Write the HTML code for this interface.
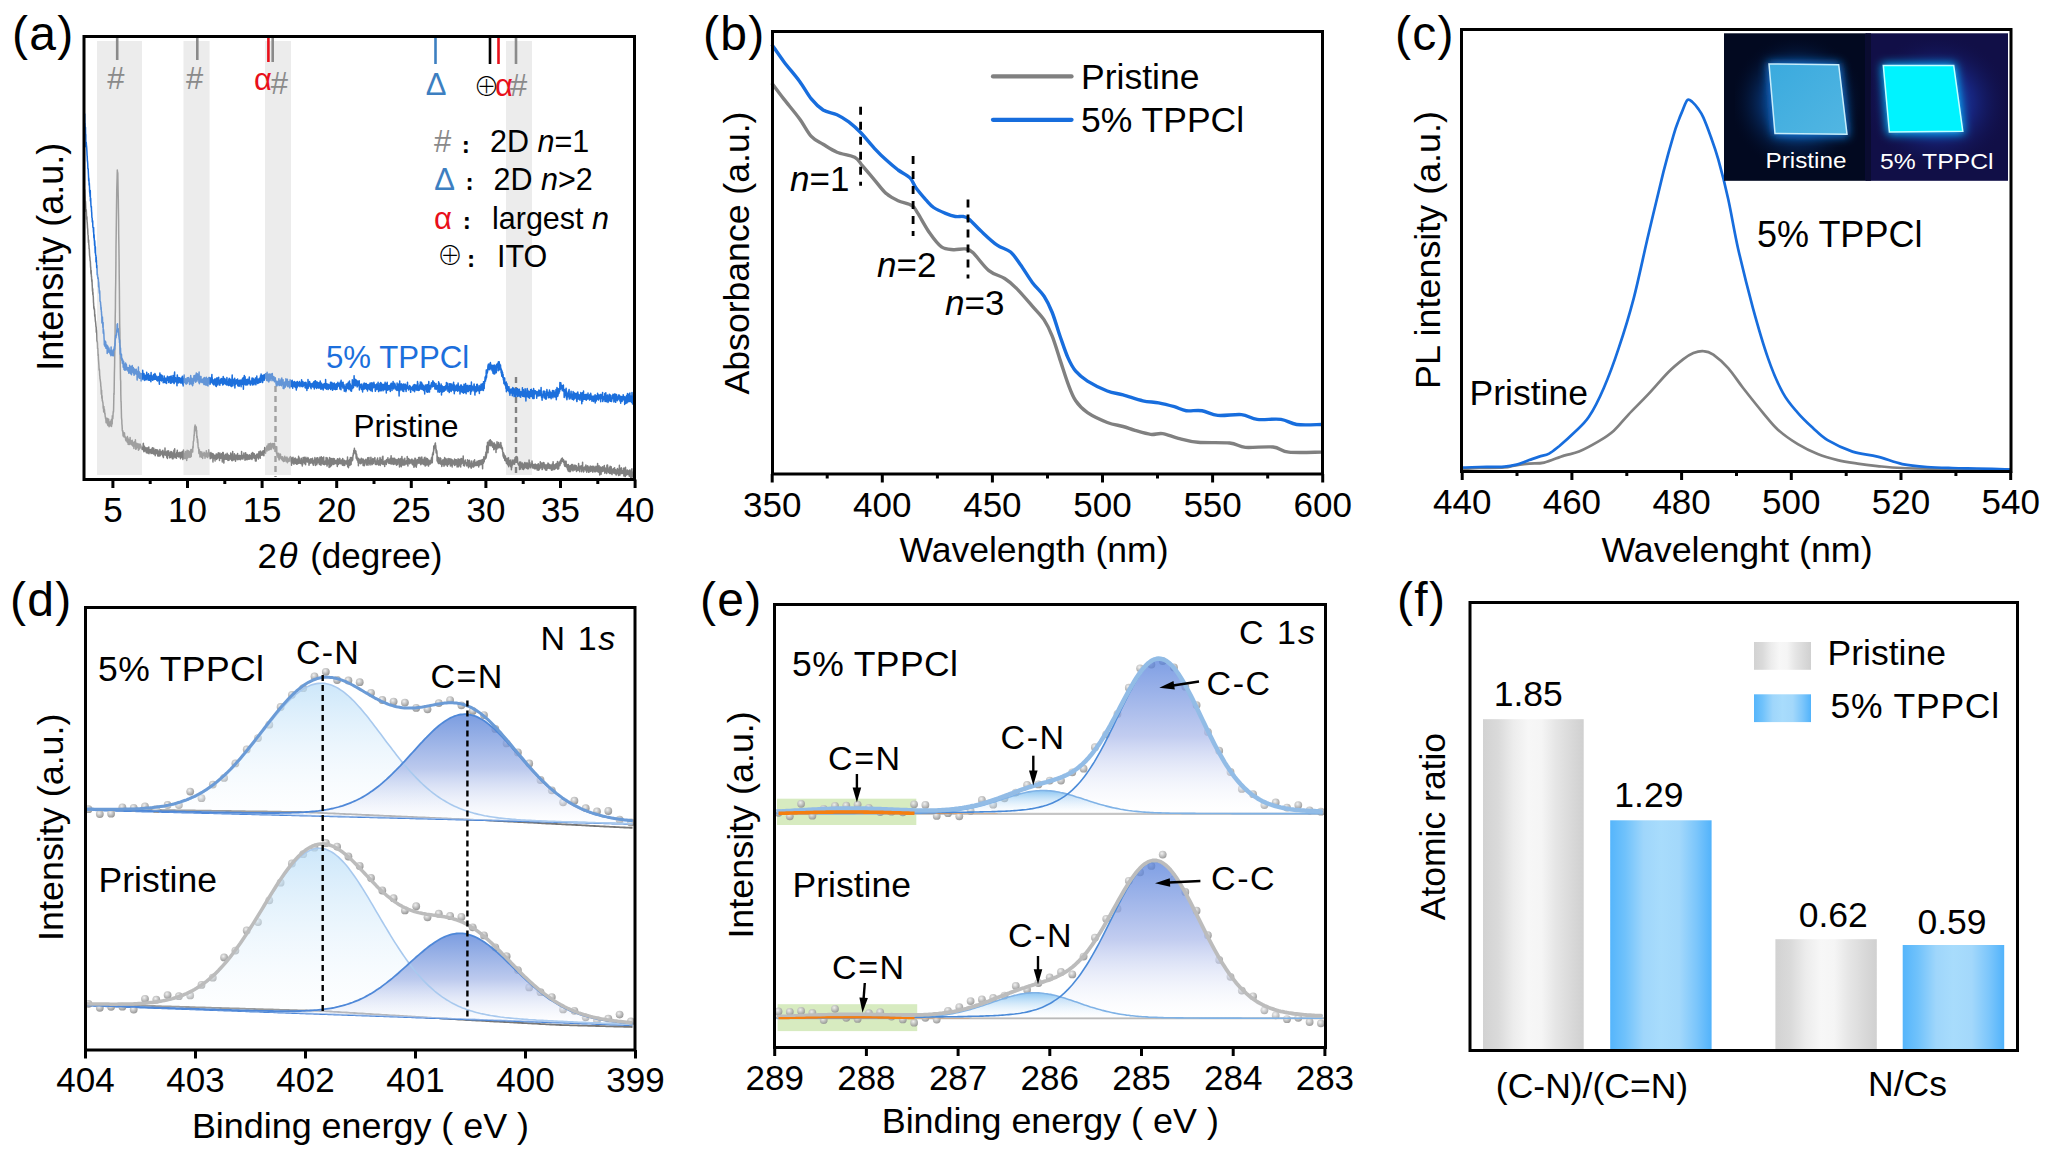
<!DOCTYPE html>
<html><head><meta charset="utf-8"><title>Figure</title>
<style>html,body{margin:0;padding:0;background:#fff;}svg{display:block;}text{font-family:'Liberation Sans', Arial, 'DejaVu Sans', sans-serif;}</style>
</head><body>
<svg width="2048" height="1166" viewBox="0 0 2048 1166">
<rect width="2048" height="1166" fill="#fff"/>
<rect x="506" y="41" width="26" height="434" fill="#d0d0d0" fill-opacity="0.4"/>
<line x1="516" y1="377" x2="516" y2="477" stroke="#808080" stroke-width="2.4" stroke-dasharray="6,4"/>
<path d="M84.5,189.4 L84.7,190.3 L84.8,194.3 L85.0,197.6 L85.1,201.0 L85.3,200.8 L85.5,201.4 L85.6,202.9 L85.8,207.9 L85.9,211.5 L86.1,210.7 L86.3,209.7 L86.4,212.1 L86.6,219.2 L86.7,218.5 L86.9,216.7 L87.1,222.1 L87.2,222.1 L87.4,225.2 L87.5,227.6 L87.7,229.2 L87.9,233.8 L88.0,234.7 L88.2,235.7 L88.3,239.8 L88.5,242.7 L88.7,239.9 L88.8,244.7 L89.0,245.4 L89.1,249.1 L89.3,248.9 L89.5,253.6 L89.6,255.6 L89.8,257.1 L89.9,257.5 L90.1,260.7 L90.3,261.1 L90.4,262.5 L90.6,267.5 L90.7,266.7 L90.9,273.1 L91.1,274.0 L91.2,270.4 L91.4,276.8 L91.5,275.9 L91.7,280.0 L91.9,281.9 L92.0,279.7 L92.2,285.1 L92.3,286.9 L92.5,291.1 L92.7,288.7 L92.8,294.4 L93.0,292.6 L93.1,295.8 L93.3,296.5 L93.5,302.8 L93.6,302.7 L93.8,308.1 L93.9,306.3 L94.1,308.4 L94.3,310.0 L94.4,308.8 L94.6,311.6 L94.7,316.2 L94.9,314.4 L95.1,317.2 L95.2,318.5 L95.4,321.5 L95.5,321.2 L95.7,323.3 L95.9,325.8 L96.0,327.2 L96.2,327.0 L96.3,332.3 L96.5,330.1 L96.7,332.5 L96.8,334.5 L97.0,341.2 L97.1,340.7 L97.3,341.7 L97.5,343.5 L97.6,348.8 L97.8,348.1 L97.9,349.8 L98.1,355.8 L98.3,354.3 L98.4,358.3 L98.6,361.1 L98.7,362.4 L98.9,365.3 L99.1,370.3 L99.2,368.8 L99.4,369.5 L99.5,370.5 L99.7,375.5 L99.9,376.7 L100.0,379.3 L100.2,379.3 L100.3,380.7 L100.5,381.7 L100.7,383.6 L100.8,386.4 L101.0,386.7 L101.1,389.2 L101.3,394.2 L101.5,392.8 L101.6,390.2 L101.8,398.2 L101.9,396.9 L102.1,395.8 L102.3,400.9 L102.4,400.6 L102.6,400.8 L102.7,402.2 L102.9,402.5 L103.1,405.3 L103.2,408.1 L103.4,406.1 L103.5,408.3 L103.7,412.0 L103.9,406.5 L104.0,410.2 L104.2,409.9 L104.3,409.1 L104.5,409.9 L104.7,412.7 L104.8,414.3 L105.0,413.2 L105.1,415.1 L105.3,417.2 L105.5,417.1 L105.6,419.0 L105.8,418.9 L105.9,419.7 L106.1,422.8 L106.3,420.6 L106.4,419.9 L106.6,421.2 L106.7,418.2 L106.9,419.6 L107.1,422.1 L107.2,422.0 L107.4,424.1 L107.5,421.2 L107.7,418.5 L107.9,425.6 L108.0,424.1 L108.2,420.0 L108.3,425.1 L108.5,422.6 L108.7,419.2 L108.8,422.2 L109.0,422.2 L109.1,426.7 L109.3,422.1 L109.5,423.4 L109.6,423.4 L109.8,423.1 L109.9,422.0 L110.1,424.2 L110.3,425.8 L110.4,424.8 L110.6,421.6 L110.7,421.1 L110.9,423.5 L111.1,421.8 L111.2,421.8 L111.4,419.5 L111.5,426.5 L111.7,424.2 L111.9,420.1 L112.0,423.4 L112.2,423.8 L112.3,415.8 L112.5,418.7 L112.7,418.0 L112.8,418.8 L113.0,415.6 L113.1,413.4 L113.3,411.2 L113.5,412.0 L113.6,408.9 L113.8,399.2 L113.9,393.2 L114.1,394.4 L114.3,380.2 L114.4,373.1 L114.6,365.4 L114.7,356.4 L114.9,346.5 L115.1,333.5 L115.2,318.3 L115.4,307.8 L115.5,293.3 L115.7,282.3 L115.9,264.1 L116.0,247.1 L116.2,233.7 L116.3,225.4 L116.5,209.1 L116.7,194.9 L116.8,188.3 L117.0,181.7 L117.1,178.2 L117.3,170.0 L117.5,171.9 L117.6,172.8 L117.8,172.8 L117.9,179.0 L118.1,190.2 L118.3,199.2 L118.4,208.2 L118.6,219.4 L118.7,234.2 L118.9,245.8 L119.1,260.5 L119.2,273.8 L119.4,290.3 L119.5,304.7 L119.7,324.4 L119.9,331.9 L120.0,347.4 L120.2,359.2 L120.3,366.9 L120.5,379.3 L120.7,381.4 L120.8,393.6 L121.0,401.9 L121.1,401.3 L121.3,408.8 L121.5,417.6 L121.6,418.6 L121.8,420.0 L121.9,424.0 L122.1,425.7 L122.3,429.9 L122.4,430.8 L122.6,430.5 L122.7,430.6 L122.9,432.6 L123.1,436.0 L123.2,434.6 L123.4,435.6 L123.5,434.4 L123.7,432.5 L123.9,433.9 L124.0,436.9 L124.2,436.1 L124.3,434.3 L124.5,433.1 L124.7,436.8 L124.8,436.1 L125.0,436.3 L125.1,436.5 L125.3,437.9 L125.5,438.2 L125.6,439.7 L125.8,439.8 L125.9,440.8 L126.1,440.0 L126.3,437.9 L126.4,438.7 L126.6,440.0 L126.7,438.6 L126.9,440.5 L127.1,441.9 L127.2,438.2 L127.4,436.4 L127.5,442.6 L127.7,440.4 L127.9,442.0 L128.0,438.1 L128.2,444.4 L128.3,442.7 L128.5,441.1 L128.7,440.8 L128.8,441.8 L129.0,441.4 L129.1,441.2 L129.3,439.6 L129.5,444.5 L129.6,441.9 L129.8,442.3 L129.9,442.4 L130.1,437.6 L130.3,443.4 L130.4,441.8 L130.6,441.9 L130.7,442.7 L130.9,440.7 L131.1,444.5 L131.2,441.5 L131.4,441.1 L131.5,441.3 L131.7,443.4 L131.9,444.7 L132.0,442.1 L132.2,440.3 L132.3,445.5 L132.5,441.4 L132.7,446.0 L132.8,443.6 L133.0,442.4 L133.1,442.6 L133.3,444.8 L133.5,445.8 L133.6,443.7 L133.8,446.1 L133.9,448.4 L134.1,443.9 L134.3,442.1 L134.4,442.4 L134.6,441.8 L134.7,443.4 L134.9,443.3 L135.1,442.2 L135.2,446.0 L135.4,439.8 L135.5,442.4 L135.7,449.2 L135.9,447.3 L136.0,446.4 L136.2,446.3 L136.3,449.0 L136.5,446.6 L136.7,445.8 L136.8,443.3 L137.0,445.7 L137.1,444.4 L137.3,444.6 L137.5,444.6 L137.6,446.1 L137.8,445.6 L137.9,448.0 L138.1,443.7 L138.3,446.1 L138.4,450.3 L138.6,446.7 L138.7,449.1 L138.9,449.1 L139.1,449.5 L139.2,448.4 L139.4,444.3 L139.5,446.6 L139.7,446.5 L139.9,444.2 L140.0,446.4 L140.2,445.0 L140.3,444.2 L140.5,448.0 L140.7,447.6 L140.8,446.4 L141.0,446.0 L141.1,446.9 L141.3,447.2 L141.5,447.3 L141.6,448.1 L141.8,447.4 L141.9,449.1 L142.1,449.5 L142.3,449.2 L142.4,447.3 L142.6,447.4 L142.7,449.6 L142.9,448.3 L143.1,448.7 L143.2,443.8 L143.4,443.4 L143.5,449.5 L143.7,449.6 L143.9,451.7 L144.0,450.4 L144.2,449.5 L144.3,449.1 L144.5,446.2 L144.7,450.9 L144.8,448.0 L145.0,450.2 L145.1,449.6 L145.3,449.8 L145.5,451.1 L145.6,448.4 L145.8,448.6 L145.9,447.7 L146.1,448.7 L146.3,452.8 L146.4,448.8 L146.6,452.0 L146.7,451.3 L146.9,451.1 L147.1,451.3 L147.2,447.7 L147.4,450.5 L147.5,453.0 L147.7,448.5 L147.9,449.8 L148.0,448.6 L148.2,450.6 L148.3,447.9 L148.5,453.3 L148.7,449.3 L148.8,447.0 L149.0,453.7 L149.1,452.1 L149.3,451.3 L149.5,451.3 L149.6,449.6 L149.8,449.9 L149.9,451.8 L150.1,452.3 L150.3,452.3 L150.4,450.9 L150.6,449.6 L150.7,450.2 L150.9,452.8 L151.1,453.5 L151.2,450.0 L151.4,449.8 L151.5,453.3 L151.7,452.3 L151.9,452.2 L152.0,448.3 L152.2,450.2 L152.3,449.9 L152.5,451.4 L152.7,447.7 L152.8,453.6 L153.0,451.7 L153.1,452.0 L153.3,448.8 L153.5,451.2 L153.6,453.9 L153.8,448.2 L153.9,451.9 L154.1,452.8 L154.3,450.0 L154.4,453.1 L154.6,450.8 L154.7,454.0 L154.9,452.6 L155.1,452.1 L155.2,455.7 L155.4,453.3 L155.5,454.3 L155.7,449.4 L155.9,450.5 L156.0,453.5 L156.2,453.7 L156.3,451.8 L156.5,453.5 L156.7,449.9 L156.8,452.4 L157.0,449.8 L157.1,452.8 L157.3,451.2 L157.5,450.9 L157.6,452.3 L157.8,455.9 L157.9,450.3 L158.1,451.1 L158.3,454.5 L158.4,451.6 L158.6,456.0 L158.7,452.9 L158.9,452.7 L159.1,453.3 L159.2,456.1 L159.4,453.9 L159.5,453.7 L159.7,453.2 L159.9,449.6 L160.0,451.0 L160.2,455.8 L160.3,454.5 L160.5,453.9 L160.7,454.2 L160.8,451.9 L161.0,453.7 L161.1,451.2 L161.3,453.9 L161.5,451.7 L161.6,452.7 L161.8,454.1 L161.9,452.6 L162.1,454.6 L162.3,454.2 L162.4,454.1 L162.6,456.0 L162.7,450.5 L162.9,450.3 L163.1,454.7 L163.2,455.4 L163.4,457.6 L163.5,455.1 L163.7,455.3 L163.9,451.9 L164.0,455.2 L164.2,455.1 L164.3,451.7 L164.5,452.0 L164.7,453.7 L164.8,454.5 L165.0,448.1 L165.1,454.1 L165.3,454.5 L165.5,453.7 L165.6,454.6 L165.8,455.1 L165.9,452.2 L166.1,455.1 L166.3,453.8 L166.4,452.4 L166.6,454.8 L166.7,457.3 L166.9,451.5 L167.1,451.1 L167.2,451.2 L167.4,458.5 L167.5,454.1 L167.7,454.5 L167.9,453.1 L168.0,452.8 L168.2,450.7 L168.3,455.1 L168.5,455.3 L168.7,450.9 L168.8,452.8 L169.0,453.4 L169.1,454.9 L169.3,455.5 L169.5,457.3 L169.6,457.8 L169.8,457.2 L169.9,457.8 L170.1,452.8 L170.3,454.1 L170.4,457.5 L170.6,455.9 L170.7,455.4 L170.9,451.4 L171.1,451.7 L171.2,456.9 L171.4,456.2 L171.5,454.9 L171.7,454.7 L171.9,452.0 L172.0,456.2 L172.2,457.5 L172.3,458.7 L172.5,455.5 L172.7,455.0 L172.8,453.2 L173.0,457.8 L173.1,458.8 L173.3,454.1 L173.5,455.9 L173.6,455.5 L173.8,454.2 L173.9,450.3 L174.1,454.5 L174.3,456.5 L174.4,452.4 L174.6,453.6 L174.7,448.7 L174.9,457.8 L175.1,456.2 L175.2,455.3 L175.4,454.6 L175.5,453.9 L175.7,455.0 L175.9,454.5 L176.0,454.6 L176.2,455.0 L176.3,455.3 L176.5,458.2 L176.7,452.2 L176.8,455.6 L177.0,453.8 L177.1,452.7 L177.3,450.3 L177.5,456.2 L177.6,453.0 L177.8,453.4 L177.9,455.9 L178.1,452.7 L178.3,454.9 L178.4,454.7 L178.6,456.5 L178.7,456.9 L178.9,453.1 L179.1,456.7 L179.2,454.6 L179.4,455.0 L179.5,454.4 L179.7,456.3 L179.9,452.3 L180.0,455.3 L180.2,457.1 L180.3,454.1 L180.5,458.8 L180.7,453.2 L180.8,455.1 L181.0,453.7 L181.1,453.4 L181.3,452.4 L181.5,453.5 L181.6,454.5 L181.8,453.0 L181.9,456.3 L182.1,457.6 L182.3,451.5 L182.4,456.2 L182.6,454.9 L182.7,455.0 L182.9,459.4 L183.1,456.9 L183.2,455.1 L183.4,454.8 L183.5,450.1 L183.7,456.0 L183.9,452.9 L184.0,454.8 L184.2,454.6 L184.3,456.3 L184.5,458.4 L184.7,456.3 L184.8,456.9 L185.0,453.9 L185.1,455.2 L185.3,455.8 L185.5,451.4 L185.6,458.4 L185.8,452.8 L185.9,451.7 L186.1,457.5 L186.3,458.4 L186.4,452.8 L186.6,453.0 L186.7,460.4 L186.9,454.4 L187.1,450.2 L187.2,452.9 L187.4,458.1 L187.5,455.4 L187.7,455.6 L187.9,456.5 L188.0,455.4 L188.2,453.4 L188.3,450.8 L188.5,454.9 L188.7,451.8 L188.8,453.9 L189.0,457.5 L189.1,455.1 L189.3,454.1 L189.5,454.1 L189.6,455.4 L189.8,455.8 L189.9,451.3 L190.1,454.3 L190.3,457.3 L190.4,455.4 L190.6,452.3 L190.7,452.4 L190.9,449.5 L191.1,451.9 L191.2,456.6 L191.4,453.0 L191.5,451.2 L191.7,451.5 L191.9,452.0 L192.0,451.6 L192.2,450.5 L192.3,449.1 L192.5,451.1 L192.7,452.1 L192.8,446.9 L193.0,445.9 L193.1,448.1 L193.3,441.5 L193.5,441.8 L193.6,440.7 L193.8,440.2 L193.9,437.7 L194.1,434.8 L194.3,435.6 L194.4,431.1 L194.6,428.5 L194.7,426.6 L194.9,431.0 L195.1,425.0 L195.2,428.6 L195.4,428.6 L195.5,428.6 L195.7,426.7 L195.9,426.3 L196.0,428.1 L196.2,427.5 L196.3,427.2 L196.5,433.5 L196.7,430.5 L196.8,437.4 L197.0,436.4 L197.1,436.1 L197.3,439.5 L197.5,442.7 L197.6,439.1 L197.8,441.5 L197.9,442.6 L198.1,446.4 L198.3,448.0 L198.4,448.3 L198.6,447.8 L198.7,449.0 L198.9,453.2 L199.1,453.6 L199.2,452.2 L199.4,449.7 L199.5,454.0 L199.7,453.6 L199.9,453.7 L200.0,456.9 L200.2,455.2 L200.3,451.7 L200.5,451.8 L200.7,456.6 L200.8,454.3 L201.0,455.7 L201.1,453.8 L201.3,452.1 L201.5,454.7 L201.6,457.3 L201.8,454.9 L201.9,452.0 L202.1,453.7 L202.3,453.4 L202.4,454.7 L202.6,456.5 L202.7,458.4 L202.9,454.9 L203.1,453.7 L203.2,454.7 L203.4,454.6 L203.5,453.7 L203.7,454.7 L203.9,454.6 L204.0,452.3 L204.2,455.8 L204.3,454.0 L204.5,452.8 L204.7,455.7 L204.8,453.8 L205.0,458.3 L205.1,455.8 L205.3,455.0 L205.5,453.4 L205.6,454.1 L205.8,456.6 L205.9,453.5 L206.1,456.5 L206.3,450.8 L206.4,455.4 L206.6,456.6 L206.7,455.7 L206.9,455.0 L207.1,457.1 L207.2,453.4 L207.4,453.1 L207.5,455.3 L207.7,457.6 L207.9,456.0 L208.0,454.8 L208.2,455.8 L208.3,456.1 L208.5,452.8 L208.7,449.7 L208.8,453.3 L209.0,452.3 L209.1,454.2 L209.3,453.0 L209.5,453.7 L209.6,456.3 L209.8,455.6 L209.9,455.4 L210.1,458.8 L210.3,454.6 L210.4,454.8 L210.6,458.1 L210.7,453.4 L210.9,452.4 L211.1,458.3 L211.2,456.4 L211.4,456.9 L211.5,457.0 L211.7,457.6 L211.9,454.9 L212.0,455.7 L212.2,453.6 L212.3,456.2 L212.5,456.4 L212.7,455.0 L212.8,457.3 L213.0,461.9 L213.1,453.7 L213.3,457.7 L213.5,458.0 L213.6,458.2 L213.8,454.5 L213.9,458.5 L214.1,457.5 L214.3,456.0 L214.4,455.5 L214.6,456.8 L214.7,458.2 L214.9,458.1 L215.1,460.9 L215.2,455.7 L215.4,457.6 L215.5,455.6 L215.7,458.0 L215.9,456.7 L216.0,455.3 L216.2,453.9 L216.3,455.0 L216.5,457.1 L216.7,459.5 L216.8,458.2 L217.0,454.3 L217.1,455.7 L217.3,456.8 L217.5,456.4 L217.6,456.8 L217.8,458.2 L217.9,457.1 L218.1,455.3 L218.3,452.8 L218.4,456.0 L218.6,453.3 L218.7,456.4 L218.9,457.3 L219.1,454.0 L219.2,456.4 L219.4,456.0 L219.5,460.5 L219.7,457.6 L219.9,452.9 L220.0,457.6 L220.2,457.6 L220.3,456.3 L220.5,456.0 L220.7,458.0 L220.8,458.1 L221.0,457.7 L221.1,454.8 L221.3,456.3 L221.5,453.7 L221.6,453.9 L221.8,455.8 L221.9,454.8 L222.1,456.1 L222.3,461.9 L222.4,457.9 L222.6,455.2 L222.7,452.6 L222.9,455.3 L223.1,454.1 L223.2,452.6 L223.4,458.4 L223.5,456.0 L223.7,457.8 L223.9,463.1 L224.0,457.5 L224.2,457.2 L224.3,457.6 L224.5,456.4 L224.7,455.3 L224.8,456.5 L225.0,459.2 L225.1,456.4 L225.3,454.2 L225.5,454.4 L225.6,454.8 L225.8,456.9 L225.9,457.9 L226.1,457.9 L226.3,459.3 L226.4,456.5 L226.6,458.6 L226.7,457.6 L226.9,458.3 L227.1,453.3 L227.2,459.4 L227.4,453.9 L227.5,454.7 L227.7,458.5 L227.9,456.2 L228.0,460.5 L228.2,457.3 L228.3,454.9 L228.5,457.3 L228.7,456.2 L228.8,460.1 L229.0,460.3 L229.1,458.5 L229.3,456.2 L229.5,457.2 L229.6,459.1 L229.8,455.4 L229.9,455.4 L230.1,458.7 L230.3,458.5 L230.4,456.5 L230.6,456.4 L230.7,453.1 L230.9,459.3 L231.1,456.7 L231.2,454.1 L231.4,454.7 L231.5,455.2 L231.7,460.4 L231.9,458.3 L232.0,454.3 L232.2,460.7 L232.3,459.6 L232.5,454.8 L232.7,451.6 L232.8,458.9 L233.0,455.7 L233.1,456.7 L233.3,455.9 L233.5,459.4 L233.6,459.9 L233.8,458.5 L233.9,456.6 L234.1,457.4 L234.3,458.1 L234.4,453.8 L234.6,459.4 L234.7,456.3 L234.9,457.4 L235.1,457.2 L235.2,458.7 L235.4,459.0 L235.5,461.3 L235.7,456.2 L235.9,455.1 L236.0,457.1 L236.2,455.6 L236.3,458.6 L236.5,455.3 L236.7,457.1 L236.8,458.8 L237.0,458.9 L237.1,457.3 L237.3,459.7 L237.5,459.4 L237.6,453.5 L237.8,457.6 L237.9,457.2 L238.1,456.3 L238.3,455.6 L238.4,456.9 L238.6,457.6 L238.7,457.4 L238.9,459.6 L239.1,458.8 L239.2,455.7 L239.4,455.3 L239.5,458.5 L239.7,455.4 L239.9,457.2 L240.0,457.8 L240.2,458.9 L240.3,457.9 L240.5,459.7 L240.7,455.9 L240.8,458.2 L241.0,455.5 L241.1,457.2 L241.3,457.0 L241.5,454.9 L241.6,451.6 L241.8,458.7 L241.9,457.5 L242.1,457.1 L242.3,455.4 L242.4,456.1 L242.6,457.7 L242.7,456.8 L242.9,459.1 L243.1,457.0 L243.2,455.1 L243.4,458.0 L243.5,455.5 L243.7,457.2 L243.9,453.1 L244.0,456.0 L244.2,457.8 L244.3,455.4 L244.5,456.6 L244.7,457.9 L244.8,456.8 L245.0,460.3 L245.1,456.2 L245.3,456.3 L245.5,456.3 L245.6,452.7 L245.8,453.6 L245.9,457.7 L246.1,456.0 L246.3,459.4 L246.4,456.5 L246.6,456.3 L246.7,458.7 L246.9,457.2 L247.1,459.8 L247.2,454.5 L247.4,457.5 L247.5,458.0 L247.7,457.7 L247.9,458.9 L248.0,458.7 L248.2,456.7 L248.3,455.5 L248.5,458.6 L248.7,456.7 L248.8,458.5 L249.0,459.3 L249.1,457.0 L249.3,454.8 L249.5,456.1 L249.6,458.2 L249.8,456.2 L249.9,459.0 L250.1,456.7 L250.3,456.9 L250.4,455.4 L250.6,456.5 L250.7,458.8 L250.9,456.0 L251.1,456.0 L251.2,455.1 L251.4,458.2 L251.5,453.6 L251.7,455.3 L251.9,458.4 L252.0,459.4 L252.2,456.1 L252.3,458.5 L252.5,452.6 L252.7,458.0 L252.8,457.1 L253.0,454.1 L253.1,452.9 L253.3,455.5 L253.5,457.0 L253.6,457.2 L253.8,456.7 L253.9,458.0 L254.1,457.8 L254.3,453.7 L254.4,455.6 L254.6,455.4 L254.7,458.4 L254.9,455.4 L255.1,458.4 L255.2,456.5 L255.4,461.0 L255.5,456.2 L255.7,456.3 L255.9,456.0 L256.0,456.5 L256.2,461.1 L256.3,455.2 L256.5,454.4 L256.7,455.7 L256.8,457.4 L257.0,454.1 L257.1,457.6 L257.3,457.5 L257.5,455.6 L257.6,455.4 L257.8,454.3 L257.9,455.3 L258.1,454.2 L258.3,458.3 L258.4,459.0 L258.6,455.1 L258.7,455.6 L258.9,451.8 L259.1,454.5 L259.2,456.1 L259.4,455.9 L259.5,455.6 L259.7,457.0 L259.9,455.4 L260.0,454.3 L260.2,458.2 L260.3,451.1 L260.5,452.5 L260.7,453.3 L260.8,453.2 L261.0,453.0 L261.1,453.9 L261.3,452.8 L261.5,454.0 L261.6,455.2 L261.8,453.9 L261.9,454.0 L262.1,451.7 L262.3,451.2 L262.4,452.7 L262.6,455.0 L262.7,453.7 L262.9,455.0 L263.1,454.6 L263.2,454.7 L263.4,450.7 L263.5,454.6 L263.7,453.4 L263.9,455.8 L264.0,452.7 L264.2,452.0 L264.3,450.9 L264.5,451.3 L264.7,447.5 L264.8,450.0 L265.0,450.3 L265.1,452.1 L265.3,448.6 L265.5,450.0 L265.6,453.2 L265.8,448.3 L265.9,450.8 L266.1,447.9 L266.3,448.6 L266.4,449.5 L266.6,450.2 L266.7,447.3 L266.9,446.0 L267.1,450.9 L267.2,448.1 L267.4,449.2 L267.5,449.3 L267.7,448.8 L267.9,446.7 L268.0,446.8 L268.2,443.9 L268.3,447.2 L268.5,445.8 L268.7,446.6 L268.8,450.3 L269.0,447.9 L269.1,446.6 L269.3,443.8 L269.5,447.9 L269.6,449.4 L269.8,444.8 L269.9,447.3 L270.1,445.4 L270.3,446.1 L270.4,445.8 L270.6,443.3 L270.7,445.5 L270.9,443.4 L271.1,449.4 L271.2,448.7 L271.4,446.8 L271.5,447.3 L271.7,446.8 L271.9,447.1 L272.0,447.0 L272.2,446.1 L272.3,446.1 L272.5,443.6 L272.7,444.0 L272.8,444.6 L273.0,445.9 L273.1,444.5 L273.3,448.7 L273.5,444.3 L273.6,443.7 L273.8,445.1 L273.9,446.1 L274.1,447.7 L274.3,446.1 L274.4,443.2 L274.6,444.3 L274.7,447.1 L274.9,446.1 L275.1,447.7 L275.2,446.6 L275.4,450.6 L275.5,451.0 L275.7,451.1 L275.9,449.9 L276.0,447.1 L276.2,448.2 L276.3,452.1 L276.5,453.3 L276.7,446.8 L276.8,452.0 L277.0,455.6 L277.1,455.5 L277.3,453.0 L277.5,455.5 L277.6,454.6 L277.8,454.4 L277.9,457.2 L278.1,457.5 L278.3,454.4 L278.4,453.8 L278.6,453.2 L278.7,453.2 L278.9,458.7 L279.1,460.0 L279.2,456.9 L279.4,458.7 L279.5,455.4 L279.7,456.7 L279.9,458.8 L280.0,457.8 L280.2,457.2 L280.3,454.1 L280.5,454.6 L280.7,456.8 L280.8,456.6 L281.0,457.7 L281.1,456.6 L281.3,457.6 L281.5,458.2 L281.6,459.2 L281.8,458.4 L281.9,457.3 L282.1,457.9 L282.3,460.2 L282.4,458.1 L282.6,456.7 L282.7,456.7 L282.9,459.3 L283.1,459.9 L283.2,461.2 L283.4,458.3 L283.5,461.6 L283.7,458.3 L283.9,458.6 L284.0,458.0 L284.2,460.2 L284.3,461.2 L284.5,459.2 L284.7,458.3 L284.8,456.3 L285.0,459.6 L285.1,458.7 L285.3,459.0 L285.5,458.2 L285.6,457.8 L285.8,458.7 L285.9,460.4 L286.1,461.5 L286.3,459.6 L286.4,460.3 L286.6,459.3 L286.7,459.5 L286.9,457.1 L287.1,461.5 L287.2,461.0 L287.4,462.7 L287.5,458.7 L287.7,460.2 L287.9,458.2 L288.0,460.5 L288.2,459.8 L288.3,461.4 L288.5,459.8 L288.7,461.4 L288.8,459.2 L289.0,461.3 L289.1,459.6 L289.3,459.4 L289.5,460.4 L289.6,461.0 L289.8,457.6 L289.9,457.4 L290.1,460.7 L290.3,460.3 L290.4,456.5 L290.6,457.2 L290.7,459.0 L290.9,461.1 L291.1,460.9 L291.2,462.5 L291.4,462.9 L291.5,465.2 L291.7,457.9 L291.9,460.6 L292.0,462.7 L292.2,458.2 L292.3,457.9 L292.5,461.1 L292.7,462.8 L292.8,463.1 L293.0,457.3 L293.1,458.4 L293.3,460.5 L293.5,459.7 L293.6,461.4 L293.8,461.0 L293.9,464.2 L294.1,460.6 L294.3,461.1 L294.4,460.9 L294.6,462.9 L294.7,458.6 L294.9,461.5 L295.1,459.3 L295.2,458.0 L295.4,463.1 L295.5,461.8 L295.7,463.5 L295.9,461.3 L296.0,462.1 L296.2,461.1 L296.3,462.0 L296.5,460.1 L296.7,464.2 L296.8,459.1 L297.0,464.2 L297.1,460.5 L297.3,462.6 L297.5,461.2 L297.6,461.8 L297.8,463.8 L297.9,461.2 L298.1,459.1 L298.3,461.4 L298.4,462.2 L298.6,456.2 L298.7,462.9 L298.9,463.1 L299.1,457.5 L299.2,460.7 L299.4,462.6 L299.5,458.7 L299.7,460.2 L299.9,460.3 L300.0,462.1 L300.2,463.2 L300.3,461.0 L300.5,461.1 L300.7,462.8 L300.8,462.1 L301.0,460.8 L301.1,463.7 L301.3,458.3 L301.5,461.4 L301.6,460.2 L301.8,460.1 L301.9,461.5 L302.1,461.2 L302.3,465.9 L302.4,462.4 L302.6,461.8 L302.7,464.3 L302.9,463.1 L303.1,457.4 L303.2,461.4 L303.4,462.6 L303.5,459.9 L303.7,461.7 L303.9,460.2 L304.0,461.9 L304.2,457.9 L304.3,457.3 L304.5,460.1 L304.7,461.6 L304.8,463.8 L305.0,460.6 L305.1,459.7 L305.3,463.0 L305.5,461.2 L305.6,464.7 L305.8,461.0 L305.9,457.3 L306.1,459.6 L306.3,459.3 L306.4,458.4 L306.6,459.7 L306.7,459.8 L306.9,460.6 L307.1,460.1 L307.2,462.0 L307.4,462.0 L307.5,461.6 L307.7,461.6 L307.9,457.5 L308.0,457.9 L308.2,459.5 L308.3,461.7 L308.5,458.4 L308.7,460.4 L308.8,461.7 L309.0,465.2 L309.1,461.8 L309.3,460.2 L309.5,463.4 L309.6,461.7 L309.8,460.7 L309.9,463.5 L310.1,459.5 L310.3,461.7 L310.4,461.5 L310.6,463.1 L310.7,459.0 L310.9,458.7 L311.1,460.5 L311.2,460.8 L311.4,461.4 L311.5,460.6 L311.7,462.2 L311.9,462.7 L312.0,461.8 L312.2,459.2 L312.3,463.6 L312.5,458.3 L312.7,460.9 L312.8,463.1 L313.0,460.1 L313.1,463.9 L313.3,465.2 L313.5,464.5 L313.6,462.2 L313.8,463.3 L313.9,460.4 L314.1,462.2 L314.3,462.3 L314.4,461.6 L314.6,461.7 L314.7,461.0 L314.9,457.5 L315.1,462.2 L315.2,462.0 L315.4,465.5 L315.5,462.8 L315.7,461.6 L315.9,463.2 L316.0,462.7 L316.2,461.4 L316.3,460.7 L316.5,458.5 L316.7,461.7 L316.8,464.7 L317.0,457.8 L317.1,459.6 L317.3,463.0 L317.5,461.9 L317.6,462.3 L317.8,457.8 L317.9,460.3 L318.1,462.5 L318.3,462.7 L318.4,462.1 L318.6,459.8 L318.7,462.6 L318.9,459.2 L319.1,459.7 L319.2,459.2 L319.4,464.4 L319.5,460.8 L319.7,461.7 L319.9,457.2 L320.0,463.8 L320.2,462.5 L320.3,458.3 L320.5,458.4 L320.7,464.9 L320.8,459.7 L321.0,465.3 L321.1,460.7 L321.3,456.7 L321.5,463.8 L321.6,462.6 L321.8,463.0 L321.9,460.6 L322.1,461.2 L322.3,463.6 L322.4,460.0 L322.6,457.7 L322.7,463.5 L322.9,460.4 L323.1,464.2 L323.2,460.7 L323.4,460.8 L323.5,461.2 L323.7,457.0 L323.9,464.1 L324.0,460.5 L324.2,461.3 L324.3,464.7 L324.5,462.0 L324.7,463.5 L324.8,462.4 L325.0,463.3 L325.1,462.3 L325.3,464.1 L325.5,461.4 L325.6,462.7 L325.8,460.4 L325.9,464.2 L326.1,457.4 L326.3,462.2 L326.4,462.5 L326.6,462.5 L326.7,461.8 L326.9,464.5 L327.1,466.1 L327.2,460.6 L327.4,458.0 L327.5,459.7 L327.7,460.2 L327.9,461.6 L328.0,461.8 L328.2,464.0 L328.3,461.0 L328.5,461.8 L328.7,462.1 L328.8,460.1 L329.0,461.3 L329.1,467.4 L329.3,461.7 L329.5,460.0 L329.6,457.6 L329.8,464.0 L329.9,461.3 L330.1,460.7 L330.3,466.8 L330.4,464.8 L330.6,458.5 L330.7,461.3 L330.9,464.0 L331.1,463.6 L331.2,459.7 L331.4,465.5 L331.5,465.7 L331.7,459.8 L331.9,458.5 L332.0,459.2 L332.2,463.3 L332.3,464.2 L332.5,462.4 L332.7,460.8 L332.8,461.8 L333.0,463.2 L333.1,459.6 L333.3,458.6 L333.5,461.9 L333.6,464.5 L333.8,462.4 L333.9,462.4 L334.1,460.7 L334.3,463.9 L334.4,458.7 L334.6,461.9 L334.7,460.9 L334.9,461.8 L335.1,460.2 L335.2,463.6 L335.4,461.9 L335.5,460.9 L335.7,463.1 L335.9,462.0 L336.0,461.1 L336.2,460.9 L336.3,463.7 L336.5,460.2 L336.7,461.7 L336.8,461.6 L337.0,462.8 L337.1,461.8 L337.3,466.5 L337.5,458.7 L337.6,463.3 L337.8,462.1 L337.9,464.4 L338.1,458.9 L338.3,464.6 L338.4,459.4 L338.6,463.6 L338.7,463.2 L338.9,462.3 L339.1,460.7 L339.2,460.6 L339.4,462.4 L339.5,460.7 L339.7,458.3 L339.9,458.6 L340.0,463.8 L340.2,463.8 L340.3,463.2 L340.5,462.3 L340.7,462.9 L340.8,463.2 L341.0,462.7 L341.1,460.6 L341.3,460.7 L341.5,459.9 L341.6,462.5 L341.8,460.2 L341.9,461.8 L342.1,464.8 L342.3,461.4 L342.4,464.1 L342.6,465.2 L342.7,458.5 L342.9,459.2 L343.1,463.1 L343.2,460.7 L343.4,463.2 L343.5,463.5 L343.7,461.1 L343.9,463.7 L344.0,465.6 L344.2,464.0 L344.3,460.3 L344.5,461.8 L344.7,461.0 L344.8,465.2 L345.0,461.7 L345.1,460.7 L345.3,462.1 L345.5,463.1 L345.6,461.3 L345.8,462.3 L345.9,462.0 L346.1,463.5 L346.3,464.0 L346.4,462.6 L346.6,461.1 L346.7,462.8 L346.9,460.2 L347.1,464.2 L347.2,462.7 L347.4,462.5 L347.5,457.1 L347.7,466.7 L347.9,464.9 L348.0,464.5 L348.2,462.2 L348.3,463.3 L348.5,467.7 L348.7,460.6 L348.8,463.4 L349.0,463.1 L349.1,462.2 L349.3,462.6 L349.5,459.9 L349.6,463.2 L349.8,459.2 L349.9,465.5 L350.1,463.4 L350.3,460.0 L350.4,457.5 L350.6,461.8 L350.7,462.4 L350.9,459.3 L351.1,464.5 L351.2,461.4 L351.4,459.7 L351.5,457.6 L351.7,459.8 L351.9,459.3 L352.0,460.5 L352.2,460.8 L352.3,458.3 L352.5,458.6 L352.7,459.9 L352.8,457.6 L353.0,455.2 L353.1,456.3 L353.3,453.3 L353.5,454.6 L353.6,453.2 L353.8,450.3 L353.9,453.2 L354.1,451.8 L354.3,452.7 L354.4,448.3 L354.6,453.1 L354.7,453.1 L354.9,450.2 L355.1,450.9 L355.2,451.4 L355.4,451.7 L355.5,453.8 L355.7,451.3 L355.9,451.0 L356.0,453.4 L356.2,458.3 L356.3,454.4 L356.5,453.9 L356.7,454.7 L356.8,457.4 L357.0,460.0 L357.1,456.7 L357.3,459.1 L357.5,459.6 L357.6,460.5 L357.8,460.2 L357.9,462.3 L358.1,461.8 L358.3,459.4 L358.4,465.7 L358.6,458.3 L358.7,458.5 L358.9,463.3 L359.1,461.7 L359.2,460.8 L359.4,461.8 L359.5,462.8 L359.7,460.6 L359.9,460.2 L360.0,459.4 L360.2,459.7 L360.3,459.9 L360.5,463.7 L360.7,462.0 L360.8,462.5 L361.0,460.3 L361.1,463.5 L361.3,458.3 L361.5,462.4 L361.6,462.8 L361.8,460.2 L361.9,459.3 L362.1,462.4 L362.3,460.0 L362.4,459.6 L362.6,461.3 L362.7,459.1 L362.9,461.1 L363.1,465.4 L363.2,460.5 L363.4,463.2 L363.5,459.2 L363.7,461.5 L363.9,460.8 L364.0,461.0 L364.2,462.9 L364.3,465.7 L364.5,461.1 L364.7,464.0 L364.8,462.1 L365.0,462.8 L365.1,460.4 L365.3,460.0 L365.5,461.0 L365.6,459.8 L365.8,461.4 L365.9,459.3 L366.1,461.4 L366.3,461.7 L366.4,465.0 L366.6,464.8 L366.7,462.4 L366.9,460.4 L367.1,462.6 L367.2,463.0 L367.4,461.0 L367.5,459.7 L367.7,457.8 L367.9,461.3 L368.0,465.2 L368.2,461.0 L368.3,462.2 L368.5,462.1 L368.7,462.4 L368.8,463.0 L369.0,457.4 L369.1,461.1 L369.3,462.2 L369.5,461.2 L369.6,463.9 L369.8,460.7 L369.9,463.3 L370.1,465.0 L370.3,460.9 L370.4,461.5 L370.6,460.9 L370.7,463.0 L370.9,457.2 L371.1,458.5 L371.2,460.9 L371.4,463.2 L371.5,462.7 L371.7,459.8 L371.9,464.7 L372.0,461.7 L372.2,460.2 L372.3,462.6 L372.5,464.1 L372.7,461.4 L372.8,458.5 L373.0,460.4 L373.1,461.7 L373.3,463.4 L373.5,459.5 L373.6,462.0 L373.8,459.1 L373.9,461.7 L374.1,458.9 L374.3,460.6 L374.4,458.5 L374.6,459.6 L374.7,458.3 L374.9,457.6 L375.1,464.0 L375.2,463.9 L375.4,462.5 L375.5,460.8 L375.7,464.5 L375.9,461.0 L376.0,462.4 L376.2,463.8 L376.3,462.0 L376.5,464.5 L376.7,461.3 L376.8,461.3 L377.0,461.8 L377.1,459.3 L377.3,459.4 L377.5,463.1 L377.6,458.1 L377.8,463.9 L377.9,462.1 L378.1,464.0 L378.3,463.1 L378.4,462.8 L378.6,465.1 L378.7,461.5 L378.9,461.4 L379.1,463.9 L379.2,460.3 L379.4,463.9 L379.5,463.0 L379.7,460.6 L379.9,459.1 L380.0,457.6 L380.2,465.4 L380.3,458.6 L380.5,459.2 L380.7,463.4 L380.8,462.6 L381.0,462.1 L381.1,461.8 L381.3,460.8 L381.5,459.8 L381.6,460.1 L381.8,462.8 L381.9,463.8 L382.1,464.0 L382.3,461.6 L382.4,457.1 L382.6,462.6 L382.7,461.3 L382.9,456.2 L383.1,464.4 L383.2,462.1 L383.4,461.5 L383.5,462.0 L383.7,461.9 L383.9,462.1 L384.0,461.9 L384.2,461.7 L384.3,462.8 L384.5,462.4 L384.7,466.5 L384.8,462.0 L385.0,460.7 L385.1,460.5 L385.3,462.5 L385.5,461.9 L385.6,462.2 L385.8,461.3 L385.9,461.4 L386.1,463.2 L386.3,464.5 L386.4,462.4 L386.6,461.5 L386.7,459.4 L386.9,459.4 L387.1,461.8 L387.2,461.2 L387.4,461.5 L387.5,459.5 L387.7,461.5 L387.9,457.8 L388.0,459.3 L388.2,460.1 L388.3,462.9 L388.5,460.5 L388.7,459.8 L388.8,462.2 L389.0,461.5 L389.1,463.5 L389.3,462.3 L389.5,462.1 L389.6,461.3 L389.8,463.0 L389.9,460.2 L390.1,458.6 L390.3,463.5 L390.4,460.7 L390.6,461.7 L390.7,462.9 L390.9,463.7 L391.1,455.8 L391.2,459.5 L391.4,464.1 L391.5,458.2 L391.7,462.6 L391.9,460.9 L392.0,459.8 L392.2,461.4 L392.3,458.2 L392.5,462.5 L392.7,464.0 L392.8,458.8 L393.0,460.3 L393.1,464.0 L393.3,462.4 L393.5,461.0 L393.6,464.5 L393.8,458.3 L393.9,461.1 L394.1,461.8 L394.3,461.0 L394.4,463.3 L394.6,458.3 L394.7,461.7 L394.9,460.1 L395.1,464.1 L395.2,463.8 L395.4,460.2 L395.5,459.5 L395.7,461.6 L395.9,459.9 L396.0,460.5 L396.2,462.5 L396.3,460.7 L396.5,465.3 L396.7,461.8 L396.8,460.6 L397.0,459.4 L397.1,460.6 L397.3,463.9 L397.5,462.8 L397.6,464.5 L397.8,464.3 L397.9,462.8 L398.1,460.3 L398.3,461.4 L398.4,461.8 L398.6,458.4 L398.7,462.4 L398.9,459.6 L399.1,461.5 L399.2,460.7 L399.4,462.9 L399.5,467.0 L399.7,459.3 L399.9,461.7 L400.0,465.8 L400.2,459.9 L400.3,461.3 L400.5,461.5 L400.7,462.3 L400.8,458.5 L401.0,462.3 L401.1,462.9 L401.3,466.8 L401.5,461.6 L401.6,460.6 L401.8,462.0 L401.9,456.5 L402.1,462.4 L402.3,464.9 L402.4,461.7 L402.6,461.7 L402.7,461.3 L402.9,462.0 L403.1,459.3 L403.2,464.9 L403.4,460.9 L403.5,460.9 L403.7,465.1 L403.9,461.8 L404.0,460.9 L404.2,465.1 L404.3,462.2 L404.5,463.7 L404.7,460.7 L404.8,458.3 L405.0,462.2 L405.1,464.7 L405.3,460.9 L405.5,462.6 L405.6,463.3 L405.8,462.4 L405.9,462.0 L406.1,463.4 L406.3,462.3 L406.4,460.8 L406.6,464.0 L406.7,463.5 L406.9,462.6 L407.1,463.3 L407.2,456.6 L407.4,462.4 L407.5,462.0 L407.7,457.9 L407.9,466.1 L408.0,462.6 L408.2,461.0 L408.3,461.1 L408.5,462.4 L408.7,461.9 L408.8,458.7 L409.0,461.1 L409.1,462.8 L409.3,463.2 L409.5,463.7 L409.6,459.8 L409.8,460.7 L409.9,462.7 L410.1,460.7 L410.3,462.4 L410.4,460.3 L410.6,463.1 L410.7,462.1 L410.9,463.1 L411.1,462.0 L411.2,460.4 L411.4,459.5 L411.5,462.1 L411.7,460.8 L411.9,459.0 L412.0,460.9 L412.2,463.6 L412.3,464.5 L412.5,463.5 L412.7,464.8 L412.8,461.3 L413.0,461.7 L413.1,460.1 L413.3,460.5 L413.5,465.3 L413.6,462.9 L413.8,463.4 L413.9,467.3 L414.1,465.9 L414.3,460.3 L414.4,464.0 L414.6,460.6 L414.7,464.1 L414.9,458.3 L415.1,460.2 L415.2,460.2 L415.4,466.1 L415.5,458.5 L415.7,464.3 L415.9,464.3 L416.0,462.3 L416.2,463.8 L416.3,467.3 L416.5,462.6 L416.7,461.5 L416.8,464.8 L417.0,463.7 L417.1,459.8 L417.3,462.5 L417.5,462.7 L417.6,459.8 L417.8,460.2 L417.9,460.8 L418.1,459.7 L418.3,463.2 L418.4,462.7 L418.6,457.6 L418.7,461.3 L418.9,462.4 L419.1,459.4 L419.2,461.5 L419.4,462.7 L419.5,458.7 L419.7,461.5 L419.9,457.3 L420.0,463.6 L420.2,460.6 L420.3,459.1 L420.5,458.3 L420.7,458.7 L420.8,464.7 L421.0,460.3 L421.1,460.9 L421.3,461.2 L421.5,459.0 L421.6,463.6 L421.8,456.9 L421.9,463.8 L422.1,460.5 L422.3,462.1 L422.4,462.6 L422.6,463.7 L422.7,459.5 L422.9,463.3 L423.1,461.9 L423.2,461.7 L423.4,461.4 L423.5,464.3 L423.7,463.0 L423.9,464.6 L424.0,463.9 L424.2,458.0 L424.3,461.8 L424.5,464.1 L424.7,460.2 L424.8,458.6 L425.0,457.3 L425.1,466.1 L425.3,460.1 L425.5,462.4 L425.6,459.8 L425.8,462.9 L425.9,465.4 L426.1,459.1 L426.3,461.9 L426.4,460.5 L426.6,458.2 L426.7,460.2 L426.9,462.1 L427.1,464.5 L427.2,464.6 L427.4,462.0 L427.5,458.7 L427.7,463.4 L427.9,462.0 L428.0,462.0 L428.2,459.7 L428.3,461.7 L428.5,466.1 L428.7,465.1 L428.8,464.6 L429.0,463.4 L429.1,461.2 L429.3,462.0 L429.5,462.3 L429.6,462.8 L429.8,461.3 L429.9,460.2 L430.1,464.2 L430.3,461.1 L430.4,463.5 L430.6,461.3 L430.7,463.0 L430.9,462.5 L431.1,462.8 L431.2,462.5 L431.4,458.8 L431.5,457.7 L431.7,460.0 L431.9,463.0 L432.0,457.4 L432.2,456.6 L432.3,462.5 L432.5,453.9 L432.7,455.1 L432.8,454.6 L433.0,453.1 L433.1,452.2 L433.3,454.7 L433.5,451.9 L433.6,450.8 L433.8,446.0 L433.9,450.1 L434.1,448.0 L434.3,447.2 L434.4,447.9 L434.6,446.4 L434.7,445.3 L434.9,446.1 L435.1,443.8 L435.2,443.5 L435.4,442.9 L435.5,448.1 L435.7,445.4 L435.9,447.9 L436.0,450.6 L436.2,453.0 L436.3,449.5 L436.5,451.6 L436.7,452.5 L436.8,450.7 L437.0,453.4 L437.1,461.0 L437.3,456.1 L437.5,460.7 L437.6,459.4 L437.8,462.1 L437.9,461.8 L438.1,460.2 L438.3,457.6 L438.4,463.5 L438.6,462.4 L438.7,462.2 L438.9,463.2 L439.1,460.0 L439.2,462.1 L439.4,461.9 L439.5,459.0 L439.7,459.7 L439.9,461.9 L440.0,457.7 L440.2,463.8 L440.3,463.9 L440.5,462.2 L440.7,462.9 L440.8,458.6 L441.0,462.7 L441.1,463.9 L441.3,463.4 L441.5,464.3 L441.6,462.3 L441.8,466.4 L441.9,463.3 L442.1,464.0 L442.3,464.6 L442.4,460.8 L442.6,460.1 L442.7,464.0 L442.9,459.9 L443.1,461.2 L443.2,464.4 L443.4,460.2 L443.5,460.4 L443.7,459.9 L443.9,460.3 L444.0,466.3 L444.2,463.6 L444.3,464.4 L444.5,458.5 L444.7,457.6 L444.8,460.1 L445.0,464.6 L445.1,464.9 L445.3,458.5 L445.5,458.9 L445.6,463.8 L445.8,463.0 L445.9,463.4 L446.1,463.9 L446.3,460.4 L446.4,462.8 L446.6,461.9 L446.7,465.0 L446.9,461.9 L447.1,458.7 L447.2,465.1 L447.4,466.2 L447.5,464.5 L447.7,461.9 L447.9,460.6 L448.0,464.6 L448.2,461.5 L448.3,463.6 L448.5,464.2 L448.7,462.3 L448.8,458.5 L449.0,463.6 L449.1,460.5 L449.3,459.4 L449.5,462.5 L449.6,462.9 L449.8,462.4 L449.9,463.9 L450.1,458.7 L450.3,463.8 L450.4,465.9 L450.6,462.5 L450.7,461.6 L450.9,462.3 L451.1,465.1 L451.2,462.3 L451.4,461.0 L451.5,459.2 L451.7,465.5 L451.9,465.6 L452.0,462.7 L452.2,466.9 L452.3,461.9 L452.5,464.2 L452.7,460.0 L452.8,460.7 L453.0,462.7 L453.1,463.7 L453.3,464.0 L453.5,460.9 L453.6,461.7 L453.8,462.5 L453.9,462.2 L454.1,462.2 L454.3,464.4 L454.4,465.1 L454.6,459.0 L454.7,465.5 L454.9,463.2 L455.1,463.5 L455.2,463.5 L455.4,464.7 L455.5,464.2 L455.7,459.7 L455.9,464.6 L456.0,460.5 L456.2,463.6 L456.3,463.3 L456.5,459.7 L456.7,462.9 L456.8,462.4 L457.0,461.5 L457.1,467.0 L457.3,463.2 L457.5,462.1 L457.6,466.4 L457.8,462.8 L457.9,462.6 L458.1,458.8 L458.3,464.1 L458.4,465.0 L458.6,466.8 L458.7,460.9 L458.9,465.1 L459.1,465.8 L459.2,464.4 L459.4,463.0 L459.5,459.6 L459.7,463.4 L459.9,461.8 L460.0,459.4 L460.2,464.2 L460.3,462.7 L460.5,462.5 L460.7,467.0 L460.8,461.9 L461.0,458.8 L461.1,458.5 L461.3,464.1 L461.5,462.6 L461.6,461.5 L461.8,458.7 L461.9,461.3 L462.1,460.7 L462.3,462.8 L462.4,461.3 L462.6,461.3 L462.7,462.9 L462.9,461.4 L463.1,463.7 L463.2,456.1 L463.4,460.5 L463.5,465.5 L463.7,463.5 L463.9,460.9 L464.0,462.7 L464.2,461.9 L464.3,462.3 L464.5,466.0 L464.7,462.2 L464.8,463.5 L465.0,461.4 L465.1,461.6 L465.3,460.0 L465.5,461.8 L465.6,462.3 L465.8,462.5 L465.9,463.2 L466.1,463.3 L466.3,464.5 L466.4,462.7 L466.6,465.8 L466.7,464.4 L466.9,465.9 L467.1,463.0 L467.2,465.6 L467.4,463.4 L467.5,459.8 L467.7,463.1 L467.9,462.8 L468.0,460.2 L468.2,461.2 L468.3,462.0 L468.5,467.8 L468.7,463.8 L468.8,466.9 L469.0,465.1 L469.1,465.4 L469.3,464.9 L469.5,460.2 L469.6,465.8 L469.8,461.2 L469.9,464.2 L470.1,463.1 L470.3,466.6 L470.4,465.7 L470.6,467.0 L470.7,464.3 L470.9,463.3 L471.1,464.9 L471.2,468.2 L471.4,464.4 L471.5,463.4 L471.7,460.9 L471.9,461.9 L472.0,463.2 L472.2,464.7 L472.3,464.6 L472.5,463.2 L472.7,463.7 L472.8,466.5 L473.0,467.1 L473.1,465.8 L473.3,466.5 L473.5,465.9 L473.6,467.1 L473.8,460.9 L473.9,462.4 L474.1,463.9 L474.3,464.2 L474.4,466.1 L474.6,459.8 L474.7,463.8 L474.9,464.0 L475.1,462.1 L475.2,463.2 L475.4,465.5 L475.5,464.4 L475.7,463.3 L475.9,463.9 L476.0,463.3 L476.2,465.4 L476.3,463.3 L476.5,465.5 L476.7,462.4 L476.8,463.5 L477.0,461.3 L477.1,463.1 L477.3,465.3 L477.5,461.5 L477.6,462.9 L477.8,463.8 L477.9,462.9 L478.1,465.3 L478.3,461.1 L478.4,465.3 L478.6,466.3 L478.7,466.9 L478.9,463.5 L479.1,462.0 L479.2,460.4 L479.4,465.0 L479.5,465.2 L479.7,464.2 L479.9,464.3 L480.0,464.9 L480.2,462.8 L480.3,460.5 L480.5,460.6 L480.7,461.9 L480.8,461.6 L481.0,460.2 L481.1,462.5 L481.3,461.2 L481.5,464.5 L481.6,463.0 L481.8,464.6 L481.9,460.3 L482.1,460.6 L482.3,459.5 L482.4,463.1 L482.6,468.7 L482.7,462.7 L482.9,461.2 L483.1,462.3 L483.2,461.6 L483.4,463.3 L483.5,461.1 L483.7,459.1 L483.9,456.7 L484.0,460.9 L484.2,461.8 L484.3,459.7 L484.5,457.2 L484.7,457.7 L484.8,457.5 L485.0,458.8 L485.1,457.0 L485.3,458.9 L485.5,455.6 L485.6,454.2 L485.8,458.6 L485.9,452.2 L486.1,452.1 L486.3,457.2 L486.4,452.9 L486.6,455.3 L486.7,446.0 L486.9,452.9 L487.1,449.8 L487.2,449.3 L487.4,449.5 L487.5,442.3 L487.7,445.5 L487.9,447.6 L488.0,452.7 L488.2,444.1 L488.3,449.9 L488.5,446.0 L488.7,446.3 L488.8,441.9 L489.0,444.8 L489.1,441.5 L489.3,440.5 L489.5,445.3 L489.6,441.2 L489.8,441.5 L489.9,443.8 L490.1,440.7 L490.3,439.8 L490.4,442.9 L490.6,443.1 L490.7,445.7 L490.9,440.5 L491.1,444.4 L491.2,444.6 L491.4,442.5 L491.5,443.3 L491.7,444.0 L491.9,442.1 L492.0,441.8 L492.2,446.2 L492.3,442.9 L492.5,443.4 L492.7,447.2 L492.8,444.8 L493.0,445.3 L493.1,443.6 L493.3,444.1 L493.5,444.1 L493.6,444.3 L493.8,449.7 L493.9,445.4 L494.1,442.8 L494.3,445.4 L494.4,449.1 L494.6,445.4 L494.7,447.6 L494.9,445.8 L495.1,444.2 L495.2,446.6 L495.4,445.6 L495.5,447.9 L495.7,448.9 L495.9,447.2 L496.0,452.6 L496.2,445.0 L496.3,449.7 L496.5,447.7 L496.7,449.5 L496.8,447.6 L497.0,441.8 L497.1,445.6 L497.3,448.1 L497.5,445.9 L497.6,443.1 L497.8,444.5 L497.9,446.1 L498.1,447.8 L498.3,444.0 L498.4,445.3 L498.6,443.2 L498.7,442.6 L498.9,443.9 L499.1,447.7 L499.2,446.4 L499.4,444.5 L499.5,445.0 L499.7,446.2 L499.9,445.0 L500.0,444.5 L500.2,444.9 L500.3,447.0 L500.5,445.1 L500.7,447.7 L500.8,442.6 L501.0,445.1 L501.1,446.0 L501.3,448.4 L501.5,445.7 L501.6,446.8 L501.8,448.9 L501.9,448.4 L502.1,447.6 L502.3,448.7 L502.4,447.9 L502.6,451.8 L502.7,451.5 L502.9,452.8 L503.1,456.1 L503.2,454.5 L503.4,453.5 L503.5,452.7 L503.7,458.0 L503.9,454.4 L504.0,453.9 L504.2,457.4 L504.3,456.1 L504.5,455.2 L504.7,457.0 L504.8,460.5 L505.0,457.3 L505.1,458.2 L505.3,456.1 L505.5,457.2 L505.6,460.4 L505.8,458.7 L505.9,459.5 L506.1,461.8 L506.3,459.2 L506.4,463.3 L506.6,459.2 L506.7,459.2 L506.9,459.4 L507.1,458.2 L507.2,462.6 L507.4,461.7 L507.5,464.6 L507.7,460.6 L507.9,463.7 L508.0,465.0 L508.2,462.1 L508.3,462.3 L508.5,457.8 L508.7,466.8 L508.8,462.7 L509.0,464.5 L509.1,462.1 L509.3,464.0 L509.5,461.0 L509.6,464.9 L509.8,463.7 L509.9,462.8 L510.1,464.5 L510.3,460.1 L510.4,464.0 L510.6,462.9 L510.7,466.7 L510.9,465.3 L511.1,463.4 L511.2,463.2 L511.4,469.8 L511.5,461.8 L511.7,467.6 L511.9,465.7 L512.0,465.3 L512.2,459.9 L512.3,465.3 L512.5,462.6 L512.7,461.7 L512.8,464.6 L513.0,461.8 L513.1,464.2 L513.3,461.0 L513.5,463.8 L513.6,463.3 L513.8,460.5 L513.9,459.9 L514.1,460.2 L514.3,460.1 L514.4,459.6 L514.6,464.2 L514.7,461.0 L514.9,459.1 L515.1,458.8 L515.2,457.6 L515.4,459.5 L515.5,458.6 L515.7,457.3 L515.9,457.2 L516.0,457.8 L516.2,456.5 L516.3,459.0 L516.5,457.2 L516.7,460.3 L516.8,458.9 L517.0,461.0 L517.1,459.1 L517.3,457.0 L517.5,458.5 L517.6,461.0 L517.8,462.7 L517.9,463.2 L518.1,463.8 L518.3,464.5 L518.4,464.2 L518.6,464.6 L518.7,463.6 L518.9,465.4 L519.1,464.2 L519.2,464.5 L519.4,465.1 L519.5,469.5 L519.7,462.0 L519.9,464.1 L520.0,464.6 L520.2,466.0 L520.3,465.2 L520.5,468.5 L520.7,462.1 L520.8,468.9 L521.0,462.8 L521.1,463.9 L521.3,466.4 L521.5,465.5 L521.6,465.3 L521.8,465.5 L521.9,466.1 L522.1,467.3 L522.3,466.2 L522.4,462.9 L522.6,463.9 L522.7,468.1 L522.9,469.3 L523.1,467.3 L523.2,467.6 L523.4,466.0 L523.5,469.6 L523.7,464.3 L523.9,464.8 L524.0,463.9 L524.2,468.6 L524.3,464.4 L524.5,466.5 L524.7,462.7 L524.8,462.5 L525.0,467.5 L525.1,466.9 L525.3,467.2 L525.5,465.9 L525.6,464.9 L525.8,464.7 L525.9,463.3 L526.1,464.8 L526.3,468.2 L526.4,465.2 L526.6,462.9 L526.7,465.1 L526.9,463.6 L527.1,463.3 L527.2,465.4 L527.4,464.1 L527.5,463.1 L527.7,468.6 L527.9,469.0 L528.0,465.9 L528.2,468.6 L528.3,464.7 L528.5,465.5 L528.7,468.2 L528.8,466.2 L529.0,467.3 L529.1,460.1 L529.3,466.2 L529.5,464.8 L529.6,465.4 L529.8,462.6 L529.9,464.1 L530.1,466.8 L530.3,466.8 L530.4,467.2 L530.6,467.4 L530.7,467.8 L530.9,466.4 L531.1,465.2 L531.2,464.5 L531.4,464.8 L531.5,463.7 L531.7,463.7 L531.9,465.5 L532.0,461.1 L532.2,463.2 L532.3,464.1 L532.5,466.8 L532.7,467.9 L532.8,466.4 L533.0,465.6 L533.1,464.8 L533.3,468.0 L533.5,467.2 L533.6,464.4 L533.8,465.7 L533.9,466.6 L534.1,467.6 L534.3,465.1 L534.4,468.8 L534.6,468.2 L534.7,465.0 L534.9,465.4 L535.1,464.0 L535.2,464.1 L535.4,466.5 L535.5,468.7 L535.7,468.8 L535.9,466.3 L536.0,465.2 L536.2,464.7 L536.3,466.8 L536.5,465.0 L536.7,467.4 L536.8,465.7 L537.0,466.6 L537.1,465.0 L537.3,470.1 L537.5,468.3 L537.6,466.2 L537.8,464.3 L537.9,467.2 L538.1,467.6 L538.3,463.8 L538.4,466.2 L538.6,470.2 L538.7,466.4 L538.9,465.3 L539.1,467.3 L539.2,469.8 L539.4,465.2 L539.5,465.3 L539.7,465.7 L539.9,466.3 L540.0,468.5 L540.2,466.8 L540.3,461.8 L540.5,467.1 L540.7,467.0 L540.8,467.5 L541.0,466.8 L541.1,466.0 L541.3,467.3 L541.5,464.9 L541.6,462.9 L541.8,465.6 L541.9,464.1 L542.1,469.6 L542.3,466.0 L542.4,469.4 L542.6,463.6 L542.7,463.8 L542.9,467.1 L543.1,462.8 L543.2,465.0 L543.4,462.4 L543.5,467.1 L543.7,462.8 L543.9,466.0 L544.0,462.7 L544.2,467.2 L544.3,468.4 L544.5,466.5 L544.7,464.3 L544.8,467.1 L545.0,468.2 L545.1,467.8 L545.3,468.8 L545.5,470.0 L545.6,466.7 L545.8,465.7 L545.9,465.0 L546.1,466.2 L546.3,465.8 L546.4,465.2 L546.6,467.0 L546.7,470.2 L546.9,464.7 L547.1,465.3 L547.2,465.6 L547.4,464.3 L547.5,468.4 L547.7,466.0 L547.9,467.5 L548.0,463.1 L548.2,467.4 L548.3,466.1 L548.5,463.4 L548.7,468.0 L548.8,468.2 L549.0,466.8 L549.1,467.3 L549.3,464.5 L549.5,468.4 L549.6,465.9 L549.8,467.3 L549.9,467.6 L550.1,467.3 L550.3,464.9 L550.4,466.9 L550.6,466.7 L550.7,468.8 L550.9,464.9 L551.1,468.3 L551.2,467.4 L551.4,466.5 L551.5,470.2 L551.7,468.1 L551.9,465.4 L552.0,467.1 L552.2,465.0 L552.3,464.1 L552.5,465.5 L552.7,465.5 L552.8,469.9 L553.0,468.1 L553.1,461.7 L553.3,466.2 L553.5,465.1 L553.6,466.2 L553.8,466.9 L553.9,466.6 L554.1,467.4 L554.3,465.0 L554.4,469.4 L554.6,466.3 L554.7,469.0 L554.9,466.3 L555.1,467.5 L555.2,464.6 L555.4,468.8 L555.5,467.1 L555.7,465.7 L555.9,467.3 L556.0,467.5 L556.2,463.4 L556.3,465.0 L556.5,464.5 L556.7,468.1 L556.8,466.8 L557.0,465.1 L557.1,464.9 L557.3,466.2 L557.5,461.6 L557.6,465.8 L557.8,469.2 L557.9,463.1 L558.1,463.4 L558.3,463.4 L558.4,466.3 L558.6,463.8 L558.7,468.8 L558.9,464.4 L559.1,463.5 L559.2,462.1 L559.4,465.3 L559.5,465.8 L559.7,463.6 L559.9,465.6 L560.0,465.1 L560.2,462.9 L560.3,462.0 L560.5,460.4 L560.7,461.5 L560.8,460.1 L561.0,463.4 L561.1,461.6 L561.3,459.5 L561.5,458.8 L561.6,460.2 L561.8,461.3 L561.9,459.6 L562.1,461.0 L562.3,458.1 L562.4,459.4 L562.6,460.4 L562.7,459.6 L562.9,460.2 L563.1,461.6 L563.2,459.9 L563.4,462.2 L563.5,459.5 L563.7,461.8 L563.9,460.4 L564.0,460.9 L564.2,463.2 L564.3,465.0 L564.5,462.6 L564.7,463.4 L564.8,466.3 L565.0,462.4 L565.1,466.2 L565.3,462.4 L565.5,461.3 L565.6,466.0 L565.8,465.0 L565.9,464.8 L566.1,461.3 L566.3,467.0 L566.4,465.5 L566.6,464.2 L566.7,466.5 L566.9,464.4 L567.1,465.4 L567.2,465.4 L567.4,469.0 L567.5,466.9 L567.7,469.8 L567.9,465.6 L568.0,464.9 L568.2,470.9 L568.3,464.6 L568.5,469.8 L568.7,465.2 L568.8,468.9 L569.0,466.0 L569.1,470.5 L569.3,471.5 L569.5,469.6 L569.6,468.3 L569.8,466.8 L569.9,469.2 L570.1,471.8 L570.3,466.7 L570.4,465.4 L570.6,471.2 L570.7,467.2 L570.9,469.1 L571.1,468.1 L571.2,468.3 L571.4,467.2 L571.5,467.5 L571.7,464.4 L571.9,466.6 L572.0,466.1 L572.2,470.1 L572.3,467.2 L572.5,468.0 L572.7,464.5 L572.8,468.0 L573.0,470.9 L573.1,468.2 L573.3,469.6 L573.5,467.3 L573.6,466.7 L573.8,469.8 L573.9,467.0 L574.1,465.8 L574.3,467.7 L574.4,467.2 L574.6,470.1 L574.7,469.4 L574.9,465.1 L575.1,469.0 L575.2,465.3 L575.4,468.4 L575.5,469.2 L575.7,467.0 L575.9,467.0 L576.0,469.6 L576.2,467.5 L576.3,465.8 L576.5,471.4 L576.7,469.9 L576.8,469.1 L577.0,468.8 L577.1,470.2 L577.3,468.4 L577.5,469.8 L577.6,468.9 L577.8,466.9 L577.9,470.4 L578.1,468.6 L578.3,466.7 L578.4,467.4 L578.6,463.5 L578.7,465.0 L578.9,465.4 L579.1,469.7 L579.2,469.7 L579.4,470.6 L579.5,469.2 L579.7,471.8 L579.9,467.4 L580.0,466.8 L580.2,466.5 L580.3,468.7 L580.5,467.1 L580.7,466.5 L580.8,467.3 L581.0,468.7 L581.1,465.8 L581.3,468.3 L581.5,468.3 L581.6,471.7 L581.8,468.7 L581.9,465.8 L582.1,468.9 L582.3,468.8 L582.4,465.9 L582.6,462.3 L582.7,469.9 L582.9,468.1 L583.1,467.0 L583.2,468.1 L583.4,471.0 L583.5,472.0 L583.7,467.6 L583.9,471.6 L584.0,468.4 L584.2,468.5 L584.3,468.4 L584.5,468.4 L584.7,468.3 L584.8,467.2 L585.0,468.6 L585.1,466.6 L585.3,469.7 L585.5,467.3 L585.6,469.6 L585.8,468.4 L585.9,465.1 L586.1,471.0 L586.3,469.2 L586.4,468.5 L586.6,468.0 L586.7,472.3 L586.9,468.2 L587.1,470.6 L587.2,469.1 L587.4,466.1 L587.5,470.2 L587.7,465.7 L587.9,469.7 L588.0,469.6 L588.2,469.2 L588.3,467.3 L588.5,471.6 L588.7,472.3 L588.8,467.0 L589.0,468.1 L589.1,472.1 L589.3,468.0 L589.5,470.8 L589.6,466.9 L589.8,467.6 L589.9,469.4 L590.1,469.8 L590.3,466.0 L590.4,466.8 L590.6,470.0 L590.7,471.5 L590.9,470.0 L591.1,469.7 L591.2,469.9 L591.4,466.6 L591.5,469.8 L591.7,470.8 L591.9,470.2 L592.0,466.7 L592.2,467.1 L592.3,471.3 L592.5,466.3 L592.7,467.0 L592.8,472.3 L593.0,467.3 L593.1,467.7 L593.3,470.4 L593.5,470.7 L593.6,468.8 L593.8,466.3 L593.9,468.2 L594.1,469.5 L594.3,467.4 L594.4,467.3 L594.6,471.7 L594.7,470.3 L594.9,470.8 L595.1,471.1 L595.2,467.3 L595.4,470.3 L595.5,471.7 L595.7,470.7 L595.9,467.0 L596.0,466.2 L596.2,467.7 L596.3,470.5 L596.5,469.0 L596.7,469.9 L596.8,466.9 L597.0,471.1 L597.1,468.0 L597.3,471.7 L597.5,469.4 L597.6,463.5 L597.8,469.1 L597.9,467.7 L598.1,467.8 L598.3,469.2 L598.4,471.6 L598.6,471.2 L598.7,472.3 L598.9,469.5 L599.1,465.8 L599.2,468.4 L599.4,467.8 L599.5,468.2 L599.7,474.9 L599.9,471.2 L600.0,467.7 L600.2,472.0 L600.3,469.0 L600.5,467.0 L600.7,472.0 L600.8,468.7 L601.0,469.9 L601.1,474.3 L601.3,467.7 L601.5,471.8 L601.6,469.1 L601.8,467.5 L601.9,469.2 L602.1,470.1 L602.3,470.2 L602.4,466.7 L602.6,471.5 L602.7,468.1 L602.9,470.5 L603.1,470.3 L603.2,468.8 L603.4,471.1 L603.5,468.5 L603.7,468.0 L603.9,467.1 L604.0,466.2 L604.2,468.6 L604.3,465.6 L604.5,469.3 L604.7,468.9 L604.8,473.3 L605.0,467.7 L605.1,472.3 L605.3,470.8 L605.5,470.7 L605.6,468.8 L605.8,468.5 L605.9,469.5 L606.1,470.0 L606.3,471.3 L606.4,469.2 L606.6,473.3 L606.7,473.6 L606.9,465.3 L607.1,470.5 L607.2,470.0 L607.4,468.3 L607.5,464.9 L607.7,466.9 L607.9,470.0 L608.0,471.7 L608.2,471.3 L608.3,471.4 L608.5,470.0 L608.7,472.5 L608.8,471.4 L609.0,472.7 L609.1,470.2 L609.3,469.2 L609.5,467.4 L609.6,473.6 L609.8,469.4 L609.9,468.5 L610.1,466.3 L610.3,471.7 L610.4,467.9 L610.6,470.8 L610.7,471.2 L610.9,473.5 L611.1,469.3 L611.2,466.8 L611.4,472.5 L611.5,471.3 L611.7,469.5 L611.9,470.7 L612.0,474.6 L612.2,470.9 L612.3,469.5 L612.5,470.7 L612.7,472.0 L612.8,471.6 L613.0,471.6 L613.1,471.6 L613.3,468.6 L613.5,472.2 L613.6,473.1 L613.8,472.3 L613.9,470.9 L614.1,470.9 L614.3,471.4 L614.4,471.2 L614.6,467.8 L614.7,470.8 L614.9,473.6 L615.1,470.5 L615.2,470.1 L615.4,472.4 L615.5,471.4 L615.7,469.8 L615.9,471.6 L616.0,474.7 L616.2,474.9 L616.3,471.6 L616.5,471.0 L616.7,473.7 L616.8,472.3 L617.0,472.5 L617.1,471.3 L617.3,468.8 L617.5,468.5 L617.6,471.3 L617.8,469.3 L617.9,473.1 L618.1,473.4 L618.3,474.5 L618.4,471.8 L618.6,475.5 L618.7,474.1 L618.9,472.4 L619.1,473.1 L619.2,470.5 L619.4,465.3 L619.5,473.8 L619.7,472.7 L619.9,475.1 L620.0,472.7 L620.2,471.4 L620.3,470.8 L620.5,470.6 L620.7,472.1 L620.8,468.2 L621.0,469.6 L621.1,473.5 L621.3,467.8 L621.5,468.7 L621.6,470.7 L621.8,471.1 L621.9,472.0 L622.1,473.6 L622.3,472.5 L622.4,473.1 L622.6,470.8 L622.7,472.0 L622.9,470.6 L623.1,471.8 L623.2,473.2 L623.4,473.0 L623.5,468.3 L623.7,469.8 L623.9,476.1 L624.0,468.0 L624.2,472.3 L624.3,469.8 L624.5,471.7 L624.7,471.0 L624.8,472.3 L625.0,470.0 L625.1,474.3 L625.3,476.6 L625.5,467.3 L625.6,470.6 L625.8,469.2 L625.9,472.5 L626.1,475.1 L626.3,475.1 L626.4,475.0 L626.6,472.8 L626.7,471.3 L626.9,474.7 L627.1,471.2 L627.2,470.9 L627.4,472.6 L627.5,470.0 L627.7,472.1 L627.9,470.6 L628.0,472.7 L628.2,474.5 L628.3,471.4 L628.5,473.5 L628.7,474.5 L628.8,471.1 L629.0,472.5 L629.1,471.9 L629.3,476.3 L629.5,471.7 L629.6,472.9 L629.8,469.9 L629.9,470.9 L630.1,473.9 L630.3,472.2 L630.4,474.3 L630.6,472.9 L630.7,478.1 L630.9,472.4 L631.1,474.8 L631.2,471.4 L631.4,472.0 L631.5,469.8 L631.7,478.2 L631.9,468.7 L632.0,473.2 L632.2,472.1 L632.3,474.6 L632.5,471.9 L632.7,476.8 L632.8,475.3 L633.0,474.1" fill="none" stroke="#7f7f7f" stroke-width="1.5" stroke-linejoin="round"/>
<path d="M84.5,122.2 L84.7,114.0 L84.8,123.3 L85.0,123.4 L85.1,126.1 L85.3,129.0 L85.5,127.3 L85.6,133.8 L85.8,134.7 L85.9,146.7 L86.1,141.9 L86.3,142.7 L86.4,145.1 L86.6,146.4 L86.7,147.7 L86.9,151.4 L87.1,155.6 L87.2,156.1 L87.4,161.1 L87.5,160.6 L87.7,163.3 L87.9,169.0 L88.0,168.9 L88.2,168.7 L88.3,171.6 L88.5,175.5 L88.7,180.9 L88.8,178.0 L89.0,180.2 L89.1,185.3 L89.3,183.1 L89.5,186.7 L89.6,191.6 L89.8,193.1 L89.9,193.7 L90.1,196.8 L90.3,190.5 L90.4,201.1 L90.6,198.2 L90.7,198.3 L90.9,204.5 L91.1,207.2 L91.2,206.3 L91.4,206.6 L91.5,210.9 L91.7,212.4 L91.9,217.5 L92.0,217.7 L92.2,218.2 L92.3,222.0 L92.5,220.7 L92.7,220.8 L92.8,226.0 L93.0,227.7 L93.1,227.6 L93.3,228.1 L93.5,232.1 L93.6,227.6 L93.8,236.6 L93.9,237.9 L94.1,234.7 L94.3,240.4 L94.4,239.8 L94.6,245.4 L94.7,240.7 L94.9,244.9 L95.1,250.2 L95.2,252.9 L95.4,246.8 L95.5,252.3 L95.7,255.8 L95.9,255.2 L96.0,261.9 L96.2,257.1 L96.3,262.2 L96.5,260.6 L96.7,267.8 L96.8,266.2 L97.0,266.9 L97.1,265.4 L97.3,274.9 L97.5,274.3 L97.6,275.9 L97.8,278.4 L97.9,278.2 L98.1,277.5 L98.3,278.8 L98.4,280.4 L98.6,287.0 L98.7,282.0 L98.9,285.6 L99.1,287.9 L99.2,290.7 L99.4,293.1 L99.5,290.5 L99.7,291.0 L99.9,296.5 L100.0,300.9 L100.2,301.4 L100.3,301.7 L100.5,302.1 L100.7,305.1 L100.8,305.4 L101.0,309.4 L101.1,307.3 L101.3,311.0 L101.5,312.0 L101.6,315.0 L101.8,315.9 L101.9,322.8 L102.1,321.9 L102.3,323.5 L102.4,316.9 L102.6,322.4 L102.7,323.3 L102.9,327.5 L103.1,322.6 L103.2,332.1 L103.4,333.4 L103.5,329.6 L103.7,331.9 L103.9,333.8 L104.0,337.3 L104.2,340.3 L104.3,345.1 L104.5,340.7 L104.7,343.4 L104.8,342.4 L105.0,346.5 L105.1,344.5 L105.3,346.4 L105.5,341.2 L105.6,343.6 L105.8,342.6 L105.9,348.3 L106.1,346.7 L106.3,344.9 L106.4,345.0 L106.6,347.5 L106.7,345.1 L106.9,345.0 L107.1,348.6 L107.2,353.5 L107.4,347.6 L107.5,347.3 L107.7,346.2 L107.9,346.2 L108.0,350.8 L108.2,351.9 L108.3,350.3 L108.5,351.3 L108.7,351.2 L108.8,351.5 L109.0,348.0 L109.1,350.8 L109.3,352.4 L109.5,350.3 L109.6,351.0 L109.8,350.2 L109.9,351.3 L110.1,354.0 L110.3,351.0 L110.4,351.6 L110.6,353.8 L110.7,353.4 L110.9,355.8 L111.1,347.0 L111.2,353.8 L111.4,350.7 L111.5,352.1 L111.7,353.7 L111.9,354.2 L112.0,354.1 L112.2,352.0 L112.3,355.3 L112.5,350.9 L112.7,351.2 L112.8,353.2 L113.0,350.0 L113.1,356.0 L113.3,353.2 L113.5,355.6 L113.6,350.2 L113.8,349.0 L113.9,349.7 L114.1,350.5 L114.3,346.8 L114.4,348.2 L114.6,346.5 L114.7,349.3 L114.9,343.0 L115.1,345.8 L115.2,340.7 L115.4,338.7 L115.5,337.9 L115.7,335.4 L115.9,337.1 L116.0,337.8 L116.2,334.4 L116.3,334.2 L116.5,335.3 L116.7,331.1 L116.8,330.0 L117.0,328.2 L117.1,324.6 L117.3,329.7 L117.5,323.8 L117.6,329.4 L117.8,328.2 L117.9,331.4 L118.1,329.5 L118.3,328.7 L118.4,332.6 L118.6,331.9 L118.7,334.2 L118.9,336.3 L119.1,337.6 L119.2,339.2 L119.4,339.5 L119.5,342.7 L119.7,340.0 L119.9,346.2 L120.0,345.4 L120.2,352.3 L120.3,354.1 L120.5,348.0 L120.7,354.1 L120.8,354.6 L121.0,353.6 L121.1,358.2 L121.3,356.8 L121.5,354.6 L121.6,358.7 L121.8,359.6 L121.9,360.8 L122.1,358.2 L122.3,362.9 L122.4,363.5 L122.6,359.5 L122.7,360.9 L122.9,362.6 L123.1,361.7 L123.2,367.2 L123.4,363.9 L123.5,361.3 L123.7,362.0 L123.9,363.9 L124.0,369.5 L124.2,363.9 L124.3,364.8 L124.5,365.9 L124.7,364.8 L124.8,370.3 L125.0,363.9 L125.1,367.0 L125.3,365.9 L125.5,367.1 L125.6,363.1 L125.8,370.0 L125.9,365.8 L126.1,366.3 L126.3,364.3 L126.4,364.9 L126.6,368.0 L126.7,369.2 L126.9,368.8 L127.1,370.0 L127.2,369.0 L127.4,367.6 L127.5,369.6 L127.7,369.2 L127.9,367.8 L128.0,369.8 L128.2,371.3 L128.3,369.0 L128.5,367.8 L128.7,370.4 L128.8,373.3 L129.0,368.6 L129.1,368.9 L129.3,368.9 L129.5,372.1 L129.6,365.2 L129.8,370.3 L129.9,372.3 L130.1,367.8 L130.3,373.2 L130.4,371.0 L130.6,368.6 L130.7,370.5 L130.9,366.5 L131.1,368.9 L131.2,374.5 L131.4,368.3 L131.5,374.7 L131.7,370.3 L131.9,372.9 L132.0,370.8 L132.2,365.6 L132.3,369.5 L132.5,371.4 L132.7,368.4 L132.8,368.0 L133.0,372.0 L133.1,369.8 L133.3,367.5 L133.5,369.9 L133.6,373.5 L133.8,370.5 L133.9,373.9 L134.1,375.3 L134.3,372.0 L134.4,369.4 L134.6,369.1 L134.7,372.1 L134.9,374.3 L135.1,372.9 L135.2,373.7 L135.4,371.5 L135.5,373.3 L135.7,371.6 L135.9,372.0 L136.0,369.9 L136.2,369.3 L136.3,371.9 L136.5,370.5 L136.7,371.0 L136.8,374.8 L137.0,373.1 L137.1,380.1 L137.3,375.7 L137.5,372.2 L137.6,375.5 L137.8,374.6 L137.9,372.3 L138.1,376.5 L138.3,372.3 L138.4,367.1 L138.6,376.0 L138.7,372.9 L138.9,377.8 L139.1,373.0 L139.2,371.8 L139.4,378.2 L139.5,372.3 L139.7,375.3 L139.9,378.2 L140.0,375.3 L140.2,374.9 L140.3,375.4 L140.5,377.2 L140.7,373.5 L140.8,376.8 L141.0,376.8 L141.1,381.0 L141.3,374.9 L141.5,373.7 L141.6,377.5 L141.8,375.0 L141.9,376.7 L142.1,376.3 L142.3,378.7 L142.4,374.6 L142.6,375.9 L142.7,370.2 L142.9,374.1 L143.1,379.7 L143.2,374.6 L143.4,374.6 L143.5,373.4 L143.7,377.6 L143.9,376.7 L144.0,373.5 L144.2,377.8 L144.3,376.9 L144.5,378.1 L144.7,374.9 L144.8,380.4 L145.0,377.3 L145.1,376.1 L145.3,375.2 L145.5,375.9 L145.6,378.4 L145.8,375.9 L145.9,379.0 L146.1,377.9 L146.3,379.7 L146.4,378.4 L146.6,376.5 L146.7,372.2 L146.9,377.3 L147.1,378.5 L147.2,377.1 L147.4,378.0 L147.5,375.6 L147.7,375.9 L147.9,374.6 L148.0,379.9 L148.2,377.2 L148.3,375.7 L148.5,373.8 L148.7,376.5 L148.8,380.2 L149.0,378.0 L149.1,375.3 L149.3,380.2 L149.5,380.2 L149.6,379.2 L149.8,378.8 L149.9,379.7 L150.1,378.3 L150.3,378.8 L150.4,375.3 L150.6,380.6 L150.7,377.7 L150.9,381.8 L151.1,372.5 L151.2,378.8 L151.4,379.5 L151.5,376.4 L151.7,378.3 L151.9,379.0 L152.0,378.6 L152.2,376.1 L152.3,377.0 L152.5,379.7 L152.7,380.3 L152.8,377.6 L153.0,377.6 L153.1,377.9 L153.3,379.8 L153.5,375.1 L153.6,374.4 L153.8,377.8 L153.9,375.0 L154.1,376.2 L154.3,377.8 L154.4,378.7 L154.6,375.2 L154.7,379.5 L154.9,373.6 L155.1,378.9 L155.2,374.1 L155.4,374.8 L155.5,379.2 L155.7,376.8 L155.9,376.0 L156.0,376.8 L156.2,378.9 L156.3,377.7 L156.5,377.8 L156.7,380.3 L156.8,376.3 L157.0,376.8 L157.1,376.7 L157.3,380.7 L157.5,380.3 L157.6,381.0 L157.8,377.9 L157.9,377.7 L158.1,380.0 L158.3,377.2 L158.4,380.0 L158.6,379.8 L158.7,376.5 L158.9,378.0 L159.1,377.9 L159.2,382.2 L159.4,384.2 L159.5,378.0 L159.7,378.3 L159.9,373.0 L160.0,378.8 L160.2,378.3 L160.3,375.9 L160.5,380.2 L160.7,374.8 L160.8,377.9 L161.0,378.8 L161.1,375.6 L161.3,380.4 L161.5,380.9 L161.6,375.3 L161.8,375.3 L161.9,379.9 L162.1,378.5 L162.3,375.8 L162.4,377.9 L162.6,378.3 L162.7,378.3 L162.9,380.5 L163.1,379.5 L163.2,382.7 L163.4,381.8 L163.5,380.2 L163.7,381.2 L163.9,381.8 L164.0,380.3 L164.2,375.9 L164.3,380.7 L164.5,378.9 L164.7,382.5 L164.8,379.0 L165.0,380.0 L165.1,379.6 L165.3,382.7 L165.5,379.3 L165.6,378.2 L165.8,379.6 L165.9,377.9 L166.1,379.3 L166.3,378.9 L166.4,379.6 L166.6,383.4 L166.7,378.0 L166.9,379.1 L167.1,378.5 L167.2,380.5 L167.4,376.3 L167.5,377.4 L167.7,379.0 L167.9,380.3 L168.0,379.0 L168.2,377.9 L168.3,377.1 L168.5,380.3 L168.7,382.4 L168.8,379.9 L169.0,379.6 L169.1,380.2 L169.3,377.0 L169.5,378.5 L169.6,378.6 L169.8,379.9 L169.9,379.2 L170.1,376.5 L170.3,381.9 L170.4,383.2 L170.6,378.7 L170.7,380.2 L170.9,379.9 L171.1,381.1 L171.2,375.9 L171.4,383.1 L171.5,378.3 L171.7,382.3 L171.9,379.6 L172.0,378.5 L172.2,379.1 L172.3,381.5 L172.5,377.5 L172.7,378.6 L172.8,378.4 L173.0,375.6 L173.1,382.5 L173.3,380.9 L173.5,379.5 L173.6,382.2 L173.8,377.4 L173.9,379.4 L174.1,383.6 L174.3,381.9 L174.4,374.5 L174.6,372.0 L174.7,377.3 L174.9,382.1 L175.1,378.6 L175.2,379.2 L175.4,381.1 L175.5,377.7 L175.7,380.2 L175.9,381.6 L176.0,380.8 L176.2,380.7 L176.3,378.4 L176.5,381.0 L176.7,378.8 L176.8,382.8 L177.0,385.8 L177.1,378.2 L177.3,374.9 L177.5,378.9 L177.6,380.8 L177.8,382.3 L177.9,382.4 L178.1,378.2 L178.3,378.1 L178.4,382.9 L178.6,377.5 L178.7,382.5 L178.9,379.5 L179.1,381.8 L179.2,381.7 L179.4,381.9 L179.5,382.0 L179.7,377.8 L179.9,380.8 L180.0,380.2 L180.2,380.8 L180.3,383.0 L180.5,379.5 L180.7,378.5 L180.8,378.5 L181.0,379.5 L181.1,382.0 L181.3,378.4 L181.5,382.9 L181.6,380.9 L181.8,379.8 L181.9,377.2 L182.1,380.9 L182.3,381.9 L182.4,376.3 L182.6,383.1 L182.7,384.2 L182.9,381.2 L183.1,381.5 L183.2,386.0 L183.4,383.3 L183.5,378.4 L183.7,380.4 L183.9,380.1 L184.0,380.1 L184.2,375.1 L184.3,382.2 L184.5,379.0 L184.7,380.9 L184.8,380.2 L185.0,382.5 L185.1,379.9 L185.3,378.7 L185.5,381.8 L185.6,383.8 L185.8,379.8 L185.9,383.7 L186.1,381.2 L186.3,379.3 L186.4,384.1 L186.6,378.7 L186.7,382.9 L186.9,379.4 L187.1,381.6 L187.2,377.8 L187.4,378.7 L187.5,383.1 L187.7,381.0 L187.9,380.7 L188.0,379.6 L188.2,381.6 L188.3,377.4 L188.5,378.0 L188.7,380.2 L188.8,378.7 L189.0,379.0 L189.1,380.4 L189.3,380.3 L189.5,380.1 L189.6,384.4 L189.8,382.9 L189.9,383.4 L190.1,380.4 L190.3,379.3 L190.4,377.1 L190.6,379.6 L190.7,375.6 L190.9,379.0 L191.1,382.1 L191.2,384.0 L191.4,382.5 L191.5,378.2 L191.7,381.3 L191.9,378.3 L192.0,381.9 L192.2,379.7 L192.3,381.9 L192.5,385.8 L192.7,381.9 L192.8,385.1 L193.0,380.0 L193.1,378.8 L193.3,382.5 L193.5,383.3 L193.6,378.0 L193.8,379.4 L193.9,375.8 L194.1,378.5 L194.3,380.9 L194.4,378.6 L194.6,377.4 L194.7,375.4 L194.9,379.4 L195.1,380.3 L195.2,379.8 L195.4,378.9 L195.5,375.3 L195.7,382.3 L195.9,378.0 L196.0,377.8 L196.2,379.8 L196.3,373.1 L196.5,377.9 L196.7,377.7 L196.8,378.8 L197.0,381.1 L197.1,379.1 L197.3,373.8 L197.5,377.3 L197.6,378.5 L197.8,378.5 L197.9,375.2 L198.1,374.4 L198.3,379.6 L198.4,379.1 L198.6,378.4 L198.7,374.5 L198.9,382.7 L199.1,372.0 L199.2,378.0 L199.4,383.7 L199.5,378.6 L199.7,379.6 L199.9,376.5 L200.0,382.4 L200.2,376.4 L200.3,380.1 L200.5,379.9 L200.7,377.3 L200.8,381.8 L201.0,376.6 L201.1,378.4 L201.3,380.0 L201.5,379.2 L201.6,381.3 L201.8,382.5 L201.9,379.7 L202.1,379.2 L202.3,379.4 L202.4,379.8 L202.6,382.5 L202.7,380.2 L202.9,381.7 L203.1,380.6 L203.2,378.9 L203.4,382.9 L203.5,378.6 L203.7,381.0 L203.9,384.4 L204.0,378.5 L204.2,381.0 L204.3,377.5 L204.5,380.0 L204.7,377.7 L204.8,380.4 L205.0,380.0 L205.1,381.5 L205.3,384.9 L205.5,381.9 L205.6,382.8 L205.8,381.2 L205.9,380.7 L206.1,379.4 L206.3,377.2 L206.4,381.5 L206.6,385.1 L206.7,382.4 L206.9,380.1 L207.1,385.2 L207.2,380.4 L207.4,380.0 L207.5,378.6 L207.7,379.2 L207.9,380.8 L208.0,386.0 L208.2,380.9 L208.3,379.0 L208.5,380.0 L208.7,380.9 L208.8,377.5 L209.0,381.7 L209.1,383.1 L209.3,382.2 L209.5,382.8 L209.6,378.5 L209.8,377.6 L209.9,384.4 L210.1,384.0 L210.3,378.0 L210.4,382.0 L210.6,381.6 L210.7,382.8 L210.9,382.0 L211.1,380.4 L211.2,382.0 L211.4,381.9 L211.5,381.4 L211.7,377.3 L211.9,374.6 L212.0,379.7 L212.2,377.8 L212.3,382.1 L212.5,383.2 L212.7,382.1 L212.8,380.7 L213.0,381.7 L213.1,384.2 L213.3,379.9 L213.5,383.7 L213.6,383.2 L213.8,382.2 L213.9,384.9 L214.1,379.9 L214.3,383.7 L214.4,379.4 L214.6,379.8 L214.7,379.1 L214.9,382.6 L215.1,379.4 L215.2,381.7 L215.4,379.0 L215.5,384.0 L215.7,385.8 L215.9,382.1 L216.0,385.4 L216.2,382.9 L216.3,386.6 L216.5,381.8 L216.7,378.0 L216.8,385.0 L217.0,381.3 L217.1,379.2 L217.3,380.1 L217.5,377.9 L217.6,381.2 L217.8,379.1 L217.9,385.0 L218.1,383.1 L218.3,377.8 L218.4,378.2 L218.6,380.3 L218.7,377.2 L218.9,381.4 L219.1,381.5 L219.2,379.9 L219.4,380.4 L219.5,382.8 L219.7,384.9 L219.9,385.1 L220.0,381.7 L220.2,383.6 L220.3,380.0 L220.5,382.6 L220.7,379.5 L220.8,383.3 L221.0,378.8 L221.1,379.4 L221.3,381.6 L221.5,383.0 L221.6,378.4 L221.8,380.4 L221.9,382.0 L222.1,382.2 L222.3,379.8 L222.4,381.9 L222.6,381.1 L222.7,384.9 L222.9,383.0 L223.1,378.6 L223.2,376.6 L223.4,381.9 L223.5,384.4 L223.7,382.1 L223.9,383.7 L224.0,380.6 L224.2,378.6 L224.3,383.4 L224.5,381.9 L224.7,383.3 L224.8,378.5 L225.0,382.1 L225.1,380.3 L225.3,383.6 L225.5,380.4 L225.6,380.3 L225.8,380.4 L225.9,384.6 L226.1,381.8 L226.3,380.0 L226.4,379.4 L226.6,379.3 L226.7,385.1 L226.9,377.6 L227.1,379.8 L227.2,383.2 L227.4,384.5 L227.5,381.4 L227.7,383.6 L227.9,383.5 L228.0,384.0 L228.2,381.9 L228.3,385.6 L228.5,382.3 L228.7,385.3 L228.8,379.3 L229.0,384.0 L229.1,378.9 L229.3,378.4 L229.5,383.0 L229.6,380.0 L229.8,382.9 L229.9,379.4 L230.1,385.6 L230.3,381.9 L230.4,379.3 L230.6,382.3 L230.7,383.9 L230.9,380.1 L231.1,383.1 L231.2,386.6 L231.4,383.9 L231.5,381.9 L231.7,380.6 L231.9,383.3 L232.0,378.5 L232.2,375.0 L232.3,380.4 L232.5,379.5 L232.7,386.0 L232.8,382.3 L233.0,379.7 L233.1,379.3 L233.3,383.1 L233.5,380.1 L233.6,380.7 L233.8,381.8 L233.9,382.2 L234.1,382.2 L234.3,382.3 L234.4,385.0 L234.6,385.9 L234.7,378.2 L234.9,388.0 L235.1,382.3 L235.2,384.9 L235.4,380.3 L235.5,382.8 L235.7,382.5 L235.9,382.3 L236.0,384.0 L236.2,383.5 L236.3,379.8 L236.5,381.8 L236.7,383.8 L236.8,383.7 L237.0,381.3 L237.1,381.4 L237.3,381.7 L237.5,379.5 L237.6,379.1 L237.8,385.7 L237.9,381.2 L238.1,382.3 L238.3,380.4 L238.4,385.1 L238.6,386.1 L238.7,381.6 L238.9,383.3 L239.1,380.4 L239.2,386.2 L239.4,384.2 L239.5,380.2 L239.7,385.0 L239.9,383.0 L240.0,383.1 L240.2,383.0 L240.3,380.6 L240.5,380.9 L240.7,383.6 L240.8,382.0 L241.0,380.0 L241.1,386.8 L241.3,381.7 L241.5,380.9 L241.6,380.5 L241.8,383.7 L241.9,384.4 L242.1,382.7 L242.3,384.1 L242.4,378.7 L242.6,381.3 L242.7,381.1 L242.9,382.2 L243.1,383.3 L243.2,377.5 L243.4,389.3 L243.5,380.2 L243.7,382.9 L243.9,384.0 L244.0,384.1 L244.2,382.7 L244.3,375.4 L244.5,379.6 L244.7,383.9 L244.8,380.0 L245.0,379.7 L245.1,376.7 L245.3,384.9 L245.5,383.3 L245.6,380.0 L245.8,381.8 L245.9,381.9 L246.1,379.5 L246.3,381.4 L246.4,382.7 L246.6,383.3 L246.7,385.0 L246.9,382.1 L247.1,381.0 L247.2,383.0 L247.4,380.6 L247.5,379.2 L247.7,384.7 L247.9,381.2 L248.0,382.3 L248.2,383.5 L248.3,379.5 L248.5,383.5 L248.7,383.1 L248.8,381.8 L249.0,382.9 L249.1,380.3 L249.3,377.0 L249.5,381.4 L249.6,379.9 L249.8,384.0 L249.9,382.6 L250.1,380.8 L250.3,382.1 L250.4,385.1 L250.6,384.6 L250.7,382.8 L250.9,383.0 L251.1,381.3 L251.2,381.7 L251.4,383.3 L251.5,381.7 L251.7,382.6 L251.9,379.4 L252.0,378.1 L252.2,378.0 L252.3,380.9 L252.5,385.0 L252.7,384.6 L252.8,379.6 L253.0,378.3 L253.1,383.7 L253.3,382.9 L253.5,378.7 L253.6,384.2 L253.8,382.2 L253.9,384.8 L254.1,382.5 L254.3,383.8 L254.4,382.4 L254.6,379.5 L254.7,381.1 L254.9,380.0 L255.1,383.5 L255.2,379.3 L255.4,378.0 L255.5,383.0 L255.7,384.1 L255.9,384.7 L256.0,383.9 L256.2,377.8 L256.3,379.7 L256.5,379.9 L256.7,381.1 L256.8,376.1 L257.0,381.0 L257.1,381.6 L257.3,378.7 L257.5,381.1 L257.6,383.5 L257.8,380.8 L257.9,383.1 L258.1,382.9 L258.3,381.5 L258.4,381.3 L258.6,379.5 L258.7,383.1 L258.9,379.1 L259.1,378.5 L259.2,381.7 L259.4,378.3 L259.5,380.8 L259.7,382.2 L259.9,379.9 L260.0,379.8 L260.2,381.6 L260.3,381.1 L260.5,375.8 L260.7,376.2 L260.8,382.2 L261.0,379.9 L261.1,374.1 L261.3,375.7 L261.5,378.8 L261.6,376.4 L261.8,379.6 L261.9,378.6 L262.1,379.5 L262.3,375.6 L262.4,379.6 L262.6,382.6 L262.7,376.2 L262.9,381.0 L263.1,380.1 L263.2,379.3 L263.4,377.6 L263.5,375.0 L263.7,375.6 L263.9,379.3 L264.0,379.8 L264.2,380.3 L264.3,379.6 L264.5,379.4 L264.7,376.3 L264.8,374.5 L265.0,377.7 L265.1,378.4 L265.3,377.4 L265.5,373.7 L265.6,376.0 L265.8,373.8 L265.9,377.5 L266.1,374.8 L266.3,376.8 L266.4,378.0 L266.6,377.6 L266.7,380.4 L266.9,374.8 L267.1,372.3 L267.2,379.5 L267.4,380.6 L267.5,380.7 L267.7,378.1 L267.9,378.8 L268.0,377.8 L268.2,374.6 L268.3,376.3 L268.5,378.8 L268.7,376.3 L268.8,382.0 L269.0,374.1 L269.1,376.6 L269.3,380.1 L269.5,376.1 L269.6,374.8 L269.8,374.1 L269.9,375.5 L270.1,380.5 L270.3,377.8 L270.4,377.9 L270.6,375.4 L270.7,378.3 L270.9,376.5 L271.1,374.0 L271.2,375.0 L271.4,376.4 L271.5,378.6 L271.7,375.8 L271.9,377.1 L272.0,380.7 L272.2,374.3 L272.3,373.5 L272.5,378.8 L272.7,377.8 L272.8,376.8 L273.0,378.0 L273.1,376.9 L273.3,379.2 L273.5,377.6 L273.6,380.5 L273.8,376.4 L273.9,377.5 L274.1,379.9 L274.3,378.9 L274.4,381.8 L274.6,380.4 L274.7,379.5 L274.9,381.4 L275.1,379.9 L275.2,377.7 L275.4,378.8 L275.5,379.7 L275.7,380.6 L275.9,382.0 L276.0,383.9 L276.2,383.2 L276.3,386.1 L276.5,385.0 L276.7,381.7 L276.8,386.0 L277.0,385.0 L277.1,381.2 L277.3,383.1 L277.5,384.9 L277.6,383.0 L277.8,384.8 L277.9,383.4 L278.1,384.1 L278.3,381.8 L278.4,383.5 L278.6,381.8 L278.7,384.2 L278.9,378.8 L279.1,383.5 L279.2,385.6 L279.4,384.1 L279.5,382.7 L279.7,384.0 L279.9,380.9 L280.0,380.9 L280.2,382.0 L280.3,382.6 L280.5,385.1 L280.7,380.9 L280.8,385.3 L281.0,379.3 L281.1,381.2 L281.3,382.9 L281.5,385.7 L281.6,381.6 L281.8,378.1 L281.9,384.0 L282.1,383.0 L282.3,380.6 L282.4,380.7 L282.6,381.5 L282.7,383.4 L282.9,384.7 L283.1,379.8 L283.2,388.4 L283.4,383.1 L283.5,382.4 L283.7,384.8 L283.9,383.5 L284.0,388.6 L284.2,385.8 L284.3,382.4 L284.5,382.4 L284.7,382.2 L284.8,382.5 L285.0,384.9 L285.1,381.8 L285.3,387.1 L285.5,383.2 L285.6,383.0 L285.8,385.6 L285.9,378.8 L286.1,381.3 L286.3,384.8 L286.4,383.5 L286.6,383.4 L286.7,384.4 L286.9,382.1 L287.1,383.1 L287.2,380.4 L287.4,379.2 L287.5,386.4 L287.7,381.4 L287.9,381.9 L288.0,386.8 L288.2,386.0 L288.3,382.4 L288.5,382.4 L288.7,383.4 L288.8,381.4 L289.0,384.9 L289.1,384.0 L289.3,383.9 L289.5,385.4 L289.6,385.3 L289.8,387.9 L289.9,387.2 L290.1,379.8 L290.3,385.8 L290.4,381.2 L290.6,380.5 L290.7,385.4 L290.9,382.2 L291.1,383.1 L291.2,386.3 L291.4,382.3 L291.5,381.8 L291.7,384.6 L291.9,386.7 L292.0,385.1 L292.2,380.3 L292.3,382.4 L292.5,383.5 L292.7,388.3 L292.8,386.0 L293.0,385.9 L293.1,386.7 L293.3,383.2 L293.5,385.1 L293.6,385.1 L293.8,381.7 L293.9,384.0 L294.1,385.3 L294.3,381.5 L294.4,385.9 L294.6,385.8 L294.7,386.4 L294.9,382.3 L295.1,384.3 L295.2,387.4 L295.4,385.9 L295.5,382.3 L295.7,384.7 L295.9,387.4 L296.0,384.0 L296.2,385.1 L296.3,390.1 L296.5,384.1 L296.7,384.0 L296.8,381.9 L297.0,382.7 L297.1,387.7 L297.3,383.9 L297.5,381.5 L297.6,382.1 L297.8,384.3 L297.9,386.1 L298.1,382.6 L298.3,386.0 L298.4,383.2 L298.6,385.2 L298.7,385.5 L298.9,385.8 L299.1,383.4 L299.2,384.0 L299.4,385.6 L299.5,381.4 L299.7,384.8 L299.9,385.6 L300.0,386.8 L300.2,384.3 L300.3,384.0 L300.5,384.8 L300.7,382.8 L300.8,384.0 L301.0,385.4 L301.1,385.1 L301.3,382.1 L301.5,383.8 L301.6,379.7 L301.8,386.4 L301.9,383.3 L302.1,385.1 L302.3,382.0 L302.4,384.4 L302.6,385.6 L302.7,386.8 L302.9,381.5 L303.1,386.5 L303.2,384.2 L303.4,382.8 L303.5,385.7 L303.7,384.0 L303.9,384.0 L304.0,383.0 L304.2,385.2 L304.3,384.8 L304.5,384.3 L304.7,382.5 L304.8,383.5 L305.0,385.6 L305.1,387.7 L305.3,384.7 L305.5,388.0 L305.6,384.7 L305.8,382.3 L305.9,386.2 L306.1,382.6 L306.3,385.7 L306.4,387.3 L306.6,384.1 L306.7,384.7 L306.9,390.5 L307.1,385.4 L307.2,385.5 L307.4,386.7 L307.5,384.7 L307.7,384.7 L307.9,385.8 L308.0,379.5 L308.2,388.2 L308.3,382.5 L308.5,382.5 L308.7,386.2 L308.8,385.0 L309.0,382.1 L309.1,385.5 L309.3,382.4 L309.5,383.4 L309.6,381.6 L309.8,383.1 L309.9,385.9 L310.1,385.3 L310.3,385.7 L310.4,387.2 L310.6,384.9 L310.7,383.5 L310.9,384.4 L311.1,388.8 L311.2,385.1 L311.4,385.8 L311.5,384.8 L311.7,385.6 L311.9,386.1 L312.0,385.1 L312.2,384.7 L312.3,383.3 L312.5,383.2 L312.7,386.0 L312.8,386.8 L313.0,387.2 L313.1,385.2 L313.3,383.2 L313.5,386.6 L313.6,386.5 L313.8,381.7 L313.9,387.0 L314.1,386.5 L314.3,389.0 L314.4,382.6 L314.6,382.2 L314.7,387.0 L314.9,381.1 L315.1,383.5 L315.2,382.7 L315.4,382.9 L315.5,380.8 L315.7,384.7 L315.9,387.4 L316.0,386.2 L316.2,386.2 L316.3,384.4 L316.5,388.5 L316.7,386.4 L316.8,387.7 L317.0,381.7 L317.1,386.0 L317.3,382.6 L317.5,386.1 L317.6,385.7 L317.8,382.7 L317.9,385.7 L318.1,388.0 L318.3,386.4 L318.4,386.7 L318.6,383.3 L318.7,383.8 L318.9,382.8 L319.1,385.6 L319.2,388.1 L319.4,386.3 L319.5,385.3 L319.7,382.8 L319.9,386.4 L320.0,384.8 L320.2,381.0 L320.3,381.4 L320.5,384.6 L320.7,383.3 L320.8,389.2 L321.0,385.5 L321.1,383.0 L321.3,384.3 L321.5,389.1 L321.6,383.3 L321.8,387.2 L321.9,386.4 L322.1,388.8 L322.3,386.7 L322.4,384.5 L322.6,386.7 L322.7,385.6 L322.9,387.7 L323.1,385.3 L323.2,390.0 L323.4,385.3 L323.5,386.5 L323.7,384.0 L323.9,385.8 L324.0,385.6 L324.2,385.9 L324.3,387.6 L324.5,384.3 L324.7,383.6 L324.8,388.1 L325.0,384.9 L325.1,384.0 L325.3,388.2 L325.5,387.3 L325.6,379.5 L325.8,384.7 L325.9,387.4 L326.1,387.5 L326.3,384.4 L326.4,389.2 L326.6,383.8 L326.7,385.1 L326.9,385.9 L327.1,385.6 L327.2,387.5 L327.4,388.0 L327.5,385.5 L327.7,388.9 L327.9,384.1 L328.0,385.2 L328.2,389.6 L328.3,385.9 L328.5,388.1 L328.7,384.7 L328.8,385.1 L329.0,385.5 L329.1,386.1 L329.3,384.9 L329.5,385.8 L329.6,387.3 L329.8,388.5 L329.9,386.0 L330.1,387.2 L330.3,387.8 L330.4,383.3 L330.6,382.2 L330.7,389.5 L330.9,388.8 L331.1,385.9 L331.2,386.6 L331.4,383.6 L331.5,382.6 L331.7,386.5 L331.9,382.4 L332.0,387.9 L332.2,384.3 L332.3,386.5 L332.5,390.3 L332.7,390.1 L332.8,385.2 L333.0,388.3 L333.1,383.5 L333.3,384.5 L333.5,386.7 L333.6,389.0 L333.8,384.5 L333.9,387.1 L334.1,386.1 L334.3,383.0 L334.4,385.6 L334.6,389.3 L334.7,385.7 L334.9,387.0 L335.1,387.8 L335.2,384.2 L335.4,388.7 L335.5,389.3 L335.7,389.6 L335.9,388.9 L336.0,384.9 L336.2,384.6 L336.3,384.1 L336.5,383.9 L336.7,384.1 L336.8,388.2 L337.0,389.3 L337.1,384.5 L337.3,387.8 L337.5,383.1 L337.6,385.2 L337.8,383.7 L337.9,382.2 L338.1,386.1 L338.3,386.1 L338.4,385.0 L338.6,384.8 L338.7,383.7 L338.9,385.7 L339.1,384.6 L339.2,386.5 L339.4,383.2 L339.5,386.5 L339.7,387.2 L339.9,388.9 L340.0,388.4 L340.2,386.4 L340.3,384.4 L340.5,381.8 L340.7,386.0 L340.8,389.3 L341.0,389.8 L341.1,380.2 L341.3,384.3 L341.5,385.2 L341.6,383.7 L341.8,386.5 L341.9,386.1 L342.1,384.9 L342.3,386.0 L342.4,382.4 L342.6,383.8 L342.7,384.0 L342.9,388.1 L343.1,382.3 L343.2,385.6 L343.4,387.9 L343.5,386.0 L343.7,388.0 L343.9,384.6 L344.0,387.1 L344.2,388.2 L344.3,391.3 L344.5,387.8 L344.7,389.4 L344.8,386.2 L345.0,386.4 L345.1,389.8 L345.3,387.5 L345.5,389.4 L345.6,387.8 L345.8,391.1 L345.9,391.7 L346.1,384.3 L346.3,390.5 L346.4,387.2 L346.6,387.3 L346.7,386.0 L346.9,387.9 L347.1,383.7 L347.2,384.6 L347.4,384.5 L347.5,386.9 L347.7,388.4 L347.9,388.0 L348.0,387.1 L348.2,384.9 L348.3,382.2 L348.5,387.2 L348.7,386.6 L348.8,387.1 L349.0,389.6 L349.1,385.9 L349.3,385.9 L349.5,381.0 L349.6,387.6 L349.8,386.2 L349.9,384.6 L350.1,387.2 L350.3,383.9 L350.4,385.1 L350.6,390.8 L350.7,388.0 L350.9,388.4 L351.1,388.0 L351.2,387.7 L351.4,386.6 L351.5,391.3 L351.7,385.8 L351.9,387.6 L352.0,385.3 L352.2,384.8 L352.3,379.8 L352.5,380.8 L352.7,388.6 L352.8,388.2 L353.0,383.5 L353.1,384.1 L353.3,385.3 L353.5,381.3 L353.6,387.3 L353.8,380.5 L353.9,380.8 L354.1,375.8 L354.3,385.3 L354.4,381.6 L354.6,384.9 L354.7,378.7 L354.9,381.5 L355.1,380.8 L355.2,381.0 L355.4,385.3 L355.5,385.7 L355.7,383.8 L355.9,379.8 L356.0,383.0 L356.2,384.3 L356.3,382.7 L356.5,383.1 L356.7,383.2 L356.8,380.4 L357.0,383.4 L357.1,386.9 L357.3,381.3 L357.5,384.1 L357.6,386.2 L357.8,381.4 L357.9,384.5 L358.1,381.2 L358.3,383.9 L358.4,382.3 L358.6,383.6 L358.7,384.7 L358.9,385.4 L359.1,385.6 L359.2,380.7 L359.4,389.9 L359.5,385.7 L359.7,383.9 L359.9,385.0 L360.0,387.2 L360.2,384.2 L360.3,385.5 L360.5,385.4 L360.7,387.8 L360.8,384.8 L361.0,387.6 L361.1,387.3 L361.3,386.2 L361.5,389.4 L361.6,386.6 L361.8,383.9 L361.9,387.2 L362.1,386.9 L362.3,386.5 L362.4,387.1 L362.6,392.0 L362.7,387.1 L362.9,387.6 L363.1,386.0 L363.2,389.6 L363.4,386.5 L363.5,384.7 L363.7,383.8 L363.9,387.8 L364.0,388.3 L364.2,382.9 L364.3,384.9 L364.5,388.1 L364.7,389.0 L364.8,383.6 L365.0,385.7 L365.1,388.5 L365.3,385.4 L365.5,385.6 L365.6,385.4 L365.8,383.6 L365.9,386.7 L366.1,387.3 L366.3,383.4 L366.4,386.9 L366.6,389.2 L366.7,387.1 L366.9,388.8 L367.1,385.4 L367.2,389.8 L367.4,384.8 L367.5,391.0 L367.7,385.6 L367.9,385.0 L368.0,384.6 L368.2,385.7 L368.3,385.5 L368.5,385.1 L368.7,385.9 L368.8,388.2 L369.0,388.7 L369.1,385.9 L369.3,389.5 L369.5,384.4 L369.6,384.3 L369.8,384.1 L369.9,388.0 L370.1,383.1 L370.3,383.5 L370.4,389.6 L370.6,390.6 L370.7,389.8 L370.9,383.2 L371.1,386.7 L371.2,388.6 L371.4,386.9 L371.5,383.0 L371.7,385.9 L371.9,382.8 L372.0,383.8 L372.2,391.6 L372.3,388.2 L372.5,383.3 L372.7,383.2 L372.8,387.7 L373.0,385.3 L373.1,388.0 L373.3,385.2 L373.5,386.2 L373.6,387.2 L373.8,384.3 L373.9,382.3 L374.1,384.0 L374.3,385.1 L374.4,386.2 L374.6,386.6 L374.7,386.6 L374.9,387.9 L375.1,384.7 L375.2,389.9 L375.4,391.3 L375.5,387.6 L375.7,387.1 L375.9,389.6 L376.0,388.2 L376.2,387.2 L376.3,386.3 L376.5,385.0 L376.7,384.0 L376.8,388.3 L377.0,389.5 L377.1,384.3 L377.3,386.6 L377.5,387.2 L377.6,385.8 L377.8,385.0 L377.9,385.8 L378.1,382.2 L378.3,386.6 L378.4,386.1 L378.6,391.6 L378.7,388.9 L378.9,386.0 L379.1,386.7 L379.2,390.7 L379.4,390.5 L379.5,387.2 L379.7,386.5 L379.9,383.4 L380.0,386.0 L380.2,386.4 L380.3,385.1 L380.5,390.8 L380.7,382.5 L380.8,386.5 L381.0,387.7 L381.1,387.8 L381.3,390.7 L381.5,383.6 L381.6,385.1 L381.8,387.0 L381.9,387.1 L382.1,385.9 L382.3,385.0 L382.4,389.3 L382.6,384.4 L382.7,385.5 L382.9,390.1 L383.1,390.8 L383.2,388.8 L383.4,384.8 L383.5,384.9 L383.7,384.7 L383.9,384.2 L384.0,385.9 L384.2,389.7 L384.3,387.3 L384.5,385.1 L384.7,385.0 L384.8,384.1 L385.0,389.6 L385.1,382.2 L385.3,387.5 L385.5,383.5 L385.6,384.4 L385.8,383.4 L385.9,389.0 L386.1,386.6 L386.3,393.1 L386.4,384.4 L386.6,384.3 L386.7,388.2 L386.9,388.1 L387.1,386.2 L387.2,382.2 L387.4,390.2 L387.5,388.1 L387.7,387.7 L387.9,385.5 L388.0,388.3 L388.2,385.5 L388.3,386.9 L388.5,386.4 L388.7,389.7 L388.8,385.7 L389.0,386.0 L389.1,389.4 L389.3,387.3 L389.5,386.8 L389.6,386.3 L389.8,389.0 L389.9,385.3 L390.1,387.9 L390.3,391.5 L390.4,387.7 L390.6,385.0 L390.7,384.1 L390.9,387.2 L391.1,384.0 L391.2,383.2 L391.4,385.1 L391.5,384.3 L391.7,388.8 L391.9,383.5 L392.0,390.5 L392.2,385.1 L392.3,387.1 L392.5,388.4 L392.7,387.3 L392.8,388.5 L393.0,384.6 L393.1,381.6 L393.3,386.4 L393.5,383.0 L393.6,385.5 L393.8,389.0 L393.9,386.4 L394.1,385.5 L394.3,384.2 L394.4,386.2 L394.6,386.4 L394.7,383.2 L394.9,387.5 L395.1,384.3 L395.2,387.3 L395.4,385.8 L395.5,389.1 L395.7,388.8 L395.9,386.9 L396.0,386.6 L396.2,387.8 L396.3,390.0 L396.5,389.3 L396.7,387.2 L396.8,387.6 L397.0,390.5 L397.1,383.1 L397.3,388.2 L397.5,384.8 L397.6,390.0 L397.8,385.8 L397.9,386.7 L398.1,384.4 L398.3,387.0 L398.4,388.8 L398.6,390.8 L398.7,384.1 L398.9,386.0 L399.1,396.0 L399.2,389.2 L399.4,387.0 L399.5,388.2 L399.7,380.9 L399.9,390.8 L400.0,387.4 L400.2,383.8 L400.3,389.8 L400.5,385.6 L400.7,384.7 L400.8,388.3 L401.0,388.0 L401.1,386.0 L401.3,386.9 L401.5,384.0 L401.6,383.8 L401.8,389.2 L401.9,390.1 L402.1,388.1 L402.3,388.0 L402.4,386.2 L402.6,386.8 L402.7,385.0 L402.9,391.2 L403.1,385.8 L403.2,388.1 L403.4,387.1 L403.5,383.9 L403.7,391.6 L403.9,386.3 L404.0,385.4 L404.2,387.4 L404.3,385.1 L404.5,387.2 L404.7,384.9 L404.8,388.4 L405.0,387.3 L405.1,384.0 L405.3,389.5 L405.5,387.6 L405.6,384.6 L405.8,388.0 L405.9,388.1 L406.1,391.4 L406.3,385.2 L406.4,389.1 L406.6,387.0 L406.7,388.6 L406.9,386.6 L407.1,387.1 L407.2,388.3 L407.4,384.4 L407.5,382.3 L407.7,387.2 L407.9,386.2 L408.0,387.4 L408.2,388.7 L408.3,386.7 L408.5,390.0 L408.7,387.1 L408.8,387.5 L409.0,389.2 L409.1,388.6 L409.3,387.0 L409.5,387.5 L409.6,385.5 L409.8,385.9 L409.9,387.5 L410.1,389.2 L410.3,386.3 L410.4,389.2 L410.6,391.8 L410.7,392.2 L410.9,387.4 L411.1,389.7 L411.2,388.7 L411.4,389.1 L411.5,389.3 L411.7,388.5 L411.9,389.2 L412.0,387.8 L412.2,386.8 L412.3,387.9 L412.5,388.5 L412.7,390.2 L412.8,388.2 L413.0,389.1 L413.1,390.7 L413.3,385.2 L413.5,386.8 L413.6,388.6 L413.8,387.4 L413.9,385.0 L414.1,389.7 L414.3,387.2 L414.4,385.1 L414.6,391.8 L414.7,384.4 L414.9,387.4 L415.1,385.8 L415.2,387.6 L415.4,388.7 L415.5,385.5 L415.7,387.2 L415.9,387.1 L416.0,385.1 L416.2,390.1 L416.3,387.8 L416.5,386.7 L416.7,385.9 L416.8,386.6 L417.0,387.7 L417.1,386.3 L417.3,390.3 L417.5,381.5 L417.6,382.5 L417.8,386.8 L417.9,383.2 L418.1,387.3 L418.3,385.9 L418.4,388.8 L418.6,388.4 L418.7,390.4 L418.9,389.5 L419.1,390.3 L419.2,388.7 L419.4,389.9 L419.5,388.6 L419.7,386.1 L419.9,384.6 L420.0,384.7 L420.2,388.6 L420.3,382.0 L420.5,387.9 L420.7,385.7 L420.8,389.1 L421.0,387.9 L421.1,385.7 L421.3,387.5 L421.5,382.2 L421.6,388.1 L421.8,388.5 L421.9,383.2 L422.1,389.5 L422.3,387.2 L422.4,387.9 L422.6,384.2 L422.7,388.9 L422.9,388.8 L423.1,387.5 L423.2,385.2 L423.4,389.3 L423.5,390.4 L423.7,388.4 L423.9,389.8 L424.0,386.2 L424.2,387.9 L424.3,388.4 L424.5,387.9 L424.7,394.0 L424.8,388.5 L425.0,386.3 L425.1,389.5 L425.3,385.1 L425.5,388.4 L425.6,389.4 L425.8,386.5 L425.9,386.9 L426.1,385.5 L426.3,387.9 L426.4,386.1 L426.6,391.6 L426.7,389.1 L426.9,387.1 L427.1,384.4 L427.2,392.3 L427.4,390.7 L427.5,388.7 L427.7,388.1 L427.9,388.0 L428.0,386.6 L428.2,392.0 L428.3,388.1 L428.5,384.3 L428.7,386.1 L428.8,381.6 L429.0,389.0 L429.1,389.2 L429.3,391.4 L429.5,392.1 L429.6,385.4 L429.8,388.1 L429.9,389.2 L430.1,388.5 L430.3,385.4 L430.4,388.2 L430.6,387.2 L430.7,389.0 L430.9,385.5 L431.1,384.8 L431.2,383.9 L431.4,384.0 L431.5,382.8 L431.7,383.6 L431.9,385.3 L432.0,385.1 L432.2,386.9 L432.3,386.3 L432.5,385.2 L432.7,381.1 L432.8,385.1 L433.0,386.5 L433.1,381.0 L433.3,381.6 L433.5,382.1 L433.6,382.1 L433.8,384.1 L433.9,382.9 L434.1,386.2 L434.3,382.8 L434.4,385.5 L434.6,384.9 L434.7,384.0 L434.9,388.9 L435.1,386.7 L435.2,388.1 L435.4,386.2 L435.5,388.8 L435.7,388.7 L435.9,387.0 L436.0,383.4 L436.2,389.4 L436.3,389.2 L436.5,388.0 L436.7,388.2 L436.8,388.0 L437.0,388.2 L437.1,385.4 L437.3,387.6 L437.5,388.5 L437.6,386.4 L437.8,385.6 L437.9,392.1 L438.1,389.2 L438.3,387.1 L438.4,386.7 L438.6,381.8 L438.7,384.6 L438.9,387.3 L439.1,390.8 L439.2,383.1 L439.4,386.2 L439.5,392.3 L439.7,389.4 L439.9,388.8 L440.0,390.6 L440.2,387.6 L440.3,387.5 L440.5,389.5 L440.7,389.9 L440.8,385.4 L441.0,391.4 L441.1,383.9 L441.3,386.3 L441.5,395.0 L441.6,386.8 L441.8,389.4 L441.9,385.6 L442.1,387.2 L442.3,386.3 L442.4,387.0 L442.6,389.5 L442.7,392.0 L442.9,390.0 L443.1,391.6 L443.2,386.8 L443.4,391.4 L443.5,389.3 L443.7,391.2 L443.9,387.0 L444.0,387.5 L444.2,391.2 L444.3,389.4 L444.5,388.3 L444.7,386.4 L444.8,387.8 L445.0,389.1 L445.1,389.7 L445.3,386.7 L445.5,387.2 L445.6,389.0 L445.8,385.5 L445.9,390.2 L446.1,388.0 L446.3,387.7 L446.4,382.4 L446.6,384.3 L446.7,385.6 L446.9,386.6 L447.1,385.4 L447.2,388.8 L447.4,388.3 L447.5,387.4 L447.7,383.3 L447.9,391.2 L448.0,387.3 L448.2,389.3 L448.3,386.4 L448.5,388.0 L448.7,389.6 L448.8,388.5 L449.0,390.2 L449.1,387.6 L449.3,392.6 L449.5,383.7 L449.6,386.7 L449.8,390.3 L449.9,387.4 L450.1,387.0 L450.3,383.9 L450.4,390.8 L450.6,383.7 L450.7,389.2 L450.9,388.5 L451.1,390.1 L451.2,391.4 L451.4,386.4 L451.5,386.2 L451.7,387.3 L451.9,384.1 L452.0,389.9 L452.2,387.1 L452.3,388.4 L452.5,385.5 L452.7,388.1 L452.8,386.6 L453.0,387.9 L453.1,385.6 L453.3,390.4 L453.5,386.6 L453.6,382.2 L453.8,389.6 L453.9,387.4 L454.1,386.0 L454.3,393.8 L454.4,388.0 L454.6,385.0 L454.7,386.7 L454.9,389.0 L455.1,387.6 L455.2,391.0 L455.4,390.6 L455.5,386.3 L455.7,388.2 L455.9,389.6 L456.0,387.2 L456.2,387.1 L456.3,390.2 L456.5,389.2 L456.7,384.9 L456.8,386.9 L457.0,387.2 L457.1,387.9 L457.3,386.5 L457.5,391.3 L457.6,385.9 L457.8,385.7 L457.9,388.7 L458.1,383.0 L458.3,385.8 L458.4,389.6 L458.6,385.2 L458.7,386.3 L458.9,390.7 L459.1,389.3 L459.2,388.4 L459.4,388.8 L459.5,386.7 L459.7,389.0 L459.9,387.8 L460.0,394.0 L460.2,389.5 L460.3,387.5 L460.5,388.2 L460.7,388.4 L460.8,385.1 L461.0,386.4 L461.1,391.8 L461.3,385.1 L461.5,387.0 L461.6,390.7 L461.8,391.8 L461.9,386.0 L462.1,391.7 L462.3,387.5 L462.4,392.2 L462.6,389.5 L462.7,387.7 L462.9,390.1 L463.1,389.7 L463.2,386.6 L463.4,393.3 L463.5,387.6 L463.7,391.1 L463.9,387.3 L464.0,384.2 L464.2,385.9 L464.3,388.2 L464.5,390.0 L464.7,392.5 L464.8,388.6 L465.0,387.8 L465.1,385.6 L465.3,388.4 L465.5,389.2 L465.6,383.4 L465.8,391.5 L465.9,391.1 L466.1,393.7 L466.3,386.4 L466.4,388.6 L466.6,388.5 L466.7,385.5 L466.9,386.6 L467.1,386.2 L467.2,389.7 L467.4,389.5 L467.5,391.6 L467.7,387.6 L467.9,385.3 L468.0,389.5 L468.2,389.4 L468.3,390.1 L468.5,391.4 L468.7,387.2 L468.8,390.4 L469.0,386.2 L469.1,388.9 L469.3,390.2 L469.5,388.3 L469.6,389.1 L469.8,385.4 L469.9,387.1 L470.1,388.9 L470.3,385.8 L470.4,386.6 L470.6,394.2 L470.7,389.2 L470.9,386.7 L471.1,386.2 L471.2,391.8 L471.4,382.1 L471.5,387.7 L471.7,389.9 L471.9,387.2 L472.0,389.7 L472.2,386.1 L472.3,388.4 L472.5,388.6 L472.7,388.5 L472.8,388.8 L473.0,388.5 L473.1,391.0 L473.3,387.9 L473.5,387.1 L473.6,387.8 L473.8,387.8 L473.9,385.0 L474.1,384.1 L474.3,385.4 L474.4,389.1 L474.6,386.9 L474.7,387.5 L474.9,395.1 L475.1,391.1 L475.2,388.0 L475.4,387.0 L475.5,391.7 L475.7,386.7 L475.9,391.4 L476.0,389.9 L476.2,391.7 L476.3,386.8 L476.5,390.6 L476.7,384.4 L476.8,388.1 L477.0,391.0 L477.1,390.1 L477.3,384.3 L477.5,390.1 L477.6,389.6 L477.8,388.4 L477.9,386.9 L478.1,387.9 L478.3,387.2 L478.4,390.7 L478.6,389.6 L478.7,391.0 L478.9,390.1 L479.1,385.5 L479.2,388.8 L479.4,393.4 L479.5,385.9 L479.7,389.1 L479.9,386.6 L480.0,386.3 L480.2,388.8 L480.3,390.4 L480.5,390.0 L480.7,389.2 L480.8,390.3 L481.0,384.3 L481.1,389.8 L481.3,388.8 L481.5,387.4 L481.6,387.6 L481.8,385.6 L481.9,390.1 L482.1,385.5 L482.3,383.7 L482.4,386.9 L482.6,385.3 L482.7,386.3 L482.9,389.7 L483.1,385.6 L483.2,385.9 L483.4,390.6 L483.5,381.8 L483.7,385.5 L483.9,387.0 L484.0,387.4 L484.2,388.6 L484.3,381.5 L484.5,383.9 L484.7,381.8 L484.8,380.5 L485.0,379.3 L485.1,377.1 L485.3,380.6 L485.5,381.0 L485.6,376.2 L485.8,379.8 L485.9,376.1 L486.1,374.4 L486.3,370.0 L486.4,378.0 L486.6,376.4 L486.7,373.4 L486.9,372.5 L487.1,369.8 L487.2,373.3 L487.4,371.3 L487.5,372.1 L487.7,370.7 L487.9,366.5 L488.0,365.6 L488.2,369.6 L488.3,364.3 L488.5,368.4 L488.7,369.4 L488.8,364.0 L489.0,368.2 L489.1,366.4 L489.3,367.3 L489.5,364.4 L489.6,365.7 L489.8,366.6 L489.9,369.8 L490.1,367.2 L490.3,366.6 L490.4,362.5 L490.6,366.3 L490.7,364.1 L490.9,365.6 L491.1,366.6 L491.2,368.4 L491.4,367.7 L491.5,367.0 L491.7,366.7 L491.9,370.2 L492.0,365.2 L492.2,367.6 L492.3,371.0 L492.5,367.6 L492.7,370.2 L492.8,370.6 L493.0,373.3 L493.1,371.6 L493.3,365.3 L493.5,369.3 L493.6,370.1 L493.8,371.5 L493.9,370.5 L494.1,374.1 L494.3,372.3 L494.4,367.0 L494.6,368.3 L494.7,364.9 L494.9,373.7 L495.1,369.3 L495.2,369.1 L495.4,365.7 L495.5,368.1 L495.7,370.0 L495.9,367.9 L496.0,367.7 L496.2,366.9 L496.3,372.8 L496.5,366.7 L496.7,364.3 L496.8,366.3 L497.0,366.5 L497.1,366.8 L497.3,366.3 L497.5,364.1 L497.6,366.0 L497.8,367.2 L497.9,362.9 L498.1,370.7 L498.3,369.9 L498.4,361.7 L498.6,365.0 L498.7,368.2 L498.9,369.0 L499.1,370.1 L499.2,361.8 L499.4,363.6 L499.5,365.1 L499.7,367.8 L499.9,364.3 L500.0,368.1 L500.2,368.4 L500.3,369.4 L500.5,365.0 L500.7,368.9 L500.8,369.0 L501.0,368.3 L501.1,372.8 L501.3,369.6 L501.5,374.2 L501.6,369.9 L501.8,375.9 L501.9,376.3 L502.1,371.1 L502.3,374.4 L502.4,375.0 L502.6,372.5 L502.7,377.3 L502.9,377.4 L503.1,374.6 L503.2,377.5 L503.4,379.9 L503.5,378.1 L503.7,377.4 L503.9,383.4 L504.0,377.9 L504.2,381.5 L504.3,383.9 L504.5,383.6 L504.7,378.0 L504.8,382.0 L505.0,382.9 L505.1,383.2 L505.3,385.6 L505.5,385.8 L505.6,385.2 L505.8,385.9 L505.9,388.0 L506.1,388.9 L506.3,381.9 L506.4,391.7 L506.6,385.6 L506.7,389.0 L506.9,383.6 L507.1,386.4 L507.2,384.9 L507.4,390.6 L507.5,390.3 L507.7,388.4 L507.9,388.2 L508.0,389.6 L508.2,386.7 L508.3,387.7 L508.5,387.5 L508.7,391.3 L508.8,389.6 L509.0,386.7 L509.1,390.6 L509.3,391.2 L509.5,393.3 L509.6,388.9 L509.8,391.2 L509.9,395.3 L510.1,389.7 L510.3,389.7 L510.4,391.9 L510.6,389.6 L510.7,390.8 L510.9,389.7 L511.1,389.2 L511.2,393.1 L511.4,390.3 L511.5,388.9 L511.7,390.6 L511.9,391.0 L512.0,392.1 L512.2,393.7 L512.3,395.7 L512.5,388.7 L512.7,391.1 L512.8,387.5 L513.0,392.3 L513.1,393.1 L513.3,390.4 L513.5,389.8 L513.6,389.7 L513.8,388.6 L513.9,393.6 L514.1,396.6 L514.3,389.6 L514.4,396.1 L514.6,392.1 L514.7,389.2 L514.9,393.8 L515.1,394.3 L515.2,393.5 L515.4,392.0 L515.5,396.6 L515.7,392.1 L515.9,394.3 L516.0,394.4 L516.2,390.8 L516.3,388.5 L516.5,388.8 L516.7,391.9 L516.8,393.7 L517.0,388.7 L517.1,391.2 L517.3,396.4 L517.5,388.7 L517.6,393.9 L517.8,393.7 L517.9,394.7 L518.1,389.4 L518.3,393.7 L518.4,389.6 L518.6,396.0 L518.7,390.9 L518.9,393.8 L519.1,391.0 L519.2,393.2 L519.4,389.3 L519.5,393.6 L519.7,394.3 L519.9,392.9 L520.0,396.7 L520.2,393.8 L520.3,394.8 L520.5,394.1 L520.7,397.3 L520.8,391.4 L521.0,392.3 L521.1,392.5 L521.3,394.4 L521.5,393.6 L521.6,394.9 L521.8,393.7 L521.9,391.8 L522.1,392.9 L522.3,394.1 L522.4,387.7 L522.6,396.3 L522.7,391.7 L522.9,392.2 L523.1,393.7 L523.2,392.5 L523.4,389.7 L523.5,392.6 L523.7,396.4 L523.9,395.6 L524.0,396.0 L524.2,391.9 L524.3,392.7 L524.5,395.7 L524.7,396.7 L524.8,393.3 L525.0,391.0 L525.1,388.7 L525.3,396.6 L525.5,389.7 L525.6,394.3 L525.8,395.4 L525.9,400.9 L526.1,393.8 L526.3,393.1 L526.4,394.4 L526.6,394.6 L526.7,396.5 L526.9,395.0 L527.1,391.6 L527.2,388.4 L527.4,394.1 L527.5,391.8 L527.7,396.7 L527.9,390.3 L528.0,393.9 L528.2,391.7 L528.3,391.4 L528.5,397.4 L528.7,393.9 L528.8,393.0 L529.0,395.2 L529.1,391.6 L529.3,392.6 L529.5,392.0 L529.6,398.2 L529.8,394.3 L529.9,395.0 L530.1,396.2 L530.3,393.1 L530.4,393.2 L530.6,389.7 L530.7,394.7 L530.9,394.2 L531.1,392.6 L531.2,396.4 L531.4,389.3 L531.5,394.6 L531.7,390.3 L531.9,390.9 L532.0,393.1 L532.2,396.8 L532.3,390.8 L532.5,391.2 L532.7,390.7 L532.8,398.4 L533.0,394.9 L533.1,394.6 L533.3,398.6 L533.5,394.2 L533.6,388.6 L533.8,392.5 L533.9,390.8 L534.1,398.5 L534.3,390.3 L534.4,394.4 L534.6,392.5 L534.7,392.6 L534.9,393.7 L535.1,393.4 L535.2,392.1 L535.4,390.8 L535.5,392.2 L535.7,391.2 L535.9,391.6 L536.0,394.0 L536.2,393.4 L536.3,394.9 L536.5,393.2 L536.7,398.3 L536.8,392.0 L537.0,391.4 L537.1,396.2 L537.3,392.1 L537.5,394.1 L537.6,396.1 L537.8,393.6 L537.9,392.9 L538.1,396.1 L538.3,394.6 L538.4,392.5 L538.6,391.0 L538.7,392.9 L538.9,389.9 L539.1,391.7 L539.2,391.2 L539.4,394.5 L539.5,395.7 L539.7,392.3 L539.9,392.8 L540.0,391.2 L540.2,390.6 L540.3,392.8 L540.5,395.2 L540.7,395.0 L540.8,395.3 L541.0,393.2 L541.1,387.4 L541.3,396.1 L541.5,397.1 L541.6,396.1 L541.8,396.1 L541.9,396.6 L542.1,400.3 L542.3,394.7 L542.4,397.7 L542.6,395.9 L542.7,395.6 L542.9,393.7 L543.1,393.2 L543.2,391.3 L543.4,395.4 L543.5,393.3 L543.7,391.2 L543.9,392.2 L544.0,391.2 L544.2,397.9 L544.3,393.5 L544.5,394.3 L544.7,391.2 L544.8,391.6 L545.0,396.6 L545.1,393.5 L545.3,394.6 L545.5,398.5 L545.6,399.1 L545.8,395.8 L545.9,395.3 L546.1,394.7 L546.3,393.4 L546.4,399.0 L546.6,391.2 L546.7,393.9 L546.9,389.6 L547.1,391.1 L547.2,395.1 L547.4,395.3 L547.5,395.0 L547.7,393.4 L547.9,392.5 L548.0,392.9 L548.2,393.3 L548.3,396.8 L548.5,397.7 L548.7,395.3 L548.8,392.9 L549.0,392.0 L549.1,395.0 L549.3,393.7 L549.5,389.9 L549.6,397.5 L549.8,394.2 L549.9,393.5 L550.1,392.2 L550.3,392.2 L550.4,396.4 L550.6,392.0 L550.7,394.5 L550.9,395.8 L551.1,398.7 L551.2,395.8 L551.4,394.2 L551.5,393.3 L551.7,396.4 L551.9,396.7 L552.0,393.3 L552.2,395.8 L552.3,394.0 L552.5,390.5 L552.7,392.0 L552.8,396.3 L553.0,397.8 L553.1,396.0 L553.3,393.9 L553.5,392.7 L553.6,395.7 L553.8,395.2 L553.9,390.6 L554.1,396.0 L554.3,392.7 L554.4,396.0 L554.6,395.7 L554.7,396.2 L554.9,397.0 L555.1,396.1 L555.2,391.9 L555.4,392.0 L555.5,396.9 L555.7,395.6 L555.9,390.7 L556.0,389.6 L556.2,396.5 L556.3,399.7 L556.5,396.3 L556.7,393.7 L556.8,394.9 L557.0,387.6 L557.1,391.7 L557.3,396.4 L557.5,395.9 L557.6,388.6 L557.8,396.3 L557.9,394.5 L558.1,395.2 L558.3,392.2 L558.4,392.4 L558.6,389.5 L558.7,392.4 L558.9,393.4 L559.1,388.5 L559.2,391.2 L559.4,388.5 L559.5,391.8 L559.7,391.1 L559.9,382.6 L560.0,388.8 L560.2,389.6 L560.3,385.4 L560.5,385.8 L560.7,385.6 L560.8,382.8 L561.0,385.0 L561.1,388.8 L561.3,386.1 L561.5,388.6 L561.6,387.4 L561.8,388.0 L561.9,385.6 L562.1,387.4 L562.3,390.7 L562.4,389.8 L562.6,387.5 L562.7,385.5 L562.9,385.5 L563.1,388.8 L563.2,389.8 L563.4,384.9 L563.5,390.4 L563.7,391.2 L563.9,391.6 L564.0,390.1 L564.2,397.4 L564.3,394.4 L564.5,389.4 L564.7,391.4 L564.8,395.3 L565.0,394.9 L565.1,394.2 L565.3,394.1 L565.5,393.9 L565.6,393.5 L565.8,392.2 L565.9,396.2 L566.1,388.3 L566.3,393.2 L566.4,398.0 L566.6,393.2 L566.7,392.3 L566.9,399.7 L567.1,397.7 L567.2,394.9 L567.4,393.9 L567.5,394.8 L567.7,394.5 L567.9,394.8 L568.0,393.6 L568.2,396.7 L568.3,394.1 L568.5,391.1 L568.7,392.3 L568.8,395.4 L569.0,393.0 L569.1,389.5 L569.3,399.0 L569.5,396.6 L569.6,394.3 L569.8,394.2 L569.9,396.7 L570.1,398.8 L570.3,394.0 L570.4,396.5 L570.6,394.0 L570.7,396.3 L570.9,392.8 L571.1,391.2 L571.2,395.8 L571.4,395.4 L571.5,397.3 L571.7,394.0 L571.9,398.9 L572.0,395.8 L572.2,399.3 L572.3,394.8 L572.5,399.3 L572.7,395.5 L572.8,396.0 L573.0,398.0 L573.1,391.5 L573.3,393.2 L573.5,400.1 L573.6,392.2 L573.8,394.6 L573.9,397.1 L574.1,399.3 L574.3,394.6 L574.4,396.1 L574.6,393.1 L574.7,394.9 L574.9,398.3 L575.1,396.7 L575.2,395.8 L575.4,396.9 L575.5,396.3 L575.7,396.3 L575.9,395.1 L576.0,393.6 L576.2,397.6 L576.3,393.3 L576.5,398.4 L576.7,401.1 L576.8,399.7 L577.0,401.6 L577.1,393.6 L577.3,396.7 L577.5,394.1 L577.6,394.4 L577.8,392.1 L577.9,393.3 L578.1,398.2 L578.3,397.9 L578.4,399.1 L578.6,398.9 L578.7,398.1 L578.9,394.4 L579.1,396.0 L579.2,398.0 L579.4,399.3 L579.5,395.5 L579.7,395.2 L579.9,395.3 L580.0,400.2 L580.2,397.8 L580.3,395.7 L580.5,394.6 L580.7,397.5 L580.8,392.5 L581.0,396.0 L581.1,395.2 L581.3,395.1 L581.5,397.0 L581.6,397.5 L581.8,403.8 L581.9,396.8 L582.1,398.3 L582.3,394.7 L582.4,392.7 L582.6,399.4 L582.7,401.3 L582.9,394.3 L583.1,396.5 L583.2,399.4 L583.4,397.0 L583.5,391.1 L583.7,399.2 L583.9,396.4 L584.0,398.5 L584.2,394.5 L584.3,398.9 L584.5,399.3 L584.7,395.1 L584.8,398.0 L585.0,395.4 L585.1,395.7 L585.3,394.8 L585.5,395.9 L585.6,395.3 L585.8,399.7 L585.9,396.4 L586.1,394.3 L586.3,400.2 L586.4,398.3 L586.6,399.3 L586.7,396.9 L586.9,398.7 L587.1,396.8 L587.2,394.8 L587.4,397.3 L587.5,397.4 L587.7,397.4 L587.9,399.1 L588.0,393.0 L588.2,397.8 L588.3,395.2 L588.5,396.5 L588.7,398.2 L588.8,397.3 L589.0,395.6 L589.1,399.0 L589.3,397.1 L589.5,399.4 L589.6,400.1 L589.8,396.4 L589.9,394.6 L590.1,397.4 L590.3,399.2 L590.4,398.0 L590.6,394.5 L590.7,393.3 L590.9,395.1 L591.1,395.1 L591.2,398.8 L591.4,397.5 L591.5,399.4 L591.7,397.1 L591.9,401.3 L592.0,397.4 L592.2,398.7 L592.3,396.4 L592.5,398.4 L592.7,399.9 L592.8,399.2 L593.0,400.4 L593.1,396.0 L593.3,398.5 L593.5,401.5 L593.6,398.0 L593.8,397.1 L593.9,396.9 L594.1,396.2 L594.3,397.8 L594.4,400.8 L594.6,398.6 L594.7,397.4 L594.9,395.6 L595.1,394.8 L595.2,403.1 L595.4,396.4 L595.5,397.8 L595.7,396.4 L595.9,397.9 L596.0,396.5 L596.2,397.8 L596.3,400.9 L596.5,395.8 L596.7,398.8 L596.8,397.4 L597.0,399.2 L597.1,396.0 L597.3,398.5 L597.5,395.3 L597.6,393.3 L597.8,394.5 L597.9,395.3 L598.1,394.9 L598.3,396.8 L598.4,400.1 L598.6,394.9 L598.7,398.6 L598.9,397.9 L599.1,395.9 L599.2,395.4 L599.4,398.6 L599.5,398.7 L599.7,396.8 L599.9,397.2 L600.0,397.6 L600.2,394.5 L600.3,397.8 L600.5,398.3 L600.7,401.7 L600.8,394.6 L601.0,395.6 L601.1,397.8 L601.3,396.3 L601.5,396.7 L601.6,397.7 L601.8,397.0 L601.9,397.6 L602.1,398.7 L602.3,393.9 L602.4,399.0 L602.6,392.5 L602.7,401.6 L602.9,399.8 L603.1,396.3 L603.2,400.1 L603.4,397.4 L603.5,398.7 L603.7,399.5 L603.9,398.6 L604.0,397.8 L604.2,399.2 L604.3,397.3 L604.5,396.9 L604.7,395.6 L604.8,393.6 L605.0,401.5 L605.1,399.6 L605.3,394.6 L605.5,398.8 L605.6,398.3 L605.8,392.8 L605.9,395.9 L606.1,397.6 L606.3,401.8 L606.4,400.4 L606.6,400.8 L606.7,398.6 L606.9,400.2 L607.1,395.2 L607.2,399.4 L607.4,399.6 L607.5,395.0 L607.7,398.5 L607.9,401.5 L608.0,402.4 L608.2,401.3 L608.3,396.4 L608.5,397.8 L608.7,396.8 L608.8,400.9 L609.0,396.1 L609.1,395.6 L609.3,394.3 L609.5,398.5 L609.6,399.1 L609.8,396.7 L609.9,396.3 L610.1,397.7 L610.3,401.2 L610.4,395.0 L610.6,398.0 L610.7,398.6 L610.9,399.0 L611.1,401.0 L611.2,400.1 L611.4,398.8 L611.5,401.5 L611.7,400.8 L611.9,398.9 L612.0,398.7 L612.2,395.5 L612.3,398.5 L612.5,396.4 L612.7,395.6 L612.8,397.6 L613.0,394.3 L613.1,396.2 L613.3,397.1 L613.5,399.0 L613.6,397.5 L613.8,399.2 L613.9,401.9 L614.1,400.1 L614.3,395.6 L614.4,394.2 L614.6,396.1 L614.7,396.2 L614.9,393.7 L615.1,394.3 L615.2,394.3 L615.4,396.8 L615.5,401.5 L615.7,402.2 L615.9,395.9 L616.0,397.2 L616.2,395.0 L616.3,394.4 L616.5,398.0 L616.7,398.3 L616.8,396.7 L617.0,399.6 L617.1,397.4 L617.3,400.7 L617.5,397.0 L617.6,400.1 L617.8,397.7 L617.9,398.4 L618.1,399.6 L618.3,395.1 L618.4,396.5 L618.6,398.0 L618.7,397.5 L618.9,398.8 L619.1,396.3 L619.2,395.1 L619.4,397.9 L619.5,398.9 L619.7,396.4 L619.9,401.0 L620.0,399.8 L620.2,400.2 L620.3,400.1 L620.5,396.3 L620.7,403.2 L620.8,396.7 L621.0,399.2 L621.1,400.0 L621.3,399.2 L621.5,398.9 L621.6,396.6 L621.8,397.6 L621.9,398.6 L622.1,401.5 L622.3,397.0 L622.4,400.1 L622.6,399.6 L622.7,398.8 L622.9,397.4 L623.1,398.3 L623.2,394.7 L623.4,398.9 L623.5,399.5 L623.7,397.5 L623.9,400.0 L624.0,399.5 L624.2,397.1 L624.3,400.7 L624.5,397.6 L624.7,404.4 L624.8,396.5 L625.0,397.0 L625.1,397.4 L625.3,399.4 L625.5,401.5 L625.6,399.1 L625.8,398.0 L625.9,403.3 L626.1,401.2 L626.3,398.3 L626.4,398.6 L626.6,395.4 L626.7,399.0 L626.9,402.9 L627.1,396.2 L627.2,395.7 L627.4,399.2 L627.5,393.4 L627.7,402.1 L627.9,395.4 L628.0,397.3 L628.2,398.6 L628.3,401.7 L628.5,399.8 L628.7,394.5 L628.8,395.0 L629.0,399.4 L629.1,394.1 L629.3,398.2 L629.5,397.0 L629.6,400.7 L629.8,401.6 L629.9,393.1 L630.1,399.9 L630.3,400.3 L630.4,397.1 L630.6,397.5 L630.7,396.1 L630.9,398.1 L631.1,399.8 L631.2,401.9 L631.4,402.2 L631.5,398.2 L631.7,397.0 L631.9,401.2 L632.0,392.5 L632.2,395.7 L632.3,400.4 L632.5,404.0 L632.7,397.1 L632.8,399.1 L633.0,396.3" fill="none" stroke="#1c6fdc" stroke-width="1.5" stroke-linejoin="round"/>
<line x1="275.5" y1="386" x2="275.5" y2="477" stroke="#808080" stroke-width="2.4" stroke-dasharray="6,4"/>
<rect x="97" y="41" width="45.0" height="434" fill="#d0d0d0" fill-opacity="0.4"/>
<rect x="183.5" y="41" width="26.1" height="434" fill="#d0d0d0" fill-opacity="0.4"/>
<rect x="265" y="41" width="26.0" height="434" fill="#d0d0d0" fill-opacity="0.4"/>
<rect x="84" y="36.5" width="550.5" height="443.0" fill="none" stroke="#000" stroke-width="3"/>
<line x1="112.9" y1="479.5" x2="112.9" y2="488.0" stroke="#000" stroke-width="3"/>
<line x1="187.5" y1="479.5" x2="187.5" y2="488.0" stroke="#000" stroke-width="3"/>
<line x1="262.1" y1="479.5" x2="262.1" y2="488.0" stroke="#000" stroke-width="3"/>
<line x1="336.7" y1="479.5" x2="336.7" y2="488.0" stroke="#000" stroke-width="3"/>
<line x1="411.3" y1="479.5" x2="411.3" y2="488.0" stroke="#000" stroke-width="3"/>
<line x1="485.9" y1="479.5" x2="485.9" y2="488.0" stroke="#000" stroke-width="3"/>
<line x1="560.5" y1="479.5" x2="560.5" y2="488.0" stroke="#000" stroke-width="3"/>
<line x1="635.1" y1="479.5" x2="635.1" y2="488.0" stroke="#000" stroke-width="3"/>
<line x1="150.2" y1="479.5" x2="150.2" y2="484.0" stroke="#000" stroke-width="3"/>
<line x1="224.8" y1="479.5" x2="224.8" y2="484.0" stroke="#000" stroke-width="3"/>
<line x1="299.4" y1="479.5" x2="299.4" y2="484.0" stroke="#000" stroke-width="3"/>
<line x1="374.0" y1="479.5" x2="374.0" y2="484.0" stroke="#000" stroke-width="3"/>
<line x1="448.6" y1="479.5" x2="448.6" y2="484.0" stroke="#000" stroke-width="3"/>
<line x1="523.2" y1="479.5" x2="523.2" y2="484.0" stroke="#000" stroke-width="3"/>
<line x1="597.8" y1="479.5" x2="597.8" y2="484.0" stroke="#000" stroke-width="3"/>
<text x="112.9" y="522.0" font-size="35" text-anchor="middle" fill="#000" >5</text>
<text x="187.5" y="522.0" font-size="35" text-anchor="middle" fill="#000" >10</text>
<text x="262.1" y="522.0" font-size="35" text-anchor="middle" fill="#000" >15</text>
<text x="336.7" y="522.0" font-size="35" text-anchor="middle" fill="#000" >20</text>
<text x="411.3" y="522.0" font-size="35" text-anchor="middle" fill="#000" >25</text>
<text x="485.9" y="522.0" font-size="35" text-anchor="middle" fill="#000" >30</text>
<text x="560.5" y="522.0" font-size="35" text-anchor="middle" fill="#000" >35</text>
<text x="635.1" y="522.0" font-size="35" text-anchor="middle" fill="#000" >40</text>
<text x="257.5" y="568.0" font-size="35" text-anchor="start" fill="#000" >2<tspan font-style="italic" dx="1.5">θ</tspan><tspan dx="3"> (degree)</tspan></text>
<text transform="translate(63,256.7) rotate(-90)" font-size="36" text-anchor="middle">Intensity (a.u.)</text>
<line x1="117.2" y1="38" x2="117.2" y2="60" stroke="#8a8a8a" stroke-width="2.6"/>
<line x1="197.3" y1="38" x2="197.3" y2="60" stroke="#8a8a8a" stroke-width="2.6"/>
<line x1="268.4" y1="38" x2="268.4" y2="62" stroke="#e8101a" stroke-width="2.6"/>
<line x1="272.7" y1="38" x2="272.7" y2="62" stroke="#8a8a8a" stroke-width="2.6"/>
<line x1="435.5" y1="38" x2="435.5" y2="64" stroke="#3d7fc1" stroke-width="2.6"/>
<line x1="490" y1="38" x2="490" y2="64" stroke="#000" stroke-width="2.6"/>
<line x1="498.5" y1="38" x2="498.5" y2="64" stroke="#e8101a" stroke-width="2.6"/>
<line x1="516" y1="38" x2="516" y2="64" stroke="#8a8a8a" stroke-width="2.6"/>
<text x="115.8" y="89.0" font-size="31" text-anchor="middle" fill="#8a8a8a" >#</text>
<text x="194.7" y="89.0" font-size="31" text-anchor="middle" fill="#8a8a8a" >#</text>
<text x="254.0" y="90.0" font-size="31" text-anchor="start" fill="#e8101a" >α</text>
<text x="279.3" y="93.5" font-size="31" text-anchor="middle" fill="#8a8a8a" >#</text>
<text x="436.0" y="94.6" font-size="31" text-anchor="middle" fill="#3d7fc1" >Δ</text>
<text x="486.5" y="95.5" font-size="26" text-anchor="middle" fill="#000" style="font-family:'Liberation Serif','Noto Serif CJK SC',serif">⊕</text>
<text x="495.0" y="96.3" font-size="31" text-anchor="start" fill="#e8101a" >α</text>
<text x="518.5" y="96.3" font-size="31" text-anchor="middle" fill="#8a8a8a" >#</text>
<text x="442.5" y="152.0" font-size="31" text-anchor="middle" fill="#8a8a8a" >#</text>
<text x="444.5" y="190.0" font-size="31" text-anchor="middle" fill="#3d7fc1" >Δ</text>
<text x="434.0" y="228.6" font-size="31" text-anchor="start" fill="#e8101a" >α</text>
<text x="450.0" y="265.0" font-size="26" text-anchor="middle" fill="#000" style="font-family:'Liberation Serif','Noto Serif CJK SC',serif">⊕</text>
<text x="463.2" y="151.5" font-size="18.5" text-anchor="start" fill="#000" stroke="#000" stroke-width="1.8" stroke-linejoin="round">:</text>
<text x="467.1" y="189.4" font-size="18.5" text-anchor="start" fill="#000" stroke="#000" stroke-width="1.8" stroke-linejoin="round">:</text>
<text x="464.2" y="227.7" font-size="18.5" text-anchor="start" fill="#000" stroke="#000" stroke-width="1.8" stroke-linejoin="round">:</text>
<text x="468.6" y="266.4" font-size="18.5" text-anchor="start" fill="#000" stroke="#000" stroke-width="1.8" stroke-linejoin="round">:</text>
<text x="490.0" y="152.0" font-size="30.5" text-anchor="start" fill="#000" >2D <tspan font-style="italic">n</tspan>=1</text>
<text x="493.5" y="190.0" font-size="30.5" text-anchor="start" fill="#000" >2D <tspan font-style="italic">n</tspan>&gt;2</text>
<text x="492.0" y="228.6" font-size="30.5" text-anchor="start" fill="#000" >largest <tspan font-style="italic">n</tspan></text>
<text x="497.0" y="266.7" font-size="30.5" text-anchor="start" fill="#000" >ITO</text>
<text x="326.0" y="368.0" font-size="31.2" text-anchor="start" fill="#1c6fdc" >5% TPPCl</text>
<text x="353.5" y="437.4" font-size="31.5" text-anchor="start" fill="#000" >Pristine</text>
<text x="12.0" y="50.0" font-size="48" text-anchor="start" fill="#000" letter-spacing="1.3">(a)</text>
<path d="M771.8,83.1 C773.8,85.8 779.1,93.0 783.7,98.9 C788.3,104.8 794.9,112.4 799.5,118.7 C804.1,124.9 807.4,132.1 811.3,136.4 C815.2,140.7 818.9,141.7 823.1,144.3 C827.4,146.9 831.7,150.0 837.0,152.2 C842.2,154.4 850.4,155.0 854.7,157.3 C859.0,159.6 859.3,162.3 862.6,166.0 C865.9,169.8 870.5,175.2 874.4,179.8 C878.4,184.4 882.3,190.2 886.3,193.6 C890.2,197.1 893.8,198.8 898.1,200.7 C902.4,202.7 908.6,203.4 911.9,205.5 C915.2,207.6 914.9,208.8 917.9,213.4 C920.8,218.0 925.7,227.5 929.7,233.1 C933.6,238.7 937.6,244.2 941.5,246.9 C945.5,249.7 949.4,249.3 953.4,249.7 C957.3,250.0 961.9,248.4 965.2,248.9 C968.5,249.4 969.2,249.2 973.1,252.8 C977.0,256.5 983.6,266.3 988.9,270.6 C994.1,274.9 1000.1,275.5 1004.7,278.5 C1009.3,281.4 1011.9,283.7 1016.5,288.4 C1021.1,293.0 1027.7,300.8 1032.3,306.1 C1036.9,311.4 1040.8,315.0 1044.1,319.9 C1047.4,324.9 1049.4,329.1 1052.0,335.7 C1054.7,342.3 1057.3,351.5 1059.9,359.4 C1062.6,367.3 1065.2,376.2 1067.8,383.1 C1070.4,390.0 1072.4,395.9 1075.7,400.8 C1079.0,405.8 1082.3,409.0 1087.5,412.7 C1092.8,416.3 1101.4,420.2 1107.3,422.5 C1113.2,424.8 1118.5,425.2 1123.1,426.5 C1127.7,427.8 1130.3,429.1 1134.9,430.4 C1139.5,431.7 1146.1,433.8 1150.7,434.4 C1155.3,434.9 1157.9,432.9 1162.5,433.6 C1167.1,434.2 1172.4,436.9 1178.3,438.3 C1184.2,439.8 1189.5,441.5 1198.0,442.3 C1206.6,443.0 1221.7,442.2 1229.6,443.0 C1237.5,443.9 1238.2,446.7 1245.4,447.4 C1252.6,448.0 1265.8,446.2 1273.0,447.0 C1280.3,447.8 1280.7,451.3 1288.8,452.1 C1296.9,453.0 1316.1,452.1 1321.6,452.1" fill="none" stroke="#808080" stroke-width="3.4" stroke-linejoin="round"/>
<path d="M771.8,44.5 C773.8,47.3 779.1,55.3 783.7,61.4 C788.3,67.6 794.9,74.9 799.5,81.2 C804.1,87.4 807.4,94.1 811.3,98.9 C815.2,103.7 818.9,107.3 823.1,110.0 C827.4,112.6 832.7,112.7 837.0,114.7 C841.2,116.7 844.8,118.9 848.8,121.8 C852.7,124.8 856.4,128.1 860.6,132.5 C864.9,136.9 870.2,143.7 874.4,148.3 C878.7,152.9 882.3,156.5 886.3,160.1 C890.2,163.7 894.2,167.0 898.1,170.0 C902.1,172.9 907.0,174.9 910.0,177.9 C912.9,180.8 913.2,184.1 915.9,187.7 C918.5,191.3 922.8,196.3 925.7,199.6 C928.7,202.8 930.3,205.1 933.6,207.5 C936.9,209.8 941.9,211.9 945.5,213.4 C949.1,214.9 952.4,216.0 955.3,216.5 C958.3,217.1 960.9,216.1 963.2,216.5 C965.5,217.0 966.2,216.9 969.2,219.3 C972.1,221.7 976.4,226.9 981.0,231.1 C985.6,235.4 991.8,241.5 996.8,244.9 C1001.7,248.4 1006.6,248.8 1010.6,252.0 C1014.5,255.3 1016.8,259.6 1020.5,264.7 C1024.1,269.7 1028.4,277.2 1032.3,282.4 C1036.2,287.7 1040.8,291.3 1044.1,296.2 C1047.4,301.2 1049.4,305.5 1052.0,312.0 C1054.7,318.6 1057.3,328.1 1059.9,335.7 C1062.6,343.3 1065.2,351.5 1067.8,357.4 C1070.4,363.3 1072.4,367.3 1075.7,371.2 C1079.0,375.2 1082.3,377.8 1087.5,381.1 C1092.8,384.4 1101.4,388.7 1107.3,391.0 C1113.2,393.3 1117.1,393.3 1123.1,394.9 C1129.0,396.5 1136.9,399.5 1142.8,400.8 C1148.7,402.1 1153.3,401.8 1158.6,402.8 C1163.8,403.8 1169.8,405.4 1174.4,406.7 C1179.0,408.1 1181.6,410.0 1186.2,410.7 C1190.8,411.3 1196.7,409.9 1202.0,410.7 C1207.3,411.5 1211.2,414.8 1217.8,415.4 C1224.4,416.1 1234.9,414.0 1241.5,414.6 C1248.0,415.3 1250.7,418.6 1257.2,419.4 C1263.8,420.2 1274.3,418.5 1280.9,419.4 C1287.5,420.2 1289.9,423.6 1296.7,424.5 C1303.5,425.4 1317.4,424.5 1321.6,424.5" fill="none" stroke="#176ddd" stroke-width="3.4" stroke-linejoin="round"/>
<line x1="860.6" y1="106.8" x2="860.6" y2="185.7" stroke="#000" stroke-width="2.8" stroke-dasharray="8,7"/>
<line x1="913.1" y1="156" x2="913.1" y2="236" stroke="#000" stroke-width="2.8" stroke-dasharray="8,7"/>
<line x1="968" y1="199.6" x2="968" y2="278.5" stroke="#000" stroke-width="2.8" stroke-dasharray="8,7"/>
<text x="790.0" y="190.9" font-size="35" text-anchor="start" fill="#000" ><tspan font-style="italic">n</tspan>=1</text>
<text x="877.0" y="276.5" font-size="35" text-anchor="start" fill="#000" ><tspan font-style="italic">n</tspan>=2</text>
<text x="945.0" y="315.2" font-size="35" text-anchor="start" fill="#000" ><tspan font-style="italic">n</tspan>=3</text>
<line x1="993" y1="76.4" x2="1071.5" y2="76.4" stroke="#808080" stroke-width="4.3" stroke-linecap="round"/>
<line x1="993" y1="119.8" x2="1071.5" y2="119.8" stroke="#176ddd" stroke-width="4.3" stroke-linecap="round"/>
<text x="1081.0" y="89.0" font-size="35.5" text-anchor="start" fill="#000" >Pristine</text>
<text x="1081.0" y="131.7" font-size="35.5" text-anchor="start" fill="#000" >5% TPPCl</text>
<rect x="772.5" y="31.5" width="550.0" height="442.5" fill="none" stroke="#000" stroke-width="3"/>
<line x1="772.2" y1="474" x2="772.2" y2="482.5" stroke="#000" stroke-width="3"/>
<line x1="882.3" y1="474" x2="882.3" y2="482.5" stroke="#000" stroke-width="3"/>
<line x1="992.4" y1="474" x2="992.4" y2="482.5" stroke="#000" stroke-width="3"/>
<line x1="1102.5" y1="474" x2="1102.5" y2="482.5" stroke="#000" stroke-width="3"/>
<line x1="1212.6" y1="474" x2="1212.6" y2="482.5" stroke="#000" stroke-width="3"/>
<line x1="1322.7" y1="474" x2="1322.7" y2="482.5" stroke="#000" stroke-width="3"/>
<line x1="827.2" y1="474" x2="827.2" y2="478.5" stroke="#000" stroke-width="3"/>
<line x1="937.4" y1="474" x2="937.4" y2="478.5" stroke="#000" stroke-width="3"/>
<line x1="1047.5" y1="474" x2="1047.5" y2="478.5" stroke="#000" stroke-width="3"/>
<line x1="1157.5" y1="474" x2="1157.5" y2="478.5" stroke="#000" stroke-width="3"/>
<line x1="1267.7" y1="474" x2="1267.7" y2="478.5" stroke="#000" stroke-width="3"/>
<text x="772.2" y="517.0" font-size="35" text-anchor="middle" fill="#000" >350</text>
<text x="882.3" y="517.0" font-size="35" text-anchor="middle" fill="#000" >400</text>
<text x="992.4" y="517.0" font-size="35" text-anchor="middle" fill="#000" >450</text>
<text x="1102.5" y="517.0" font-size="35" text-anchor="middle" fill="#000" >500</text>
<text x="1212.6" y="517.0" font-size="35" text-anchor="middle" fill="#000" >550</text>
<text x="1322.7" y="517.0" font-size="35" text-anchor="middle" fill="#000" >600</text>
<text x="1034.0" y="562.2" font-size="35.5" text-anchor="middle" fill="#000" >Wavelength (nm)</text>
<text transform="translate(749.4,253) rotate(-90)" font-size="35.6" text-anchor="middle">Absorbance (a.u.)</text>
<text x="703.0" y="50.0" font-size="48" text-anchor="start" fill="#000" letter-spacing="1.3">(b)</text>
<path d="M1462.1,469.0 C1465.0,468.9 1472.4,468.3 1479.5,468.0 C1486.5,467.8 1498.5,468.0 1504.3,467.5 C1510.2,467.1 1510.2,466.2 1514.3,465.6 C1518.4,464.9 1524.2,464.1 1529.2,463.6 C1534.2,463.1 1538.3,463.9 1544.1,462.6 C1549.9,461.2 1558.2,457.4 1564.0,455.6 C1569.8,453.8 1573.2,454.0 1579.0,451.6 C1584.8,449.2 1593.0,444.7 1598.9,441.2 C1604.7,437.7 1608.8,435.2 1613.8,430.7 C1618.7,426.3 1622.9,420.5 1628.7,414.3 C1634.5,408.2 1642.0,401.0 1648.6,393.9 C1655.2,386.9 1662.7,377.8 1668.5,372.0 C1674.3,366.2 1679.3,362.3 1683.4,359.1 C1687.6,356.0 1690.0,354.5 1693.4,353.1 C1696.7,351.8 1700.0,350.9 1703.3,351.2 C1706.6,351.4 1709.1,351.8 1713.3,354.6 C1717.4,357.5 1723.2,362.5 1728.2,368.1 C1733.1,373.6 1737.3,380.5 1743.1,388.0 C1748.9,395.4 1757.2,405.9 1763.0,412.8 C1768.8,419.8 1772.1,424.5 1777.9,429.7 C1783.7,435.0 1791.2,440.1 1797.8,444.2 C1804.4,448.2 1811.1,451.5 1817.7,454.1 C1824.3,456.8 1831.0,458.5 1837.6,460.1 C1844.2,461.7 1850.9,462.6 1857.5,463.6 C1864.1,464.6 1869.9,465.3 1877.4,466.1 C1884.8,466.8 1889.8,467.5 1902.3,468.0 C1914.7,468.5 1933.8,468.8 1952.0,469.0 C1970.2,469.3 2001.7,469.5 2011.7,469.5" fill="none" stroke="#808080" stroke-width="2.7" stroke-linejoin="round"/>
<path d="M1462.1,467.5 C1465.0,467.5 1472.4,467.2 1479.5,467.0 C1486.5,466.9 1498.1,467.0 1504.3,466.6 C1510.6,466.1 1512.6,465.6 1516.8,464.6 C1520.9,463.5 1525.5,461.4 1529.2,460.1 C1532.9,458.8 1535.8,457.7 1539.2,456.6 C1542.5,455.5 1545.8,455.4 1549.1,453.6 C1552.4,451.9 1554.9,449.6 1559.1,446.2 C1563.2,442.7 1569.0,437.6 1574.0,432.7 C1579.0,427.8 1583.9,424.3 1588.9,416.8 C1593.9,409.4 1598.9,399.4 1603.8,388.0 C1608.8,376.5 1613.8,363.1 1618.7,348.2 C1623.7,333.3 1628.7,317.5 1633.7,298.4 C1638.6,279.4 1643.6,254.9 1648.6,233.8 C1653.6,212.6 1659.4,188.0 1663.5,171.6 C1667.7,155.2 1671.0,143.7 1673.5,135.3 C1675.9,126.8 1676.9,124.9 1678.4,120.9 C1679.9,116.8 1680.9,114.4 1682.4,110.9 C1683.9,107.4 1685.7,101.5 1687.4,100.0 C1689.0,98.5 1690.5,100.5 1692.4,102.0 C1694.2,103.5 1696.5,106.4 1698.3,108.9 C1700.2,111.5 1701.2,112.7 1703.3,117.4 C1705.4,122.0 1708.3,129.8 1710.8,136.8 C1713.3,143.7 1715.3,148.8 1718.2,159.2 C1721.1,169.5 1724.9,184.0 1728.2,199.0 C1731.5,213.9 1734.0,230.5 1738.1,248.7 C1742.3,266.9 1748.1,290.1 1753.0,308.4 C1758.0,326.6 1763.0,344.0 1768.0,358.1 C1772.9,372.2 1777.9,383.8 1782.9,392.9 C1787.9,402.1 1792.8,407.0 1797.8,412.8 C1802.8,418.6 1807.8,423.2 1812.7,427.8 C1817.7,432.3 1821.0,436.2 1827.6,440.2 C1834.3,444.2 1844.2,448.9 1852.5,451.6 C1860.8,454.4 1869.1,454.5 1877.4,456.6 C1885.7,458.7 1894.0,462.3 1902.3,464.1 C1910.5,465.8 1918.8,466.4 1927.1,467.0 C1935.4,467.7 1943.7,467.8 1952.0,468.0 C1960.3,468.3 1966.9,468.3 1976.9,468.5 C1986.8,468.8 2005.9,469.4 2011.7,469.5" fill="none" stroke="#176ddd" stroke-width="2.7" stroke-linejoin="round"/>
<text x="1757.0" y="247.2" font-size="36" text-anchor="start" fill="#000" >5% TPPCl</text>
<text x="1469.5" y="405.4" font-size="35.5" text-anchor="start" fill="#000" >Pristine</text>
<defs>
<radialGradient id="glowL" cx="0.5" cy="0.5" r="0.55"><stop offset="0" stop-color="#125cb0"/><stop offset="0.5" stop-color="#07306a"/><stop offset="1" stop-color="#020920" stop-opacity="0"/></radialGradient>
<radialGradient id="glowR" cx="0.5" cy="0.5" r="0.55"><stop offset="0" stop-color="#1a50c8"/><stop offset="0.5" stop-color="#16237a"/><stop offset="1" stop-color="#110f47" stop-opacity="0"/></radialGradient>
<linearGradient id="sqL" x1="0" y1="0" x2="1" y2="1"><stop offset="0" stop-color="#3aaade"/><stop offset="1" stop-color="#52b6e2"/></linearGradient>
<filter id="blur4" x="-50%" y="-50%" width="200%" height="200%"><feGaussianBlur stdDeviation="5"/></filter>
<filter id="blur2" x="-50%" y="-50%" width="200%" height="200%"><feGaussianBlur stdDeviation="1.5"/></filter>
</defs>
<rect x="1724" y="33.3" width="142.5" height="147.5" fill="#020920"/>
<rect x="1865.5" y="33.3" width="142.5" height="147.5" fill="#110f47"/>
<rect x="1866" y="33.3" width="5" height="147.5" fill="#0a0c30"/>
<rect x="1735" y="40" width="125" height="125" fill="url(#glowL)"/>
<rect x="1870" y="40" width="135" height="125" fill="url(#glowR)"/>
<polygon points="1767,62 1840.7,62.7 1849,137 1773,136" fill="#1478d8" filter="url(#blur4)"/>
<polygon points="1881.3,63.4 1955.7,63.4 1964.8,134 1887.4,134.5" fill="#10b8ff" filter="url(#blur4)"/>
<polygon points="1769,63.9 1838.7,64.7 1847,134.3 1775,133.5" fill="url(#sqL)" stroke="#c8ecfa" stroke-width="1.5"/>
<polygon points="1883.3,65.4 1953.7,65.4 1962.8,131.3 1889.4,132" fill="#00f3ff" stroke="#c0ffff" stroke-width="1.5"/>
<text x="1765.5" y="167.6" font-size="22.5" fill="#fff" textLength="81" lengthAdjust="spacingAndGlyphs">Pristine</text>
<text x="1880" y="169" font-size="22.5" fill="#fff" textLength="113.5" lengthAdjust="spacingAndGlyphs">5% TPPCl</text>
<rect x="1461.5" y="29.5" width="549.5" height="442.0" fill="none" stroke="#000" stroke-width="3"/>
<line x1="1462.2" y1="471.5" x2="1462.2" y2="480.0" stroke="#000" stroke-width="3"/>
<line x1="1571.9" y1="471.5" x2="1571.9" y2="480.0" stroke="#000" stroke-width="3"/>
<line x1="1681.6" y1="471.5" x2="1681.6" y2="480.0" stroke="#000" stroke-width="3"/>
<line x1="1791.3" y1="471.5" x2="1791.3" y2="480.0" stroke="#000" stroke-width="3"/>
<line x1="1901.0" y1="471.5" x2="1901.0" y2="480.0" stroke="#000" stroke-width="3"/>
<line x1="2010.7" y1="471.5" x2="2010.7" y2="480.0" stroke="#000" stroke-width="3"/>
<line x1="1517.0" y1="471.5" x2="1517.0" y2="476.0" stroke="#000" stroke-width="3"/>
<line x1="1626.8" y1="471.5" x2="1626.8" y2="476.0" stroke="#000" stroke-width="3"/>
<line x1="1736.5" y1="471.5" x2="1736.5" y2="476.0" stroke="#000" stroke-width="3"/>
<line x1="1846.2" y1="471.5" x2="1846.2" y2="476.0" stroke="#000" stroke-width="3"/>
<line x1="1955.9" y1="471.5" x2="1955.9" y2="476.0" stroke="#000" stroke-width="3"/>
<text x="1462.2" y="514.0" font-size="35" text-anchor="middle" fill="#000" >440</text>
<text x="1571.9" y="514.0" font-size="35" text-anchor="middle" fill="#000" >460</text>
<text x="1681.6" y="514.0" font-size="35" text-anchor="middle" fill="#000" >480</text>
<text x="1791.3" y="514.0" font-size="35" text-anchor="middle" fill="#000" >500</text>
<text x="1901.0" y="514.0" font-size="35" text-anchor="middle" fill="#000" >520</text>
<text x="2010.7" y="514.0" font-size="35" text-anchor="middle" fill="#000" >540</text>
<text x="1737.0" y="561.9" font-size="35.8" text-anchor="middle" fill="#000" >Wavelenght (nm)</text>
<text transform="translate(1439.6,250) rotate(-90)" font-size="35.9" text-anchor="middle">PL intensity (a.u.)</text>
<text x="1395.0" y="50.0" font-size="48" text-anchor="start" fill="#000" letter-spacing="1.3">(c)</text>
<defs>
<radialGradient id="dotg" cx="0.4" cy="0.35" r="0.7"><stop offset="0" stop-color="#f0f0f0"/><stop offset="0.5" stop-color="#bdbdbd"/><stop offset="1" stop-color="#8c8c8c"/></radialGradient>
<linearGradient id="gCN" x1="0" y1="0" x2="0" y2="1"><stop offset="0" stop-color="#bcdff8"/><stop offset="1" stop-color="#ffffff" stop-opacity="0.3"/></linearGradient>
<linearGradient id="gCeN" x1="0" y1="0" x2="0" y2="1"><stop offset="0" stop-color="#4f7cd6"/><stop offset="0.5" stop-color="#a6b8e8"/><stop offset="1" stop-color="#ffffff" stop-opacity="0.3"/></linearGradient>
<linearGradient id="gCC" x1="0" y1="0" x2="0" y2="1"><stop offset="0" stop-color="#547fdb"/><stop offset="0.5" stop-color="#aebceb"/><stop offset="1" stop-color="#ffffff" stop-opacity="0.2"/></linearGradient>
<linearGradient id="gCNe" x1="0" y1="0" x2="0" y2="1"><stop offset="0" stop-color="#66b3ee"/><stop offset="1" stop-color="#ffffff" stop-opacity="0.2"/></linearGradient>
</defs>
<path d="M86.5,809.0 L88.5,809.0 L90.5,809.1 L92.5,809.1 L94.5,809.1 L96.5,809.2 L98.5,809.2 L100.5,809.2 L102.5,809.2 L104.5,809.3 L106.5,809.3 L108.5,809.3 L110.5,809.3 L112.5,809.4 L114.5,809.4 L116.5,809.4 L118.5,809.5 L120.5,809.5 L122.5,809.5 L124.5,809.5 L126.5,809.6 L128.5,809.6 L130.5,809.6 L132.5,809.7 L134.5,809.7 L136.5,809.7 L138.5,809.7 L140.5,809.8 L142.5,809.8 L144.5,809.8 L146.5,809.9 L148.5,809.9 L150.5,809.9 L152.5,809.9 L154.5,810.0 L156.5,810.0 L158.5,810.0 L160.5,810.0 L162.5,810.1 L164.5,810.1 L166.5,810.1 L168.5,810.2 L170.5,810.2 L172.5,810.2 L174.5,810.2 L176.5,810.3 L178.5,810.3 L180.5,810.3 L182.5,810.4 L184.5,810.4 L186.5,810.4 L188.5,810.4 L190.5,810.5 L192.5,810.5 L194.5,810.5 L196.5,810.6 L198.5,810.6 L200.5,810.6 L202.5,810.6 L204.5,810.7 L206.5,810.7 L208.5,810.7 L210.5,810.7 L212.5,810.8 L214.5,810.8 L216.5,810.8 L218.5,810.9 L220.5,810.9 L222.5,810.9 L224.5,810.9 L226.5,811.0 L228.5,811.0 L230.5,811.0 L232.5,811.1 L234.5,811.1 L236.5,811.1 L238.5,811.1 L240.5,811.2 L242.5,811.2 L244.5,811.2 L246.5,811.3 L248.5,811.3 L250.5,811.3 L252.5,811.3 L254.5,811.4 L256.5,811.4 L258.5,811.4 L260.5,811.4 L262.5,811.5 L264.5,811.5 L266.5,811.5 L268.5,811.6 L270.5,811.6 L272.5,811.6 L274.5,811.6 L276.5,811.7 L278.5,811.7 L280.5,811.7 L282.5,811.8 L284.5,811.8 L286.5,811.8 L288.5,811.8 L290.5,811.9 L292.5,811.9 L294.5,811.9 L296.5,812.0 L298.5,812.0 L300.5,812.0 L302.5,812.1 L304.5,812.2 L306.5,812.3 L308.5,812.4 L310.5,812.5 L312.5,812.6 L314.5,812.6 L316.5,812.7 L318.5,812.8 L320.5,812.9 L322.5,813.0 L324.5,813.1 L326.5,813.2 L328.5,813.3 L330.5,813.4 L332.5,813.4 L334.5,813.5 L336.5,813.6 L338.5,813.7 L340.5,813.8 L342.5,813.9 L344.5,814.0 L346.5,814.1 L348.5,814.2 L350.5,814.2 L352.5,814.3 L354.5,814.4 L356.5,814.5 L358.5,814.6 L360.5,814.7 L362.5,814.8 L364.5,814.9 L366.5,815.0 L368.5,815.0 L370.5,815.1 L372.5,815.2 L374.5,815.3 L376.5,815.4 L378.5,815.5 L380.5,815.6 L382.5,815.7 L384.5,815.8 L386.5,815.8 L388.5,815.9 L390.5,816.0 L392.5,816.1 L394.5,816.2 L396.5,816.3 L398.5,816.4 L400.5,816.5 L402.5,816.6 L404.5,816.6 L406.5,816.7 L408.5,816.8 L410.5,816.9 L412.5,817.0 L414.5,817.1 L416.5,817.2 L418.5,817.3 L420.5,817.4 L422.5,817.4 L424.5,817.5 L426.5,817.6 L428.5,817.7 L430.5,817.8 L432.5,817.9 L434.5,818.0 L436.5,818.1 L438.5,818.2 L440.5,818.2 L442.5,818.3 L444.5,818.4 L446.5,818.5 L448.5,818.6 L450.5,818.7 L452.5,818.8 L454.5,818.9 L456.5,819.0 L458.5,819.0 L460.5,819.1 L462.5,819.2 L464.5,819.3 L466.5,819.4 L468.5,819.5 L470.5,819.6 L472.5,819.7 L474.5,819.8 L476.5,819.8 L478.5,819.9 L480.5,820.0 L482.5,820.1 L484.5,820.2 L486.5,820.3 L488.5,820.4 L490.5,820.5 L492.5,820.7 L494.5,820.8 L496.5,820.9 L498.5,821.0 L500.5,821.1 L502.5,821.2 L504.5,821.3 L506.5,821.4 L508.5,821.5 L510.5,821.6 L512.5,821.7 L514.5,821.8 L516.5,821.9 L518.5,822.0 L520.5,822.1 L522.5,822.2 L524.5,822.3 L526.5,822.4 L528.5,822.5 L530.5,822.6 L532.5,822.7 L534.5,822.8 L536.5,822.9 L538.5,823.0 L540.5,823.1 L542.5,823.3 L544.5,823.4 L546.5,823.5 L548.5,823.6 L550.5,823.7 L552.5,823.8 L554.5,823.9 L556.5,824.0 L558.5,824.1 L560.5,824.2 L562.5,824.3 L564.5,824.4 L566.5,824.5 L568.5,824.6 L570.5,824.7 L572.5,824.8 L574.5,824.9 L576.5,825.0 L578.5,825.1 L580.5,825.2 L582.5,825.3 L584.5,825.4 L586.5,825.5 L588.5,825.6 L590.5,825.8 L592.5,825.9 L594.5,826.0 L596.5,826.1 L598.5,826.2 L600.5,826.3 L602.5,826.4 L604.5,826.5 L606.5,826.6 L608.5,826.7 L610.5,826.8 L612.5,826.9 L614.5,827.0 L616.5,827.1 L618.5,827.2 L620.5,827.3 L622.5,827.4 L624.5,827.5 L626.5,827.6 L628.5,827.7 L630.5,827.8 L632.5,827.9" fill="none" stroke="#777" stroke-width="1.8"/>
<path d="M86.5,810.0 L88.5,810.1 L90.5,810.1 L92.5,810.2 L94.5,810.2 L96.5,810.3 L98.5,810.3 L100.5,810.4 L102.5,810.4 L104.5,810.5 L106.5,810.5 L108.5,810.6 L110.5,810.6 L112.5,810.7 L114.5,810.7 L116.5,810.8 L118.5,810.8 L120.5,810.9 L122.5,810.9 L124.5,811.0 L126.5,811.0 L128.5,811.1 L130.5,811.1 L132.5,811.2 L134.5,811.2 L136.5,811.3 L138.5,811.3 L140.5,811.4 L142.5,811.5 L144.5,811.5 L146.5,811.6 L148.5,811.6 L150.5,811.7 L152.5,811.7 L154.5,811.8 L156.5,811.8 L158.5,811.9 L160.5,811.9 L162.5,812.0 L164.5,812.0 L166.5,812.1 L168.5,812.1 L170.5,812.2 L172.5,812.2 L174.5,812.3 L176.5,812.3 L178.5,812.4 L180.5,812.4 L182.5,812.5 L184.5,812.5 L186.5,812.6 L188.5,812.6 L190.5,812.7 L192.5,812.7 L194.5,812.8 L196.5,812.8 L198.5,812.9 L200.5,812.9 L202.5,813.0 L204.5,813.0 L206.5,813.1 L208.5,813.1 L210.5,813.2 L212.5,813.2 L214.5,813.3 L216.5,813.3 L218.5,813.4 L220.5,813.4 L222.5,813.5 L224.5,813.5 L226.5,813.6 L228.5,813.6 L230.5,813.7 L232.5,813.8 L234.5,813.8 L236.5,813.9 L238.5,813.9 L240.5,814.0 L242.5,814.0 L244.5,814.1 L246.5,814.1 L248.5,814.2 L250.5,814.2 L252.5,814.3 L254.5,814.3 L256.5,814.4 L258.5,814.4 L260.5,814.5 L262.5,814.5 L264.5,814.6 L266.5,814.6 L268.5,814.7 L270.5,814.7 L272.5,814.8 L274.5,814.8 L276.5,814.9 L278.5,814.9 L280.5,815.0 L282.5,815.0 L284.5,815.1 L286.5,815.1 L288.5,815.2 L290.5,815.2 L292.5,815.3 L294.5,815.3 L296.5,815.4 L298.5,815.4 L300.5,815.5 L302.5,815.5 L304.5,815.6 L306.5,815.6 L308.5,815.7 L310.5,815.7 L312.5,815.8 L314.5,815.8 L316.5,815.9 L318.5,815.9 L320.5,816.0 L322.5,816.0 L324.5,816.1 L326.5,816.2 L328.5,816.2 L330.5,816.3 L332.5,816.3 L334.5,816.4 L336.5,816.4 L338.5,816.5 L340.5,816.5 L342.5,816.6 L344.5,816.6 L346.5,816.7 L348.5,816.7 L350.5,816.8 L352.5,816.8 L354.5,816.9 L356.5,816.9 L358.5,817.0 L360.5,817.0 L362.5,817.1 L364.5,817.1 L366.5,817.2 L368.5,817.2 L370.5,817.3 L372.5,817.3 L374.5,817.4 L376.5,817.4 L378.5,817.5 L380.5,817.5 L382.5,817.6 L384.5,817.6 L386.5,817.7 L388.5,817.7 L390.5,817.8 L392.5,817.8 L394.5,817.9 L396.5,817.9 L398.5,818.0 L400.5,818.0 L402.5,818.1 L404.5,818.1 L406.5,818.2 L408.5,818.2 L410.5,818.3 L412.5,818.3 L414.5,818.4 L416.5,818.5 L418.5,818.5 L420.5,818.6 L422.5,818.6 L424.5,818.7 L426.5,818.7 L428.5,818.8 L430.5,818.8 L432.5,818.9 L434.5,818.9 L436.5,819.0 L438.5,819.0 L440.5,819.1 L442.5,819.1 L444.5,819.2 L446.5,819.2 L448.5,819.3 L450.5,819.3 L452.5,819.4 L454.5,819.4 L456.5,819.5 L458.5,819.5 L460.5,819.6 L462.5,819.6 L464.5,819.7 L466.5,819.7 L468.5,819.8 L470.5,819.8 L472.5,819.9 L474.5,819.9 L476.5,820.0 L478.5,820.0 L480.5,820.1 L482.5,820.1 L484.5,820.2 L486.5,820.2 L488.5,820.3 L490.5,820.3 L492.5,820.4 L494.5,820.4 L496.5,820.5 L498.5,820.5 L500.5,820.6 L502.5,820.6 L504.5,820.7 L506.5,820.8 L508.5,820.8 L510.5,820.9 L512.5,820.9 L514.5,821.0 L516.5,821.0 L518.5,821.1 L520.5,821.1 L522.5,821.2 L524.5,821.2 L526.5,821.3 L528.5,821.3 L530.5,821.4 L532.5,821.4 L534.5,821.5 L536.5,821.5 L538.5,821.6 L540.5,821.6 L542.5,821.7 L544.5,821.7 L546.5,821.8 L548.5,821.8 L550.5,821.9 L552.5,821.9 L554.5,822.0 L556.5,822.0 L558.5,822.1 L560.5,822.1 L562.5,822.2 L564.5,822.2 L566.5,822.3 L568.5,822.3 L570.5,822.4 L572.5,822.4 L574.5,822.5 L576.5,822.5 L578.5,822.6 L580.5,822.6 L582.5,822.7 L584.5,822.7 L586.5,822.8 L588.5,822.8 L590.5,822.9 L592.5,822.9 L594.5,823.0 L596.5,823.0 L598.5,823.1 L600.5,823.2 L602.5,823.2 L604.5,823.3 L606.5,823.3 L608.5,823.4 L610.5,823.4 L612.5,823.5 L614.5,823.5 L616.5,823.6 L618.5,823.6 L620.5,823.7 L622.5,823.7 L624.5,823.8 L626.5,823.8 L628.5,823.9 L630.5,823.9 L632.5,824.0" fill="none" stroke="#4f88d8" stroke-width="1.8"/>
<g fill="url(#dotg)" opacity="0.95"><circle cx="88.5" cy="809.2" r="3.9"/><circle cx="99.8" cy="814.1" r="3.9"/><circle cx="111.1" cy="813.7" r="3.9"/><circle cx="122.4" cy="807.3" r="3.9"/><circle cx="133.7" cy="807.8" r="3.9"/><circle cx="145.0" cy="806.4" r="3.9"/><circle cx="156.3" cy="809.2" r="3.9"/><circle cx="167.6" cy="805.0" r="3.9"/><circle cx="178.9" cy="805.1" r="3.9"/><circle cx="190.2" cy="791.6" r="3.9"/><circle cx="201.5" cy="798.2" r="3.9"/><circle cx="212.8" cy="784.6" r="3.9"/><circle cx="224.1" cy="777.9" r="3.9"/><circle cx="235.4" cy="763.4" r="3.9"/><circle cx="246.7" cy="749.4" r="3.9"/><circle cx="258.0" cy="738.1" r="3.9"/><circle cx="269.3" cy="724.7" r="3.9"/><circle cx="280.6" cy="707.0" r="3.9"/><circle cx="291.9" cy="694.8" r="3.9"/><circle cx="303.2" cy="688.2" r="3.9"/><circle cx="314.5" cy="676.4" r="3.9"/><circle cx="325.8" cy="671.8" r="3.9"/><circle cx="337.1" cy="680.0" r="3.9"/><circle cx="348.4" cy="680.5" r="3.9"/><circle cx="359.7" cy="682.2" r="3.9"/><circle cx="371.0" cy="692.8" r="3.9"/><circle cx="382.3" cy="700.0" r="3.9"/><circle cx="393.6" cy="701.6" r="3.9"/><circle cx="404.9" cy="702.6" r="3.9"/><circle cx="416.2" cy="707.9" r="3.9"/><circle cx="427.5" cy="709.3" r="3.9"/><circle cx="438.8" cy="703.1" r="3.9"/><circle cx="450.1" cy="700.1" r="3.9"/><circle cx="461.4" cy="705.3" r="3.9"/><circle cx="472.7" cy="710.9" r="3.9"/><circle cx="484.0" cy="715.1" r="3.9"/><circle cx="495.3" cy="728.9" r="3.9"/><circle cx="506.6" cy="743.4" r="3.9"/><circle cx="517.9" cy="752.4" r="3.9"/><circle cx="529.2" cy="763.5" r="3.9"/><circle cx="540.5" cy="780.0" r="3.9"/><circle cx="551.8" cy="790.3" r="3.9"/><circle cx="563.1" cy="802.3" r="3.9"/><circle cx="574.4" cy="800.7" r="3.9"/><circle cx="585.7" cy="808.2" r="3.9"/><circle cx="597.0" cy="811.5" r="3.9"/><circle cx="608.3" cy="811.0" r="3.9"/><circle cx="619.6" cy="819.7" r="3.9"/><circle cx="630.9" cy="822.5" r="3.9"/></g>
<path d="M86.5,809.5 L88.5,809.5 L90.5,809.6 L92.5,809.6 L94.5,809.6 L96.5,809.6 L98.5,809.7 L100.5,809.7 L102.5,809.7 L104.5,809.7 L106.5,809.8 L108.5,809.8 L110.5,809.8 L112.5,809.8 L114.5,809.8 L116.5,809.8 L118.5,809.8 L120.5,809.7 L122.5,809.7 L124.5,809.7 L126.5,809.7 L128.5,809.6 L130.5,809.6 L132.5,809.5 L134.5,809.4 L136.5,809.4 L138.5,809.3 L140.5,809.2 L142.5,809.0 L144.5,808.9 L146.5,808.8 L148.5,808.6 L150.5,808.4 L152.5,808.2 L154.5,808.0 L156.5,807.8 L158.5,807.5 L160.5,807.2 L162.5,806.9 L164.5,806.6 L166.5,806.2 L168.5,805.8 L170.5,805.4 L172.5,804.9 L174.5,804.4 L176.5,803.9 L178.5,803.3 L180.5,802.7 L182.5,802.0 L184.5,801.3 L186.5,800.6 L188.5,799.8 L190.5,799.0 L192.5,798.1 L194.5,797.2 L196.5,796.2 L198.5,795.1 L200.5,794.0 L202.5,792.9 L204.5,791.6 L206.5,790.4 L208.5,789.0 L210.5,787.6 L212.5,786.2 L214.5,784.7 L216.5,783.1 L218.5,781.4 L220.5,779.7 L222.5,778.0 L224.5,776.1 L226.5,774.2 L228.5,772.3 L230.5,770.3 L232.5,768.2 L234.5,766.1 L236.5,763.9 L238.5,761.7 L240.5,759.4 L242.5,757.1 L244.5,754.7 L246.5,752.3 L248.5,749.9 L250.5,747.4 L252.5,744.9 L254.5,742.4 L256.5,739.8 L258.5,737.3 L260.5,734.7 L262.5,732.1 L264.5,729.6 L266.5,727.0 L268.5,724.5 L270.5,721.9 L272.5,719.4 L274.5,717.0 L276.5,714.6 L278.5,712.2 L280.5,709.8 L282.5,707.6 L284.5,705.4 L286.5,703.2 L288.5,701.2 L290.5,699.2 L292.5,697.3 L294.5,695.5 L296.5,693.8 L298.5,692.3 L300.5,690.8 L302.5,689.5 L304.5,688.2 L306.5,687.1 L308.5,686.2 L310.5,685.3 L312.5,684.6 L314.5,684.1 L316.5,683.6 L318.5,683.4 L320.5,683.2 L322.5,683.3 L324.5,683.4 L326.5,683.7 L328.5,684.2 L330.5,684.8 L332.5,685.5 L334.5,686.4 L336.5,687.4 L338.5,688.5 L340.5,689.8 L342.5,691.2 L344.5,692.7 L346.5,694.3 L348.5,696.0 L350.5,697.9 L352.5,699.8 L354.5,701.8 L356.5,704.0 L358.5,706.2 L360.5,708.4 L362.5,710.8 L364.5,713.2 L366.5,715.6 L368.5,718.1 L370.5,720.7 L372.5,723.3 L374.5,725.9 L376.5,728.5 L378.5,731.2 L380.5,733.8 L382.5,736.5 L384.5,739.2 L386.5,741.9 L388.5,744.5 L390.5,747.1 L392.5,749.8 L394.5,752.3 L396.5,754.9 L398.5,757.4 L400.5,759.9 L402.5,762.4 L404.5,764.8 L406.5,767.1 L408.5,769.4 L410.5,771.7 L412.5,773.9 L414.5,776.0 L416.5,778.1 L418.5,780.1 L420.5,782.1 L422.5,784.0 L424.5,785.8 L426.5,787.6 L428.5,789.3 L430.5,791.0 L432.5,792.6 L434.5,794.1 L436.5,795.6 L438.5,797.0 L440.5,798.3 L442.5,799.6 L444.5,800.8 L446.5,802.0 L448.5,803.1 L450.5,804.2 L452.5,805.2 L454.5,806.2 L456.5,807.1 L458.5,807.9 L460.5,808.8 L462.5,809.5 L464.5,810.3 L466.5,811.0 L468.5,811.6 L470.5,812.2 L472.5,812.8 L474.5,813.4 L476.5,813.9 L478.5,814.4 L480.5,814.8 L482.5,815.2 L484.5,815.7 L486.5,816.0 L488.5,816.4 L490.5,816.7 L492.5,817.0 L494.5,817.3 L496.5,817.6 L498.5,817.9 L500.5,818.1 L502.5,818.3 L504.5,818.5 L506.5,818.7 L508.5,818.9 L510.5,819.1 L512.5,819.3 L514.5,819.4 L516.5,819.6 L518.5,819.7 L520.5,819.9 L522.5,820.0 L524.5,820.1 L526.5,820.2 L528.5,820.3 L530.5,820.4 L532.5,820.5 L534.5,820.6 L536.5,820.7 L538.5,820.8 L540.5,820.9 L542.5,821.0 L544.5,821.1 L546.5,821.1 L548.5,821.2 L550.5,821.3 L552.5,821.4 L554.5,821.4 L556.5,821.5 L558.5,821.6 L560.5,821.6 L562.5,821.7 L564.5,821.8 L566.5,821.8 L568.5,821.9 L570.5,821.9 L572.5,822.0 L574.5,822.1 L576.5,822.1 L578.5,822.2 L580.5,822.2 L582.5,822.3 L584.5,822.4 L586.5,822.4 L588.5,822.5 L590.5,822.5 L592.5,822.6 L594.5,822.6 L596.5,822.7 L598.5,822.8 L600.5,822.8 L602.5,822.9 L604.5,822.9 L606.5,823.0 L608.5,823.0 L610.5,823.1 L612.5,823.2 L614.5,823.2 L616.5,823.3 L618.5,823.3 L620.5,823.4 L622.5,823.4 L624.5,823.5 L626.5,823.5 L628.5,823.6 L630.5,823.6 L632.5,823.7 L632.5,824.0 L630.5,823.9 L628.5,823.9 L626.5,823.8 L624.5,823.8 L622.5,823.7 L620.5,823.7 L618.5,823.6 L616.5,823.6 L614.5,823.5 L612.5,823.5 L610.5,823.4 L608.5,823.4 L606.5,823.3 L604.5,823.3 L602.5,823.2 L600.5,823.2 L598.5,823.1 L596.5,823.0 L594.5,823.0 L592.5,822.9 L590.5,822.9 L588.5,822.8 L586.5,822.8 L584.5,822.7 L582.5,822.7 L580.5,822.6 L578.5,822.6 L576.5,822.5 L574.5,822.5 L572.5,822.4 L570.5,822.4 L568.5,822.3 L566.5,822.3 L564.5,822.2 L562.5,822.2 L560.5,822.1 L558.5,822.1 L556.5,822.0 L554.5,822.0 L552.5,821.9 L550.5,821.9 L548.5,821.8 L546.5,821.8 L544.5,821.7 L542.5,821.7 L540.5,821.6 L538.5,821.6 L536.5,821.5 L534.5,821.5 L532.5,821.4 L530.5,821.4 L528.5,821.3 L526.5,821.3 L524.5,821.2 L522.5,821.2 L520.5,821.1 L518.5,821.1 L516.5,821.0 L514.5,821.0 L512.5,820.9 L510.5,820.9 L508.5,820.8 L506.5,820.8 L504.5,820.7 L502.5,820.6 L500.5,820.6 L498.5,820.5 L496.5,820.5 L494.5,820.4 L492.5,820.4 L490.5,820.3 L488.5,820.3 L486.5,820.2 L484.5,820.2 L482.5,820.1 L480.5,820.1 L478.5,820.0 L476.5,820.0 L474.5,819.9 L472.5,819.9 L470.5,819.8 L468.5,819.8 L466.5,819.7 L464.5,819.7 L462.5,819.6 L460.5,819.6 L458.5,819.5 L456.5,819.5 L454.5,819.4 L452.5,819.4 L450.5,819.3 L448.5,819.3 L446.5,819.2 L444.5,819.2 L442.5,819.1 L440.5,819.1 L438.5,819.0 L436.5,819.0 L434.5,818.9 L432.5,818.9 L430.5,818.8 L428.5,818.8 L426.5,818.7 L424.5,818.7 L422.5,818.6 L420.5,818.6 L418.5,818.5 L416.5,818.5 L414.5,818.4 L412.5,818.3 L410.5,818.3 L408.5,818.2 L406.5,818.2 L404.5,818.1 L402.5,818.1 L400.5,818.0 L398.5,818.0 L396.5,817.9 L394.5,817.9 L392.5,817.8 L390.5,817.8 L388.5,817.7 L386.5,817.7 L384.5,817.6 L382.5,817.6 L380.5,817.5 L378.5,817.5 L376.5,817.4 L374.5,817.4 L372.5,817.3 L370.5,817.3 L368.5,817.2 L366.5,817.2 L364.5,817.1 L362.5,817.1 L360.5,817.0 L358.5,817.0 L356.5,816.9 L354.5,816.9 L352.5,816.8 L350.5,816.8 L348.5,816.7 L346.5,816.7 L344.5,816.6 L342.5,816.6 L340.5,816.5 L338.5,816.5 L336.5,816.4 L334.5,816.4 L332.5,816.3 L330.5,816.3 L328.5,816.2 L326.5,816.2 L324.5,816.1 L322.5,816.0 L320.5,816.0 L318.5,815.9 L316.5,815.9 L314.5,815.8 L312.5,815.8 L310.5,815.7 L308.5,815.7 L306.5,815.6 L304.5,815.6 L302.5,815.5 L300.5,815.5 L298.5,815.4 L296.5,815.4 L294.5,815.3 L292.5,815.3 L290.5,815.2 L288.5,815.2 L286.5,815.1 L284.5,815.1 L282.5,815.0 L280.5,815.0 L278.5,814.9 L276.5,814.9 L274.5,814.8 L272.5,814.8 L270.5,814.7 L268.5,814.7 L266.5,814.6 L264.5,814.6 L262.5,814.5 L260.5,814.5 L258.5,814.4 L256.5,814.4 L254.5,814.3 L252.5,814.3 L250.5,814.2 L248.5,814.2 L246.5,814.1 L244.5,814.1 L242.5,814.0 L240.5,814.0 L238.5,813.9 L236.5,813.9 L234.5,813.8 L232.5,813.8 L230.5,813.7 L228.5,813.6 L226.5,813.6 L224.5,813.5 L222.5,813.5 L220.5,813.4 L218.5,813.4 L216.5,813.3 L214.5,813.3 L212.5,813.2 L210.5,813.2 L208.5,813.1 L206.5,813.1 L204.5,813.0 L202.5,813.0 L200.5,812.9 L198.5,812.9 L196.5,812.8 L194.5,812.8 L192.5,812.7 L190.5,812.7 L188.5,812.6 L186.5,812.6 L184.5,812.5 L182.5,812.5 L180.5,812.4 L178.5,812.4 L176.5,812.3 L174.5,812.3 L172.5,812.2 L170.5,812.2 L168.5,812.1 L166.5,812.1 L164.5,812.0 L162.5,812.0 L160.5,811.9 L158.5,811.9 L156.5,811.8 L154.5,811.8 L152.5,811.7 L150.5,811.7 L148.5,811.6 L146.5,811.6 L144.5,811.5 L142.5,811.5 L140.5,811.4 L138.5,811.3 L136.5,811.3 L134.5,811.2 L132.5,811.2 L130.5,811.1 L128.5,811.1 L126.5,811.0 L124.5,811.0 L122.5,810.9 L120.5,810.9 L118.5,810.8 L116.5,810.8 L114.5,810.7 L112.5,810.7 L110.5,810.6 L108.5,810.6 L106.5,810.5 L104.5,810.5 L102.5,810.4 L100.5,810.4 L98.5,810.3 L96.5,810.3 L94.5,810.2 L92.5,810.2 L90.5,810.1 L88.5,810.1 L86.5,810.0 Z" fill="url(#gCN)" fill-opacity="0.75"/>
<path d="M86.5,809.6 L88.5,809.6 L90.5,809.7 L92.5,809.7 L94.5,809.8 L96.5,809.8 L98.5,809.8 L100.5,809.9 L102.5,809.9 L104.5,810.0 L106.5,810.0 L108.5,810.1 L110.5,810.1 L112.5,810.2 L114.5,810.2 L116.5,810.3 L118.5,810.3 L120.5,810.4 L122.5,810.4 L124.5,810.4 L126.5,810.5 L128.5,810.5 L130.5,810.6 L132.5,810.6 L134.5,810.7 L136.5,810.7 L138.5,810.8 L140.5,810.8 L142.5,810.8 L144.5,810.9 L146.5,810.9 L148.5,811.0 L150.5,811.0 L152.5,811.1 L154.5,811.1 L156.5,811.1 L158.5,811.2 L160.5,811.2 L162.5,811.3 L164.5,811.3 L166.5,811.4 L168.5,811.4 L170.5,811.4 L172.5,811.5 L174.5,811.5 L176.5,811.6 L178.5,811.6 L180.5,811.6 L182.5,811.7 L184.5,811.7 L186.5,811.8 L188.5,811.8 L190.5,811.8 L192.5,811.9 L194.5,811.9 L196.5,812.0 L198.5,812.0 L200.5,812.0 L202.5,812.1 L204.5,812.1 L206.5,812.2 L208.5,812.2 L210.5,812.2 L212.5,812.3 L214.5,812.3 L216.5,812.3 L218.5,812.4 L220.5,812.4 L222.5,812.4 L224.5,812.5 L226.5,812.5 L228.5,812.5 L230.5,812.6 L232.5,812.6 L234.5,812.6 L236.5,812.7 L238.5,812.7 L240.5,812.7 L242.5,812.8 L244.5,812.8 L246.5,812.8 L248.5,812.8 L250.5,812.9 L252.5,812.9 L254.5,812.9 L256.5,812.9 L258.5,812.9 L260.5,812.9 L262.5,813.0 L264.5,813.0 L266.5,813.0 L268.5,813.0 L270.5,813.0 L272.5,813.0 L274.5,813.0 L276.5,813.0 L278.5,813.0 L280.5,812.9 L282.5,812.9 L284.5,812.9 L286.5,812.8 L288.5,812.8 L290.5,812.8 L292.5,812.7 L294.5,812.6 L296.5,812.6 L298.5,812.5 L300.5,812.4 L302.5,812.3 L304.5,812.2 L306.5,812.0 L308.5,811.9 L310.5,811.7 L312.5,811.5 L314.5,811.3 L316.5,811.1 L318.5,810.9 L320.5,810.6 L322.5,810.3 L324.5,810.0 L326.5,809.7 L328.5,809.3 L330.5,808.9 L332.5,808.5 L334.5,808.0 L336.5,807.5 L338.5,807.0 L340.5,806.4 L342.5,805.8 L344.5,805.1 L346.5,804.4 L348.5,803.7 L350.5,802.9 L352.5,802.0 L354.5,801.1 L356.5,800.2 L358.5,799.2 L360.5,798.2 L362.5,797.1 L364.5,795.9 L366.5,794.7 L368.5,793.4 L370.5,792.1 L372.5,790.7 L374.5,789.2 L376.5,787.7 L378.5,786.2 L380.5,784.6 L382.5,782.9 L384.5,781.1 L386.5,779.4 L388.5,777.5 L390.5,775.6 L392.5,773.7 L394.5,771.7 L396.5,769.7 L398.5,767.6 L400.5,765.6 L402.5,763.4 L404.5,761.3 L406.5,759.1 L408.5,756.9 L410.5,754.7 L412.5,752.5 L414.5,750.3 L416.5,748.1 L418.5,745.9 L420.5,743.7 L422.5,741.6 L424.5,739.4 L426.5,737.4 L428.5,735.3 L430.5,733.3 L432.5,731.4 L434.5,729.5 L436.5,727.7 L438.5,726.0 L440.5,724.4 L442.5,722.9 L444.5,721.5 L446.5,720.2 L448.5,719.0 L450.5,717.9 L452.5,717.0 L454.5,716.1 L456.5,715.5 L458.5,714.9 L460.5,714.5 L462.5,714.3 L464.5,714.2 L466.5,714.2 L468.5,714.4 L470.5,714.8 L472.5,715.3 L474.5,715.9 L476.5,716.7 L478.5,717.6 L480.5,718.7 L482.5,719.8 L484.5,721.1 L486.5,722.5 L488.5,724.1 L490.5,725.7 L492.5,727.4 L494.5,729.2 L496.5,731.1 L498.5,733.1 L500.5,735.1 L502.5,737.2 L504.5,739.3 L506.5,741.5 L508.5,743.8 L510.5,746.0 L512.5,748.3 L514.5,750.6 L516.5,752.9 L518.5,755.2 L520.5,757.5 L522.5,759.8 L524.5,762.1 L526.5,764.4 L528.5,766.6 L530.5,768.9 L532.5,771.1 L534.5,773.2 L536.5,775.4 L538.5,777.4 L540.5,779.5 L542.5,781.5 L544.5,783.4 L546.5,785.3 L548.5,787.1 L550.5,788.9 L552.5,790.6 L554.5,792.3 L556.5,793.9 L558.5,795.4 L560.5,796.9 L562.5,798.4 L564.5,799.7 L566.5,801.1 L568.5,802.3 L570.5,803.5 L572.5,804.7 L574.5,805.8 L576.5,806.8 L578.5,807.8 L580.5,808.8 L582.5,809.6 L584.5,810.5 L586.5,811.3 L588.5,812.1 L590.5,812.8 L592.5,813.4 L594.5,814.1 L596.5,814.7 L598.5,815.2 L600.5,815.8 L602.5,816.3 L604.5,816.8 L606.5,817.2 L608.5,817.6 L610.5,818.0 L612.5,818.4 L614.5,818.7 L616.5,819.0 L618.5,819.3 L620.5,819.6 L622.5,819.9 L624.5,820.1 L626.5,820.4 L628.5,820.6 L630.5,820.8 L632.5,821.0 L632.5,824.0 L630.5,823.9 L628.5,823.9 L626.5,823.8 L624.5,823.8 L622.5,823.7 L620.5,823.7 L618.5,823.6 L616.5,823.6 L614.5,823.5 L612.5,823.5 L610.5,823.4 L608.5,823.4 L606.5,823.3 L604.5,823.3 L602.5,823.2 L600.5,823.2 L598.5,823.1 L596.5,823.0 L594.5,823.0 L592.5,822.9 L590.5,822.9 L588.5,822.8 L586.5,822.8 L584.5,822.7 L582.5,822.7 L580.5,822.6 L578.5,822.6 L576.5,822.5 L574.5,822.5 L572.5,822.4 L570.5,822.4 L568.5,822.3 L566.5,822.3 L564.5,822.2 L562.5,822.2 L560.5,822.1 L558.5,822.1 L556.5,822.0 L554.5,822.0 L552.5,821.9 L550.5,821.9 L548.5,821.8 L546.5,821.8 L544.5,821.7 L542.5,821.7 L540.5,821.6 L538.5,821.6 L536.5,821.5 L534.5,821.5 L532.5,821.4 L530.5,821.4 L528.5,821.3 L526.5,821.3 L524.5,821.2 L522.5,821.2 L520.5,821.1 L518.5,821.1 L516.5,821.0 L514.5,821.0 L512.5,820.9 L510.5,820.9 L508.5,820.8 L506.5,820.8 L504.5,820.7 L502.5,820.6 L500.5,820.6 L498.5,820.5 L496.5,820.5 L494.5,820.4 L492.5,820.4 L490.5,820.3 L488.5,820.3 L486.5,820.2 L484.5,820.2 L482.5,820.1 L480.5,820.1 L478.5,820.0 L476.5,820.0 L474.5,819.9 L472.5,819.9 L470.5,819.8 L468.5,819.8 L466.5,819.7 L464.5,819.7 L462.5,819.6 L460.5,819.6 L458.5,819.5 L456.5,819.5 L454.5,819.4 L452.5,819.4 L450.5,819.3 L448.5,819.3 L446.5,819.2 L444.5,819.2 L442.5,819.1 L440.5,819.1 L438.5,819.0 L436.5,819.0 L434.5,818.9 L432.5,818.9 L430.5,818.8 L428.5,818.8 L426.5,818.7 L424.5,818.7 L422.5,818.6 L420.5,818.6 L418.5,818.5 L416.5,818.5 L414.5,818.4 L412.5,818.3 L410.5,818.3 L408.5,818.2 L406.5,818.2 L404.5,818.1 L402.5,818.1 L400.5,818.0 L398.5,818.0 L396.5,817.9 L394.5,817.9 L392.5,817.8 L390.5,817.8 L388.5,817.7 L386.5,817.7 L384.5,817.6 L382.5,817.6 L380.5,817.5 L378.5,817.5 L376.5,817.4 L374.5,817.4 L372.5,817.3 L370.5,817.3 L368.5,817.2 L366.5,817.2 L364.5,817.1 L362.5,817.1 L360.5,817.0 L358.5,817.0 L356.5,816.9 L354.5,816.9 L352.5,816.8 L350.5,816.8 L348.5,816.7 L346.5,816.7 L344.5,816.6 L342.5,816.6 L340.5,816.5 L338.5,816.5 L336.5,816.4 L334.5,816.4 L332.5,816.3 L330.5,816.3 L328.5,816.2 L326.5,816.2 L324.5,816.1 L322.5,816.0 L320.5,816.0 L318.5,815.9 L316.5,815.9 L314.5,815.8 L312.5,815.8 L310.5,815.7 L308.5,815.7 L306.5,815.6 L304.5,815.6 L302.5,815.5 L300.5,815.5 L298.5,815.4 L296.5,815.4 L294.5,815.3 L292.5,815.3 L290.5,815.2 L288.5,815.2 L286.5,815.1 L284.5,815.1 L282.5,815.0 L280.5,815.0 L278.5,814.9 L276.5,814.9 L274.5,814.8 L272.5,814.8 L270.5,814.7 L268.5,814.7 L266.5,814.6 L264.5,814.6 L262.5,814.5 L260.5,814.5 L258.5,814.4 L256.5,814.4 L254.5,814.3 L252.5,814.3 L250.5,814.2 L248.5,814.2 L246.5,814.1 L244.5,814.1 L242.5,814.0 L240.5,814.0 L238.5,813.9 L236.5,813.9 L234.5,813.8 L232.5,813.8 L230.5,813.7 L228.5,813.6 L226.5,813.6 L224.5,813.5 L222.5,813.5 L220.5,813.4 L218.5,813.4 L216.5,813.3 L214.5,813.3 L212.5,813.2 L210.5,813.2 L208.5,813.1 L206.5,813.1 L204.5,813.0 L202.5,813.0 L200.5,812.9 L198.5,812.9 L196.5,812.8 L194.5,812.8 L192.5,812.7 L190.5,812.7 L188.5,812.6 L186.5,812.6 L184.5,812.5 L182.5,812.5 L180.5,812.4 L178.5,812.4 L176.5,812.3 L174.5,812.3 L172.5,812.2 L170.5,812.2 L168.5,812.1 L166.5,812.1 L164.5,812.0 L162.5,812.0 L160.5,811.9 L158.5,811.9 L156.5,811.8 L154.5,811.8 L152.5,811.7 L150.5,811.7 L148.5,811.6 L146.5,811.6 L144.5,811.5 L142.5,811.5 L140.5,811.4 L138.5,811.3 L136.5,811.3 L134.5,811.2 L132.5,811.2 L130.5,811.1 L128.5,811.1 L126.5,811.0 L124.5,811.0 L122.5,810.9 L120.5,810.9 L118.5,810.8 L116.5,810.8 L114.5,810.7 L112.5,810.7 L110.5,810.6 L108.5,810.6 L106.5,810.5 L104.5,810.5 L102.5,810.4 L100.5,810.4 L98.5,810.3 L96.5,810.3 L94.5,810.2 L92.5,810.2 L90.5,810.1 L88.5,810.1 L86.5,810.0 Z" fill="url(#gCeN)" fill-opacity="0.75"/>
<path d="M86.5,809.5 L88.5,809.5 L90.5,809.6 L92.5,809.6 L94.5,809.6 L96.5,809.6 L98.5,809.7 L100.5,809.7 L102.5,809.7 L104.5,809.7 L106.5,809.8 L108.5,809.8 L110.5,809.8 L112.5,809.8 L114.5,809.8 L116.5,809.8 L118.5,809.8 L120.5,809.7 L122.5,809.7 L124.5,809.7 L126.5,809.7 L128.5,809.6 L130.5,809.6 L132.5,809.5 L134.5,809.4 L136.5,809.4 L138.5,809.3 L140.5,809.2 L142.5,809.0 L144.5,808.9 L146.5,808.8 L148.5,808.6 L150.5,808.4 L152.5,808.2 L154.5,808.0 L156.5,807.8 L158.5,807.5 L160.5,807.2 L162.5,806.9 L164.5,806.6 L166.5,806.2 L168.5,805.8 L170.5,805.4 L172.5,804.9 L174.5,804.4 L176.5,803.9 L178.5,803.3 L180.5,802.7 L182.5,802.0 L184.5,801.3 L186.5,800.6 L188.5,799.8 L190.5,799.0 L192.5,798.1 L194.5,797.2 L196.5,796.2 L198.5,795.1 L200.5,794.0 L202.5,792.9 L204.5,791.6 L206.5,790.4 L208.5,789.0 L210.5,787.6 L212.5,786.2 L214.5,784.7 L216.5,783.1 L218.5,781.4 L220.5,779.7 L222.5,778.0 L224.5,776.1 L226.5,774.2 L228.5,772.3 L230.5,770.3 L232.5,768.2 L234.5,766.1 L236.5,763.9 L238.5,761.7 L240.5,759.4 L242.5,757.1 L244.5,754.7 L246.5,752.3 L248.5,749.9 L250.5,747.4 L252.5,744.9 L254.5,742.4 L256.5,739.8 L258.5,737.3 L260.5,734.7 L262.5,732.1 L264.5,729.6 L266.5,727.0 L268.5,724.5 L270.5,721.9 L272.5,719.4 L274.5,717.0 L276.5,714.6 L278.5,712.2 L280.5,709.8 L282.5,707.6 L284.5,705.4 L286.5,703.2 L288.5,701.2 L290.5,699.2 L292.5,697.3 L294.5,695.5 L296.5,693.8 L298.5,692.3 L300.5,690.8 L302.5,689.5 L304.5,688.2 L306.5,687.1 L308.5,686.2 L310.5,685.3 L312.5,684.6 L314.5,684.1 L316.5,683.6 L318.5,683.4 L320.5,683.2 L322.5,683.3 L324.5,683.4 L326.5,683.7 L328.5,684.2 L330.5,684.8 L332.5,685.5 L334.5,686.4 L336.5,687.4 L338.5,688.5 L340.5,689.8 L342.5,691.2 L344.5,692.7 L346.5,694.3 L348.5,696.0 L350.5,697.9 L352.5,699.8 L354.5,701.8 L356.5,704.0 L358.5,706.2 L360.5,708.4 L362.5,710.8 L364.5,713.2 L366.5,715.6 L368.5,718.1 L370.5,720.7 L372.5,723.3 L374.5,725.9 L376.5,728.5 L378.5,731.2 L380.5,733.8 L382.5,736.5 L384.5,739.2 L386.5,741.9 L388.5,744.5 L390.5,747.1 L392.5,749.8 L394.5,752.3 L396.5,754.9 L398.5,757.4 L400.5,759.9 L402.5,762.4 L404.5,764.8 L406.5,767.1 L408.5,769.4 L410.5,771.7 L412.5,773.9 L414.5,776.0 L416.5,778.1 L418.5,780.1 L420.5,782.1 L422.5,784.0 L424.5,785.8 L426.5,787.6 L428.5,789.3 L430.5,791.0 L432.5,792.6 L434.5,794.1 L436.5,795.6 L438.5,797.0 L440.5,798.3 L442.5,799.6 L444.5,800.8 L446.5,802.0 L448.5,803.1 L450.5,804.2 L452.5,805.2 L454.5,806.2 L456.5,807.1 L458.5,807.9 L460.5,808.8 L462.5,809.5 L464.5,810.3 L466.5,811.0 L468.5,811.6 L470.5,812.2 L472.5,812.8 L474.5,813.4 L476.5,813.9 L478.5,814.4 L480.5,814.8 L482.5,815.2 L484.5,815.7 L486.5,816.0 L488.5,816.4 L490.5,816.7 L492.5,817.0 L494.5,817.3 L496.5,817.6 L498.5,817.9 L500.5,818.1 L502.5,818.3 L504.5,818.5 L506.5,818.7 L508.5,818.9 L510.5,819.1 L512.5,819.3 L514.5,819.4 L516.5,819.6 L518.5,819.7 L520.5,819.9 L522.5,820.0 L524.5,820.1 L526.5,820.2 L528.5,820.3 L530.5,820.4 L532.5,820.5 L534.5,820.6 L536.5,820.7 L538.5,820.8 L540.5,820.9 L542.5,821.0 L544.5,821.1 L546.5,821.1 L548.5,821.2 L550.5,821.3 L552.5,821.4 L554.5,821.4 L556.5,821.5 L558.5,821.6 L560.5,821.6 L562.5,821.7 L564.5,821.8 L566.5,821.8 L568.5,821.9 L570.5,821.9 L572.5,822.0 L574.5,822.1 L576.5,822.1 L578.5,822.2 L580.5,822.2 L582.5,822.3 L584.5,822.4 L586.5,822.4 L588.5,822.5 L590.5,822.5 L592.5,822.6 L594.5,822.6 L596.5,822.7 L598.5,822.8 L600.5,822.8 L602.5,822.9 L604.5,822.9 L606.5,823.0 L608.5,823.0 L610.5,823.1 L612.5,823.2 L614.5,823.2 L616.5,823.3 L618.5,823.3 L620.5,823.4 L622.5,823.4 L624.5,823.5 L626.5,823.5 L628.5,823.6 L630.5,823.6 L632.5,823.7" fill="none" stroke="#a8c9ee" stroke-width="1.6"/>
<path d="M86.5,809.6 L88.5,809.6 L90.5,809.7 L92.5,809.7 L94.5,809.8 L96.5,809.8 L98.5,809.8 L100.5,809.9 L102.5,809.9 L104.5,810.0 L106.5,810.0 L108.5,810.1 L110.5,810.1 L112.5,810.2 L114.5,810.2 L116.5,810.3 L118.5,810.3 L120.5,810.4 L122.5,810.4 L124.5,810.4 L126.5,810.5 L128.5,810.5 L130.5,810.6 L132.5,810.6 L134.5,810.7 L136.5,810.7 L138.5,810.8 L140.5,810.8 L142.5,810.8 L144.5,810.9 L146.5,810.9 L148.5,811.0 L150.5,811.0 L152.5,811.1 L154.5,811.1 L156.5,811.1 L158.5,811.2 L160.5,811.2 L162.5,811.3 L164.5,811.3 L166.5,811.4 L168.5,811.4 L170.5,811.4 L172.5,811.5 L174.5,811.5 L176.5,811.6 L178.5,811.6 L180.5,811.6 L182.5,811.7 L184.5,811.7 L186.5,811.8 L188.5,811.8 L190.5,811.8 L192.5,811.9 L194.5,811.9 L196.5,812.0 L198.5,812.0 L200.5,812.0 L202.5,812.1 L204.5,812.1 L206.5,812.2 L208.5,812.2 L210.5,812.2 L212.5,812.3 L214.5,812.3 L216.5,812.3 L218.5,812.4 L220.5,812.4 L222.5,812.4 L224.5,812.5 L226.5,812.5 L228.5,812.5 L230.5,812.6 L232.5,812.6 L234.5,812.6 L236.5,812.7 L238.5,812.7 L240.5,812.7 L242.5,812.8 L244.5,812.8 L246.5,812.8 L248.5,812.8 L250.5,812.9 L252.5,812.9 L254.5,812.9 L256.5,812.9 L258.5,812.9 L260.5,812.9 L262.5,813.0 L264.5,813.0 L266.5,813.0 L268.5,813.0 L270.5,813.0 L272.5,813.0 L274.5,813.0 L276.5,813.0 L278.5,813.0 L280.5,812.9 L282.5,812.9 L284.5,812.9 L286.5,812.8 L288.5,812.8 L290.5,812.8 L292.5,812.7 L294.5,812.6 L296.5,812.6 L298.5,812.5 L300.5,812.4 L302.5,812.3 L304.5,812.2 L306.5,812.0 L308.5,811.9 L310.5,811.7 L312.5,811.5 L314.5,811.3 L316.5,811.1 L318.5,810.9 L320.5,810.6 L322.5,810.3 L324.5,810.0 L326.5,809.7 L328.5,809.3 L330.5,808.9 L332.5,808.5 L334.5,808.0 L336.5,807.5 L338.5,807.0 L340.5,806.4 L342.5,805.8 L344.5,805.1 L346.5,804.4 L348.5,803.7 L350.5,802.9 L352.5,802.0 L354.5,801.1 L356.5,800.2 L358.5,799.2 L360.5,798.2 L362.5,797.1 L364.5,795.9 L366.5,794.7 L368.5,793.4 L370.5,792.1 L372.5,790.7 L374.5,789.2 L376.5,787.7 L378.5,786.2 L380.5,784.6 L382.5,782.9 L384.5,781.1 L386.5,779.4 L388.5,777.5 L390.5,775.6 L392.5,773.7 L394.5,771.7 L396.5,769.7 L398.5,767.6 L400.5,765.6 L402.5,763.4 L404.5,761.3 L406.5,759.1 L408.5,756.9 L410.5,754.7 L412.5,752.5 L414.5,750.3 L416.5,748.1 L418.5,745.9 L420.5,743.7 L422.5,741.6 L424.5,739.4 L426.5,737.4 L428.5,735.3 L430.5,733.3 L432.5,731.4 L434.5,729.5 L436.5,727.7 L438.5,726.0 L440.5,724.4 L442.5,722.9 L444.5,721.5 L446.5,720.2 L448.5,719.0 L450.5,717.9 L452.5,717.0 L454.5,716.1 L456.5,715.5 L458.5,714.9 L460.5,714.5 L462.5,714.3 L464.5,714.2 L466.5,714.2 L468.5,714.4 L470.5,714.8 L472.5,715.3 L474.5,715.9 L476.5,716.7 L478.5,717.6 L480.5,718.7 L482.5,719.8 L484.5,721.1 L486.5,722.5 L488.5,724.1 L490.5,725.7 L492.5,727.4 L494.5,729.2 L496.5,731.1 L498.5,733.1 L500.5,735.1 L502.5,737.2 L504.5,739.3 L506.5,741.5 L508.5,743.8 L510.5,746.0 L512.5,748.3 L514.5,750.6 L516.5,752.9 L518.5,755.2 L520.5,757.5 L522.5,759.8 L524.5,762.1 L526.5,764.4 L528.5,766.6 L530.5,768.9 L532.5,771.1 L534.5,773.2 L536.5,775.4 L538.5,777.4 L540.5,779.5 L542.5,781.5 L544.5,783.4 L546.5,785.3 L548.5,787.1 L550.5,788.9 L552.5,790.6 L554.5,792.3 L556.5,793.9 L558.5,795.4 L560.5,796.9 L562.5,798.4 L564.5,799.7 L566.5,801.1 L568.5,802.3 L570.5,803.5 L572.5,804.7 L574.5,805.8 L576.5,806.8 L578.5,807.8 L580.5,808.8 L582.5,809.6 L584.5,810.5 L586.5,811.3 L588.5,812.1 L590.5,812.8 L592.5,813.4 L594.5,814.1 L596.5,814.7 L598.5,815.2 L600.5,815.8 L602.5,816.3 L604.5,816.8 L606.5,817.2 L608.5,817.6 L610.5,818.0 L612.5,818.4 L614.5,818.7 L616.5,819.0 L618.5,819.3 L620.5,819.6 L622.5,819.9 L624.5,820.1 L626.5,820.4 L628.5,820.6 L630.5,820.8 L632.5,821.0" fill="none" stroke="#4f88d8" stroke-width="1.8"/>
<path d="M86.5,809.0 L88.5,809.1 L90.5,809.1 L92.5,809.1 L94.5,809.2 L96.5,809.2 L98.5,809.2 L100.5,809.2 L102.5,809.2 L104.5,809.2 L106.5,809.3 L108.5,809.3 L110.5,809.3 L112.5,809.3 L114.5,809.3 L116.5,809.2 L118.5,809.2 L120.5,809.2 L122.5,809.2 L124.5,809.1 L126.5,809.1 L128.5,809.1 L130.5,809.0 L132.5,808.9 L134.5,808.9 L136.5,808.8 L138.5,808.7 L140.5,808.6 L142.5,808.4 L144.5,808.3 L146.5,808.1 L148.5,808.0 L150.5,807.8 L152.5,807.6 L154.5,807.3 L156.5,807.1 L158.5,806.8 L160.5,806.5 L162.5,806.2 L164.5,805.9 L166.5,805.5 L168.5,805.1 L170.5,804.6 L172.5,804.2 L174.5,803.7 L176.5,803.1 L178.5,802.5 L180.5,801.9 L182.5,801.2 L184.5,800.5 L186.5,799.8 L188.5,799.0 L190.5,798.1 L192.5,797.2 L194.5,796.3 L196.5,795.3 L198.5,794.2 L200.5,793.1 L202.5,792.0 L204.5,790.7 L206.5,789.4 L208.5,788.1 L210.5,786.7 L212.5,785.2 L214.5,783.7 L216.5,782.1 L218.5,780.4 L220.5,778.7 L222.5,776.9 L224.5,775.1 L226.5,773.2 L228.5,771.2 L230.5,769.2 L232.5,767.1 L234.5,764.9 L236.5,762.7 L238.5,760.5 L240.5,758.2 L242.5,755.8 L244.5,753.4 L246.5,751.0 L248.5,748.5 L250.5,746.0 L252.5,743.5 L254.5,741.0 L256.5,738.4 L258.5,735.8 L260.5,733.2 L262.5,730.6 L264.5,728.0 L266.5,725.4 L268.5,722.8 L270.5,720.2 L272.5,717.7 L274.5,715.1 L276.5,712.6 L278.5,710.2 L280.5,707.8 L282.5,705.5 L284.5,703.2 L286.5,701.0 L288.5,698.8 L290.5,696.7 L292.5,694.7 L294.5,692.8 L296.5,691.0 L298.5,689.3 L300.5,687.7 L302.5,686.2 L304.5,684.8 L306.5,683.5 L308.5,682.3 L310.5,681.3 L312.5,680.3 L314.5,679.5 L316.5,678.8 L318.5,678.3 L320.5,677.8 L322.5,677.5 L324.5,677.3 L326.5,677.2 L328.5,677.2 L330.5,677.4 L332.5,677.6 L334.5,678.0 L336.5,678.5 L338.5,679.0 L340.5,679.6 L342.5,680.4 L344.5,681.2 L346.5,682.0 L348.5,683.0 L350.5,684.0 L352.5,685.0 L354.5,686.1 L356.5,687.2 L358.5,688.4 L360.5,689.6 L362.5,690.8 L364.5,692.0 L366.5,693.1 L368.5,694.3 L370.5,695.5 L372.5,696.6 L374.5,697.8 L376.5,698.8 L378.5,699.9 L380.5,700.9 L382.5,701.8 L384.5,702.7 L386.5,703.5 L388.5,704.3 L390.5,705.0 L392.5,705.6 L394.5,706.2 L396.5,706.7 L398.5,707.1 L400.5,707.4 L402.5,707.7 L404.5,707.9 L406.5,708.0 L408.5,708.1 L410.5,708.1 L412.5,708.0 L414.5,707.9 L416.5,707.7 L418.5,707.5 L420.5,707.3 L422.5,707.0 L424.5,706.6 L426.5,706.3 L428.5,705.9 L430.5,705.5 L432.5,705.1 L434.5,704.7 L436.5,704.3 L438.5,704.0 L440.5,703.7 L442.5,703.4 L444.5,703.1 L446.5,703.0 L448.5,702.8 L450.5,702.8 L452.5,702.8 L454.5,702.9 L456.5,703.1 L458.5,703.4 L460.5,703.7 L462.5,704.2 L464.5,704.8 L466.5,705.5 L468.5,706.3 L470.5,707.2 L472.5,708.2 L474.5,709.4 L476.5,710.6 L478.5,711.9 L480.5,713.4 L482.5,715.0 L484.5,716.6 L486.5,718.3 L488.5,720.2 L490.5,722.1 L492.5,724.1 L494.5,726.1 L496.5,728.2 L498.5,730.4 L500.5,732.6 L502.5,734.9 L504.5,737.2 L506.5,739.5 L508.5,741.9 L510.5,744.3 L512.5,746.7 L514.5,749.1 L516.5,751.5 L518.5,753.9 L520.5,756.3 L522.5,758.6 L524.5,761.0 L526.5,763.4 L528.5,765.7 L530.5,767.9 L532.5,770.2 L534.5,772.4 L536.5,774.6 L538.5,776.7 L540.5,778.7 L542.5,780.8 L544.5,782.7 L546.5,784.6 L548.5,786.5 L550.5,788.3 L552.5,790.0 L554.5,791.7 L556.5,793.4 L558.5,794.9 L560.5,796.4 L562.5,797.9 L564.5,799.3 L566.5,800.6 L568.5,801.9 L570.5,803.1 L572.5,804.2 L574.5,805.4 L576.5,806.4 L578.5,807.4 L580.5,808.4 L582.5,809.3 L584.5,810.1 L586.5,810.9 L588.5,811.7 L590.5,812.4 L592.5,813.1 L594.5,813.7 L596.5,814.3 L598.5,814.9 L600.5,815.4 L602.5,816.0 L604.5,816.4 L606.5,816.9 L608.5,817.3 L610.5,817.7 L612.5,818.1 L614.5,818.4 L616.5,818.7 L618.5,819.0 L620.5,819.3 L622.5,819.6 L624.5,819.9 L626.5,820.1 L628.5,820.3 L630.5,820.5 L632.5,820.7" fill="none" stroke="#6b9bd6" stroke-width="3" stroke-linejoin="round"/>
<path d="M86.5,1004.0 L88.5,1004.1 L90.5,1004.1 L92.5,1004.2 L94.5,1004.3 L96.5,1004.3 L98.5,1004.4 L100.5,1004.4 L102.5,1004.5 L104.5,1004.6 L106.5,1004.6 L108.5,1004.7 L110.5,1004.7 L112.5,1004.8 L114.5,1004.9 L116.5,1004.9 L118.5,1005.0 L120.5,1005.0 L122.5,1005.1 L124.5,1005.1 L126.5,1005.2 L128.5,1005.3 L130.5,1005.3 L132.5,1005.4 L134.5,1005.4 L136.5,1005.5 L138.5,1005.6 L140.5,1005.6 L142.5,1005.7 L144.5,1005.7 L146.5,1005.8 L148.5,1005.9 L150.5,1005.9 L152.5,1006.0 L154.5,1006.0 L156.5,1006.1 L158.5,1006.2 L160.5,1006.2 L162.5,1006.3 L164.5,1006.3 L166.5,1006.4 L168.5,1006.5 L170.5,1006.5 L172.5,1006.6 L174.5,1006.6 L176.5,1006.7 L178.5,1006.7 L180.5,1006.8 L182.5,1006.9 L184.5,1006.9 L186.5,1007.0 L188.5,1007.0 L190.5,1007.1 L192.5,1007.2 L194.5,1007.2 L196.5,1007.3 L198.5,1007.3 L200.5,1007.4 L202.5,1007.5 L204.5,1007.5 L206.5,1007.6 L208.5,1007.6 L210.5,1007.7 L212.5,1007.8 L214.5,1007.8 L216.5,1007.9 L218.5,1007.9 L220.5,1008.0 L222.5,1008.1 L224.5,1008.1 L226.5,1008.2 L228.5,1008.2 L230.5,1008.3 L232.5,1008.3 L234.5,1008.4 L236.5,1008.5 L238.5,1008.5 L240.5,1008.6 L242.5,1008.6 L244.5,1008.7 L246.5,1008.8 L248.5,1008.8 L250.5,1008.9 L252.5,1008.9 L254.5,1009.0 L256.5,1009.1 L258.5,1009.1 L260.5,1009.2 L262.5,1009.2 L264.5,1009.3 L266.5,1009.4 L268.5,1009.4 L270.5,1009.5 L272.5,1009.5 L274.5,1009.6 L276.5,1009.7 L278.5,1009.7 L280.5,1009.8 L282.5,1009.8 L284.5,1009.9 L286.5,1009.9 L288.5,1010.0 L290.5,1010.1 L292.5,1010.1 L294.5,1010.2 L296.5,1010.2 L298.5,1010.3 L300.5,1010.4 L302.5,1010.4 L304.5,1010.5 L306.5,1010.5 L308.5,1010.6 L310.5,1010.7 L312.5,1010.7 L314.5,1010.8 L316.5,1010.8 L318.5,1010.9 L320.5,1011.0 L322.5,1011.0 L324.5,1011.2 L326.5,1011.3 L328.5,1011.4 L330.5,1011.5 L332.5,1011.7 L334.5,1011.8 L336.5,1011.9 L338.5,1012.0 L340.5,1012.1 L342.5,1012.3 L344.5,1012.4 L346.5,1012.5 L348.5,1012.6 L350.5,1012.8 L352.5,1012.9 L354.5,1013.0 L356.5,1013.1 L358.5,1013.3 L360.5,1013.4 L362.5,1013.5 L364.5,1013.6 L366.5,1013.8 L368.5,1013.9 L370.5,1014.0 L372.5,1014.1 L374.5,1014.3 L376.5,1014.4 L378.5,1014.5 L380.5,1014.6 L382.5,1014.8 L384.5,1014.9 L386.5,1015.0 L388.5,1015.1 L390.5,1015.3 L392.5,1015.4 L394.5,1015.5 L396.5,1015.6 L398.5,1015.7 L400.5,1015.9 L402.5,1016.0 L404.5,1016.1 L406.5,1016.2 L408.5,1016.4 L410.5,1016.5 L412.5,1016.6 L414.5,1016.7 L416.5,1016.9 L418.5,1017.0 L420.5,1017.1 L422.5,1017.2 L424.5,1017.4 L426.5,1017.5 L428.5,1017.6 L430.5,1017.7 L432.5,1017.9 L434.5,1018.0 L436.5,1018.1 L438.5,1018.2 L440.5,1018.4 L442.5,1018.5 L444.5,1018.6 L446.5,1018.7 L448.5,1018.9 L450.5,1019.0 L452.5,1019.1 L454.5,1019.2 L456.5,1019.3 L458.5,1019.5 L460.5,1019.6 L462.5,1019.7 L464.5,1019.8 L466.5,1020.0 L468.5,1020.1 L470.5,1020.2 L472.5,1020.3 L474.5,1020.4 L476.5,1020.5 L478.5,1020.6 L480.5,1020.7 L482.5,1020.8 L484.5,1020.9 L486.5,1021.0 L488.5,1021.2 L490.5,1021.3 L492.5,1021.4 L494.5,1021.5 L496.5,1021.6 L498.5,1021.7 L500.5,1021.8 L502.5,1021.9 L504.5,1022.0 L506.5,1022.1 L508.5,1022.2 L510.5,1022.3 L512.5,1022.4 L514.5,1022.6 L516.5,1022.7 L518.5,1022.8 L520.5,1022.9 L522.5,1023.0 L524.5,1023.1 L526.5,1023.2 L528.5,1023.3 L530.5,1023.4 L532.5,1023.5 L534.5,1023.6 L536.5,1023.7 L538.5,1023.8 L540.5,1024.0 L542.5,1024.1 L544.5,1024.2 L546.5,1024.3 L548.5,1024.4 L550.5,1024.5 L552.5,1024.6 L554.5,1024.7 L556.5,1024.8 L558.5,1024.9 L560.5,1025.0 L562.5,1025.1 L564.5,1025.1 L566.5,1025.2 L568.5,1025.2 L570.5,1025.3 L572.5,1025.3 L574.5,1025.4 L576.5,1025.4 L578.5,1025.5 L580.5,1025.6 L582.5,1025.6 L584.5,1025.7 L586.5,1025.7 L588.5,1025.8 L590.5,1025.8 L592.5,1025.9 L594.5,1025.9 L596.5,1026.0 L598.5,1026.0 L600.5,1026.1 L602.5,1026.2 L604.5,1026.2 L606.5,1026.3 L608.5,1026.3 L610.5,1026.4 L612.5,1026.4 L614.5,1026.5 L616.5,1026.5 L618.5,1026.6 L620.5,1026.6 L622.5,1026.7 L624.5,1026.8 L626.5,1026.8 L628.5,1026.9 L630.5,1026.9 L632.5,1027.0" fill="none" stroke="#777" stroke-width="1.8"/>
<path d="M86.5,1005.5 L88.5,1005.6 L90.5,1005.7 L92.5,1005.7 L94.5,1005.8 L96.5,1005.9 L98.5,1006.0 L100.5,1006.0 L102.5,1006.1 L104.5,1006.2 L106.5,1006.3 L108.5,1006.3 L110.5,1006.4 L112.5,1006.5 L114.5,1006.5 L116.5,1006.6 L118.5,1006.7 L120.5,1006.8 L122.5,1006.8 L124.5,1006.9 L126.5,1007.0 L128.5,1007.0 L130.5,1007.1 L132.5,1007.2 L134.5,1007.3 L136.5,1007.3 L138.5,1007.4 L140.5,1007.5 L142.5,1007.6 L144.5,1007.6 L146.5,1007.7 L148.5,1007.8 L150.5,1007.8 L152.5,1007.9 L154.5,1008.0 L156.5,1008.1 L158.5,1008.1 L160.5,1008.2 L162.5,1008.3 L164.5,1008.3 L166.5,1008.4 L168.5,1008.5 L170.5,1008.6 L172.5,1008.6 L174.5,1008.7 L176.5,1008.8 L178.5,1008.9 L180.5,1008.9 L182.5,1009.0 L184.5,1009.1 L186.5,1009.1 L188.5,1009.2 L190.5,1009.3 L192.5,1009.4 L194.5,1009.4 L196.5,1009.5 L198.5,1009.6 L200.5,1009.6 L202.5,1009.7 L204.5,1009.8 L206.5,1009.9 L208.5,1009.9 L210.5,1010.0 L212.5,1010.1 L214.5,1010.2 L216.5,1010.2 L218.5,1010.3 L220.5,1010.4 L222.5,1010.4 L224.5,1010.5 L226.5,1010.6 L228.5,1010.7 L230.5,1010.7 L232.5,1010.8 L234.5,1010.9 L236.5,1010.9 L238.5,1011.0 L240.5,1011.1 L242.5,1011.2 L244.5,1011.2 L246.5,1011.3 L248.5,1011.4 L250.5,1011.5 L252.5,1011.5 L254.5,1011.6 L256.5,1011.7 L258.5,1011.7 L260.5,1011.8 L262.5,1011.9 L264.5,1012.0 L266.5,1012.0 L268.5,1012.1 L270.5,1012.2 L272.5,1012.2 L274.5,1012.3 L276.5,1012.4 L278.5,1012.5 L280.5,1012.5 L282.5,1012.6 L284.5,1012.7 L286.5,1012.8 L288.5,1012.8 L290.5,1012.9 L292.5,1013.0 L294.5,1013.0 L296.5,1013.1 L298.5,1013.2 L300.5,1013.3 L302.5,1013.3 L304.5,1013.4 L306.5,1013.5 L308.5,1013.6 L310.5,1013.6 L312.5,1013.7 L314.5,1013.8 L316.5,1013.8 L318.5,1013.9 L320.5,1014.0 L322.5,1014.1 L324.5,1014.1 L326.5,1014.2 L328.5,1014.3 L330.5,1014.3 L332.5,1014.4 L334.5,1014.5 L336.5,1014.6 L338.5,1014.6 L340.5,1014.7 L342.5,1014.8 L344.5,1014.9 L346.5,1014.9 L348.5,1015.0 L350.5,1015.1 L352.5,1015.1 L354.5,1015.2 L356.5,1015.3 L358.5,1015.4 L360.5,1015.4 L362.5,1015.5 L364.5,1015.6 L366.5,1015.6 L368.5,1015.7 L370.5,1015.8 L372.5,1015.9 L374.5,1015.9 L376.5,1016.0 L378.5,1016.1 L380.5,1016.2 L382.5,1016.2 L384.5,1016.3 L386.5,1016.4 L388.5,1016.4 L390.5,1016.5 L392.5,1016.6 L394.5,1016.7 L396.5,1016.7 L398.5,1016.8 L400.5,1016.9 L402.5,1016.9 L404.5,1017.0 L406.5,1017.1 L408.5,1017.2 L410.5,1017.2 L412.5,1017.3 L414.5,1017.4 L416.5,1017.5 L418.5,1017.5 L420.5,1017.6 L422.5,1017.7 L424.5,1017.7 L426.5,1017.8 L428.5,1017.9 L430.5,1018.0 L432.5,1018.0 L434.5,1018.1 L436.5,1018.2 L438.5,1018.2 L440.5,1018.3 L442.5,1018.4 L444.5,1018.5 L446.5,1018.5 L448.5,1018.6 L450.5,1018.7 L452.5,1018.8 L454.5,1018.8 L456.5,1018.9 L458.5,1019.0 L460.5,1019.0 L462.5,1019.1 L464.5,1019.2 L466.5,1019.3 L468.5,1019.3 L470.5,1019.4 L472.5,1019.5 L474.5,1019.5 L476.5,1019.6 L478.5,1019.7 L480.5,1019.8 L482.5,1019.8 L484.5,1019.9 L486.5,1020.0 L488.5,1020.1 L490.5,1020.1 L492.5,1020.2 L494.5,1020.3 L496.5,1020.3 L498.5,1020.4 L500.5,1020.5 L502.5,1020.6 L504.5,1020.6 L506.5,1020.7 L508.5,1020.8 L510.5,1020.8 L512.5,1020.9 L514.5,1021.0 L516.5,1021.1 L518.5,1021.1 L520.5,1021.2 L522.5,1021.3 L524.5,1021.4 L526.5,1021.4 L528.5,1021.5 L530.5,1021.6 L532.5,1021.6 L534.5,1021.7 L536.5,1021.8 L538.5,1021.9 L540.5,1021.9 L542.5,1022.0 L544.5,1022.1 L546.5,1022.1 L548.5,1022.2 L550.5,1022.3 L552.5,1022.4 L554.5,1022.4 L556.5,1022.5 L558.5,1022.6 L560.5,1022.7 L562.5,1022.7 L564.5,1022.8 L566.5,1022.9 L568.5,1022.9 L570.5,1023.0 L572.5,1023.1 L574.5,1023.2 L576.5,1023.2 L578.5,1023.3 L580.5,1023.4 L582.5,1023.5 L584.5,1023.5 L586.5,1023.6 L588.5,1023.7 L590.5,1023.7 L592.5,1023.8 L594.5,1023.9 L596.5,1024.0 L598.5,1024.0 L600.5,1024.1 L602.5,1024.2 L604.5,1024.2 L606.5,1024.3 L608.5,1024.4 L610.5,1024.5 L612.5,1024.5 L614.5,1024.6 L616.5,1024.7 L618.5,1024.8 L620.5,1024.8 L622.5,1024.9 L624.5,1025.0 L626.5,1025.0 L628.5,1025.1 L630.5,1025.2 L632.5,1025.3" fill="none" stroke="#4f88d8" stroke-width="1.8"/>
<g fill="url(#dotg)" opacity="0.95"><circle cx="88.5" cy="1003.8" r="3.9"/><circle cx="99.8" cy="1007.8" r="3.9"/><circle cx="111.1" cy="1006.8" r="3.9"/><circle cx="122.4" cy="1006.7" r="3.9"/><circle cx="133.7" cy="1009.6" r="3.9"/><circle cx="145.0" cy="998.8" r="3.9"/><circle cx="156.3" cy="999.7" r="3.9"/><circle cx="167.6" cy="995.1" r="3.9"/><circle cx="178.9" cy="996.2" r="3.9"/><circle cx="190.2" cy="995.4" r="3.9"/><circle cx="201.5" cy="984.9" r="3.9"/><circle cx="212.8" cy="977.7" r="3.9"/><circle cx="224.1" cy="957.4" r="3.9"/><circle cx="235.4" cy="950.6" r="3.9"/><circle cx="246.7" cy="930.4" r="3.9"/><circle cx="258.0" cy="922.1" r="3.9"/><circle cx="269.3" cy="900.3" r="3.9"/><circle cx="280.6" cy="882.7" r="3.9"/><circle cx="291.9" cy="863.5" r="3.9"/><circle cx="303.2" cy="854.2" r="3.9"/><circle cx="314.5" cy="847.7" r="3.9"/><circle cx="325.8" cy="842.9" r="3.9"/><circle cx="337.1" cy="846.6" r="3.9"/><circle cx="348.4" cy="856.5" r="3.9"/><circle cx="359.7" cy="865.9" r="3.9"/><circle cx="371.0" cy="878.0" r="3.9"/><circle cx="382.3" cy="890.5" r="3.9"/><circle cx="393.6" cy="898.2" r="3.9"/><circle cx="404.9" cy="910.4" r="3.9"/><circle cx="416.2" cy="906.2" r="3.9"/><circle cx="427.5" cy="917.3" r="3.9"/><circle cx="438.8" cy="913.7" r="3.9"/><circle cx="450.1" cy="916.0" r="3.9"/><circle cx="461.4" cy="916.9" r="3.9"/><circle cx="472.7" cy="927.3" r="3.9"/><circle cx="484.0" cy="935.4" r="3.9"/><circle cx="495.3" cy="947.3" r="3.9"/><circle cx="506.6" cy="956.2" r="3.9"/><circle cx="517.9" cy="970.1" r="3.9"/><circle cx="529.2" cy="987.4" r="3.9"/><circle cx="540.5" cy="992.2" r="3.9"/><circle cx="551.8" cy="997.1" r="3.9"/><circle cx="563.1" cy="1009.4" r="3.9"/><circle cx="574.4" cy="1010.8" r="3.9"/><circle cx="585.7" cy="1017.3" r="3.9"/><circle cx="597.0" cy="1020.2" r="3.9"/><circle cx="608.3" cy="1018.6" r="3.9"/><circle cx="619.6" cy="1014.6" r="3.9"/><circle cx="630.9" cy="1021.4" r="3.9"/></g>
<path d="M86.5,1004.1 L88.5,1004.2 L90.5,1004.2 L92.5,1004.2 L94.5,1004.3 L96.5,1004.3 L98.5,1004.3 L100.5,1004.4 L102.5,1004.4 L104.5,1004.4 L106.5,1004.5 L108.5,1004.5 L110.5,1004.5 L112.5,1004.5 L114.5,1004.5 L116.5,1004.5 L118.5,1004.5 L120.5,1004.5 L122.5,1004.5 L124.5,1004.4 L126.5,1004.4 L128.5,1004.4 L130.5,1004.3 L132.5,1004.2 L134.5,1004.2 L136.5,1004.1 L138.5,1004.0 L140.5,1003.9 L142.5,1003.7 L144.5,1003.6 L146.5,1003.4 L148.5,1003.3 L150.5,1003.1 L152.5,1002.8 L154.5,1002.6 L156.5,1002.3 L158.5,1002.0 L160.5,1001.7 L162.5,1001.3 L164.5,1001.0 L166.5,1000.5 L168.5,1000.1 L170.5,999.6 L172.5,999.1 L174.5,998.5 L176.5,997.9 L178.5,997.2 L180.5,996.5 L182.5,995.8 L184.5,994.9 L186.5,994.1 L188.5,993.2 L190.5,992.2 L192.5,991.1 L194.5,990.0 L196.5,988.8 L198.5,987.6 L200.5,986.3 L202.5,984.9 L204.5,983.4 L206.5,981.9 L208.5,980.3 L210.5,978.6 L212.5,976.8 L214.5,975.0 L216.5,973.1 L218.5,971.1 L220.5,969.0 L222.5,966.8 L224.5,964.5 L226.5,962.2 L228.5,959.8 L230.5,957.3 L232.5,954.7 L234.5,952.1 L236.5,949.4 L238.5,946.6 L240.5,943.8 L242.5,940.8 L244.5,937.9 L246.5,934.9 L248.5,931.8 L250.5,928.7 L252.5,925.5 L254.5,922.3 L256.5,919.1 L258.5,915.8 L260.5,912.6 L262.5,909.3 L264.5,906.0 L266.5,902.8 L268.5,899.5 L270.5,896.3 L272.5,893.1 L274.5,890.0 L276.5,886.9 L278.5,883.8 L280.5,880.8 L282.5,877.9 L284.5,875.1 L286.5,872.4 L288.5,869.8 L290.5,867.3 L292.5,864.9 L294.5,862.6 L296.5,860.5 L298.5,858.5 L300.5,856.7 L302.5,855.0 L304.5,853.5 L306.5,852.2 L308.5,851.1 L310.5,850.1 L312.5,849.4 L314.5,848.8 L316.5,848.4 L318.5,848.3 L320.5,848.3 L322.5,848.5 L324.5,848.9 L326.5,849.5 L328.5,850.4 L330.5,851.4 L332.5,852.5 L334.5,853.9 L336.5,855.5 L338.5,857.2 L340.5,859.1 L342.5,861.1 L344.5,863.3 L346.5,865.6 L348.5,868.1 L350.5,870.7 L352.5,873.4 L354.5,876.2 L356.5,879.1 L358.5,882.1 L360.5,885.2 L362.5,888.4 L364.5,891.6 L366.5,894.9 L368.5,898.2 L370.5,901.6 L372.5,904.9 L374.5,908.3 L376.5,911.8 L378.5,915.2 L380.5,918.6 L382.5,922.0 L384.5,925.4 L386.5,928.7 L388.5,932.0 L390.5,935.3 L392.5,938.6 L394.5,941.8 L396.5,944.9 L398.5,948.0 L400.5,951.0 L402.5,954.0 L404.5,956.9 L406.5,959.7 L408.5,962.4 L410.5,965.1 L412.5,967.7 L414.5,970.2 L416.5,972.7 L418.5,975.0 L420.5,977.3 L422.5,979.5 L424.5,981.6 L426.5,983.6 L428.5,985.6 L430.5,987.4 L432.5,989.2 L434.5,991.0 L436.5,992.6 L438.5,994.2 L440.5,995.7 L442.5,997.1 L444.5,998.4 L446.5,999.7 L448.5,1000.9 L450.5,1002.1 L452.5,1003.2 L454.5,1004.2 L456.5,1005.2 L458.5,1006.2 L460.5,1007.0 L462.5,1007.9 L464.5,1008.6 L466.5,1009.4 L468.5,1010.1 L470.5,1010.7 L472.5,1011.3 L474.5,1011.9 L476.5,1012.5 L478.5,1013.0 L480.5,1013.5 L482.5,1013.9 L484.5,1014.3 L486.5,1014.7 L488.5,1015.1 L490.5,1015.5 L492.5,1015.8 L494.5,1016.1 L496.5,1016.4 L498.5,1016.7 L500.5,1017.0 L502.5,1017.2 L504.5,1017.5 L506.5,1017.7 L508.5,1017.9 L510.5,1018.1 L512.5,1018.3 L514.5,1018.5 L516.5,1018.6 L518.5,1018.8 L520.5,1019.0 L522.5,1019.1 L524.5,1019.3 L526.5,1019.4 L528.5,1019.6 L530.5,1019.7 L532.5,1019.8 L534.5,1019.9 L536.5,1020.1 L538.5,1020.2 L540.5,1020.3 L542.5,1020.4 L544.5,1020.5 L546.5,1020.6 L548.5,1020.7 L550.5,1020.8 L552.5,1020.9 L554.5,1021.0 L556.5,1021.1 L558.5,1021.2 L560.5,1021.3 L562.5,1021.4 L564.5,1021.5 L566.5,1021.6 L568.5,1021.7 L570.5,1021.8 L572.5,1021.9 L574.5,1022.0 L576.5,1022.1 L578.5,1022.2 L580.5,1022.3 L582.5,1022.4 L584.5,1022.4 L586.5,1022.5 L588.5,1022.6 L590.5,1022.7 L592.5,1022.8 L594.5,1022.9 L596.5,1023.0 L598.5,1023.1 L600.5,1023.1 L602.5,1023.2 L604.5,1023.3 L606.5,1023.4 L608.5,1023.5 L610.5,1023.6 L612.5,1023.6 L614.5,1023.7 L616.5,1023.8 L618.5,1023.9 L620.5,1024.0 L622.5,1024.1 L624.5,1024.1 L626.5,1024.2 L628.5,1024.3 L630.5,1024.4 L632.5,1024.5 L632.5,1025.3 L630.5,1025.2 L628.5,1025.1 L626.5,1025.0 L624.5,1025.0 L622.5,1024.9 L620.5,1024.8 L618.5,1024.8 L616.5,1024.7 L614.5,1024.6 L612.5,1024.5 L610.5,1024.5 L608.5,1024.4 L606.5,1024.3 L604.5,1024.2 L602.5,1024.2 L600.5,1024.1 L598.5,1024.0 L596.5,1024.0 L594.5,1023.9 L592.5,1023.8 L590.5,1023.7 L588.5,1023.7 L586.5,1023.6 L584.5,1023.5 L582.5,1023.5 L580.5,1023.4 L578.5,1023.3 L576.5,1023.2 L574.5,1023.2 L572.5,1023.1 L570.5,1023.0 L568.5,1022.9 L566.5,1022.9 L564.5,1022.8 L562.5,1022.7 L560.5,1022.7 L558.5,1022.6 L556.5,1022.5 L554.5,1022.4 L552.5,1022.4 L550.5,1022.3 L548.5,1022.2 L546.5,1022.1 L544.5,1022.1 L542.5,1022.0 L540.5,1021.9 L538.5,1021.9 L536.5,1021.8 L534.5,1021.7 L532.5,1021.6 L530.5,1021.6 L528.5,1021.5 L526.5,1021.4 L524.5,1021.4 L522.5,1021.3 L520.5,1021.2 L518.5,1021.1 L516.5,1021.1 L514.5,1021.0 L512.5,1020.9 L510.5,1020.8 L508.5,1020.8 L506.5,1020.7 L504.5,1020.6 L502.5,1020.6 L500.5,1020.5 L498.5,1020.4 L496.5,1020.3 L494.5,1020.3 L492.5,1020.2 L490.5,1020.1 L488.5,1020.1 L486.5,1020.0 L484.5,1019.9 L482.5,1019.8 L480.5,1019.8 L478.5,1019.7 L476.5,1019.6 L474.5,1019.5 L472.5,1019.5 L470.5,1019.4 L468.5,1019.3 L466.5,1019.3 L464.5,1019.2 L462.5,1019.1 L460.5,1019.0 L458.5,1019.0 L456.5,1018.9 L454.5,1018.8 L452.5,1018.8 L450.5,1018.7 L448.5,1018.6 L446.5,1018.5 L444.5,1018.5 L442.5,1018.4 L440.5,1018.3 L438.5,1018.2 L436.5,1018.2 L434.5,1018.1 L432.5,1018.0 L430.5,1018.0 L428.5,1017.9 L426.5,1017.8 L424.5,1017.7 L422.5,1017.7 L420.5,1017.6 L418.5,1017.5 L416.5,1017.5 L414.5,1017.4 L412.5,1017.3 L410.5,1017.2 L408.5,1017.2 L406.5,1017.1 L404.5,1017.0 L402.5,1016.9 L400.5,1016.9 L398.5,1016.8 L396.5,1016.7 L394.5,1016.7 L392.5,1016.6 L390.5,1016.5 L388.5,1016.4 L386.5,1016.4 L384.5,1016.3 L382.5,1016.2 L380.5,1016.2 L378.5,1016.1 L376.5,1016.0 L374.5,1015.9 L372.5,1015.9 L370.5,1015.8 L368.5,1015.7 L366.5,1015.6 L364.5,1015.6 L362.5,1015.5 L360.5,1015.4 L358.5,1015.4 L356.5,1015.3 L354.5,1015.2 L352.5,1015.1 L350.5,1015.1 L348.5,1015.0 L346.5,1014.9 L344.5,1014.9 L342.5,1014.8 L340.5,1014.7 L338.5,1014.6 L336.5,1014.6 L334.5,1014.5 L332.5,1014.4 L330.5,1014.3 L328.5,1014.3 L326.5,1014.2 L324.5,1014.1 L322.5,1014.1 L320.5,1014.0 L318.5,1013.9 L316.5,1013.8 L314.5,1013.8 L312.5,1013.7 L310.5,1013.6 L308.5,1013.6 L306.5,1013.5 L304.5,1013.4 L302.5,1013.3 L300.5,1013.3 L298.5,1013.2 L296.5,1013.1 L294.5,1013.0 L292.5,1013.0 L290.5,1012.9 L288.5,1012.8 L286.5,1012.8 L284.5,1012.7 L282.5,1012.6 L280.5,1012.5 L278.5,1012.5 L276.5,1012.4 L274.5,1012.3 L272.5,1012.2 L270.5,1012.2 L268.5,1012.1 L266.5,1012.0 L264.5,1012.0 L262.5,1011.9 L260.5,1011.8 L258.5,1011.7 L256.5,1011.7 L254.5,1011.6 L252.5,1011.5 L250.5,1011.5 L248.5,1011.4 L246.5,1011.3 L244.5,1011.2 L242.5,1011.2 L240.5,1011.1 L238.5,1011.0 L236.5,1010.9 L234.5,1010.9 L232.5,1010.8 L230.5,1010.7 L228.5,1010.7 L226.5,1010.6 L224.5,1010.5 L222.5,1010.4 L220.5,1010.4 L218.5,1010.3 L216.5,1010.2 L214.5,1010.2 L212.5,1010.1 L210.5,1010.0 L208.5,1009.9 L206.5,1009.9 L204.5,1009.8 L202.5,1009.7 L200.5,1009.6 L198.5,1009.6 L196.5,1009.5 L194.5,1009.4 L192.5,1009.4 L190.5,1009.3 L188.5,1009.2 L186.5,1009.1 L184.5,1009.1 L182.5,1009.0 L180.5,1008.9 L178.5,1008.9 L176.5,1008.8 L174.5,1008.7 L172.5,1008.6 L170.5,1008.6 L168.5,1008.5 L166.5,1008.4 L164.5,1008.3 L162.5,1008.3 L160.5,1008.2 L158.5,1008.1 L156.5,1008.1 L154.5,1008.0 L152.5,1007.9 L150.5,1007.8 L148.5,1007.8 L146.5,1007.7 L144.5,1007.6 L142.5,1007.6 L140.5,1007.5 L138.5,1007.4 L136.5,1007.3 L134.5,1007.3 L132.5,1007.2 L130.5,1007.1 L128.5,1007.0 L126.5,1007.0 L124.5,1006.9 L122.5,1006.8 L120.5,1006.8 L118.5,1006.7 L116.5,1006.6 L114.5,1006.5 L112.5,1006.5 L110.5,1006.4 L108.5,1006.3 L106.5,1006.3 L104.5,1006.2 L102.5,1006.1 L100.5,1006.0 L98.5,1006.0 L96.5,1005.9 L94.5,1005.8 L92.5,1005.7 L90.5,1005.7 L88.5,1005.6 L86.5,1005.5 Z" fill="url(#gCN)" fill-opacity="0.75"/>
<path d="M86.5,1005.2 L88.5,1005.3 L90.5,1005.4 L92.5,1005.4 L94.5,1005.5 L96.5,1005.6 L98.5,1005.7 L100.5,1005.7 L102.5,1005.8 L104.5,1005.9 L106.5,1005.9 L108.5,1006.0 L110.5,1006.1 L112.5,1006.1 L114.5,1006.2 L116.5,1006.3 L118.5,1006.3 L120.5,1006.4 L122.5,1006.5 L124.5,1006.5 L126.5,1006.6 L128.5,1006.7 L130.5,1006.8 L132.5,1006.8 L134.5,1006.9 L136.5,1007.0 L138.5,1007.0 L140.5,1007.1 L142.5,1007.2 L144.5,1007.2 L146.5,1007.3 L148.5,1007.4 L150.5,1007.4 L152.5,1007.5 L154.5,1007.6 L156.5,1007.6 L158.5,1007.7 L160.5,1007.8 L162.5,1007.8 L164.5,1007.9 L166.5,1008.0 L168.5,1008.0 L170.5,1008.1 L172.5,1008.2 L174.5,1008.2 L176.5,1008.3 L178.5,1008.4 L180.5,1008.4 L182.5,1008.5 L184.5,1008.6 L186.5,1008.6 L188.5,1008.7 L190.5,1008.7 L192.5,1008.8 L194.5,1008.9 L196.5,1008.9 L198.5,1009.0 L200.5,1009.1 L202.5,1009.1 L204.5,1009.2 L206.5,1009.3 L208.5,1009.3 L210.5,1009.4 L212.5,1009.4 L214.5,1009.5 L216.5,1009.6 L218.5,1009.6 L220.5,1009.7 L222.5,1009.8 L224.5,1009.8 L226.5,1009.9 L228.5,1009.9 L230.5,1010.0 L232.5,1010.1 L234.5,1010.1 L236.5,1010.2 L238.5,1010.2 L240.5,1010.3 L242.5,1010.3 L244.5,1010.4 L246.5,1010.5 L248.5,1010.5 L250.5,1010.6 L252.5,1010.6 L254.5,1010.7 L256.5,1010.7 L258.5,1010.8 L260.5,1010.8 L262.5,1010.8 L264.5,1010.9 L266.5,1010.9 L268.5,1011.0 L270.5,1011.0 L272.5,1011.0 L274.5,1011.1 L276.5,1011.1 L278.5,1011.1 L280.5,1011.1 L282.5,1011.1 L284.5,1011.1 L286.5,1011.1 L288.5,1011.1 L290.5,1011.1 L292.5,1011.1 L294.5,1011.1 L296.5,1011.1 L298.5,1011.0 L300.5,1011.0 L302.5,1010.9 L304.5,1010.8 L306.5,1010.7 L308.5,1010.6 L310.5,1010.5 L312.5,1010.4 L314.5,1010.2 L316.5,1010.1 L318.5,1009.9 L320.5,1009.7 L322.5,1009.5 L324.5,1009.2 L326.5,1008.9 L328.5,1008.6 L330.5,1008.3 L332.5,1008.0 L334.5,1007.6 L336.5,1007.1 L338.5,1006.7 L340.5,1006.2 L342.5,1005.7 L344.5,1005.1 L346.5,1004.5 L348.5,1003.9 L350.5,1003.2 L352.5,1002.5 L354.5,1001.7 L356.5,1000.9 L358.5,1000.1 L360.5,999.1 L362.5,998.2 L364.5,997.2 L366.5,996.1 L368.5,995.0 L370.5,993.9 L372.5,992.7 L374.5,991.4 L376.5,990.1 L378.5,988.8 L380.5,987.4 L382.5,985.9 L384.5,984.4 L386.5,982.9 L388.5,981.3 L390.5,979.7 L392.5,978.1 L394.5,976.4 L396.5,974.7 L398.5,973.0 L400.5,971.2 L402.5,969.4 L404.5,967.6 L406.5,965.8 L408.5,964.0 L410.5,962.2 L412.5,960.4 L414.5,958.6 L416.5,956.8 L418.5,955.1 L420.5,953.4 L422.5,951.7 L424.5,950.0 L426.5,948.4 L428.5,946.8 L430.5,945.3 L432.5,943.9 L434.5,942.5 L436.5,941.2 L438.5,940.0 L440.5,938.8 L442.5,937.8 L444.5,936.9 L446.5,936.0 L448.5,935.3 L450.5,934.7 L452.5,934.2 L454.5,933.8 L456.5,933.5 L458.5,933.4 L460.5,933.3 L462.5,933.4 L464.5,933.7 L466.5,934.0 L468.5,934.5 L470.5,935.1 L472.5,935.8 L474.5,936.6 L476.5,937.5 L478.5,938.6 L480.5,939.7 L482.5,940.9 L484.5,942.3 L486.5,943.7 L488.5,945.1 L490.5,946.7 L492.5,948.3 L494.5,950.0 L496.5,951.7 L498.5,953.5 L500.5,955.4 L502.5,957.2 L504.5,959.1 L506.5,961.0 L508.5,963.0 L510.5,964.9 L512.5,966.9 L514.5,968.8 L516.5,970.8 L518.5,972.7 L520.5,974.6 L522.5,976.5 L524.5,978.4 L526.5,980.3 L528.5,982.1 L530.5,983.9 L532.5,985.7 L534.5,987.4 L536.5,989.1 L538.5,990.8 L540.5,992.4 L542.5,994.0 L544.5,995.5 L546.5,997.0 L548.5,998.4 L550.5,999.7 L552.5,1001.1 L554.5,1002.3 L556.5,1003.6 L558.5,1004.7 L560.5,1005.9 L562.5,1006.9 L564.5,1008.0 L566.5,1008.9 L568.5,1009.9 L570.5,1010.8 L572.5,1011.6 L574.5,1012.4 L576.5,1013.2 L578.5,1013.9 L580.5,1014.6 L582.5,1015.2 L584.5,1015.9 L586.5,1016.4 L588.5,1017.0 L590.5,1017.5 L592.5,1018.0 L594.5,1018.4 L596.5,1018.9 L598.5,1019.3 L600.5,1019.7 L602.5,1020.0 L604.5,1020.3 L606.5,1020.7 L608.5,1021.0 L610.5,1021.3 L612.5,1021.5 L614.5,1021.8 L616.5,1022.0 L618.5,1022.2 L620.5,1022.5 L622.5,1022.7 L624.5,1022.8 L626.5,1023.0 L628.5,1023.2 L630.5,1023.4 L632.5,1023.5 L632.5,1025.3 L630.5,1025.2 L628.5,1025.1 L626.5,1025.0 L624.5,1025.0 L622.5,1024.9 L620.5,1024.8 L618.5,1024.8 L616.5,1024.7 L614.5,1024.6 L612.5,1024.5 L610.5,1024.5 L608.5,1024.4 L606.5,1024.3 L604.5,1024.2 L602.5,1024.2 L600.5,1024.1 L598.5,1024.0 L596.5,1024.0 L594.5,1023.9 L592.5,1023.8 L590.5,1023.7 L588.5,1023.7 L586.5,1023.6 L584.5,1023.5 L582.5,1023.5 L580.5,1023.4 L578.5,1023.3 L576.5,1023.2 L574.5,1023.2 L572.5,1023.1 L570.5,1023.0 L568.5,1022.9 L566.5,1022.9 L564.5,1022.8 L562.5,1022.7 L560.5,1022.7 L558.5,1022.6 L556.5,1022.5 L554.5,1022.4 L552.5,1022.4 L550.5,1022.3 L548.5,1022.2 L546.5,1022.1 L544.5,1022.1 L542.5,1022.0 L540.5,1021.9 L538.5,1021.9 L536.5,1021.8 L534.5,1021.7 L532.5,1021.6 L530.5,1021.6 L528.5,1021.5 L526.5,1021.4 L524.5,1021.4 L522.5,1021.3 L520.5,1021.2 L518.5,1021.1 L516.5,1021.1 L514.5,1021.0 L512.5,1020.9 L510.5,1020.8 L508.5,1020.8 L506.5,1020.7 L504.5,1020.6 L502.5,1020.6 L500.5,1020.5 L498.5,1020.4 L496.5,1020.3 L494.5,1020.3 L492.5,1020.2 L490.5,1020.1 L488.5,1020.1 L486.5,1020.0 L484.5,1019.9 L482.5,1019.8 L480.5,1019.8 L478.5,1019.7 L476.5,1019.6 L474.5,1019.5 L472.5,1019.5 L470.5,1019.4 L468.5,1019.3 L466.5,1019.3 L464.5,1019.2 L462.5,1019.1 L460.5,1019.0 L458.5,1019.0 L456.5,1018.9 L454.5,1018.8 L452.5,1018.8 L450.5,1018.7 L448.5,1018.6 L446.5,1018.5 L444.5,1018.5 L442.5,1018.4 L440.5,1018.3 L438.5,1018.2 L436.5,1018.2 L434.5,1018.1 L432.5,1018.0 L430.5,1018.0 L428.5,1017.9 L426.5,1017.8 L424.5,1017.7 L422.5,1017.7 L420.5,1017.6 L418.5,1017.5 L416.5,1017.5 L414.5,1017.4 L412.5,1017.3 L410.5,1017.2 L408.5,1017.2 L406.5,1017.1 L404.5,1017.0 L402.5,1016.9 L400.5,1016.9 L398.5,1016.8 L396.5,1016.7 L394.5,1016.7 L392.5,1016.6 L390.5,1016.5 L388.5,1016.4 L386.5,1016.4 L384.5,1016.3 L382.5,1016.2 L380.5,1016.2 L378.5,1016.1 L376.5,1016.0 L374.5,1015.9 L372.5,1015.9 L370.5,1015.8 L368.5,1015.7 L366.5,1015.6 L364.5,1015.6 L362.5,1015.5 L360.5,1015.4 L358.5,1015.4 L356.5,1015.3 L354.5,1015.2 L352.5,1015.1 L350.5,1015.1 L348.5,1015.0 L346.5,1014.9 L344.5,1014.9 L342.5,1014.8 L340.5,1014.7 L338.5,1014.6 L336.5,1014.6 L334.5,1014.5 L332.5,1014.4 L330.5,1014.3 L328.5,1014.3 L326.5,1014.2 L324.5,1014.1 L322.5,1014.1 L320.5,1014.0 L318.5,1013.9 L316.5,1013.8 L314.5,1013.8 L312.5,1013.7 L310.5,1013.6 L308.5,1013.6 L306.5,1013.5 L304.5,1013.4 L302.5,1013.3 L300.5,1013.3 L298.5,1013.2 L296.5,1013.1 L294.5,1013.0 L292.5,1013.0 L290.5,1012.9 L288.5,1012.8 L286.5,1012.8 L284.5,1012.7 L282.5,1012.6 L280.5,1012.5 L278.5,1012.5 L276.5,1012.4 L274.5,1012.3 L272.5,1012.2 L270.5,1012.2 L268.5,1012.1 L266.5,1012.0 L264.5,1012.0 L262.5,1011.9 L260.5,1011.8 L258.5,1011.7 L256.5,1011.7 L254.5,1011.6 L252.5,1011.5 L250.5,1011.5 L248.5,1011.4 L246.5,1011.3 L244.5,1011.2 L242.5,1011.2 L240.5,1011.1 L238.5,1011.0 L236.5,1010.9 L234.5,1010.9 L232.5,1010.8 L230.5,1010.7 L228.5,1010.7 L226.5,1010.6 L224.5,1010.5 L222.5,1010.4 L220.5,1010.4 L218.5,1010.3 L216.5,1010.2 L214.5,1010.2 L212.5,1010.1 L210.5,1010.0 L208.5,1009.9 L206.5,1009.9 L204.5,1009.8 L202.5,1009.7 L200.5,1009.6 L198.5,1009.6 L196.5,1009.5 L194.5,1009.4 L192.5,1009.4 L190.5,1009.3 L188.5,1009.2 L186.5,1009.1 L184.5,1009.1 L182.5,1009.0 L180.5,1008.9 L178.5,1008.9 L176.5,1008.8 L174.5,1008.7 L172.5,1008.6 L170.5,1008.6 L168.5,1008.5 L166.5,1008.4 L164.5,1008.3 L162.5,1008.3 L160.5,1008.2 L158.5,1008.1 L156.5,1008.1 L154.5,1008.0 L152.5,1007.9 L150.5,1007.8 L148.5,1007.8 L146.5,1007.7 L144.5,1007.6 L142.5,1007.6 L140.5,1007.5 L138.5,1007.4 L136.5,1007.3 L134.5,1007.3 L132.5,1007.2 L130.5,1007.1 L128.5,1007.0 L126.5,1007.0 L124.5,1006.9 L122.5,1006.8 L120.5,1006.8 L118.5,1006.7 L116.5,1006.6 L114.5,1006.5 L112.5,1006.5 L110.5,1006.4 L108.5,1006.3 L106.5,1006.3 L104.5,1006.2 L102.5,1006.1 L100.5,1006.0 L98.5,1006.0 L96.5,1005.9 L94.5,1005.8 L92.5,1005.7 L90.5,1005.7 L88.5,1005.6 L86.5,1005.5 Z" fill="url(#gCeN)" fill-opacity="0.75"/>
<path d="M86.5,1004.1 L88.5,1004.2 L90.5,1004.2 L92.5,1004.2 L94.5,1004.3 L96.5,1004.3 L98.5,1004.3 L100.5,1004.4 L102.5,1004.4 L104.5,1004.4 L106.5,1004.5 L108.5,1004.5 L110.5,1004.5 L112.5,1004.5 L114.5,1004.5 L116.5,1004.5 L118.5,1004.5 L120.5,1004.5 L122.5,1004.5 L124.5,1004.4 L126.5,1004.4 L128.5,1004.4 L130.5,1004.3 L132.5,1004.2 L134.5,1004.2 L136.5,1004.1 L138.5,1004.0 L140.5,1003.9 L142.5,1003.7 L144.5,1003.6 L146.5,1003.4 L148.5,1003.3 L150.5,1003.1 L152.5,1002.8 L154.5,1002.6 L156.5,1002.3 L158.5,1002.0 L160.5,1001.7 L162.5,1001.3 L164.5,1001.0 L166.5,1000.5 L168.5,1000.1 L170.5,999.6 L172.5,999.1 L174.5,998.5 L176.5,997.9 L178.5,997.2 L180.5,996.5 L182.5,995.8 L184.5,994.9 L186.5,994.1 L188.5,993.2 L190.5,992.2 L192.5,991.1 L194.5,990.0 L196.5,988.8 L198.5,987.6 L200.5,986.3 L202.5,984.9 L204.5,983.4 L206.5,981.9 L208.5,980.3 L210.5,978.6 L212.5,976.8 L214.5,975.0 L216.5,973.1 L218.5,971.1 L220.5,969.0 L222.5,966.8 L224.5,964.5 L226.5,962.2 L228.5,959.8 L230.5,957.3 L232.5,954.7 L234.5,952.1 L236.5,949.4 L238.5,946.6 L240.5,943.8 L242.5,940.8 L244.5,937.9 L246.5,934.9 L248.5,931.8 L250.5,928.7 L252.5,925.5 L254.5,922.3 L256.5,919.1 L258.5,915.8 L260.5,912.6 L262.5,909.3 L264.5,906.0 L266.5,902.8 L268.5,899.5 L270.5,896.3 L272.5,893.1 L274.5,890.0 L276.5,886.9 L278.5,883.8 L280.5,880.8 L282.5,877.9 L284.5,875.1 L286.5,872.4 L288.5,869.8 L290.5,867.3 L292.5,864.9 L294.5,862.6 L296.5,860.5 L298.5,858.5 L300.5,856.7 L302.5,855.0 L304.5,853.5 L306.5,852.2 L308.5,851.1 L310.5,850.1 L312.5,849.4 L314.5,848.8 L316.5,848.4 L318.5,848.3 L320.5,848.3 L322.5,848.5 L324.5,848.9 L326.5,849.5 L328.5,850.4 L330.5,851.4 L332.5,852.5 L334.5,853.9 L336.5,855.5 L338.5,857.2 L340.5,859.1 L342.5,861.1 L344.5,863.3 L346.5,865.6 L348.5,868.1 L350.5,870.7 L352.5,873.4 L354.5,876.2 L356.5,879.1 L358.5,882.1 L360.5,885.2 L362.5,888.4 L364.5,891.6 L366.5,894.9 L368.5,898.2 L370.5,901.6 L372.5,904.9 L374.5,908.3 L376.5,911.8 L378.5,915.2 L380.5,918.6 L382.5,922.0 L384.5,925.4 L386.5,928.7 L388.5,932.0 L390.5,935.3 L392.5,938.6 L394.5,941.8 L396.5,944.9 L398.5,948.0 L400.5,951.0 L402.5,954.0 L404.5,956.9 L406.5,959.7 L408.5,962.4 L410.5,965.1 L412.5,967.7 L414.5,970.2 L416.5,972.7 L418.5,975.0 L420.5,977.3 L422.5,979.5 L424.5,981.6 L426.5,983.6 L428.5,985.6 L430.5,987.4 L432.5,989.2 L434.5,991.0 L436.5,992.6 L438.5,994.2 L440.5,995.7 L442.5,997.1 L444.5,998.4 L446.5,999.7 L448.5,1000.9 L450.5,1002.1 L452.5,1003.2 L454.5,1004.2 L456.5,1005.2 L458.5,1006.2 L460.5,1007.0 L462.5,1007.9 L464.5,1008.6 L466.5,1009.4 L468.5,1010.1 L470.5,1010.7 L472.5,1011.3 L474.5,1011.9 L476.5,1012.5 L478.5,1013.0 L480.5,1013.5 L482.5,1013.9 L484.5,1014.3 L486.5,1014.7 L488.5,1015.1 L490.5,1015.5 L492.5,1015.8 L494.5,1016.1 L496.5,1016.4 L498.5,1016.7 L500.5,1017.0 L502.5,1017.2 L504.5,1017.5 L506.5,1017.7 L508.5,1017.9 L510.5,1018.1 L512.5,1018.3 L514.5,1018.5 L516.5,1018.6 L518.5,1018.8 L520.5,1019.0 L522.5,1019.1 L524.5,1019.3 L526.5,1019.4 L528.5,1019.6 L530.5,1019.7 L532.5,1019.8 L534.5,1019.9 L536.5,1020.1 L538.5,1020.2 L540.5,1020.3 L542.5,1020.4 L544.5,1020.5 L546.5,1020.6 L548.5,1020.7 L550.5,1020.8 L552.5,1020.9 L554.5,1021.0 L556.5,1021.1 L558.5,1021.2 L560.5,1021.3 L562.5,1021.4 L564.5,1021.5 L566.5,1021.6 L568.5,1021.7 L570.5,1021.8 L572.5,1021.9 L574.5,1022.0 L576.5,1022.1 L578.5,1022.2 L580.5,1022.3 L582.5,1022.4 L584.5,1022.4 L586.5,1022.5 L588.5,1022.6 L590.5,1022.7 L592.5,1022.8 L594.5,1022.9 L596.5,1023.0 L598.5,1023.1 L600.5,1023.1 L602.5,1023.2 L604.5,1023.3 L606.5,1023.4 L608.5,1023.5 L610.5,1023.6 L612.5,1023.6 L614.5,1023.7 L616.5,1023.8 L618.5,1023.9 L620.5,1024.0 L622.5,1024.1 L624.5,1024.1 L626.5,1024.2 L628.5,1024.3 L630.5,1024.4 L632.5,1024.5" fill="none" stroke="#a8c9ee" stroke-width="1.6"/>
<path d="M86.5,1005.2 L88.5,1005.3 L90.5,1005.4 L92.5,1005.4 L94.5,1005.5 L96.5,1005.6 L98.5,1005.7 L100.5,1005.7 L102.5,1005.8 L104.5,1005.9 L106.5,1005.9 L108.5,1006.0 L110.5,1006.1 L112.5,1006.1 L114.5,1006.2 L116.5,1006.3 L118.5,1006.3 L120.5,1006.4 L122.5,1006.5 L124.5,1006.5 L126.5,1006.6 L128.5,1006.7 L130.5,1006.8 L132.5,1006.8 L134.5,1006.9 L136.5,1007.0 L138.5,1007.0 L140.5,1007.1 L142.5,1007.2 L144.5,1007.2 L146.5,1007.3 L148.5,1007.4 L150.5,1007.4 L152.5,1007.5 L154.5,1007.6 L156.5,1007.6 L158.5,1007.7 L160.5,1007.8 L162.5,1007.8 L164.5,1007.9 L166.5,1008.0 L168.5,1008.0 L170.5,1008.1 L172.5,1008.2 L174.5,1008.2 L176.5,1008.3 L178.5,1008.4 L180.5,1008.4 L182.5,1008.5 L184.5,1008.6 L186.5,1008.6 L188.5,1008.7 L190.5,1008.7 L192.5,1008.8 L194.5,1008.9 L196.5,1008.9 L198.5,1009.0 L200.5,1009.1 L202.5,1009.1 L204.5,1009.2 L206.5,1009.3 L208.5,1009.3 L210.5,1009.4 L212.5,1009.4 L214.5,1009.5 L216.5,1009.6 L218.5,1009.6 L220.5,1009.7 L222.5,1009.8 L224.5,1009.8 L226.5,1009.9 L228.5,1009.9 L230.5,1010.0 L232.5,1010.1 L234.5,1010.1 L236.5,1010.2 L238.5,1010.2 L240.5,1010.3 L242.5,1010.3 L244.5,1010.4 L246.5,1010.5 L248.5,1010.5 L250.5,1010.6 L252.5,1010.6 L254.5,1010.7 L256.5,1010.7 L258.5,1010.8 L260.5,1010.8 L262.5,1010.8 L264.5,1010.9 L266.5,1010.9 L268.5,1011.0 L270.5,1011.0 L272.5,1011.0 L274.5,1011.1 L276.5,1011.1 L278.5,1011.1 L280.5,1011.1 L282.5,1011.1 L284.5,1011.1 L286.5,1011.1 L288.5,1011.1 L290.5,1011.1 L292.5,1011.1 L294.5,1011.1 L296.5,1011.1 L298.5,1011.0 L300.5,1011.0 L302.5,1010.9 L304.5,1010.8 L306.5,1010.7 L308.5,1010.6 L310.5,1010.5 L312.5,1010.4 L314.5,1010.2 L316.5,1010.1 L318.5,1009.9 L320.5,1009.7 L322.5,1009.5 L324.5,1009.2 L326.5,1008.9 L328.5,1008.6 L330.5,1008.3 L332.5,1008.0 L334.5,1007.6 L336.5,1007.1 L338.5,1006.7 L340.5,1006.2 L342.5,1005.7 L344.5,1005.1 L346.5,1004.5 L348.5,1003.9 L350.5,1003.2 L352.5,1002.5 L354.5,1001.7 L356.5,1000.9 L358.5,1000.1 L360.5,999.1 L362.5,998.2 L364.5,997.2 L366.5,996.1 L368.5,995.0 L370.5,993.9 L372.5,992.7 L374.5,991.4 L376.5,990.1 L378.5,988.8 L380.5,987.4 L382.5,985.9 L384.5,984.4 L386.5,982.9 L388.5,981.3 L390.5,979.7 L392.5,978.1 L394.5,976.4 L396.5,974.7 L398.5,973.0 L400.5,971.2 L402.5,969.4 L404.5,967.6 L406.5,965.8 L408.5,964.0 L410.5,962.2 L412.5,960.4 L414.5,958.6 L416.5,956.8 L418.5,955.1 L420.5,953.4 L422.5,951.7 L424.5,950.0 L426.5,948.4 L428.5,946.8 L430.5,945.3 L432.5,943.9 L434.5,942.5 L436.5,941.2 L438.5,940.0 L440.5,938.8 L442.5,937.8 L444.5,936.9 L446.5,936.0 L448.5,935.3 L450.5,934.7 L452.5,934.2 L454.5,933.8 L456.5,933.5 L458.5,933.4 L460.5,933.3 L462.5,933.4 L464.5,933.7 L466.5,934.0 L468.5,934.5 L470.5,935.1 L472.5,935.8 L474.5,936.6 L476.5,937.5 L478.5,938.6 L480.5,939.7 L482.5,940.9 L484.5,942.3 L486.5,943.7 L488.5,945.1 L490.5,946.7 L492.5,948.3 L494.5,950.0 L496.5,951.7 L498.5,953.5 L500.5,955.4 L502.5,957.2 L504.5,959.1 L506.5,961.0 L508.5,963.0 L510.5,964.9 L512.5,966.9 L514.5,968.8 L516.5,970.8 L518.5,972.7 L520.5,974.6 L522.5,976.5 L524.5,978.4 L526.5,980.3 L528.5,982.1 L530.5,983.9 L532.5,985.7 L534.5,987.4 L536.5,989.1 L538.5,990.8 L540.5,992.4 L542.5,994.0 L544.5,995.5 L546.5,997.0 L548.5,998.4 L550.5,999.7 L552.5,1001.1 L554.5,1002.3 L556.5,1003.6 L558.5,1004.7 L560.5,1005.9 L562.5,1006.9 L564.5,1008.0 L566.5,1008.9 L568.5,1009.9 L570.5,1010.8 L572.5,1011.6 L574.5,1012.4 L576.5,1013.2 L578.5,1013.9 L580.5,1014.6 L582.5,1015.2 L584.5,1015.9 L586.5,1016.4 L588.5,1017.0 L590.5,1017.5 L592.5,1018.0 L594.5,1018.4 L596.5,1018.9 L598.5,1019.3 L600.5,1019.7 L602.5,1020.0 L604.5,1020.3 L606.5,1020.7 L608.5,1021.0 L610.5,1021.3 L612.5,1021.5 L614.5,1021.8 L616.5,1022.0 L618.5,1022.2 L620.5,1022.5 L622.5,1022.7 L624.5,1022.8 L626.5,1023.0 L628.5,1023.2 L630.5,1023.4 L632.5,1023.5" fill="none" stroke="#4f88d8" stroke-width="1.8"/>
<path d="M86.5,1003.8 L88.5,1003.9 L90.5,1003.9 L92.5,1003.9 L94.5,1004.0 L96.5,1004.0 L98.5,1004.0 L100.5,1004.1 L102.5,1004.1 L104.5,1004.1 L106.5,1004.1 L108.5,1004.1 L110.5,1004.2 L112.5,1004.2 L114.5,1004.2 L116.5,1004.2 L118.5,1004.1 L120.5,1004.1 L122.5,1004.1 L124.5,1004.1 L126.5,1004.0 L128.5,1004.0 L130.5,1003.9 L132.5,1003.9 L134.5,1003.8 L136.5,1003.7 L138.5,1003.6 L140.5,1003.5 L142.5,1003.3 L144.5,1003.2 L146.5,1003.0 L148.5,1002.8 L150.5,1002.6 L152.5,1002.4 L154.5,1002.2 L156.5,1001.9 L158.5,1001.6 L160.5,1001.3 L162.5,1000.9 L164.5,1000.5 L166.5,1000.1 L168.5,999.6 L170.5,999.1 L172.5,998.6 L174.5,998.0 L176.5,997.4 L178.5,996.7 L180.5,996.0 L182.5,995.3 L184.5,994.4 L186.5,993.6 L188.5,992.6 L190.5,991.6 L192.5,990.6 L194.5,989.5 L196.5,988.3 L198.5,987.0 L200.5,985.7 L202.5,984.3 L204.5,982.8 L206.5,981.3 L208.5,979.7 L210.5,978.0 L212.5,976.2 L214.5,974.4 L216.5,972.4 L218.5,970.4 L220.5,968.3 L222.5,966.1 L224.5,963.8 L226.5,961.5 L228.5,959.1 L230.5,956.6 L232.5,954.0 L234.5,951.3 L236.5,948.6 L238.5,945.8 L240.5,943.0 L242.5,940.0 L244.5,937.0 L246.5,934.0 L248.5,930.9 L250.5,927.8 L252.5,924.6 L254.5,921.4 L256.5,918.1 L258.5,914.8 L260.5,911.6 L262.5,908.3 L264.5,905.0 L266.5,901.7 L268.5,898.4 L270.5,895.1 L272.5,891.9 L274.5,888.7 L276.5,885.5 L278.5,882.4 L280.5,879.4 L282.5,876.4 L284.5,873.6 L286.5,870.8 L288.5,868.1 L290.5,865.5 L292.5,863.0 L294.5,860.7 L296.5,858.4 L298.5,856.3 L300.5,854.4 L302.5,852.6 L304.5,851.0 L306.5,849.5 L308.5,848.2 L310.5,847.0 L312.5,846.1 L314.5,845.3 L316.5,844.7 L318.5,844.2 L320.5,844.0 L322.5,843.9 L324.5,844.0 L326.5,844.3 L328.5,844.7 L330.5,845.3 L332.5,846.1 L334.5,847.0 L336.5,848.1 L338.5,849.2 L340.5,850.6 L342.5,852.0 L344.5,853.6 L346.5,855.2 L348.5,857.0 L350.5,858.8 L352.5,860.8 L354.5,862.7 L356.5,864.8 L358.5,866.8 L360.5,869.0 L362.5,871.1 L364.5,873.2 L366.5,875.4 L368.5,877.5 L370.5,879.6 L372.5,881.8 L374.5,883.8 L376.5,885.9 L378.5,887.9 L380.5,889.8 L382.5,891.7 L384.5,893.5 L386.5,895.3 L388.5,896.9 L390.5,898.5 L392.5,900.1 L394.5,901.5 L396.5,902.9 L398.5,904.2 L400.5,905.4 L402.5,906.5 L404.5,907.5 L406.5,908.4 L408.5,909.3 L410.5,910.1 L412.5,910.8 L414.5,911.5 L416.5,912.0 L418.5,912.6 L420.5,913.0 L422.5,913.5 L424.5,913.8 L426.5,914.2 L428.5,914.5 L430.5,914.8 L432.5,915.1 L434.5,915.3 L436.5,915.6 L438.5,915.9 L440.5,916.2 L442.5,916.5 L444.5,916.8 L446.5,917.2 L448.5,917.6 L450.5,918.1 L452.5,918.6 L454.5,919.2 L456.5,919.8 L458.5,920.6 L460.5,921.3 L462.5,922.2 L464.5,923.1 L466.5,924.1 L468.5,925.2 L470.5,926.4 L472.5,927.7 L474.5,929.0 L476.5,930.4 L478.5,931.9 L480.5,933.4 L482.5,935.0 L484.5,936.7 L486.5,938.4 L488.5,940.2 L490.5,942.1 L492.5,943.9 L494.5,945.9 L496.5,947.8 L498.5,949.8 L500.5,951.8 L502.5,953.9 L504.5,955.9 L506.5,958.0 L508.5,960.1 L510.5,962.1 L512.5,964.2 L514.5,966.3 L516.5,968.3 L518.5,970.4 L520.5,972.4 L522.5,974.4 L524.5,976.4 L526.5,978.3 L528.5,980.2 L530.5,982.1 L532.5,983.9 L534.5,985.7 L536.5,987.4 L538.5,989.1 L540.5,990.8 L542.5,992.4 L544.5,993.9 L546.5,995.4 L548.5,996.9 L550.5,998.3 L552.5,999.6 L554.5,1001.0 L556.5,1002.2 L558.5,1003.4 L560.5,1004.6 L562.5,1005.6 L564.5,1006.7 L566.5,1007.7 L568.5,1008.7 L570.5,1009.6 L572.5,1010.4 L574.5,1011.3 L576.5,1012.0 L578.5,1012.8 L580.5,1013.5 L582.5,1014.1 L584.5,1014.8 L586.5,1015.4 L588.5,1015.9 L590.5,1016.5 L592.5,1017.0 L594.5,1017.4 L596.5,1017.9 L598.5,1018.3 L600.5,1018.7 L602.5,1019.1 L604.5,1019.4 L606.5,1019.7 L608.5,1020.1 L610.5,1020.4 L612.5,1020.6 L614.5,1020.9 L616.5,1021.1 L618.5,1021.4 L620.5,1021.6 L622.5,1021.8 L624.5,1022.0 L626.5,1022.2 L628.5,1022.4 L630.5,1022.6 L632.5,1022.7" fill="none" stroke="#bcbcbc" stroke-width="3.5" stroke-linejoin="round"/>
<line x1="322.7" y1="675" x2="322.7" y2="1012.6" stroke="#000" stroke-width="2.4" stroke-dasharray="6,4"/>
<line x1="467.4" y1="700.5" x2="467.4" y2="1019.7" stroke="#000" stroke-width="2.4" stroke-dasharray="6,4"/>
<text x="98.0" y="680.7" font-size="35.5" text-anchor="start" fill="#000" letter-spacing="0.4">5% TPPCl</text>
<text x="98.5" y="892.2" font-size="35.5" text-anchor="start" fill="#000" >Pristine</text>
<text x="296.0" y="663.7" font-size="34" text-anchor="start" fill="#000" letter-spacing="1.2">C-N</text>
<text x="430.5" y="687.8" font-size="34" text-anchor="start" fill="#000" letter-spacing="1.4">C=N</text>
<text x="540.5" y="649.6" font-size="34" text-anchor="start" fill="#000" letter-spacing="1.6">N 1<tspan font-style="italic">s</tspan></text>
<rect x="85.5" y="607.5" width="549.5" height="442.5" fill="none" stroke="#000" stroke-width="3"/>
<line x1="85.5" y1="1050" x2="85.5" y2="1058.5" stroke="#000" stroke-width="3"/>
<line x1="195.5" y1="1050" x2="195.5" y2="1058.5" stroke="#000" stroke-width="3"/>
<line x1="305.5" y1="1050" x2="305.5" y2="1058.5" stroke="#000" stroke-width="3"/>
<line x1="415.5" y1="1050" x2="415.5" y2="1058.5" stroke="#000" stroke-width="3"/>
<line x1="525.5" y1="1050" x2="525.5" y2="1058.5" stroke="#000" stroke-width="3"/>
<line x1="635.5" y1="1050" x2="635.5" y2="1058.5" stroke="#000" stroke-width="3"/>
<text x="85.5" y="1092.3" font-size="35" text-anchor="middle" fill="#000" >404</text>
<text x="195.5" y="1092.3" font-size="35" text-anchor="middle" fill="#000" >403</text>
<text x="305.5" y="1092.3" font-size="35" text-anchor="middle" fill="#000" >402</text>
<text x="415.5" y="1092.3" font-size="35" text-anchor="middle" fill="#000" >401</text>
<text x="525.5" y="1092.3" font-size="35" text-anchor="middle" fill="#000" >400</text>
<text x="635.5" y="1092.3" font-size="35" text-anchor="middle" fill="#000" >399</text>
<text x="360.5" y="1138.4" font-size="35.9" text-anchor="middle" fill="#000" >Binding energy ( eV )</text>
<text transform="translate(62.8,827.2) rotate(-90)" font-size="35.9" text-anchor="middle">Intensity (a.u.)</text>
<text x="10.0" y="616.0" font-size="48" text-anchor="start" fill="#000" letter-spacing="1.3">(d)</text>
<rect x="777" y="798.7" width="139.3" height="26.3" fill="#cde6b0" fill-opacity="0.8"/>
<line x1="776.5" y1="813.7" x2="1324" y2="813.7" stroke="#b4b4b4" stroke-width="2"/>
<g fill="url(#dotg)" opacity="0.9"><circle cx="778.5" cy="812.8" r="3.9"/><circle cx="789.8" cy="816.3" r="3.9"/><circle cx="801.1" cy="803.8" r="3.9"/><circle cx="812.4" cy="815.7" r="3.9"/><circle cx="823.7" cy="808.9" r="3.9"/><circle cx="835.0" cy="805.8" r="3.9"/><circle cx="846.3" cy="805.6" r="3.9"/><circle cx="857.6" cy="804.6" r="3.9"/><circle cx="868.9" cy="807.9" r="3.9"/><circle cx="880.2" cy="812.1" r="3.9"/><circle cx="891.5" cy="811.7" r="3.9"/><circle cx="902.8" cy="812.3" r="3.9"/><circle cx="914.1" cy="804.3" r="3.9"/><circle cx="925.4" cy="804.9" r="3.9"/><circle cx="936.7" cy="815.9" r="3.9"/><circle cx="948.0" cy="813.2" r="3.9"/><circle cx="959.3" cy="816.3" r="3.9"/><circle cx="970.6" cy="810.8" r="3.9"/><circle cx="981.9" cy="800.0" r="3.9"/><circle cx="993.2" cy="804.7" r="3.9"/><circle cx="1004.5" cy="798.3" r="3.9"/><circle cx="1015.8" cy="792.6" r="3.9"/><circle cx="1027.1" cy="784.9" r="3.9"/><circle cx="1038.4" cy="784.4" r="3.9"/><circle cx="1049.7" cy="780.6" r="3.9"/><circle cx="1061.0" cy="780.6" r="3.9"/><circle cx="1072.3" cy="772.3" r="3.9"/><circle cx="1083.6" cy="768.7" r="3.9"/><circle cx="1094.9" cy="747.2" r="3.9"/><circle cx="1106.2" cy="734.3" r="3.9"/><circle cx="1117.5" cy="713.9" r="3.9"/><circle cx="1128.8" cy="687.7" r="3.9"/><circle cx="1140.1" cy="668.3" r="3.9"/><circle cx="1151.4" cy="664.6" r="3.9"/><circle cx="1162.7" cy="661.1" r="3.9"/><circle cx="1174.0" cy="667.4" r="3.9"/><circle cx="1185.3" cy="686.7" r="3.9"/><circle cx="1196.6" cy="705.1" r="3.9"/><circle cx="1207.9" cy="731.9" r="3.9"/><circle cx="1219.2" cy="750.7" r="3.9"/><circle cx="1230.5" cy="772.0" r="3.9"/><circle cx="1241.8" cy="788.9" r="3.9"/><circle cx="1253.1" cy="794.2" r="3.9"/><circle cx="1264.4" cy="805.1" r="3.9"/><circle cx="1275.7" cy="802.5" r="3.9"/><circle cx="1287.0" cy="807.6" r="3.9"/><circle cx="1298.3" cy="805.1" r="3.9"/><circle cx="1309.6" cy="810.5" r="3.9"/><circle cx="1320.9" cy="811.7" r="3.9"/></g>
<path d="M776.5,813.6 L778.5,813.6 L780.5,813.6 L782.5,813.6 L784.5,813.6 L786.5,813.6 L788.5,813.6 L790.5,813.6 L792.5,813.6 L794.5,813.6 L796.5,813.6 L798.5,813.6 L800.5,813.6 L802.5,813.6 L804.5,813.6 L806.5,813.6 L808.5,813.6 L810.5,813.6 L812.5,813.6 L814.5,813.6 L816.5,813.6 L818.5,813.6 L820.5,813.6 L822.5,813.6 L824.5,813.6 L826.5,813.6 L828.5,813.6 L830.5,813.6 L832.5,813.6 L834.5,813.6 L836.5,813.6 L838.5,813.6 L840.5,813.6 L842.5,813.6 L844.5,813.6 L846.5,813.6 L848.5,813.6 L850.5,813.6 L852.5,813.6 L854.5,813.6 L856.5,813.5 L858.5,813.5 L860.5,813.5 L862.5,813.5 L864.5,813.5 L866.5,813.5 L868.5,813.5 L870.5,813.5 L872.5,813.5 L874.5,813.5 L876.5,813.5 L878.5,813.5 L880.5,813.5 L882.5,813.5 L884.5,813.5 L886.5,813.5 L888.5,813.5 L890.5,813.5 L892.5,813.4 L894.5,813.4 L896.5,813.4 L898.5,813.4 L900.5,813.4 L902.5,813.4 L904.5,813.3 L906.5,813.3 L908.5,813.3 L910.5,813.3 L912.5,813.2 L914.5,813.2 L916.5,813.2 L918.5,813.1 L920.5,813.1 L922.5,813.0 L924.5,813.0 L926.5,812.9 L928.5,812.8 L930.5,812.8 L932.5,812.7 L934.5,812.6 L936.5,812.5 L938.5,812.3 L940.5,812.2 L942.5,812.1 L944.5,811.9 L946.5,811.7 L948.5,811.6 L950.5,811.4 L952.5,811.1 L954.5,810.9 L956.5,810.7 L958.5,810.4 L960.5,810.1 L962.5,809.8 L964.5,809.4 L966.5,809.1 L968.5,808.7 L970.5,808.3 L972.5,807.9 L974.5,807.4 L976.5,807.0 L978.5,806.5 L980.5,806.0 L982.5,805.4 L984.5,804.9 L986.5,804.3 L988.5,803.7 L990.5,803.1 L992.5,802.5 L994.5,801.9 L996.5,801.2 L998.5,800.6 L1000.5,799.9 L1002.5,799.3 L1004.5,798.6 L1006.5,798.0 L1008.5,797.3 L1010.5,796.7 L1012.5,796.0 L1014.5,795.4 L1016.5,794.8 L1018.5,794.3 L1020.5,793.7 L1022.5,793.2 L1024.5,792.8 L1026.5,792.3 L1028.5,791.9 L1030.5,791.6 L1032.5,791.3 L1034.5,791.0 L1036.5,790.8 L1038.5,790.7 L1040.5,790.5 L1042.5,790.5 L1044.5,790.5 L1046.5,790.6 L1048.5,790.7 L1050.5,790.9 L1052.5,791.1 L1054.5,791.4 L1056.5,791.7 L1058.5,792.0 L1060.5,792.5 L1062.5,792.9 L1064.5,793.4 L1066.5,793.9 L1068.5,794.4 L1070.5,795.0 L1072.5,795.6 L1074.5,796.2 L1076.5,796.9 L1078.5,797.5 L1080.5,798.1 L1082.5,798.8 L1084.5,799.5 L1086.5,800.1 L1088.5,800.8 L1090.5,801.4 L1092.5,802.1 L1094.5,802.7 L1096.5,803.3 L1098.5,803.9 L1100.5,804.5 L1102.5,805.0 L1104.5,805.6 L1106.5,806.1 L1108.5,806.6 L1110.5,807.1 L1112.5,807.6 L1114.5,808.0 L1116.5,808.4 L1118.5,808.8 L1120.5,809.2 L1122.5,809.5 L1124.5,809.9 L1126.5,810.2 L1128.5,810.5 L1130.5,810.7 L1132.5,811.0 L1134.5,811.2 L1136.5,811.4 L1138.5,811.6 L1140.5,811.8 L1142.5,812.0 L1144.5,812.1 L1146.5,812.3 L1148.5,812.4 L1150.5,812.5 L1152.5,812.6 L1154.5,812.7 L1156.5,812.8 L1158.5,812.9 L1160.5,812.9 L1162.5,813.0 L1164.5,813.0 L1166.5,813.1 L1168.5,813.1 L1170.5,813.2 L1172.5,813.2 L1174.5,813.3 L1176.5,813.3 L1178.5,813.3 L1180.5,813.3 L1182.5,813.4 L1184.5,813.4 L1186.5,813.4 L1188.5,813.4 L1190.5,813.4 L1192.5,813.4 L1194.5,813.4 L1196.5,813.5 L1198.5,813.5 L1200.5,813.5 L1202.5,813.5 L1204.5,813.5 L1206.5,813.5 L1208.5,813.5 L1210.5,813.5 L1212.5,813.5 L1214.5,813.5 L1216.5,813.5 L1218.5,813.5 L1220.5,813.5 L1222.5,813.5 L1224.5,813.5 L1226.5,813.5 L1228.5,813.5 L1230.5,813.5 L1232.5,813.6 L1234.5,813.6 L1236.5,813.6 L1238.5,813.6 L1240.5,813.6 L1242.5,813.6 L1244.5,813.6 L1246.5,813.6 L1248.5,813.6 L1250.5,813.6 L1252.5,813.6 L1254.5,813.6 L1256.5,813.6 L1258.5,813.6 L1260.5,813.6 L1262.5,813.6 L1264.5,813.6 L1266.5,813.6 L1268.5,813.6 L1270.5,813.6 L1272.5,813.6 L1274.5,813.6 L1276.5,813.6 L1278.5,813.6 L1280.5,813.6 L1282.5,813.6 L1284.5,813.6 L1286.5,813.6 L1288.5,813.6 L1290.5,813.6 L1292.5,813.6 L1294.5,813.6 L1296.5,813.6 L1298.5,813.6 L1300.5,813.6 L1302.5,813.6 L1304.5,813.6 L1306.5,813.6 L1308.5,813.6 L1310.5,813.6 L1312.5,813.6 L1314.5,813.6 L1316.5,813.6 L1318.5,813.6 L1320.5,813.6 L1322.5,813.6 L1322.5,813.7 L1320.5,813.7 L1318.5,813.7 L1316.5,813.7 L1314.5,813.7 L1312.5,813.7 L1310.5,813.7 L1308.5,813.7 L1306.5,813.7 L1304.5,813.7 L1302.5,813.7 L1300.5,813.7 L1298.5,813.7 L1296.5,813.7 L1294.5,813.7 L1292.5,813.7 L1290.5,813.7 L1288.5,813.7 L1286.5,813.7 L1284.5,813.7 L1282.5,813.7 L1280.5,813.7 L1278.5,813.7 L1276.5,813.7 L1274.5,813.7 L1272.5,813.7 L1270.5,813.7 L1268.5,813.7 L1266.5,813.7 L1264.5,813.7 L1262.5,813.7 L1260.5,813.7 L1258.5,813.7 L1256.5,813.7 L1254.5,813.7 L1252.5,813.7 L1250.5,813.7 L1248.5,813.7 L1246.5,813.7 L1244.5,813.7 L1242.5,813.7 L1240.5,813.7 L1238.5,813.7 L1236.5,813.7 L1234.5,813.7 L1232.5,813.7 L1230.5,813.7 L1228.5,813.7 L1226.5,813.7 L1224.5,813.7 L1222.5,813.7 L1220.5,813.7 L1218.5,813.7 L1216.5,813.7 L1214.5,813.7 L1212.5,813.7 L1210.5,813.7 L1208.5,813.7 L1206.5,813.7 L1204.5,813.7 L1202.5,813.7 L1200.5,813.7 L1198.5,813.7 L1196.5,813.7 L1194.5,813.7 L1192.5,813.7 L1190.5,813.7 L1188.5,813.7 L1186.5,813.7 L1184.5,813.7 L1182.5,813.7 L1180.5,813.7 L1178.5,813.7 L1176.5,813.7 L1174.5,813.7 L1172.5,813.7 L1170.5,813.7 L1168.5,813.7 L1166.5,813.7 L1164.5,813.7 L1162.5,813.7 L1160.5,813.7 L1158.5,813.7 L1156.5,813.7 L1154.5,813.7 L1152.5,813.7 L1150.5,813.7 L1148.5,813.7 L1146.5,813.7 L1144.5,813.7 L1142.5,813.7 L1140.5,813.7 L1138.5,813.7 L1136.5,813.7 L1134.5,813.7 L1132.5,813.7 L1130.5,813.7 L1128.5,813.7 L1126.5,813.7 L1124.5,813.7 L1122.5,813.7 L1120.5,813.7 L1118.5,813.7 L1116.5,813.7 L1114.5,813.7 L1112.5,813.7 L1110.5,813.7 L1108.5,813.7 L1106.5,813.7 L1104.5,813.7 L1102.5,813.7 L1100.5,813.7 L1098.5,813.7 L1096.5,813.7 L1094.5,813.7 L1092.5,813.7 L1090.5,813.7 L1088.5,813.7 L1086.5,813.7 L1084.5,813.7 L1082.5,813.7 L1080.5,813.7 L1078.5,813.7 L1076.5,813.7 L1074.5,813.7 L1072.5,813.7 L1070.5,813.7 L1068.5,813.7 L1066.5,813.7 L1064.5,813.7 L1062.5,813.7 L1060.5,813.7 L1058.5,813.7 L1056.5,813.7 L1054.5,813.7 L1052.5,813.7 L1050.5,813.7 L1048.5,813.7 L1046.5,813.7 L1044.5,813.7 L1042.5,813.7 L1040.5,813.7 L1038.5,813.7 L1036.5,813.7 L1034.5,813.7 L1032.5,813.7 L1030.5,813.7 L1028.5,813.7 L1026.5,813.7 L1024.5,813.7 L1022.5,813.7 L1020.5,813.7 L1018.5,813.7 L1016.5,813.7 L1014.5,813.7 L1012.5,813.7 L1010.5,813.7 L1008.5,813.7 L1006.5,813.7 L1004.5,813.7 L1002.5,813.7 L1000.5,813.7 L998.5,813.7 L996.5,813.7 L994.5,813.7 L992.5,813.7 L990.5,813.7 L988.5,813.7 L986.5,813.7 L984.5,813.7 L982.5,813.7 L980.5,813.7 L978.5,813.7 L976.5,813.7 L974.5,813.7 L972.5,813.7 L970.5,813.7 L968.5,813.7 L966.5,813.7 L964.5,813.7 L962.5,813.7 L960.5,813.7 L958.5,813.7 L956.5,813.7 L954.5,813.7 L952.5,813.7 L950.5,813.7 L948.5,813.7 L946.5,813.7 L944.5,813.7 L942.5,813.7 L940.5,813.7 L938.5,813.7 L936.5,813.7 L934.5,813.7 L932.5,813.7 L930.5,813.7 L928.5,813.7 L926.5,813.7 L924.5,813.7 L922.5,813.7 L920.5,813.7 L918.5,813.7 L916.5,813.7 L914.5,813.7 L912.5,813.7 L910.5,813.7 L908.5,813.7 L906.5,813.7 L904.5,813.7 L902.5,813.7 L900.5,813.7 L898.5,813.7 L896.5,813.7 L894.5,813.7 L892.5,813.7 L890.5,813.7 L888.5,813.7 L886.5,813.7 L884.5,813.7 L882.5,813.7 L880.5,813.7 L878.5,813.7 L876.5,813.7 L874.5,813.7 L872.5,813.7 L870.5,813.7 L868.5,813.7 L866.5,813.7 L864.5,813.7 L862.5,813.7 L860.5,813.7 L858.5,813.7 L856.5,813.7 L854.5,813.7 L852.5,813.7 L850.5,813.7 L848.5,813.7 L846.5,813.7 L844.5,813.7 L842.5,813.7 L840.5,813.7 L838.5,813.7 L836.5,813.7 L834.5,813.7 L832.5,813.7 L830.5,813.7 L828.5,813.7 L826.5,813.7 L824.5,813.7 L822.5,813.7 L820.5,813.7 L818.5,813.7 L816.5,813.7 L814.5,813.7 L812.5,813.7 L810.5,813.7 L808.5,813.7 L806.5,813.7 L804.5,813.7 L802.5,813.7 L800.5,813.7 L798.5,813.7 L796.5,813.7 L794.5,813.7 L792.5,813.7 L790.5,813.7 L788.5,813.7 L786.5,813.7 L784.5,813.7 L782.5,813.7 L780.5,813.7 L778.5,813.7 L776.5,813.7 Z" fill="url(#gCNe)" fill-opacity="0.75"/>
<path d="M776.5,813.3 L778.5,813.3 L780.5,813.3 L782.5,813.3 L784.5,813.3 L786.5,813.3 L788.5,813.3 L790.5,813.3 L792.5,813.3 L794.5,813.3 L796.5,813.2 L798.5,813.2 L800.5,813.2 L802.5,813.2 L804.5,813.2 L806.5,813.2 L808.5,813.2 L810.5,813.2 L812.5,813.2 L814.5,813.2 L816.5,813.2 L818.5,813.2 L820.5,813.2 L822.5,813.2 L824.5,813.2 L826.5,813.2 L828.5,813.2 L830.5,813.2 L832.5,813.1 L834.5,813.1 L836.5,813.1 L838.5,813.1 L840.5,813.1 L842.5,813.1 L844.5,813.1 L846.5,813.1 L848.5,813.1 L850.5,813.1 L852.5,813.1 L854.5,813.1 L856.5,813.1 L858.5,813.0 L860.5,813.0 L862.5,813.0 L864.5,813.0 L866.5,813.0 L868.5,813.0 L870.5,813.0 L872.5,813.0 L874.5,813.0 L876.5,813.0 L878.5,813.0 L880.5,812.9 L882.5,812.9 L884.5,812.9 L886.5,812.9 L888.5,812.9 L890.5,812.9 L892.5,812.9 L894.5,812.9 L896.5,812.9 L898.5,812.8 L900.5,812.8 L902.5,812.8 L904.5,812.8 L906.5,812.8 L908.5,812.8 L910.5,812.8 L912.5,812.7 L914.5,812.7 L916.5,812.7 L918.5,812.7 L920.5,812.7 L922.5,812.7 L924.5,812.6 L926.5,812.6 L928.5,812.6 L930.5,812.6 L932.5,812.6 L934.5,812.6 L936.5,812.5 L938.5,812.5 L940.5,812.5 L942.5,812.5 L944.5,812.5 L946.5,812.4 L948.5,812.4 L950.5,812.4 L952.5,812.4 L954.5,812.3 L956.5,812.3 L958.5,812.3 L960.5,812.3 L962.5,812.2 L964.5,812.2 L966.5,812.2 L968.5,812.1 L970.5,812.1 L972.5,812.1 L974.5,812.0 L976.5,812.0 L978.5,812.0 L980.5,811.9 L982.5,811.9 L984.5,811.8 L986.5,811.8 L988.5,811.7 L990.5,811.7 L992.5,811.6 L994.5,811.6 L996.5,811.5 L998.5,811.4 L1000.5,811.4 L1002.5,811.3 L1004.5,811.2 L1006.5,811.1 L1008.5,811.0 L1010.5,810.9 L1012.5,810.7 L1014.5,810.6 L1016.5,810.5 L1018.5,810.3 L1020.5,810.1 L1022.5,809.9 L1024.5,809.7 L1026.5,809.5 L1028.5,809.2 L1030.5,808.9 L1032.5,808.6 L1034.5,808.2 L1036.5,807.8 L1038.5,807.4 L1040.5,806.9 L1042.5,806.4 L1044.5,805.8 L1046.5,805.2 L1048.5,804.5 L1050.5,803.8 L1052.5,802.9 L1054.5,802.0 L1056.5,801.1 L1058.5,800.0 L1060.5,798.9 L1062.5,797.6 L1064.5,796.3 L1066.5,794.8 L1068.5,793.3 L1070.5,791.6 L1072.5,789.8 L1074.5,787.9 L1076.5,785.9 L1078.5,783.7 L1080.5,781.4 L1082.5,779.0 L1084.5,776.4 L1086.5,773.7 L1088.5,770.9 L1090.5,767.9 L1092.5,764.8 L1094.5,761.6 L1096.5,758.2 L1098.5,754.7 L1100.5,751.1 L1102.5,747.4 L1104.5,743.6 L1106.5,739.7 L1108.5,735.7 L1110.5,731.7 L1112.5,727.6 L1114.5,723.4 L1116.5,719.2 L1118.5,715.1 L1120.5,710.9 L1122.5,706.7 L1124.5,702.6 L1126.5,698.6 L1128.5,694.6 L1130.5,690.8 L1132.5,687.0 L1134.5,683.5 L1136.5,680.1 L1138.5,676.8 L1140.5,673.8 L1142.5,671.1 L1144.5,668.6 L1146.5,666.3 L1148.5,664.4 L1150.5,662.7 L1152.5,661.4 L1154.5,660.4 L1156.5,659.7 L1158.5,659.4 L1160.5,659.5 L1162.5,659.8 L1164.5,660.6 L1166.5,661.6 L1168.5,663.0 L1170.5,664.7 L1172.5,666.7 L1174.5,669.0 L1176.5,671.6 L1178.5,674.4 L1180.5,677.5 L1182.5,680.7 L1184.5,684.2 L1186.5,687.8 L1188.5,691.5 L1190.5,695.4 L1192.5,699.4 L1194.5,703.4 L1196.5,707.6 L1198.5,711.7 L1200.5,715.9 L1202.5,720.1 L1204.5,724.2 L1206.5,728.4 L1208.5,732.5 L1210.5,736.5 L1212.5,740.5 L1214.5,744.4 L1216.5,748.2 L1218.5,751.8 L1220.5,755.4 L1222.5,758.9 L1224.5,762.2 L1226.5,765.4 L1228.5,768.5 L1230.5,771.4 L1232.5,774.3 L1234.5,776.9 L1236.5,779.5 L1238.5,781.9 L1240.5,784.1 L1242.5,786.3 L1244.5,788.3 L1246.5,790.2 L1248.5,791.9 L1250.5,793.6 L1252.5,795.1 L1254.5,796.5 L1256.5,797.9 L1258.5,799.1 L1260.5,800.2 L1262.5,801.3 L1264.5,802.2 L1266.5,803.1 L1268.5,803.9 L1270.5,804.7 L1272.5,805.3 L1274.5,805.9 L1276.5,806.5 L1278.5,807.0 L1280.5,807.5 L1282.5,807.9 L1284.5,808.3 L1286.5,808.6 L1288.5,809.0 L1290.5,809.3 L1292.5,809.5 L1294.5,809.7 L1296.5,810.0 L1298.5,810.2 L1300.5,810.3 L1302.5,810.5 L1304.5,810.6 L1306.5,810.8 L1308.5,810.9 L1310.5,811.0 L1312.5,811.1 L1314.5,811.2 L1316.5,811.3 L1318.5,811.4 L1320.5,811.4 L1322.5,811.5 L1322.5,813.7 L1320.5,813.7 L1318.5,813.7 L1316.5,813.7 L1314.5,813.7 L1312.5,813.7 L1310.5,813.7 L1308.5,813.7 L1306.5,813.7 L1304.5,813.7 L1302.5,813.7 L1300.5,813.7 L1298.5,813.7 L1296.5,813.7 L1294.5,813.7 L1292.5,813.7 L1290.5,813.7 L1288.5,813.7 L1286.5,813.7 L1284.5,813.7 L1282.5,813.7 L1280.5,813.7 L1278.5,813.7 L1276.5,813.7 L1274.5,813.7 L1272.5,813.7 L1270.5,813.7 L1268.5,813.7 L1266.5,813.7 L1264.5,813.7 L1262.5,813.7 L1260.5,813.7 L1258.5,813.7 L1256.5,813.7 L1254.5,813.7 L1252.5,813.7 L1250.5,813.7 L1248.5,813.7 L1246.5,813.7 L1244.5,813.7 L1242.5,813.7 L1240.5,813.7 L1238.5,813.7 L1236.5,813.7 L1234.5,813.7 L1232.5,813.7 L1230.5,813.7 L1228.5,813.7 L1226.5,813.7 L1224.5,813.7 L1222.5,813.7 L1220.5,813.7 L1218.5,813.7 L1216.5,813.7 L1214.5,813.7 L1212.5,813.7 L1210.5,813.7 L1208.5,813.7 L1206.5,813.7 L1204.5,813.7 L1202.5,813.7 L1200.5,813.7 L1198.5,813.7 L1196.5,813.7 L1194.5,813.7 L1192.5,813.7 L1190.5,813.7 L1188.5,813.7 L1186.5,813.7 L1184.5,813.7 L1182.5,813.7 L1180.5,813.7 L1178.5,813.7 L1176.5,813.7 L1174.5,813.7 L1172.5,813.7 L1170.5,813.7 L1168.5,813.7 L1166.5,813.7 L1164.5,813.7 L1162.5,813.7 L1160.5,813.7 L1158.5,813.7 L1156.5,813.7 L1154.5,813.7 L1152.5,813.7 L1150.5,813.7 L1148.5,813.7 L1146.5,813.7 L1144.5,813.7 L1142.5,813.7 L1140.5,813.7 L1138.5,813.7 L1136.5,813.7 L1134.5,813.7 L1132.5,813.7 L1130.5,813.7 L1128.5,813.7 L1126.5,813.7 L1124.5,813.7 L1122.5,813.7 L1120.5,813.7 L1118.5,813.7 L1116.5,813.7 L1114.5,813.7 L1112.5,813.7 L1110.5,813.7 L1108.5,813.7 L1106.5,813.7 L1104.5,813.7 L1102.5,813.7 L1100.5,813.7 L1098.5,813.7 L1096.5,813.7 L1094.5,813.7 L1092.5,813.7 L1090.5,813.7 L1088.5,813.7 L1086.5,813.7 L1084.5,813.7 L1082.5,813.7 L1080.5,813.7 L1078.5,813.7 L1076.5,813.7 L1074.5,813.7 L1072.5,813.7 L1070.5,813.7 L1068.5,813.7 L1066.5,813.7 L1064.5,813.7 L1062.5,813.7 L1060.5,813.7 L1058.5,813.7 L1056.5,813.7 L1054.5,813.7 L1052.5,813.7 L1050.5,813.7 L1048.5,813.7 L1046.5,813.7 L1044.5,813.7 L1042.5,813.7 L1040.5,813.7 L1038.5,813.7 L1036.5,813.7 L1034.5,813.7 L1032.5,813.7 L1030.5,813.7 L1028.5,813.7 L1026.5,813.7 L1024.5,813.7 L1022.5,813.7 L1020.5,813.7 L1018.5,813.7 L1016.5,813.7 L1014.5,813.7 L1012.5,813.7 L1010.5,813.7 L1008.5,813.7 L1006.5,813.7 L1004.5,813.7 L1002.5,813.7 L1000.5,813.7 L998.5,813.7 L996.5,813.7 L994.5,813.7 L992.5,813.7 L990.5,813.7 L988.5,813.7 L986.5,813.7 L984.5,813.7 L982.5,813.7 L980.5,813.7 L978.5,813.7 L976.5,813.7 L974.5,813.7 L972.5,813.7 L970.5,813.7 L968.5,813.7 L966.5,813.7 L964.5,813.7 L962.5,813.7 L960.5,813.7 L958.5,813.7 L956.5,813.7 L954.5,813.7 L952.5,813.7 L950.5,813.7 L948.5,813.7 L946.5,813.7 L944.5,813.7 L942.5,813.7 L940.5,813.7 L938.5,813.7 L936.5,813.7 L934.5,813.7 L932.5,813.7 L930.5,813.7 L928.5,813.7 L926.5,813.7 L924.5,813.7 L922.5,813.7 L920.5,813.7 L918.5,813.7 L916.5,813.7 L914.5,813.7 L912.5,813.7 L910.5,813.7 L908.5,813.7 L906.5,813.7 L904.5,813.7 L902.5,813.7 L900.5,813.7 L898.5,813.7 L896.5,813.7 L894.5,813.7 L892.5,813.7 L890.5,813.7 L888.5,813.7 L886.5,813.7 L884.5,813.7 L882.5,813.7 L880.5,813.7 L878.5,813.7 L876.5,813.7 L874.5,813.7 L872.5,813.7 L870.5,813.7 L868.5,813.7 L866.5,813.7 L864.5,813.7 L862.5,813.7 L860.5,813.7 L858.5,813.7 L856.5,813.7 L854.5,813.7 L852.5,813.7 L850.5,813.7 L848.5,813.7 L846.5,813.7 L844.5,813.7 L842.5,813.7 L840.5,813.7 L838.5,813.7 L836.5,813.7 L834.5,813.7 L832.5,813.7 L830.5,813.7 L828.5,813.7 L826.5,813.7 L824.5,813.7 L822.5,813.7 L820.5,813.7 L818.5,813.7 L816.5,813.7 L814.5,813.7 L812.5,813.7 L810.5,813.7 L808.5,813.7 L806.5,813.7 L804.5,813.7 L802.5,813.7 L800.5,813.7 L798.5,813.7 L796.5,813.7 L794.5,813.7 L792.5,813.7 L790.5,813.7 L788.5,813.7 L786.5,813.7 L784.5,813.7 L782.5,813.7 L780.5,813.7 L778.5,813.7 L776.5,813.7 Z" fill="url(#gCC)" fill-opacity="0.75"/>
<path d="M776.5,812.1 L778.5,812.0 L780.5,811.9 L782.5,811.8 L784.5,811.7 L786.5,811.6 L788.5,811.5 L790.5,811.4 L792.5,811.3 L794.5,811.2 L796.5,811.1 L798.5,810.9 L800.5,810.8 L802.5,810.7 L804.5,810.6 L806.5,810.5 L808.5,810.4 L810.5,810.3 L812.5,810.2 L814.5,810.1 L816.5,810.0 L818.5,809.9 L820.5,809.8 L822.5,809.7 L824.5,809.7 L826.5,809.6 L828.5,809.5 L830.5,809.5 L832.5,809.4 L834.5,809.4 L836.5,809.3 L838.5,809.3 L840.5,809.3 L842.5,809.2 L844.5,809.2 L846.5,809.2 L848.5,809.2 L850.5,809.2 L852.5,809.2 L854.5,809.2 L856.5,809.3 L858.5,809.3 L860.5,809.3 L862.5,809.4 L864.5,809.4 L866.5,809.5 L868.5,809.6 L870.5,809.6 L872.5,809.7 L874.5,809.8 L876.5,809.9 L878.5,810.0 L880.5,810.1 L882.5,810.2 L884.5,810.3 L886.5,810.4 L888.5,810.5 L890.5,810.6 L892.5,810.7 L894.5,810.8 L896.5,810.9 L898.5,811.0 L900.5,811.1 L902.5,811.2 L904.5,811.3 L906.5,811.4 L908.5,811.5 L910.5,811.6 L912.5,811.7 L914.5,811.8 L916.5,811.9 L918.5,812.0 L920.5,812.1 L922.5,812.2 L924.5,812.3 L926.5,812.4 L928.5,812.5 L930.5,812.5 L932.5,812.6 L934.5,812.7 L936.5,812.8 L938.5,812.8 L940.5,812.9 L942.5,812.9 L944.5,813.0 L946.5,813.1 L948.5,813.1 L950.5,813.1 L952.5,813.2 L954.5,813.2 L956.5,813.3 L958.5,813.3 L960.5,813.3 L962.5,813.4 L964.5,813.4 L966.5,813.4 L968.5,813.5 L970.5,813.5 L972.5,813.5 L974.5,813.5 L976.5,813.5 L978.5,813.6 L980.5,813.6 L982.5,813.6 L984.5,813.6 L986.5,813.6 L988.5,813.6 L990.5,813.6 L992.5,813.6 L994.5,813.6 L996.5,813.6 L998.5,813.7 L1000.5,813.7 L1002.5,813.7 L1004.5,813.7 L1006.5,813.7 L1008.5,813.7 L1010.5,813.7 L1012.5,813.7 L1014.5,813.7 L1016.5,813.7 L1018.5,813.7 L1020.5,813.7 L1022.5,813.7 L1024.5,813.7 L1026.5,813.7 L1028.5,813.7 L1030.5,813.7 L1032.5,813.7 L1034.5,813.7 L1036.5,813.7 L1038.5,813.7 L1040.5,813.7 L1042.5,813.7 L1044.5,813.7 L1046.5,813.7 L1048.5,813.7 L1050.5,813.7 L1052.5,813.7 L1054.5,813.7 L1056.5,813.7 L1058.5,813.7 L1060.5,813.7 L1062.5,813.7 L1064.5,813.7 L1066.5,813.7 L1068.5,813.7 L1070.5,813.7 L1072.5,813.7 L1074.5,813.7 L1076.5,813.7 L1078.5,813.7 L1080.5,813.7 L1082.5,813.7 L1084.5,813.7 L1086.5,813.7 L1088.5,813.7 L1090.5,813.7 L1092.5,813.7 L1094.5,813.7 L1096.5,813.7 L1098.5,813.7 L1100.5,813.7 L1102.5,813.7 L1104.5,813.7 L1106.5,813.7 L1108.5,813.7 L1110.5,813.7 L1112.5,813.7 L1114.5,813.7 L1116.5,813.7 L1118.5,813.7 L1120.5,813.7 L1122.5,813.7 L1124.5,813.7 L1126.5,813.7 L1128.5,813.7 L1130.5,813.7 L1132.5,813.7 L1134.5,813.7 L1136.5,813.7 L1138.5,813.7 L1140.5,813.7 L1142.5,813.7 L1144.5,813.7 L1146.5,813.7 L1148.5,813.7 L1150.5,813.7 L1152.5,813.7 L1154.5,813.7 L1156.5,813.7 L1158.5,813.7 L1160.5,813.7 L1162.5,813.7 L1164.5,813.7 L1166.5,813.7 L1168.5,813.7 L1170.5,813.7 L1172.5,813.7 L1174.5,813.7 L1176.5,813.7 L1178.5,813.7 L1180.5,813.7 L1182.5,813.7 L1184.5,813.7 L1186.5,813.7 L1188.5,813.7 L1190.5,813.7 L1192.5,813.7 L1194.5,813.7 L1196.5,813.7 L1198.5,813.7 L1200.5,813.7 L1202.5,813.7 L1204.5,813.7 L1206.5,813.7 L1208.5,813.7 L1210.5,813.7 L1212.5,813.7 L1214.5,813.7 L1216.5,813.7 L1218.5,813.7 L1220.5,813.7 L1222.5,813.7 L1224.5,813.7 L1226.5,813.7 L1228.5,813.7 L1230.5,813.7 L1232.5,813.7 L1234.5,813.7 L1236.5,813.7 L1238.5,813.7 L1240.5,813.7 L1242.5,813.7 L1244.5,813.7 L1246.5,813.7 L1248.5,813.7 L1250.5,813.7 L1252.5,813.7 L1254.5,813.7 L1256.5,813.7 L1258.5,813.7 L1260.5,813.7 L1262.5,813.7 L1264.5,813.7 L1266.5,813.7 L1268.5,813.7 L1270.5,813.7 L1272.5,813.7 L1274.5,813.7 L1276.5,813.7 L1278.5,813.7 L1280.5,813.7 L1282.5,813.7 L1284.5,813.7 L1286.5,813.7 L1288.5,813.7 L1290.5,813.7 L1292.5,813.7 L1294.5,813.7 L1296.5,813.7 L1298.5,813.7 L1300.5,813.7 L1302.5,813.7 L1304.5,813.7 L1306.5,813.7 L1308.5,813.7 L1310.5,813.7 L1312.5,813.7 L1314.5,813.7 L1316.5,813.7 L1318.5,813.7 L1320.5,813.7 L1322.5,813.7 L1322.5,813.7 L1320.5,813.7 L1318.5,813.7 L1316.5,813.7 L1314.5,813.7 L1312.5,813.7 L1310.5,813.7 L1308.5,813.7 L1306.5,813.7 L1304.5,813.7 L1302.5,813.7 L1300.5,813.7 L1298.5,813.7 L1296.5,813.7 L1294.5,813.7 L1292.5,813.7 L1290.5,813.7 L1288.5,813.7 L1286.5,813.7 L1284.5,813.7 L1282.5,813.7 L1280.5,813.7 L1278.5,813.7 L1276.5,813.7 L1274.5,813.7 L1272.5,813.7 L1270.5,813.7 L1268.5,813.7 L1266.5,813.7 L1264.5,813.7 L1262.5,813.7 L1260.5,813.7 L1258.5,813.7 L1256.5,813.7 L1254.5,813.7 L1252.5,813.7 L1250.5,813.7 L1248.5,813.7 L1246.5,813.7 L1244.5,813.7 L1242.5,813.7 L1240.5,813.7 L1238.5,813.7 L1236.5,813.7 L1234.5,813.7 L1232.5,813.7 L1230.5,813.7 L1228.5,813.7 L1226.5,813.7 L1224.5,813.7 L1222.5,813.7 L1220.5,813.7 L1218.5,813.7 L1216.5,813.7 L1214.5,813.7 L1212.5,813.7 L1210.5,813.7 L1208.5,813.7 L1206.5,813.7 L1204.5,813.7 L1202.5,813.7 L1200.5,813.7 L1198.5,813.7 L1196.5,813.7 L1194.5,813.7 L1192.5,813.7 L1190.5,813.7 L1188.5,813.7 L1186.5,813.7 L1184.5,813.7 L1182.5,813.7 L1180.5,813.7 L1178.5,813.7 L1176.5,813.7 L1174.5,813.7 L1172.5,813.7 L1170.5,813.7 L1168.5,813.7 L1166.5,813.7 L1164.5,813.7 L1162.5,813.7 L1160.5,813.7 L1158.5,813.7 L1156.5,813.7 L1154.5,813.7 L1152.5,813.7 L1150.5,813.7 L1148.5,813.7 L1146.5,813.7 L1144.5,813.7 L1142.5,813.7 L1140.5,813.7 L1138.5,813.7 L1136.5,813.7 L1134.5,813.7 L1132.5,813.7 L1130.5,813.7 L1128.5,813.7 L1126.5,813.7 L1124.5,813.7 L1122.5,813.7 L1120.5,813.7 L1118.5,813.7 L1116.5,813.7 L1114.5,813.7 L1112.5,813.7 L1110.5,813.7 L1108.5,813.7 L1106.5,813.7 L1104.5,813.7 L1102.5,813.7 L1100.5,813.7 L1098.5,813.7 L1096.5,813.7 L1094.5,813.7 L1092.5,813.7 L1090.5,813.7 L1088.5,813.7 L1086.5,813.7 L1084.5,813.7 L1082.5,813.7 L1080.5,813.7 L1078.5,813.7 L1076.5,813.7 L1074.5,813.7 L1072.5,813.7 L1070.5,813.7 L1068.5,813.7 L1066.5,813.7 L1064.5,813.7 L1062.5,813.7 L1060.5,813.7 L1058.5,813.7 L1056.5,813.7 L1054.5,813.7 L1052.5,813.7 L1050.5,813.7 L1048.5,813.7 L1046.5,813.7 L1044.5,813.7 L1042.5,813.7 L1040.5,813.7 L1038.5,813.7 L1036.5,813.7 L1034.5,813.7 L1032.5,813.7 L1030.5,813.7 L1028.5,813.7 L1026.5,813.7 L1024.5,813.7 L1022.5,813.7 L1020.5,813.7 L1018.5,813.7 L1016.5,813.7 L1014.5,813.7 L1012.5,813.7 L1010.5,813.7 L1008.5,813.7 L1006.5,813.7 L1004.5,813.7 L1002.5,813.7 L1000.5,813.7 L998.5,813.7 L996.5,813.7 L994.5,813.7 L992.5,813.7 L990.5,813.7 L988.5,813.7 L986.5,813.7 L984.5,813.7 L982.5,813.7 L980.5,813.7 L978.5,813.7 L976.5,813.7 L974.5,813.7 L972.5,813.7 L970.5,813.7 L968.5,813.7 L966.5,813.7 L964.5,813.7 L962.5,813.7 L960.5,813.7 L958.5,813.7 L956.5,813.7 L954.5,813.7 L952.5,813.7 L950.5,813.7 L948.5,813.7 L946.5,813.7 L944.5,813.7 L942.5,813.7 L940.5,813.7 L938.5,813.7 L936.5,813.7 L934.5,813.7 L932.5,813.7 L930.5,813.7 L928.5,813.7 L926.5,813.7 L924.5,813.7 L922.5,813.7 L920.5,813.7 L918.5,813.7 L916.5,813.7 L914.5,813.7 L912.5,813.7 L910.5,813.7 L908.5,813.7 L906.5,813.7 L904.5,813.7 L902.5,813.7 L900.5,813.7 L898.5,813.7 L896.5,813.7 L894.5,813.7 L892.5,813.7 L890.5,813.7 L888.5,813.7 L886.5,813.7 L884.5,813.7 L882.5,813.7 L880.5,813.7 L878.5,813.7 L876.5,813.7 L874.5,813.7 L872.5,813.7 L870.5,813.7 L868.5,813.7 L866.5,813.7 L864.5,813.7 L862.5,813.7 L860.5,813.7 L858.5,813.7 L856.5,813.7 L854.5,813.7 L852.5,813.7 L850.5,813.7 L848.5,813.7 L846.5,813.7 L844.5,813.7 L842.5,813.7 L840.5,813.7 L838.5,813.7 L836.5,813.7 L834.5,813.7 L832.5,813.7 L830.5,813.7 L828.5,813.7 L826.5,813.7 L824.5,813.7 L822.5,813.7 L820.5,813.7 L818.5,813.7 L816.5,813.7 L814.5,813.7 L812.5,813.7 L810.5,813.7 L808.5,813.7 L806.5,813.7 L804.5,813.7 L802.5,813.7 L800.5,813.7 L798.5,813.7 L796.5,813.7 L794.5,813.7 L792.5,813.7 L790.5,813.7 L788.5,813.7 L786.5,813.7 L784.5,813.7 L782.5,813.7 L780.5,813.7 L778.5,813.7 L776.5,813.7 Z" fill="#f08020"/>
<path d="M776.5,813.6 L778.5,813.6 L780.5,813.6 L782.5,813.6 L784.5,813.6 L786.5,813.6 L788.5,813.6 L790.5,813.6 L792.5,813.6 L794.5,813.6 L796.5,813.6 L798.5,813.6 L800.5,813.6 L802.5,813.6 L804.5,813.6 L806.5,813.6 L808.5,813.6 L810.5,813.6 L812.5,813.6 L814.5,813.6 L816.5,813.6 L818.5,813.6 L820.5,813.6 L822.5,813.6 L824.5,813.6 L826.5,813.6 L828.5,813.6 L830.5,813.6 L832.5,813.6 L834.5,813.6 L836.5,813.6 L838.5,813.6 L840.5,813.6 L842.5,813.6 L844.5,813.6 L846.5,813.6 L848.5,813.6 L850.5,813.6 L852.5,813.6 L854.5,813.6 L856.5,813.5 L858.5,813.5 L860.5,813.5 L862.5,813.5 L864.5,813.5 L866.5,813.5 L868.5,813.5 L870.5,813.5 L872.5,813.5 L874.5,813.5 L876.5,813.5 L878.5,813.5 L880.5,813.5 L882.5,813.5 L884.5,813.5 L886.5,813.5 L888.5,813.5 L890.5,813.5 L892.5,813.4 L894.5,813.4 L896.5,813.4 L898.5,813.4 L900.5,813.4 L902.5,813.4 L904.5,813.3 L906.5,813.3 L908.5,813.3 L910.5,813.3 L912.5,813.2 L914.5,813.2 L916.5,813.2 L918.5,813.1 L920.5,813.1 L922.5,813.0 L924.5,813.0 L926.5,812.9 L928.5,812.8 L930.5,812.8 L932.5,812.7 L934.5,812.6 L936.5,812.5 L938.5,812.3 L940.5,812.2 L942.5,812.1 L944.5,811.9 L946.5,811.7 L948.5,811.6 L950.5,811.4 L952.5,811.1 L954.5,810.9 L956.5,810.7 L958.5,810.4 L960.5,810.1 L962.5,809.8 L964.5,809.4 L966.5,809.1 L968.5,808.7 L970.5,808.3 L972.5,807.9 L974.5,807.4 L976.5,807.0 L978.5,806.5 L980.5,806.0 L982.5,805.4 L984.5,804.9 L986.5,804.3 L988.5,803.7 L990.5,803.1 L992.5,802.5 L994.5,801.9 L996.5,801.2 L998.5,800.6 L1000.5,799.9 L1002.5,799.3 L1004.5,798.6 L1006.5,798.0 L1008.5,797.3 L1010.5,796.7 L1012.5,796.0 L1014.5,795.4 L1016.5,794.8 L1018.5,794.3 L1020.5,793.7 L1022.5,793.2 L1024.5,792.8 L1026.5,792.3 L1028.5,791.9 L1030.5,791.6 L1032.5,791.3 L1034.5,791.0 L1036.5,790.8 L1038.5,790.7 L1040.5,790.5 L1042.5,790.5 L1044.5,790.5 L1046.5,790.6 L1048.5,790.7 L1050.5,790.9 L1052.5,791.1 L1054.5,791.4 L1056.5,791.7 L1058.5,792.0 L1060.5,792.5 L1062.5,792.9 L1064.5,793.4 L1066.5,793.9 L1068.5,794.4 L1070.5,795.0 L1072.5,795.6 L1074.5,796.2 L1076.5,796.9 L1078.5,797.5 L1080.5,798.1 L1082.5,798.8 L1084.5,799.5 L1086.5,800.1 L1088.5,800.8 L1090.5,801.4 L1092.5,802.1 L1094.5,802.7 L1096.5,803.3 L1098.5,803.9 L1100.5,804.5 L1102.5,805.0 L1104.5,805.6 L1106.5,806.1 L1108.5,806.6 L1110.5,807.1 L1112.5,807.6 L1114.5,808.0 L1116.5,808.4 L1118.5,808.8 L1120.5,809.2 L1122.5,809.5 L1124.5,809.9 L1126.5,810.2 L1128.5,810.5 L1130.5,810.7 L1132.5,811.0 L1134.5,811.2 L1136.5,811.4 L1138.5,811.6 L1140.5,811.8 L1142.5,812.0 L1144.5,812.1 L1146.5,812.3 L1148.5,812.4 L1150.5,812.5 L1152.5,812.6 L1154.5,812.7 L1156.5,812.8 L1158.5,812.9 L1160.5,812.9 L1162.5,813.0 L1164.5,813.0 L1166.5,813.1 L1168.5,813.1 L1170.5,813.2 L1172.5,813.2 L1174.5,813.3 L1176.5,813.3 L1178.5,813.3 L1180.5,813.3 L1182.5,813.4 L1184.5,813.4 L1186.5,813.4 L1188.5,813.4 L1190.5,813.4 L1192.5,813.4 L1194.5,813.4 L1196.5,813.5 L1198.5,813.5 L1200.5,813.5 L1202.5,813.5 L1204.5,813.5 L1206.5,813.5 L1208.5,813.5 L1210.5,813.5 L1212.5,813.5 L1214.5,813.5 L1216.5,813.5 L1218.5,813.5 L1220.5,813.5 L1222.5,813.5 L1224.5,813.5 L1226.5,813.5 L1228.5,813.5 L1230.5,813.5 L1232.5,813.6 L1234.5,813.6 L1236.5,813.6 L1238.5,813.6 L1240.5,813.6 L1242.5,813.6 L1244.5,813.6 L1246.5,813.6 L1248.5,813.6 L1250.5,813.6 L1252.5,813.6 L1254.5,813.6 L1256.5,813.6 L1258.5,813.6 L1260.5,813.6 L1262.5,813.6 L1264.5,813.6 L1266.5,813.6 L1268.5,813.6 L1270.5,813.6 L1272.5,813.6 L1274.5,813.6 L1276.5,813.6 L1278.5,813.6 L1280.5,813.6 L1282.5,813.6 L1284.5,813.6 L1286.5,813.6 L1288.5,813.6 L1290.5,813.6 L1292.5,813.6 L1294.5,813.6 L1296.5,813.6 L1298.5,813.6 L1300.5,813.6 L1302.5,813.6 L1304.5,813.6 L1306.5,813.6 L1308.5,813.6 L1310.5,813.6 L1312.5,813.6 L1314.5,813.6 L1316.5,813.6 L1318.5,813.6 L1320.5,813.6 L1322.5,813.6" fill="none" stroke="#7fb2e6" stroke-width="1.6"/>
<path d="M776.5,813.3 L778.5,813.3 L780.5,813.3 L782.5,813.3 L784.5,813.3 L786.5,813.3 L788.5,813.3 L790.5,813.3 L792.5,813.3 L794.5,813.3 L796.5,813.2 L798.5,813.2 L800.5,813.2 L802.5,813.2 L804.5,813.2 L806.5,813.2 L808.5,813.2 L810.5,813.2 L812.5,813.2 L814.5,813.2 L816.5,813.2 L818.5,813.2 L820.5,813.2 L822.5,813.2 L824.5,813.2 L826.5,813.2 L828.5,813.2 L830.5,813.2 L832.5,813.1 L834.5,813.1 L836.5,813.1 L838.5,813.1 L840.5,813.1 L842.5,813.1 L844.5,813.1 L846.5,813.1 L848.5,813.1 L850.5,813.1 L852.5,813.1 L854.5,813.1 L856.5,813.1 L858.5,813.0 L860.5,813.0 L862.5,813.0 L864.5,813.0 L866.5,813.0 L868.5,813.0 L870.5,813.0 L872.5,813.0 L874.5,813.0 L876.5,813.0 L878.5,813.0 L880.5,812.9 L882.5,812.9 L884.5,812.9 L886.5,812.9 L888.5,812.9 L890.5,812.9 L892.5,812.9 L894.5,812.9 L896.5,812.9 L898.5,812.8 L900.5,812.8 L902.5,812.8 L904.5,812.8 L906.5,812.8 L908.5,812.8 L910.5,812.8 L912.5,812.7 L914.5,812.7 L916.5,812.7 L918.5,812.7 L920.5,812.7 L922.5,812.7 L924.5,812.6 L926.5,812.6 L928.5,812.6 L930.5,812.6 L932.5,812.6 L934.5,812.6 L936.5,812.5 L938.5,812.5 L940.5,812.5 L942.5,812.5 L944.5,812.5 L946.5,812.4 L948.5,812.4 L950.5,812.4 L952.5,812.4 L954.5,812.3 L956.5,812.3 L958.5,812.3 L960.5,812.3 L962.5,812.2 L964.5,812.2 L966.5,812.2 L968.5,812.1 L970.5,812.1 L972.5,812.1 L974.5,812.0 L976.5,812.0 L978.5,812.0 L980.5,811.9 L982.5,811.9 L984.5,811.8 L986.5,811.8 L988.5,811.7 L990.5,811.7 L992.5,811.6 L994.5,811.6 L996.5,811.5 L998.5,811.4 L1000.5,811.4 L1002.5,811.3 L1004.5,811.2 L1006.5,811.1 L1008.5,811.0 L1010.5,810.9 L1012.5,810.7 L1014.5,810.6 L1016.5,810.5 L1018.5,810.3 L1020.5,810.1 L1022.5,809.9 L1024.5,809.7 L1026.5,809.5 L1028.5,809.2 L1030.5,808.9 L1032.5,808.6 L1034.5,808.2 L1036.5,807.8 L1038.5,807.4 L1040.5,806.9 L1042.5,806.4 L1044.5,805.8 L1046.5,805.2 L1048.5,804.5 L1050.5,803.8 L1052.5,802.9 L1054.5,802.0 L1056.5,801.1 L1058.5,800.0 L1060.5,798.9 L1062.5,797.6 L1064.5,796.3 L1066.5,794.8 L1068.5,793.3 L1070.5,791.6 L1072.5,789.8 L1074.5,787.9 L1076.5,785.9 L1078.5,783.7 L1080.5,781.4 L1082.5,779.0 L1084.5,776.4 L1086.5,773.7 L1088.5,770.9 L1090.5,767.9 L1092.5,764.8 L1094.5,761.6 L1096.5,758.2 L1098.5,754.7 L1100.5,751.1 L1102.5,747.4 L1104.5,743.6 L1106.5,739.7 L1108.5,735.7 L1110.5,731.7 L1112.5,727.6 L1114.5,723.4 L1116.5,719.2 L1118.5,715.1 L1120.5,710.9 L1122.5,706.7 L1124.5,702.6 L1126.5,698.6 L1128.5,694.6 L1130.5,690.8 L1132.5,687.0 L1134.5,683.5 L1136.5,680.1 L1138.5,676.8 L1140.5,673.8 L1142.5,671.1 L1144.5,668.6 L1146.5,666.3 L1148.5,664.4 L1150.5,662.7 L1152.5,661.4 L1154.5,660.4 L1156.5,659.7 L1158.5,659.4 L1160.5,659.5 L1162.5,659.8 L1164.5,660.6 L1166.5,661.6 L1168.5,663.0 L1170.5,664.7 L1172.5,666.7 L1174.5,669.0 L1176.5,671.6 L1178.5,674.4 L1180.5,677.5 L1182.5,680.7 L1184.5,684.2 L1186.5,687.8 L1188.5,691.5 L1190.5,695.4 L1192.5,699.4 L1194.5,703.4 L1196.5,707.6 L1198.5,711.7 L1200.5,715.9 L1202.5,720.1 L1204.5,724.2 L1206.5,728.4 L1208.5,732.5 L1210.5,736.5 L1212.5,740.5 L1214.5,744.4 L1216.5,748.2 L1218.5,751.8 L1220.5,755.4 L1222.5,758.9 L1224.5,762.2 L1226.5,765.4 L1228.5,768.5 L1230.5,771.4 L1232.5,774.3 L1234.5,776.9 L1236.5,779.5 L1238.5,781.9 L1240.5,784.1 L1242.5,786.3 L1244.5,788.3 L1246.5,790.2 L1248.5,791.9 L1250.5,793.6 L1252.5,795.1 L1254.5,796.5 L1256.5,797.9 L1258.5,799.1 L1260.5,800.2 L1262.5,801.3 L1264.5,802.2 L1266.5,803.1 L1268.5,803.9 L1270.5,804.7 L1272.5,805.3 L1274.5,805.9 L1276.5,806.5 L1278.5,807.0 L1280.5,807.5 L1282.5,807.9 L1284.5,808.3 L1286.5,808.6 L1288.5,809.0 L1290.5,809.3 L1292.5,809.5 L1294.5,809.7 L1296.5,810.0 L1298.5,810.2 L1300.5,810.3 L1302.5,810.5 L1304.5,810.6 L1306.5,810.8 L1308.5,810.9 L1310.5,811.0 L1312.5,811.1 L1314.5,811.2 L1316.5,811.3 L1318.5,811.4 L1320.5,811.4 L1322.5,811.5" fill="none" stroke="#4a8ad8" stroke-width="1.6"/>
<path d="M776.5,811.6 L778.5,811.5 L780.5,811.4 L782.5,811.3 L784.5,811.2 L786.5,811.1 L788.5,811.0 L790.5,810.9 L792.5,810.7 L794.5,810.6 L796.5,810.5 L798.5,810.4 L800.5,810.3 L802.5,810.2 L804.5,810.0 L806.5,809.9 L808.5,809.8 L810.5,809.7 L812.5,809.6 L814.5,809.5 L816.5,809.4 L818.5,809.3 L820.5,809.2 L822.5,809.1 L824.5,809.0 L826.5,808.9 L828.5,808.9 L830.5,808.8 L832.5,808.7 L834.5,808.7 L836.5,808.6 L838.5,808.6 L840.5,808.5 L842.5,808.5 L844.5,808.5 L846.5,808.5 L848.5,808.4 L850.5,808.4 L852.5,808.4 L854.5,808.5 L856.5,808.5 L858.5,808.5 L860.5,808.5 L862.5,808.6 L864.5,808.6 L866.5,808.6 L868.5,808.7 L870.5,808.7 L872.5,808.8 L874.5,808.9 L876.5,808.9 L878.5,809.0 L880.5,809.1 L882.5,809.2 L884.5,809.3 L886.5,809.3 L888.5,809.4 L890.5,809.5 L892.5,809.6 L894.5,809.7 L896.5,809.8 L898.5,809.8 L900.5,809.9 L902.5,810.0 L904.5,810.1 L906.5,810.1 L908.5,810.2 L910.5,810.3 L912.5,810.3 L914.5,810.4 L916.5,810.4 L918.5,810.5 L920.5,810.5 L922.5,810.5 L924.5,810.5 L926.5,810.5 L928.5,810.5 L930.5,810.5 L932.5,810.5 L934.5,810.4 L936.5,810.4 L938.5,810.3 L940.5,810.2 L942.5,810.1 L944.5,810.0 L946.5,809.8 L948.5,809.7 L950.5,809.5 L952.5,809.3 L954.5,809.1 L956.5,808.8 L958.5,808.6 L960.5,808.3 L962.5,808.0 L964.5,807.6 L966.5,807.3 L968.5,806.9 L970.5,806.5 L972.5,806.0 L974.5,805.6 L976.5,805.1 L978.5,804.6 L980.5,804.0 L982.5,803.5 L984.5,802.9 L986.5,802.3 L988.5,801.7 L990.5,801.0 L992.5,800.3 L994.5,799.7 L996.5,799.0 L998.5,798.3 L1000.5,797.5 L1002.5,796.8 L1004.5,796.1 L1006.5,795.3 L1008.5,794.6 L1010.5,793.8 L1012.5,793.1 L1014.5,792.3 L1016.5,791.6 L1018.5,790.9 L1020.5,790.1 L1022.5,789.4 L1024.5,788.8 L1026.5,788.1 L1028.5,787.4 L1030.5,786.8 L1032.5,786.1 L1034.5,785.5 L1036.5,784.9 L1038.5,784.3 L1040.5,783.8 L1042.5,783.2 L1044.5,782.6 L1046.5,782.1 L1048.5,781.5 L1050.5,780.9 L1052.5,780.3 L1054.5,779.7 L1056.5,779.0 L1058.5,778.3 L1060.5,777.6 L1062.5,776.8 L1064.5,775.9 L1066.5,775.0 L1068.5,774.0 L1070.5,772.9 L1072.5,771.7 L1074.5,770.4 L1076.5,769.0 L1078.5,767.5 L1080.5,765.8 L1082.5,764.1 L1084.5,762.2 L1086.5,760.1 L1088.5,757.9 L1090.5,755.6 L1092.5,753.1 L1094.5,750.5 L1096.5,747.8 L1098.5,744.9 L1100.5,741.9 L1102.5,738.7 L1104.5,735.5 L1106.5,732.1 L1108.5,728.6 L1110.5,725.1 L1112.5,721.4 L1114.5,717.7 L1116.5,714.0 L1118.5,710.2 L1120.5,706.4 L1122.5,702.6 L1124.5,698.8 L1126.5,695.1 L1128.5,691.4 L1130.5,687.8 L1132.5,684.3 L1134.5,681.0 L1136.5,677.8 L1138.5,674.8 L1140.5,671.9 L1142.5,669.3 L1144.5,667.0 L1146.5,664.9 L1148.5,663.0 L1150.5,661.5 L1152.5,660.3 L1154.5,659.4 L1156.5,658.8 L1158.5,658.6 L1160.5,658.7 L1162.5,659.1 L1164.5,659.9 L1166.5,661.0 L1168.5,662.5 L1170.5,664.2 L1172.5,666.3 L1174.5,668.6 L1176.5,671.2 L1178.5,674.0 L1180.5,677.1 L1182.5,680.4 L1184.5,683.8 L1186.5,687.5 L1188.5,691.2 L1190.5,695.1 L1192.5,699.1 L1194.5,703.2 L1196.5,707.3 L1198.5,711.5 L1200.5,715.7 L1202.5,719.9 L1204.5,724.0 L1206.5,728.2 L1208.5,732.3 L1210.5,736.3 L1212.5,740.3 L1214.5,744.2 L1216.5,748.0 L1218.5,751.7 L1220.5,755.2 L1222.5,758.7 L1224.5,762.1 L1226.5,765.3 L1228.5,768.3 L1230.5,771.3 L1232.5,774.1 L1234.5,776.8 L1236.5,779.3 L1238.5,781.7 L1240.5,784.0 L1242.5,786.1 L1244.5,788.2 L1246.5,790.0 L1248.5,791.8 L1250.5,793.5 L1252.5,795.0 L1254.5,796.4 L1256.5,797.7 L1258.5,799.0 L1260.5,800.1 L1262.5,801.2 L1264.5,802.1 L1266.5,803.0 L1268.5,803.8 L1270.5,804.5 L1272.5,805.2 L1274.5,805.8 L1276.5,806.4 L1278.5,806.9 L1280.5,807.4 L1282.5,807.8 L1284.5,808.2 L1286.5,808.6 L1288.5,808.9 L1290.5,809.2 L1292.5,809.4 L1294.5,809.7 L1296.5,809.9 L1298.5,810.1 L1300.5,810.3 L1302.5,810.4 L1304.5,810.6 L1306.5,810.7 L1308.5,810.8 L1310.5,810.9 L1312.5,811.0 L1314.5,811.1 L1316.5,811.2 L1318.5,811.3 L1320.5,811.4 L1322.5,811.4" fill="none" stroke="#92bce6" stroke-width="4.5" stroke-linejoin="round"/>
<path d="M778.5,813.3 L780.5,813.3 L782.5,813.2 L784.5,813.2 L786.5,813.1 L788.5,813.1 L790.5,813.0 L792.5,813.0 L794.5,812.9 L796.5,812.9 L798.5,812.8 L800.5,812.8 L802.5,812.7 L804.5,812.7 L806.5,812.6 L808.5,812.6 L810.5,812.5 L812.5,812.5 L814.5,812.4 L816.5,812.4 L818.5,812.3 L820.5,812.3 L822.5,812.2 L824.5,812.2 L826.5,812.1 L828.5,812.1 L830.5,812.1 L832.5,812.1 L834.5,812.0 L836.5,812.0 L838.5,812.0 L840.5,812.0 L842.5,812.0 L844.5,812.0 L846.5,812.0 L848.5,812.0 L850.5,812.0 L852.5,812.0 L854.5,812.0 L856.5,812.0 L858.5,812.0 L860.5,812.0 L862.5,812.0 L864.5,812.1 L866.5,812.1 L868.5,812.1 L870.5,812.2 L872.5,812.2 L874.5,812.2 L876.5,812.3 L878.5,812.3 L880.5,812.4 L882.5,812.4 L884.5,812.5 L886.5,812.5 L888.5,812.6 L890.5,812.6 L892.5,812.7 L894.5,812.7 L896.5,812.8 L898.5,812.8 L900.5,812.9 L902.5,813.0 L904.5,813.0 L906.5,813.1 L908.5,813.1 L910.5,813.2 L912.5,813.2 L914.5,813.3" fill="none" stroke="#f57f10" stroke-width="3.6"/>
<rect x="777.6" y="1004.2" width="139.6" height="26.9" fill="#cde6b0" fill-opacity="0.8"/>
<line x1="776.5" y1="1018.3" x2="1324" y2="1018.3" stroke="#b4b4b4" stroke-width="2"/>
<g fill="url(#dotg)" opacity="0.9"><circle cx="778.5" cy="1011.5" r="3.9"/><circle cx="789.8" cy="1011.8" r="3.9"/><circle cx="801.1" cy="1011.0" r="3.9"/><circle cx="812.4" cy="1013.0" r="3.9"/><circle cx="823.7" cy="1020.1" r="3.9"/><circle cx="835.0" cy="1008.8" r="3.9"/><circle cx="846.3" cy="1017.8" r="3.9"/><circle cx="857.6" cy="1018.9" r="3.9"/><circle cx="868.9" cy="1013.2" r="3.9"/><circle cx="880.2" cy="1012.2" r="3.9"/><circle cx="891.5" cy="1016.6" r="3.9"/><circle cx="902.8" cy="1019.4" r="3.9"/><circle cx="914.1" cy="1022.7" r="3.9"/><circle cx="925.4" cy="1017.8" r="3.9"/><circle cx="936.7" cy="1019.6" r="3.9"/><circle cx="948.0" cy="1010.8" r="3.9"/><circle cx="959.3" cy="1007.1" r="3.9"/><circle cx="970.6" cy="1001.1" r="3.9"/><circle cx="981.9" cy="999.4" r="3.9"/><circle cx="993.2" cy="998.0" r="3.9"/><circle cx="1004.5" cy="995.6" r="3.9"/><circle cx="1015.8" cy="985.9" r="3.9"/><circle cx="1027.1" cy="989.8" r="3.9"/><circle cx="1038.4" cy="983.0" r="3.9"/><circle cx="1049.7" cy="977.3" r="3.9"/><circle cx="1061.0" cy="971.9" r="3.9"/><circle cx="1072.3" cy="974.4" r="3.9"/><circle cx="1083.6" cy="956.6" r="3.9"/><circle cx="1094.9" cy="937.6" r="3.9"/><circle cx="1106.2" cy="918.8" r="3.9"/><circle cx="1117.5" cy="908.7" r="3.9"/><circle cx="1128.8" cy="880.8" r="3.9"/><circle cx="1140.1" cy="872.3" r="3.9"/><circle cx="1151.4" cy="865.9" r="3.9"/><circle cx="1162.7" cy="854.6" r="3.9"/><circle cx="1174.0" cy="879.2" r="3.9"/><circle cx="1185.3" cy="891.9" r="3.9"/><circle cx="1196.6" cy="910.7" r="3.9"/><circle cx="1207.9" cy="935.2" r="3.9"/><circle cx="1219.2" cy="959.9" r="3.9"/><circle cx="1230.5" cy="976.8" r="3.9"/><circle cx="1241.8" cy="990.6" r="3.9"/><circle cx="1253.1" cy="996.3" r="3.9"/><circle cx="1264.4" cy="1010.3" r="3.9"/><circle cx="1275.7" cy="1015.4" r="3.9"/><circle cx="1287.0" cy="1019.2" r="3.9"/><circle cx="1298.3" cy="1017.8" r="3.9"/><circle cx="1309.6" cy="1022.0" r="3.9"/><circle cx="1320.9" cy="1023.3" r="3.9"/></g>
<path d="M776.5,1018.2 L778.5,1018.2 L780.5,1018.2 L782.5,1018.2 L784.5,1018.2 L786.5,1018.2 L788.5,1018.2 L790.5,1018.2 L792.5,1018.2 L794.5,1018.2 L796.5,1018.2 L798.5,1018.2 L800.5,1018.2 L802.5,1018.2 L804.5,1018.2 L806.5,1018.2 L808.5,1018.2 L810.5,1018.2 L812.5,1018.2 L814.5,1018.2 L816.5,1018.2 L818.5,1018.2 L820.5,1018.2 L822.5,1018.2 L824.5,1018.2 L826.5,1018.2 L828.5,1018.1 L830.5,1018.1 L832.5,1018.1 L834.5,1018.1 L836.5,1018.1 L838.5,1018.1 L840.5,1018.1 L842.5,1018.1 L844.5,1018.1 L846.5,1018.1 L848.5,1018.1 L850.5,1018.1 L852.5,1018.1 L854.5,1018.1 L856.5,1018.1 L858.5,1018.1 L860.5,1018.1 L862.5,1018.1 L864.5,1018.1 L866.5,1018.1 L868.5,1018.1 L870.5,1018.0 L872.5,1018.0 L874.5,1018.0 L876.5,1018.0 L878.5,1018.0 L880.5,1018.0 L882.5,1018.0 L884.5,1018.0 L886.5,1017.9 L888.5,1017.9 L890.5,1017.9 L892.5,1017.9 L894.5,1017.9 L896.5,1017.8 L898.5,1017.8 L900.5,1017.8 L902.5,1017.7 L904.5,1017.7 L906.5,1017.6 L908.5,1017.6 L910.5,1017.5 L912.5,1017.4 L914.5,1017.4 L916.5,1017.3 L918.5,1017.2 L920.5,1017.1 L922.5,1017.0 L924.5,1016.8 L926.5,1016.7 L928.5,1016.6 L930.5,1016.4 L932.5,1016.2 L934.5,1016.0 L936.5,1015.8 L938.5,1015.6 L940.5,1015.4 L942.5,1015.1 L944.5,1014.9 L946.5,1014.6 L948.5,1014.3 L950.5,1013.9 L952.5,1013.6 L954.5,1013.2 L956.5,1012.8 L958.5,1012.4 L960.5,1011.9 L962.5,1011.5 L964.5,1011.0 L966.5,1010.5 L968.5,1009.9 L970.5,1009.4 L972.5,1008.8 L974.5,1008.2 L976.5,1007.6 L978.5,1007.0 L980.5,1006.3 L982.5,1005.7 L984.5,1005.0 L986.5,1004.3 L988.5,1003.7 L990.5,1003.0 L992.5,1002.3 L994.5,1001.6 L996.5,1000.9 L998.5,1000.2 L1000.5,999.6 L1002.5,998.9 L1004.5,998.3 L1006.5,997.6 L1008.5,997.0 L1010.5,996.5 L1012.5,995.9 L1014.5,995.4 L1016.5,995.0 L1018.5,994.5 L1020.5,994.1 L1022.5,993.8 L1024.5,993.5 L1026.5,993.3 L1028.5,993.1 L1030.5,992.9 L1032.5,992.8 L1034.5,992.8 L1036.5,992.8 L1038.5,992.9 L1040.5,993.0 L1042.5,993.2 L1044.5,993.5 L1046.5,993.7 L1048.5,994.1 L1050.5,994.4 L1052.5,994.9 L1054.5,995.3 L1056.5,995.8 L1058.5,996.4 L1060.5,996.9 L1062.5,997.5 L1064.5,998.1 L1066.5,998.8 L1068.5,999.4 L1070.5,1000.1 L1072.5,1000.8 L1074.5,1001.5 L1076.5,1002.1 L1078.5,1002.8 L1080.5,1003.5 L1082.5,1004.2 L1084.5,1004.9 L1086.5,1005.5 L1088.5,1006.2 L1090.5,1006.9 L1092.5,1007.5 L1094.5,1008.1 L1096.5,1008.7 L1098.5,1009.3 L1100.5,1009.8 L1102.5,1010.4 L1104.5,1010.9 L1106.5,1011.4 L1108.5,1011.8 L1110.5,1012.3 L1112.5,1012.7 L1114.5,1013.1 L1116.5,1013.5 L1118.5,1013.9 L1120.5,1014.2 L1122.5,1014.5 L1124.5,1014.8 L1126.5,1015.1 L1128.5,1015.3 L1130.5,1015.6 L1132.5,1015.8 L1134.5,1016.0 L1136.5,1016.2 L1138.5,1016.4 L1140.5,1016.5 L1142.5,1016.7 L1144.5,1016.8 L1146.5,1016.9 L1148.5,1017.1 L1150.5,1017.2 L1152.5,1017.2 L1154.5,1017.3 L1156.5,1017.4 L1158.5,1017.5 L1160.5,1017.5 L1162.5,1017.6 L1164.5,1017.7 L1166.5,1017.7 L1168.5,1017.7 L1170.5,1017.8 L1172.5,1017.8 L1174.5,1017.8 L1176.5,1017.9 L1178.5,1017.9 L1180.5,1017.9 L1182.5,1017.9 L1184.5,1018.0 L1186.5,1018.0 L1188.5,1018.0 L1190.5,1018.0 L1192.5,1018.0 L1194.5,1018.0 L1196.5,1018.0 L1198.5,1018.0 L1200.5,1018.1 L1202.5,1018.1 L1204.5,1018.1 L1206.5,1018.1 L1208.5,1018.1 L1210.5,1018.1 L1212.5,1018.1 L1214.5,1018.1 L1216.5,1018.1 L1218.5,1018.1 L1220.5,1018.1 L1222.5,1018.1 L1224.5,1018.1 L1226.5,1018.1 L1228.5,1018.1 L1230.5,1018.1 L1232.5,1018.1 L1234.5,1018.1 L1236.5,1018.1 L1238.5,1018.1 L1240.5,1018.1 L1242.5,1018.2 L1244.5,1018.2 L1246.5,1018.2 L1248.5,1018.2 L1250.5,1018.2 L1252.5,1018.2 L1254.5,1018.2 L1256.5,1018.2 L1258.5,1018.2 L1260.5,1018.2 L1262.5,1018.2 L1264.5,1018.2 L1266.5,1018.2 L1268.5,1018.2 L1270.5,1018.2 L1272.5,1018.2 L1274.5,1018.2 L1276.5,1018.2 L1278.5,1018.2 L1280.5,1018.2 L1282.5,1018.2 L1284.5,1018.2 L1286.5,1018.2 L1288.5,1018.2 L1290.5,1018.2 L1292.5,1018.2 L1294.5,1018.2 L1296.5,1018.2 L1298.5,1018.2 L1300.5,1018.2 L1302.5,1018.2 L1304.5,1018.2 L1306.5,1018.2 L1308.5,1018.2 L1310.5,1018.2 L1312.5,1018.2 L1314.5,1018.2 L1316.5,1018.2 L1318.5,1018.2 L1320.5,1018.2 L1322.5,1018.2 L1322.5,1018.3 L1320.5,1018.3 L1318.5,1018.3 L1316.5,1018.3 L1314.5,1018.3 L1312.5,1018.3 L1310.5,1018.3 L1308.5,1018.3 L1306.5,1018.3 L1304.5,1018.3 L1302.5,1018.3 L1300.5,1018.3 L1298.5,1018.3 L1296.5,1018.3 L1294.5,1018.3 L1292.5,1018.3 L1290.5,1018.3 L1288.5,1018.3 L1286.5,1018.3 L1284.5,1018.3 L1282.5,1018.3 L1280.5,1018.3 L1278.5,1018.3 L1276.5,1018.3 L1274.5,1018.3 L1272.5,1018.3 L1270.5,1018.3 L1268.5,1018.3 L1266.5,1018.3 L1264.5,1018.3 L1262.5,1018.3 L1260.5,1018.3 L1258.5,1018.3 L1256.5,1018.3 L1254.5,1018.3 L1252.5,1018.3 L1250.5,1018.3 L1248.5,1018.3 L1246.5,1018.3 L1244.5,1018.3 L1242.5,1018.3 L1240.5,1018.3 L1238.5,1018.3 L1236.5,1018.3 L1234.5,1018.3 L1232.5,1018.3 L1230.5,1018.3 L1228.5,1018.3 L1226.5,1018.3 L1224.5,1018.3 L1222.5,1018.3 L1220.5,1018.3 L1218.5,1018.3 L1216.5,1018.3 L1214.5,1018.3 L1212.5,1018.3 L1210.5,1018.3 L1208.5,1018.3 L1206.5,1018.3 L1204.5,1018.3 L1202.5,1018.3 L1200.5,1018.3 L1198.5,1018.3 L1196.5,1018.3 L1194.5,1018.3 L1192.5,1018.3 L1190.5,1018.3 L1188.5,1018.3 L1186.5,1018.3 L1184.5,1018.3 L1182.5,1018.3 L1180.5,1018.3 L1178.5,1018.3 L1176.5,1018.3 L1174.5,1018.3 L1172.5,1018.3 L1170.5,1018.3 L1168.5,1018.3 L1166.5,1018.3 L1164.5,1018.3 L1162.5,1018.3 L1160.5,1018.3 L1158.5,1018.3 L1156.5,1018.3 L1154.5,1018.3 L1152.5,1018.3 L1150.5,1018.3 L1148.5,1018.3 L1146.5,1018.3 L1144.5,1018.3 L1142.5,1018.3 L1140.5,1018.3 L1138.5,1018.3 L1136.5,1018.3 L1134.5,1018.3 L1132.5,1018.3 L1130.5,1018.3 L1128.5,1018.3 L1126.5,1018.3 L1124.5,1018.3 L1122.5,1018.3 L1120.5,1018.3 L1118.5,1018.3 L1116.5,1018.3 L1114.5,1018.3 L1112.5,1018.3 L1110.5,1018.3 L1108.5,1018.3 L1106.5,1018.3 L1104.5,1018.3 L1102.5,1018.3 L1100.5,1018.3 L1098.5,1018.3 L1096.5,1018.3 L1094.5,1018.3 L1092.5,1018.3 L1090.5,1018.3 L1088.5,1018.3 L1086.5,1018.3 L1084.5,1018.3 L1082.5,1018.3 L1080.5,1018.3 L1078.5,1018.3 L1076.5,1018.3 L1074.5,1018.3 L1072.5,1018.3 L1070.5,1018.3 L1068.5,1018.3 L1066.5,1018.3 L1064.5,1018.3 L1062.5,1018.3 L1060.5,1018.3 L1058.5,1018.3 L1056.5,1018.3 L1054.5,1018.3 L1052.5,1018.3 L1050.5,1018.3 L1048.5,1018.3 L1046.5,1018.3 L1044.5,1018.3 L1042.5,1018.3 L1040.5,1018.3 L1038.5,1018.3 L1036.5,1018.3 L1034.5,1018.3 L1032.5,1018.3 L1030.5,1018.3 L1028.5,1018.3 L1026.5,1018.3 L1024.5,1018.3 L1022.5,1018.3 L1020.5,1018.3 L1018.5,1018.3 L1016.5,1018.3 L1014.5,1018.3 L1012.5,1018.3 L1010.5,1018.3 L1008.5,1018.3 L1006.5,1018.3 L1004.5,1018.3 L1002.5,1018.3 L1000.5,1018.3 L998.5,1018.3 L996.5,1018.3 L994.5,1018.3 L992.5,1018.3 L990.5,1018.3 L988.5,1018.3 L986.5,1018.3 L984.5,1018.3 L982.5,1018.3 L980.5,1018.3 L978.5,1018.3 L976.5,1018.3 L974.5,1018.3 L972.5,1018.3 L970.5,1018.3 L968.5,1018.3 L966.5,1018.3 L964.5,1018.3 L962.5,1018.3 L960.5,1018.3 L958.5,1018.3 L956.5,1018.3 L954.5,1018.3 L952.5,1018.3 L950.5,1018.3 L948.5,1018.3 L946.5,1018.3 L944.5,1018.3 L942.5,1018.3 L940.5,1018.3 L938.5,1018.3 L936.5,1018.3 L934.5,1018.3 L932.5,1018.3 L930.5,1018.3 L928.5,1018.3 L926.5,1018.3 L924.5,1018.3 L922.5,1018.3 L920.5,1018.3 L918.5,1018.3 L916.5,1018.3 L914.5,1018.3 L912.5,1018.3 L910.5,1018.3 L908.5,1018.3 L906.5,1018.3 L904.5,1018.3 L902.5,1018.3 L900.5,1018.3 L898.5,1018.3 L896.5,1018.3 L894.5,1018.3 L892.5,1018.3 L890.5,1018.3 L888.5,1018.3 L886.5,1018.3 L884.5,1018.3 L882.5,1018.3 L880.5,1018.3 L878.5,1018.3 L876.5,1018.3 L874.5,1018.3 L872.5,1018.3 L870.5,1018.3 L868.5,1018.3 L866.5,1018.3 L864.5,1018.3 L862.5,1018.3 L860.5,1018.3 L858.5,1018.3 L856.5,1018.3 L854.5,1018.3 L852.5,1018.3 L850.5,1018.3 L848.5,1018.3 L846.5,1018.3 L844.5,1018.3 L842.5,1018.3 L840.5,1018.3 L838.5,1018.3 L836.5,1018.3 L834.5,1018.3 L832.5,1018.3 L830.5,1018.3 L828.5,1018.3 L826.5,1018.3 L824.5,1018.3 L822.5,1018.3 L820.5,1018.3 L818.5,1018.3 L816.5,1018.3 L814.5,1018.3 L812.5,1018.3 L810.5,1018.3 L808.5,1018.3 L806.5,1018.3 L804.5,1018.3 L802.5,1018.3 L800.5,1018.3 L798.5,1018.3 L796.5,1018.3 L794.5,1018.3 L792.5,1018.3 L790.5,1018.3 L788.5,1018.3 L786.5,1018.3 L784.5,1018.3 L782.5,1018.3 L780.5,1018.3 L778.5,1018.3 L776.5,1018.3 Z" fill="url(#gCNe)" fill-opacity="0.75"/>
<path d="M776.5,1017.8 L778.5,1017.8 L780.5,1017.8 L782.5,1017.8 L784.5,1017.8 L786.5,1017.8 L788.5,1017.8 L790.5,1017.8 L792.5,1017.8 L794.5,1017.8 L796.5,1017.8 L798.5,1017.8 L800.5,1017.8 L802.5,1017.8 L804.5,1017.8 L806.5,1017.7 L808.5,1017.7 L810.5,1017.7 L812.5,1017.7 L814.5,1017.7 L816.5,1017.7 L818.5,1017.7 L820.5,1017.7 L822.5,1017.7 L824.5,1017.7 L826.5,1017.7 L828.5,1017.7 L830.5,1017.7 L832.5,1017.7 L834.5,1017.6 L836.5,1017.6 L838.5,1017.6 L840.5,1017.6 L842.5,1017.6 L844.5,1017.6 L846.5,1017.6 L848.5,1017.6 L850.5,1017.6 L852.5,1017.6 L854.5,1017.6 L856.5,1017.5 L858.5,1017.5 L860.5,1017.5 L862.5,1017.5 L864.5,1017.5 L866.5,1017.5 L868.5,1017.5 L870.5,1017.5 L872.5,1017.5 L874.5,1017.5 L876.5,1017.4 L878.5,1017.4 L880.5,1017.4 L882.5,1017.4 L884.5,1017.4 L886.5,1017.4 L888.5,1017.4 L890.5,1017.4 L892.5,1017.3 L894.5,1017.3 L896.5,1017.3 L898.5,1017.3 L900.5,1017.3 L902.5,1017.3 L904.5,1017.2 L906.5,1017.2 L908.5,1017.2 L910.5,1017.2 L912.5,1017.2 L914.5,1017.2 L916.5,1017.1 L918.5,1017.1 L920.5,1017.1 L922.5,1017.1 L924.5,1017.1 L926.5,1017.0 L928.5,1017.0 L930.5,1017.0 L932.5,1017.0 L934.5,1017.0 L936.5,1016.9 L938.5,1016.9 L940.5,1016.9 L942.5,1016.9 L944.5,1016.8 L946.5,1016.8 L948.5,1016.8 L950.5,1016.7 L952.5,1016.7 L954.5,1016.7 L956.5,1016.7 L958.5,1016.6 L960.5,1016.6 L962.5,1016.6 L964.5,1016.5 L966.5,1016.5 L968.5,1016.4 L970.5,1016.4 L972.5,1016.3 L974.5,1016.3 L976.5,1016.2 L978.5,1016.2 L980.5,1016.1 L982.5,1016.1 L984.5,1016.0 L986.5,1015.9 L988.5,1015.9 L990.5,1015.8 L992.5,1015.7 L994.5,1015.6 L996.5,1015.5 L998.5,1015.4 L1000.5,1015.2 L1002.5,1015.1 L1004.5,1015.0 L1006.5,1014.8 L1008.5,1014.6 L1010.5,1014.4 L1012.5,1014.2 L1014.5,1014.0 L1016.5,1013.7 L1018.5,1013.5 L1020.5,1013.2 L1022.5,1012.8 L1024.5,1012.5 L1026.5,1012.1 L1028.5,1011.6 L1030.5,1011.1 L1032.5,1010.6 L1034.5,1010.0 L1036.5,1009.4 L1038.5,1008.7 L1040.5,1008.0 L1042.5,1007.2 L1044.5,1006.3 L1046.5,1005.3 L1048.5,1004.3 L1050.5,1003.2 L1052.5,1002.0 L1054.5,1000.7 L1056.5,999.4 L1058.5,997.9 L1060.5,996.3 L1062.5,994.6 L1064.5,992.8 L1066.5,990.9 L1068.5,988.9 L1070.5,986.7 L1072.5,984.5 L1074.5,982.1 L1076.5,979.6 L1078.5,977.0 L1080.5,974.2 L1082.5,971.3 L1084.5,968.3 L1086.5,965.2 L1088.5,962.0 L1090.5,958.6 L1092.5,955.2 L1094.5,951.6 L1096.5,948.0 L1098.5,944.3 L1100.5,940.5 L1102.5,936.6 L1104.5,932.7 L1106.5,928.7 L1108.5,924.7 L1110.5,920.7 L1112.5,916.6 L1114.5,912.6 L1116.5,908.6 L1118.5,904.7 L1120.5,900.8 L1122.5,897.0 L1124.5,893.3 L1126.5,889.7 L1128.5,886.3 L1130.5,882.9 L1132.5,879.8 L1134.5,876.9 L1136.5,874.1 L1138.5,871.6 L1140.5,869.3 L1142.5,867.3 L1144.5,865.6 L1146.5,864.1 L1148.5,863.0 L1150.5,862.1 L1152.5,861.5 L1154.5,861.3 L1156.5,861.4 L1158.5,861.8 L1160.5,862.5 L1162.5,863.5 L1164.5,864.8 L1166.5,866.4 L1168.5,868.3 L1170.5,870.4 L1172.5,872.8 L1174.5,875.5 L1176.5,878.3 L1178.5,881.4 L1180.5,884.6 L1182.5,888.0 L1184.5,891.5 L1186.5,895.1 L1188.5,898.9 L1190.5,902.7 L1192.5,906.7 L1194.5,910.6 L1196.5,914.6 L1198.5,918.6 L1200.5,922.7 L1202.5,926.7 L1204.5,930.7 L1206.5,934.6 L1208.5,938.5 L1210.5,942.4 L1212.5,946.1 L1214.5,949.8 L1216.5,953.4 L1218.5,956.9 L1220.5,960.3 L1222.5,963.6 L1224.5,966.8 L1226.5,969.8 L1228.5,972.8 L1230.5,975.6 L1232.5,978.3 L1234.5,980.9 L1236.5,983.3 L1238.5,985.6 L1240.5,987.8 L1242.5,989.9 L1244.5,991.9 L1246.5,993.7 L1248.5,995.5 L1250.5,997.1 L1252.5,998.6 L1254.5,1000.1 L1256.5,1001.4 L1258.5,1002.6 L1260.5,1003.8 L1262.5,1004.8 L1264.5,1005.8 L1266.5,1006.7 L1268.5,1007.6 L1270.5,1008.3 L1272.5,1009.1 L1274.5,1009.7 L1276.5,1010.3 L1278.5,1010.9 L1280.5,1011.4 L1282.5,1011.8 L1284.5,1012.3 L1286.5,1012.6 L1288.5,1013.0 L1290.5,1013.3 L1292.5,1013.6 L1294.5,1013.9 L1296.5,1014.1 L1298.5,1014.3 L1300.5,1014.5 L1302.5,1014.7 L1304.5,1014.9 L1306.5,1015.0 L1308.5,1015.2 L1310.5,1015.3 L1312.5,1015.4 L1314.5,1015.5 L1316.5,1015.6 L1318.5,1015.7 L1320.5,1015.8 L1322.5,1015.9 L1322.5,1018.3 L1320.5,1018.3 L1318.5,1018.3 L1316.5,1018.3 L1314.5,1018.3 L1312.5,1018.3 L1310.5,1018.3 L1308.5,1018.3 L1306.5,1018.3 L1304.5,1018.3 L1302.5,1018.3 L1300.5,1018.3 L1298.5,1018.3 L1296.5,1018.3 L1294.5,1018.3 L1292.5,1018.3 L1290.5,1018.3 L1288.5,1018.3 L1286.5,1018.3 L1284.5,1018.3 L1282.5,1018.3 L1280.5,1018.3 L1278.5,1018.3 L1276.5,1018.3 L1274.5,1018.3 L1272.5,1018.3 L1270.5,1018.3 L1268.5,1018.3 L1266.5,1018.3 L1264.5,1018.3 L1262.5,1018.3 L1260.5,1018.3 L1258.5,1018.3 L1256.5,1018.3 L1254.5,1018.3 L1252.5,1018.3 L1250.5,1018.3 L1248.5,1018.3 L1246.5,1018.3 L1244.5,1018.3 L1242.5,1018.3 L1240.5,1018.3 L1238.5,1018.3 L1236.5,1018.3 L1234.5,1018.3 L1232.5,1018.3 L1230.5,1018.3 L1228.5,1018.3 L1226.5,1018.3 L1224.5,1018.3 L1222.5,1018.3 L1220.5,1018.3 L1218.5,1018.3 L1216.5,1018.3 L1214.5,1018.3 L1212.5,1018.3 L1210.5,1018.3 L1208.5,1018.3 L1206.5,1018.3 L1204.5,1018.3 L1202.5,1018.3 L1200.5,1018.3 L1198.5,1018.3 L1196.5,1018.3 L1194.5,1018.3 L1192.5,1018.3 L1190.5,1018.3 L1188.5,1018.3 L1186.5,1018.3 L1184.5,1018.3 L1182.5,1018.3 L1180.5,1018.3 L1178.5,1018.3 L1176.5,1018.3 L1174.5,1018.3 L1172.5,1018.3 L1170.5,1018.3 L1168.5,1018.3 L1166.5,1018.3 L1164.5,1018.3 L1162.5,1018.3 L1160.5,1018.3 L1158.5,1018.3 L1156.5,1018.3 L1154.5,1018.3 L1152.5,1018.3 L1150.5,1018.3 L1148.5,1018.3 L1146.5,1018.3 L1144.5,1018.3 L1142.5,1018.3 L1140.5,1018.3 L1138.5,1018.3 L1136.5,1018.3 L1134.5,1018.3 L1132.5,1018.3 L1130.5,1018.3 L1128.5,1018.3 L1126.5,1018.3 L1124.5,1018.3 L1122.5,1018.3 L1120.5,1018.3 L1118.5,1018.3 L1116.5,1018.3 L1114.5,1018.3 L1112.5,1018.3 L1110.5,1018.3 L1108.5,1018.3 L1106.5,1018.3 L1104.5,1018.3 L1102.5,1018.3 L1100.5,1018.3 L1098.5,1018.3 L1096.5,1018.3 L1094.5,1018.3 L1092.5,1018.3 L1090.5,1018.3 L1088.5,1018.3 L1086.5,1018.3 L1084.5,1018.3 L1082.5,1018.3 L1080.5,1018.3 L1078.5,1018.3 L1076.5,1018.3 L1074.5,1018.3 L1072.5,1018.3 L1070.5,1018.3 L1068.5,1018.3 L1066.5,1018.3 L1064.5,1018.3 L1062.5,1018.3 L1060.5,1018.3 L1058.5,1018.3 L1056.5,1018.3 L1054.5,1018.3 L1052.5,1018.3 L1050.5,1018.3 L1048.5,1018.3 L1046.5,1018.3 L1044.5,1018.3 L1042.5,1018.3 L1040.5,1018.3 L1038.5,1018.3 L1036.5,1018.3 L1034.5,1018.3 L1032.5,1018.3 L1030.5,1018.3 L1028.5,1018.3 L1026.5,1018.3 L1024.5,1018.3 L1022.5,1018.3 L1020.5,1018.3 L1018.5,1018.3 L1016.5,1018.3 L1014.5,1018.3 L1012.5,1018.3 L1010.5,1018.3 L1008.5,1018.3 L1006.5,1018.3 L1004.5,1018.3 L1002.5,1018.3 L1000.5,1018.3 L998.5,1018.3 L996.5,1018.3 L994.5,1018.3 L992.5,1018.3 L990.5,1018.3 L988.5,1018.3 L986.5,1018.3 L984.5,1018.3 L982.5,1018.3 L980.5,1018.3 L978.5,1018.3 L976.5,1018.3 L974.5,1018.3 L972.5,1018.3 L970.5,1018.3 L968.5,1018.3 L966.5,1018.3 L964.5,1018.3 L962.5,1018.3 L960.5,1018.3 L958.5,1018.3 L956.5,1018.3 L954.5,1018.3 L952.5,1018.3 L950.5,1018.3 L948.5,1018.3 L946.5,1018.3 L944.5,1018.3 L942.5,1018.3 L940.5,1018.3 L938.5,1018.3 L936.5,1018.3 L934.5,1018.3 L932.5,1018.3 L930.5,1018.3 L928.5,1018.3 L926.5,1018.3 L924.5,1018.3 L922.5,1018.3 L920.5,1018.3 L918.5,1018.3 L916.5,1018.3 L914.5,1018.3 L912.5,1018.3 L910.5,1018.3 L908.5,1018.3 L906.5,1018.3 L904.5,1018.3 L902.5,1018.3 L900.5,1018.3 L898.5,1018.3 L896.5,1018.3 L894.5,1018.3 L892.5,1018.3 L890.5,1018.3 L888.5,1018.3 L886.5,1018.3 L884.5,1018.3 L882.5,1018.3 L880.5,1018.3 L878.5,1018.3 L876.5,1018.3 L874.5,1018.3 L872.5,1018.3 L870.5,1018.3 L868.5,1018.3 L866.5,1018.3 L864.5,1018.3 L862.5,1018.3 L860.5,1018.3 L858.5,1018.3 L856.5,1018.3 L854.5,1018.3 L852.5,1018.3 L850.5,1018.3 L848.5,1018.3 L846.5,1018.3 L844.5,1018.3 L842.5,1018.3 L840.5,1018.3 L838.5,1018.3 L836.5,1018.3 L834.5,1018.3 L832.5,1018.3 L830.5,1018.3 L828.5,1018.3 L826.5,1018.3 L824.5,1018.3 L822.5,1018.3 L820.5,1018.3 L818.5,1018.3 L816.5,1018.3 L814.5,1018.3 L812.5,1018.3 L810.5,1018.3 L808.5,1018.3 L806.5,1018.3 L804.5,1018.3 L802.5,1018.3 L800.5,1018.3 L798.5,1018.3 L796.5,1018.3 L794.5,1018.3 L792.5,1018.3 L790.5,1018.3 L788.5,1018.3 L786.5,1018.3 L784.5,1018.3 L782.5,1018.3 L780.5,1018.3 L778.5,1018.3 L776.5,1018.3 Z" fill="url(#gCC)" fill-opacity="0.75"/>
<path d="M776.5,1017.2 L778.5,1017.2 L780.5,1017.1 L782.5,1017.0 L784.5,1017.0 L786.5,1016.9 L788.5,1016.8 L790.5,1016.8 L792.5,1016.7 L794.5,1016.6 L796.5,1016.5 L798.5,1016.5 L800.5,1016.4 L802.5,1016.3 L804.5,1016.2 L806.5,1016.2 L808.5,1016.1 L810.5,1016.0 L812.5,1016.0 L814.5,1015.9 L816.5,1015.8 L818.5,1015.8 L820.5,1015.7 L822.5,1015.7 L824.5,1015.6 L826.5,1015.6 L828.5,1015.5 L830.5,1015.5 L832.5,1015.4 L834.5,1015.4 L836.5,1015.4 L838.5,1015.4 L840.5,1015.3 L842.5,1015.3 L844.5,1015.3 L846.5,1015.3 L848.5,1015.3 L850.5,1015.3 L852.5,1015.3 L854.5,1015.3 L856.5,1015.3 L858.5,1015.4 L860.5,1015.4 L862.5,1015.4 L864.5,1015.5 L866.5,1015.5 L868.5,1015.5 L870.5,1015.6 L872.5,1015.6 L874.5,1015.7 L876.5,1015.7 L878.5,1015.8 L880.5,1015.9 L882.5,1015.9 L884.5,1016.0 L886.5,1016.1 L888.5,1016.1 L890.5,1016.2 L892.5,1016.3 L894.5,1016.4 L896.5,1016.4 L898.5,1016.5 L900.5,1016.6 L902.5,1016.6 L904.5,1016.7 L906.5,1016.8 L908.5,1016.9 L910.5,1016.9 L912.5,1017.0 L914.5,1017.1 L916.5,1017.1 L918.5,1017.2 L920.5,1017.3 L922.5,1017.3 L924.5,1017.4 L926.5,1017.4 L928.5,1017.5 L930.5,1017.5 L932.5,1017.6 L934.5,1017.6 L936.5,1017.7 L938.5,1017.7 L940.5,1017.8 L942.5,1017.8 L944.5,1017.8 L946.5,1017.9 L948.5,1017.9 L950.5,1017.9 L952.5,1018.0 L954.5,1018.0 L956.5,1018.0 L958.5,1018.0 L960.5,1018.1 L962.5,1018.1 L964.5,1018.1 L966.5,1018.1 L968.5,1018.1 L970.5,1018.2 L972.5,1018.2 L974.5,1018.2 L976.5,1018.2 L978.5,1018.2 L980.5,1018.2 L982.5,1018.2 L984.5,1018.2 L986.5,1018.2 L988.5,1018.2 L990.5,1018.2 L992.5,1018.3 L994.5,1018.3 L996.5,1018.3 L998.5,1018.3 L1000.5,1018.3 L1002.5,1018.3 L1004.5,1018.3 L1006.5,1018.3 L1008.5,1018.3 L1010.5,1018.3 L1012.5,1018.3 L1014.5,1018.3 L1016.5,1018.3 L1018.5,1018.3 L1020.5,1018.3 L1022.5,1018.3 L1024.5,1018.3 L1026.5,1018.3 L1028.5,1018.3 L1030.5,1018.3 L1032.5,1018.3 L1034.5,1018.3 L1036.5,1018.3 L1038.5,1018.3 L1040.5,1018.3 L1042.5,1018.3 L1044.5,1018.3 L1046.5,1018.3 L1048.5,1018.3 L1050.5,1018.3 L1052.5,1018.3 L1054.5,1018.3 L1056.5,1018.3 L1058.5,1018.3 L1060.5,1018.3 L1062.5,1018.3 L1064.5,1018.3 L1066.5,1018.3 L1068.5,1018.3 L1070.5,1018.3 L1072.5,1018.3 L1074.5,1018.3 L1076.5,1018.3 L1078.5,1018.3 L1080.5,1018.3 L1082.5,1018.3 L1084.5,1018.3 L1086.5,1018.3 L1088.5,1018.3 L1090.5,1018.3 L1092.5,1018.3 L1094.5,1018.3 L1096.5,1018.3 L1098.5,1018.3 L1100.5,1018.3 L1102.5,1018.3 L1104.5,1018.3 L1106.5,1018.3 L1108.5,1018.3 L1110.5,1018.3 L1112.5,1018.3 L1114.5,1018.3 L1116.5,1018.3 L1118.5,1018.3 L1120.5,1018.3 L1122.5,1018.3 L1124.5,1018.3 L1126.5,1018.3 L1128.5,1018.3 L1130.5,1018.3 L1132.5,1018.3 L1134.5,1018.3 L1136.5,1018.3 L1138.5,1018.3 L1140.5,1018.3 L1142.5,1018.3 L1144.5,1018.3 L1146.5,1018.3 L1148.5,1018.3 L1150.5,1018.3 L1152.5,1018.3 L1154.5,1018.3 L1156.5,1018.3 L1158.5,1018.3 L1160.5,1018.3 L1162.5,1018.3 L1164.5,1018.3 L1166.5,1018.3 L1168.5,1018.3 L1170.5,1018.3 L1172.5,1018.3 L1174.5,1018.3 L1176.5,1018.3 L1178.5,1018.3 L1180.5,1018.3 L1182.5,1018.3 L1184.5,1018.3 L1186.5,1018.3 L1188.5,1018.3 L1190.5,1018.3 L1192.5,1018.3 L1194.5,1018.3 L1196.5,1018.3 L1198.5,1018.3 L1200.5,1018.3 L1202.5,1018.3 L1204.5,1018.3 L1206.5,1018.3 L1208.5,1018.3 L1210.5,1018.3 L1212.5,1018.3 L1214.5,1018.3 L1216.5,1018.3 L1218.5,1018.3 L1220.5,1018.3 L1222.5,1018.3 L1224.5,1018.3 L1226.5,1018.3 L1228.5,1018.3 L1230.5,1018.3 L1232.5,1018.3 L1234.5,1018.3 L1236.5,1018.3 L1238.5,1018.3 L1240.5,1018.3 L1242.5,1018.3 L1244.5,1018.3 L1246.5,1018.3 L1248.5,1018.3 L1250.5,1018.3 L1252.5,1018.3 L1254.5,1018.3 L1256.5,1018.3 L1258.5,1018.3 L1260.5,1018.3 L1262.5,1018.3 L1264.5,1018.3 L1266.5,1018.3 L1268.5,1018.3 L1270.5,1018.3 L1272.5,1018.3 L1274.5,1018.3 L1276.5,1018.3 L1278.5,1018.3 L1280.5,1018.3 L1282.5,1018.3 L1284.5,1018.3 L1286.5,1018.3 L1288.5,1018.3 L1290.5,1018.3 L1292.5,1018.3 L1294.5,1018.3 L1296.5,1018.3 L1298.5,1018.3 L1300.5,1018.3 L1302.5,1018.3 L1304.5,1018.3 L1306.5,1018.3 L1308.5,1018.3 L1310.5,1018.3 L1312.5,1018.3 L1314.5,1018.3 L1316.5,1018.3 L1318.5,1018.3 L1320.5,1018.3 L1322.5,1018.3 L1322.5,1018.3 L1320.5,1018.3 L1318.5,1018.3 L1316.5,1018.3 L1314.5,1018.3 L1312.5,1018.3 L1310.5,1018.3 L1308.5,1018.3 L1306.5,1018.3 L1304.5,1018.3 L1302.5,1018.3 L1300.5,1018.3 L1298.5,1018.3 L1296.5,1018.3 L1294.5,1018.3 L1292.5,1018.3 L1290.5,1018.3 L1288.5,1018.3 L1286.5,1018.3 L1284.5,1018.3 L1282.5,1018.3 L1280.5,1018.3 L1278.5,1018.3 L1276.5,1018.3 L1274.5,1018.3 L1272.5,1018.3 L1270.5,1018.3 L1268.5,1018.3 L1266.5,1018.3 L1264.5,1018.3 L1262.5,1018.3 L1260.5,1018.3 L1258.5,1018.3 L1256.5,1018.3 L1254.5,1018.3 L1252.5,1018.3 L1250.5,1018.3 L1248.5,1018.3 L1246.5,1018.3 L1244.5,1018.3 L1242.5,1018.3 L1240.5,1018.3 L1238.5,1018.3 L1236.5,1018.3 L1234.5,1018.3 L1232.5,1018.3 L1230.5,1018.3 L1228.5,1018.3 L1226.5,1018.3 L1224.5,1018.3 L1222.5,1018.3 L1220.5,1018.3 L1218.5,1018.3 L1216.5,1018.3 L1214.5,1018.3 L1212.5,1018.3 L1210.5,1018.3 L1208.5,1018.3 L1206.5,1018.3 L1204.5,1018.3 L1202.5,1018.3 L1200.5,1018.3 L1198.5,1018.3 L1196.5,1018.3 L1194.5,1018.3 L1192.5,1018.3 L1190.5,1018.3 L1188.5,1018.3 L1186.5,1018.3 L1184.5,1018.3 L1182.5,1018.3 L1180.5,1018.3 L1178.5,1018.3 L1176.5,1018.3 L1174.5,1018.3 L1172.5,1018.3 L1170.5,1018.3 L1168.5,1018.3 L1166.5,1018.3 L1164.5,1018.3 L1162.5,1018.3 L1160.5,1018.3 L1158.5,1018.3 L1156.5,1018.3 L1154.5,1018.3 L1152.5,1018.3 L1150.5,1018.3 L1148.5,1018.3 L1146.5,1018.3 L1144.5,1018.3 L1142.5,1018.3 L1140.5,1018.3 L1138.5,1018.3 L1136.5,1018.3 L1134.5,1018.3 L1132.5,1018.3 L1130.5,1018.3 L1128.5,1018.3 L1126.5,1018.3 L1124.5,1018.3 L1122.5,1018.3 L1120.5,1018.3 L1118.5,1018.3 L1116.5,1018.3 L1114.5,1018.3 L1112.5,1018.3 L1110.5,1018.3 L1108.5,1018.3 L1106.5,1018.3 L1104.5,1018.3 L1102.5,1018.3 L1100.5,1018.3 L1098.5,1018.3 L1096.5,1018.3 L1094.5,1018.3 L1092.5,1018.3 L1090.5,1018.3 L1088.5,1018.3 L1086.5,1018.3 L1084.5,1018.3 L1082.5,1018.3 L1080.5,1018.3 L1078.5,1018.3 L1076.5,1018.3 L1074.5,1018.3 L1072.5,1018.3 L1070.5,1018.3 L1068.5,1018.3 L1066.5,1018.3 L1064.5,1018.3 L1062.5,1018.3 L1060.5,1018.3 L1058.5,1018.3 L1056.5,1018.3 L1054.5,1018.3 L1052.5,1018.3 L1050.5,1018.3 L1048.5,1018.3 L1046.5,1018.3 L1044.5,1018.3 L1042.5,1018.3 L1040.5,1018.3 L1038.5,1018.3 L1036.5,1018.3 L1034.5,1018.3 L1032.5,1018.3 L1030.5,1018.3 L1028.5,1018.3 L1026.5,1018.3 L1024.5,1018.3 L1022.5,1018.3 L1020.5,1018.3 L1018.5,1018.3 L1016.5,1018.3 L1014.5,1018.3 L1012.5,1018.3 L1010.5,1018.3 L1008.5,1018.3 L1006.5,1018.3 L1004.5,1018.3 L1002.5,1018.3 L1000.5,1018.3 L998.5,1018.3 L996.5,1018.3 L994.5,1018.3 L992.5,1018.3 L990.5,1018.3 L988.5,1018.3 L986.5,1018.3 L984.5,1018.3 L982.5,1018.3 L980.5,1018.3 L978.5,1018.3 L976.5,1018.3 L974.5,1018.3 L972.5,1018.3 L970.5,1018.3 L968.5,1018.3 L966.5,1018.3 L964.5,1018.3 L962.5,1018.3 L960.5,1018.3 L958.5,1018.3 L956.5,1018.3 L954.5,1018.3 L952.5,1018.3 L950.5,1018.3 L948.5,1018.3 L946.5,1018.3 L944.5,1018.3 L942.5,1018.3 L940.5,1018.3 L938.5,1018.3 L936.5,1018.3 L934.5,1018.3 L932.5,1018.3 L930.5,1018.3 L928.5,1018.3 L926.5,1018.3 L924.5,1018.3 L922.5,1018.3 L920.5,1018.3 L918.5,1018.3 L916.5,1018.3 L914.5,1018.3 L912.5,1018.3 L910.5,1018.3 L908.5,1018.3 L906.5,1018.3 L904.5,1018.3 L902.5,1018.3 L900.5,1018.3 L898.5,1018.3 L896.5,1018.3 L894.5,1018.3 L892.5,1018.3 L890.5,1018.3 L888.5,1018.3 L886.5,1018.3 L884.5,1018.3 L882.5,1018.3 L880.5,1018.3 L878.5,1018.3 L876.5,1018.3 L874.5,1018.3 L872.5,1018.3 L870.5,1018.3 L868.5,1018.3 L866.5,1018.3 L864.5,1018.3 L862.5,1018.3 L860.5,1018.3 L858.5,1018.3 L856.5,1018.3 L854.5,1018.3 L852.5,1018.3 L850.5,1018.3 L848.5,1018.3 L846.5,1018.3 L844.5,1018.3 L842.5,1018.3 L840.5,1018.3 L838.5,1018.3 L836.5,1018.3 L834.5,1018.3 L832.5,1018.3 L830.5,1018.3 L828.5,1018.3 L826.5,1018.3 L824.5,1018.3 L822.5,1018.3 L820.5,1018.3 L818.5,1018.3 L816.5,1018.3 L814.5,1018.3 L812.5,1018.3 L810.5,1018.3 L808.5,1018.3 L806.5,1018.3 L804.5,1018.3 L802.5,1018.3 L800.5,1018.3 L798.5,1018.3 L796.5,1018.3 L794.5,1018.3 L792.5,1018.3 L790.5,1018.3 L788.5,1018.3 L786.5,1018.3 L784.5,1018.3 L782.5,1018.3 L780.5,1018.3 L778.5,1018.3 L776.5,1018.3 Z" fill="#f08020"/>
<path d="M776.5,1018.2 L778.5,1018.2 L780.5,1018.2 L782.5,1018.2 L784.5,1018.2 L786.5,1018.2 L788.5,1018.2 L790.5,1018.2 L792.5,1018.2 L794.5,1018.2 L796.5,1018.2 L798.5,1018.2 L800.5,1018.2 L802.5,1018.2 L804.5,1018.2 L806.5,1018.2 L808.5,1018.2 L810.5,1018.2 L812.5,1018.2 L814.5,1018.2 L816.5,1018.2 L818.5,1018.2 L820.5,1018.2 L822.5,1018.2 L824.5,1018.2 L826.5,1018.2 L828.5,1018.1 L830.5,1018.1 L832.5,1018.1 L834.5,1018.1 L836.5,1018.1 L838.5,1018.1 L840.5,1018.1 L842.5,1018.1 L844.5,1018.1 L846.5,1018.1 L848.5,1018.1 L850.5,1018.1 L852.5,1018.1 L854.5,1018.1 L856.5,1018.1 L858.5,1018.1 L860.5,1018.1 L862.5,1018.1 L864.5,1018.1 L866.5,1018.1 L868.5,1018.1 L870.5,1018.0 L872.5,1018.0 L874.5,1018.0 L876.5,1018.0 L878.5,1018.0 L880.5,1018.0 L882.5,1018.0 L884.5,1018.0 L886.5,1017.9 L888.5,1017.9 L890.5,1017.9 L892.5,1017.9 L894.5,1017.9 L896.5,1017.8 L898.5,1017.8 L900.5,1017.8 L902.5,1017.7 L904.5,1017.7 L906.5,1017.6 L908.5,1017.6 L910.5,1017.5 L912.5,1017.4 L914.5,1017.4 L916.5,1017.3 L918.5,1017.2 L920.5,1017.1 L922.5,1017.0 L924.5,1016.8 L926.5,1016.7 L928.5,1016.6 L930.5,1016.4 L932.5,1016.2 L934.5,1016.0 L936.5,1015.8 L938.5,1015.6 L940.5,1015.4 L942.5,1015.1 L944.5,1014.9 L946.5,1014.6 L948.5,1014.3 L950.5,1013.9 L952.5,1013.6 L954.5,1013.2 L956.5,1012.8 L958.5,1012.4 L960.5,1011.9 L962.5,1011.5 L964.5,1011.0 L966.5,1010.5 L968.5,1009.9 L970.5,1009.4 L972.5,1008.8 L974.5,1008.2 L976.5,1007.6 L978.5,1007.0 L980.5,1006.3 L982.5,1005.7 L984.5,1005.0 L986.5,1004.3 L988.5,1003.7 L990.5,1003.0 L992.5,1002.3 L994.5,1001.6 L996.5,1000.9 L998.5,1000.2 L1000.5,999.6 L1002.5,998.9 L1004.5,998.3 L1006.5,997.6 L1008.5,997.0 L1010.5,996.5 L1012.5,995.9 L1014.5,995.4 L1016.5,995.0 L1018.5,994.5 L1020.5,994.1 L1022.5,993.8 L1024.5,993.5 L1026.5,993.3 L1028.5,993.1 L1030.5,992.9 L1032.5,992.8 L1034.5,992.8 L1036.5,992.8 L1038.5,992.9 L1040.5,993.0 L1042.5,993.2 L1044.5,993.5 L1046.5,993.7 L1048.5,994.1 L1050.5,994.4 L1052.5,994.9 L1054.5,995.3 L1056.5,995.8 L1058.5,996.4 L1060.5,996.9 L1062.5,997.5 L1064.5,998.1 L1066.5,998.8 L1068.5,999.4 L1070.5,1000.1 L1072.5,1000.8 L1074.5,1001.5 L1076.5,1002.1 L1078.5,1002.8 L1080.5,1003.5 L1082.5,1004.2 L1084.5,1004.9 L1086.5,1005.5 L1088.5,1006.2 L1090.5,1006.9 L1092.5,1007.5 L1094.5,1008.1 L1096.5,1008.7 L1098.5,1009.3 L1100.5,1009.8 L1102.5,1010.4 L1104.5,1010.9 L1106.5,1011.4 L1108.5,1011.8 L1110.5,1012.3 L1112.5,1012.7 L1114.5,1013.1 L1116.5,1013.5 L1118.5,1013.9 L1120.5,1014.2 L1122.5,1014.5 L1124.5,1014.8 L1126.5,1015.1 L1128.5,1015.3 L1130.5,1015.6 L1132.5,1015.8 L1134.5,1016.0 L1136.5,1016.2 L1138.5,1016.4 L1140.5,1016.5 L1142.5,1016.7 L1144.5,1016.8 L1146.5,1016.9 L1148.5,1017.1 L1150.5,1017.2 L1152.5,1017.2 L1154.5,1017.3 L1156.5,1017.4 L1158.5,1017.5 L1160.5,1017.5 L1162.5,1017.6 L1164.5,1017.7 L1166.5,1017.7 L1168.5,1017.7 L1170.5,1017.8 L1172.5,1017.8 L1174.5,1017.8 L1176.5,1017.9 L1178.5,1017.9 L1180.5,1017.9 L1182.5,1017.9 L1184.5,1018.0 L1186.5,1018.0 L1188.5,1018.0 L1190.5,1018.0 L1192.5,1018.0 L1194.5,1018.0 L1196.5,1018.0 L1198.5,1018.0 L1200.5,1018.1 L1202.5,1018.1 L1204.5,1018.1 L1206.5,1018.1 L1208.5,1018.1 L1210.5,1018.1 L1212.5,1018.1 L1214.5,1018.1 L1216.5,1018.1 L1218.5,1018.1 L1220.5,1018.1 L1222.5,1018.1 L1224.5,1018.1 L1226.5,1018.1 L1228.5,1018.1 L1230.5,1018.1 L1232.5,1018.1 L1234.5,1018.1 L1236.5,1018.1 L1238.5,1018.1 L1240.5,1018.1 L1242.5,1018.2 L1244.5,1018.2 L1246.5,1018.2 L1248.5,1018.2 L1250.5,1018.2 L1252.5,1018.2 L1254.5,1018.2 L1256.5,1018.2 L1258.5,1018.2 L1260.5,1018.2 L1262.5,1018.2 L1264.5,1018.2 L1266.5,1018.2 L1268.5,1018.2 L1270.5,1018.2 L1272.5,1018.2 L1274.5,1018.2 L1276.5,1018.2 L1278.5,1018.2 L1280.5,1018.2 L1282.5,1018.2 L1284.5,1018.2 L1286.5,1018.2 L1288.5,1018.2 L1290.5,1018.2 L1292.5,1018.2 L1294.5,1018.2 L1296.5,1018.2 L1298.5,1018.2 L1300.5,1018.2 L1302.5,1018.2 L1304.5,1018.2 L1306.5,1018.2 L1308.5,1018.2 L1310.5,1018.2 L1312.5,1018.2 L1314.5,1018.2 L1316.5,1018.2 L1318.5,1018.2 L1320.5,1018.2 L1322.5,1018.2" fill="none" stroke="#7fb2e6" stroke-width="1.6"/>
<path d="M776.5,1017.8 L778.5,1017.8 L780.5,1017.8 L782.5,1017.8 L784.5,1017.8 L786.5,1017.8 L788.5,1017.8 L790.5,1017.8 L792.5,1017.8 L794.5,1017.8 L796.5,1017.8 L798.5,1017.8 L800.5,1017.8 L802.5,1017.8 L804.5,1017.8 L806.5,1017.7 L808.5,1017.7 L810.5,1017.7 L812.5,1017.7 L814.5,1017.7 L816.5,1017.7 L818.5,1017.7 L820.5,1017.7 L822.5,1017.7 L824.5,1017.7 L826.5,1017.7 L828.5,1017.7 L830.5,1017.7 L832.5,1017.7 L834.5,1017.6 L836.5,1017.6 L838.5,1017.6 L840.5,1017.6 L842.5,1017.6 L844.5,1017.6 L846.5,1017.6 L848.5,1017.6 L850.5,1017.6 L852.5,1017.6 L854.5,1017.6 L856.5,1017.5 L858.5,1017.5 L860.5,1017.5 L862.5,1017.5 L864.5,1017.5 L866.5,1017.5 L868.5,1017.5 L870.5,1017.5 L872.5,1017.5 L874.5,1017.5 L876.5,1017.4 L878.5,1017.4 L880.5,1017.4 L882.5,1017.4 L884.5,1017.4 L886.5,1017.4 L888.5,1017.4 L890.5,1017.4 L892.5,1017.3 L894.5,1017.3 L896.5,1017.3 L898.5,1017.3 L900.5,1017.3 L902.5,1017.3 L904.5,1017.2 L906.5,1017.2 L908.5,1017.2 L910.5,1017.2 L912.5,1017.2 L914.5,1017.2 L916.5,1017.1 L918.5,1017.1 L920.5,1017.1 L922.5,1017.1 L924.5,1017.1 L926.5,1017.0 L928.5,1017.0 L930.5,1017.0 L932.5,1017.0 L934.5,1017.0 L936.5,1016.9 L938.5,1016.9 L940.5,1016.9 L942.5,1016.9 L944.5,1016.8 L946.5,1016.8 L948.5,1016.8 L950.5,1016.7 L952.5,1016.7 L954.5,1016.7 L956.5,1016.7 L958.5,1016.6 L960.5,1016.6 L962.5,1016.6 L964.5,1016.5 L966.5,1016.5 L968.5,1016.4 L970.5,1016.4 L972.5,1016.3 L974.5,1016.3 L976.5,1016.2 L978.5,1016.2 L980.5,1016.1 L982.5,1016.1 L984.5,1016.0 L986.5,1015.9 L988.5,1015.9 L990.5,1015.8 L992.5,1015.7 L994.5,1015.6 L996.5,1015.5 L998.5,1015.4 L1000.5,1015.2 L1002.5,1015.1 L1004.5,1015.0 L1006.5,1014.8 L1008.5,1014.6 L1010.5,1014.4 L1012.5,1014.2 L1014.5,1014.0 L1016.5,1013.7 L1018.5,1013.5 L1020.5,1013.2 L1022.5,1012.8 L1024.5,1012.5 L1026.5,1012.1 L1028.5,1011.6 L1030.5,1011.1 L1032.5,1010.6 L1034.5,1010.0 L1036.5,1009.4 L1038.5,1008.7 L1040.5,1008.0 L1042.5,1007.2 L1044.5,1006.3 L1046.5,1005.3 L1048.5,1004.3 L1050.5,1003.2 L1052.5,1002.0 L1054.5,1000.7 L1056.5,999.4 L1058.5,997.9 L1060.5,996.3 L1062.5,994.6 L1064.5,992.8 L1066.5,990.9 L1068.5,988.9 L1070.5,986.7 L1072.5,984.5 L1074.5,982.1 L1076.5,979.6 L1078.5,977.0 L1080.5,974.2 L1082.5,971.3 L1084.5,968.3 L1086.5,965.2 L1088.5,962.0 L1090.5,958.6 L1092.5,955.2 L1094.5,951.6 L1096.5,948.0 L1098.5,944.3 L1100.5,940.5 L1102.5,936.6 L1104.5,932.7 L1106.5,928.7 L1108.5,924.7 L1110.5,920.7 L1112.5,916.6 L1114.5,912.6 L1116.5,908.6 L1118.5,904.7 L1120.5,900.8 L1122.5,897.0 L1124.5,893.3 L1126.5,889.7 L1128.5,886.3 L1130.5,882.9 L1132.5,879.8 L1134.5,876.9 L1136.5,874.1 L1138.5,871.6 L1140.5,869.3 L1142.5,867.3 L1144.5,865.6 L1146.5,864.1 L1148.5,863.0 L1150.5,862.1 L1152.5,861.5 L1154.5,861.3 L1156.5,861.4 L1158.5,861.8 L1160.5,862.5 L1162.5,863.5 L1164.5,864.8 L1166.5,866.4 L1168.5,868.3 L1170.5,870.4 L1172.5,872.8 L1174.5,875.5 L1176.5,878.3 L1178.5,881.4 L1180.5,884.6 L1182.5,888.0 L1184.5,891.5 L1186.5,895.1 L1188.5,898.9 L1190.5,902.7 L1192.5,906.7 L1194.5,910.6 L1196.5,914.6 L1198.5,918.6 L1200.5,922.7 L1202.5,926.7 L1204.5,930.7 L1206.5,934.6 L1208.5,938.5 L1210.5,942.4 L1212.5,946.1 L1214.5,949.8 L1216.5,953.4 L1218.5,956.9 L1220.5,960.3 L1222.5,963.6 L1224.5,966.8 L1226.5,969.8 L1228.5,972.8 L1230.5,975.6 L1232.5,978.3 L1234.5,980.9 L1236.5,983.3 L1238.5,985.6 L1240.5,987.8 L1242.5,989.9 L1244.5,991.9 L1246.5,993.7 L1248.5,995.5 L1250.5,997.1 L1252.5,998.6 L1254.5,1000.1 L1256.5,1001.4 L1258.5,1002.6 L1260.5,1003.8 L1262.5,1004.8 L1264.5,1005.8 L1266.5,1006.7 L1268.5,1007.6 L1270.5,1008.3 L1272.5,1009.1 L1274.5,1009.7 L1276.5,1010.3 L1278.5,1010.9 L1280.5,1011.4 L1282.5,1011.8 L1284.5,1012.3 L1286.5,1012.6 L1288.5,1013.0 L1290.5,1013.3 L1292.5,1013.6 L1294.5,1013.9 L1296.5,1014.1 L1298.5,1014.3 L1300.5,1014.5 L1302.5,1014.7 L1304.5,1014.9 L1306.5,1015.0 L1308.5,1015.2 L1310.5,1015.3 L1312.5,1015.4 L1314.5,1015.5 L1316.5,1015.6 L1318.5,1015.7 L1320.5,1015.8 L1322.5,1015.9" fill="none" stroke="#4a8ad8" stroke-width="1.6"/>
<path d="M776.5,1016.6 L778.5,1016.6 L780.5,1016.5 L782.5,1016.4 L784.5,1016.4 L786.5,1016.3 L788.5,1016.2 L790.5,1016.1 L792.5,1016.1 L794.5,1016.0 L796.5,1015.9 L798.5,1015.8 L800.5,1015.7 L802.5,1015.7 L804.5,1015.6 L806.5,1015.5 L808.5,1015.4 L810.5,1015.3 L812.5,1015.3 L814.5,1015.2 L816.5,1015.1 L818.5,1015.0 L820.5,1015.0 L822.5,1014.9 L824.5,1014.9 L826.5,1014.8 L828.5,1014.7 L830.5,1014.7 L832.5,1014.6 L834.5,1014.6 L836.5,1014.6 L838.5,1014.5 L840.5,1014.5 L842.5,1014.5 L844.5,1014.4 L846.5,1014.4 L848.5,1014.4 L850.5,1014.4 L852.5,1014.4 L854.5,1014.4 L856.5,1014.4 L858.5,1014.4 L860.5,1014.4 L862.5,1014.4 L864.5,1014.4 L866.5,1014.5 L868.5,1014.5 L870.5,1014.5 L872.5,1014.5 L874.5,1014.6 L876.5,1014.6 L878.5,1014.6 L880.5,1014.7 L882.5,1014.7 L884.5,1014.8 L886.5,1014.8 L888.5,1014.8 L890.5,1014.9 L892.5,1014.9 L894.5,1014.9 L896.5,1015.0 L898.5,1015.0 L900.5,1015.0 L902.5,1015.0 L904.5,1015.0 L906.5,1015.0 L908.5,1015.0 L910.5,1015.0 L912.5,1015.0 L914.5,1015.0 L916.5,1014.9 L918.5,1014.9 L920.5,1014.8 L922.5,1014.8 L924.5,1014.7 L926.5,1014.6 L928.5,1014.5 L930.5,1014.3 L932.5,1014.2 L934.5,1014.0 L936.5,1013.9 L938.5,1013.7 L940.5,1013.4 L942.5,1013.2 L944.5,1012.9 L946.5,1012.6 L948.5,1012.3 L950.5,1012.0 L952.5,1011.6 L954.5,1011.3 L956.5,1010.9 L958.5,1010.4 L960.5,1010.0 L962.5,1009.5 L964.5,1009.0 L966.5,1008.5 L968.5,1007.9 L970.5,1007.3 L972.5,1006.7 L974.5,1006.1 L976.5,1005.4 L978.5,1004.8 L980.5,1004.1 L982.5,1003.4 L984.5,1002.6 L986.5,1001.9 L988.5,1001.2 L990.5,1000.4 L992.5,999.6 L994.5,998.8 L996.5,998.1 L998.5,997.3 L1000.5,996.5 L1002.5,995.7 L1004.5,994.9 L1006.5,994.1 L1008.5,993.4 L1010.5,992.6 L1012.5,991.9 L1014.5,991.1 L1016.5,990.4 L1018.5,989.7 L1020.5,989.0 L1022.5,988.3 L1024.5,987.7 L1026.5,987.0 L1028.5,986.4 L1030.5,985.7 L1032.5,985.1 L1034.5,984.5 L1036.5,983.9 L1038.5,983.3 L1040.5,982.7 L1042.5,982.1 L1044.5,981.4 L1046.5,980.8 L1048.5,980.1 L1050.5,979.4 L1052.5,978.6 L1054.5,977.8 L1056.5,976.9 L1058.5,975.9 L1060.5,974.9 L1062.5,973.8 L1064.5,972.7 L1066.5,971.4 L1068.5,970.0 L1070.5,968.5 L1072.5,967.0 L1074.5,965.3 L1076.5,963.4 L1078.5,961.5 L1080.5,959.4 L1082.5,957.2 L1084.5,954.9 L1086.5,952.5 L1088.5,949.9 L1090.5,947.2 L1092.5,944.4 L1094.5,941.4 L1096.5,938.4 L1098.5,935.2 L1100.5,932.0 L1102.5,928.6 L1104.5,925.2 L1106.5,921.7 L1108.5,918.2 L1110.5,914.6 L1112.5,911.0 L1114.5,907.4 L1116.5,903.8 L1118.5,900.2 L1120.5,896.7 L1122.5,893.2 L1124.5,889.8 L1126.5,886.5 L1128.5,883.3 L1130.5,880.2 L1132.5,877.3 L1134.5,874.6 L1136.5,872.0 L1138.5,869.7 L1140.5,867.6 L1142.5,865.7 L1144.5,864.1 L1146.5,862.8 L1148.5,861.7 L1150.5,861.0 L1152.5,860.5 L1154.5,860.3 L1156.5,860.5 L1158.5,861.0 L1160.5,861.7 L1162.5,862.8 L1164.5,864.2 L1166.5,865.8 L1168.5,867.7 L1170.5,869.9 L1172.5,872.4 L1174.5,875.0 L1176.5,877.9 L1178.5,881.0 L1180.5,884.2 L1182.5,887.6 L1184.5,891.2 L1186.5,894.8 L1188.5,898.6 L1190.5,902.4 L1192.5,906.4 L1194.5,910.4 L1196.5,914.4 L1198.5,918.4 L1200.5,922.4 L1202.5,926.4 L1204.5,930.4 L1206.5,934.4 L1208.5,938.3 L1210.5,942.2 L1212.5,945.9 L1214.5,949.6 L1216.5,953.2 L1218.5,956.7 L1220.5,960.1 L1222.5,963.4 L1224.5,966.6 L1226.5,969.7 L1228.5,972.6 L1230.5,975.4 L1232.5,978.1 L1234.5,980.7 L1236.5,983.2 L1238.5,985.5 L1240.5,987.7 L1242.5,989.8 L1244.5,991.7 L1246.5,993.6 L1248.5,995.3 L1250.5,997.0 L1252.5,998.5 L1254.5,999.9 L1256.5,1001.3 L1258.5,1002.5 L1260.5,1003.6 L1262.5,1004.7 L1264.5,1005.7 L1266.5,1006.6 L1268.5,1007.5 L1270.5,1008.2 L1272.5,1008.9 L1274.5,1009.6 L1276.5,1010.2 L1278.5,1010.8 L1280.5,1011.3 L1282.5,1011.7 L1284.5,1012.2 L1286.5,1012.5 L1288.5,1012.9 L1290.5,1013.2 L1292.5,1013.5 L1294.5,1013.8 L1296.5,1014.0 L1298.5,1014.2 L1300.5,1014.4 L1302.5,1014.6 L1304.5,1014.8 L1306.5,1015.0 L1308.5,1015.1 L1310.5,1015.2 L1312.5,1015.3 L1314.5,1015.5 L1316.5,1015.6 L1318.5,1015.6 L1320.5,1015.7 L1322.5,1015.8" fill="none" stroke="#bcbcbc" stroke-width="3.8" stroke-linejoin="round"/>
<path d="M778.5,1018.2 L780.5,1018.2 L782.5,1018.2 L784.5,1018.1 L786.5,1018.1 L788.5,1018.1 L790.5,1018.0 L792.5,1018.0 L794.5,1018.0 L796.5,1017.9 L798.5,1017.9 L800.5,1017.8 L802.5,1017.8 L804.5,1017.8 L806.5,1017.7 L808.5,1017.7 L810.5,1017.7 L812.5,1017.6 L814.5,1017.6 L816.5,1017.6 L818.5,1017.5 L820.5,1017.5 L822.5,1017.5 L824.5,1017.5 L826.5,1017.4 L828.5,1017.4 L830.5,1017.4 L832.5,1017.4 L834.5,1017.4 L836.5,1017.3 L838.5,1017.3 L840.5,1017.3 L842.5,1017.3 L844.5,1017.3 L846.5,1017.3 L848.5,1017.3 L850.5,1017.3 L852.5,1017.3 L854.5,1017.3 L856.5,1017.3 L858.5,1017.3 L860.5,1017.3 L862.5,1017.4 L864.5,1017.4 L866.5,1017.4 L868.5,1017.4 L870.5,1017.4 L872.5,1017.5 L874.5,1017.5 L876.5,1017.5 L878.5,1017.6 L880.5,1017.6 L882.5,1017.6 L884.5,1017.7 L886.5,1017.7 L888.5,1017.7 L890.5,1017.8 L892.5,1017.8 L894.5,1017.8 L896.5,1017.9 L898.5,1017.9 L900.5,1017.9 L902.5,1018.0 L904.5,1018.0 L906.5,1018.0 L908.5,1018.1 L910.5,1018.1 L912.5,1018.1 L914.5,1018.2" fill="none" stroke="#f57f10" stroke-width="2.2"/>
<text x="792.0" y="675.5" font-size="35.5" text-anchor="start" fill="#000" letter-spacing="0.4">5% TPPCl</text>
<text x="792.5" y="897.4" font-size="35.5" text-anchor="start" fill="#000" >Pristine</text>
<text x="1239.0" y="643.8" font-size="34" text-anchor="start" fill="#000" letter-spacing="2">C 1<tspan font-style="italic">s</tspan></text>
<text x="1206.5" y="695.0" font-size="34" text-anchor="start" fill="#000" letter-spacing="1.6">C-C</text>
<text x="1211.0" y="890.0" font-size="34" text-anchor="start" fill="#000" letter-spacing="1.6">C-C</text>
<text x="1000.5" y="749.4" font-size="34" text-anchor="start" fill="#000" letter-spacing="1.6">C-N</text>
<text x="1008.0" y="946.7" font-size="34" text-anchor="start" fill="#000" letter-spacing="1.6">C-N</text>
<text x="828.0" y="769.8" font-size="34" text-anchor="start" fill="#000" letter-spacing="1.6">C=N</text>
<text x="832.0" y="978.7" font-size="34" text-anchor="start" fill="#000" letter-spacing="1.6">C=N</text>
<line x1="1199.0" y1="681.5" x2="1173.1" y2="685.5" stroke="#000" stroke-width="2.4"/>
<polygon points="1159.3,687.7 1173.5,681.1 1174.8,689.6" fill="#000"/>
<line x1="1200.4" y1="881.0" x2="1169.0" y2="882.5" stroke="#000" stroke-width="2.4"/>
<polygon points="1155.0,883.2 1169.8,878.2 1170.2,886.8" fill="#000"/>
<line x1="1033.3" y1="755.7" x2="1033.3" y2="771.4" stroke="#000" stroke-width="2.4"/>
<polygon points="1033.3,785.4 1029.0,770.4 1037.6,770.4" fill="#000"/>
<line x1="1038.0" y1="956.0" x2="1038.0" y2="970.3" stroke="#000" stroke-width="2.4"/>
<polygon points="1038.0,984.3 1033.7,969.3 1042.3,969.3" fill="#000"/>
<line x1="856.9" y1="774.0" x2="856.9" y2="788.4" stroke="#000" stroke-width="2.4"/>
<polygon points="856.9,802.4 852.6,787.4 861.2,787.4" fill="#000"/>
<line x1="864.8" y1="983.0" x2="863.6" y2="998.7" stroke="#000" stroke-width="2.4"/>
<polygon points="862.5,1012.7 859.4,997.4 867.9,998.1" fill="#000"/>
<rect x="774.5" y="604.5" width="551.0" height="443.0" fill="none" stroke="#000" stroke-width="3"/>
<line x1="774.7" y1="1047.5" x2="774.7" y2="1056.0" stroke="#000" stroke-width="3"/>
<line x1="866.4" y1="1047.5" x2="866.4" y2="1056.0" stroke="#000" stroke-width="3"/>
<line x1="958.1" y1="1047.5" x2="958.1" y2="1056.0" stroke="#000" stroke-width="3"/>
<line x1="1049.8" y1="1047.5" x2="1049.8" y2="1056.0" stroke="#000" stroke-width="3"/>
<line x1="1141.5" y1="1047.5" x2="1141.5" y2="1056.0" stroke="#000" stroke-width="3"/>
<line x1="1233.2" y1="1047.5" x2="1233.2" y2="1056.0" stroke="#000" stroke-width="3"/>
<line x1="1324.9" y1="1047.5" x2="1324.9" y2="1056.0" stroke="#000" stroke-width="3"/>
<text x="774.7" y="1089.5" font-size="35" text-anchor="middle" fill="#000" >289</text>
<text x="866.4" y="1089.5" font-size="35" text-anchor="middle" fill="#000" >288</text>
<text x="958.1" y="1089.5" font-size="35" text-anchor="middle" fill="#000" >287</text>
<text x="1049.8" y="1089.5" font-size="35" text-anchor="middle" fill="#000" >286</text>
<text x="1141.5" y="1089.5" font-size="35" text-anchor="middle" fill="#000" >285</text>
<text x="1233.2" y="1089.5" font-size="35" text-anchor="middle" fill="#000" >284</text>
<text x="1324.9" y="1089.5" font-size="35" text-anchor="middle" fill="#000" >283</text>
<text x="1050.3" y="1133.2" font-size="35.9" text-anchor="middle" fill="#000" >Binding energy ( eV )</text>
<text transform="translate(752.8,824.9) rotate(-90)" font-size="35.9" text-anchor="middle">Intensity (a.u.)</text>
<text x="700.0" y="616.0" font-size="48" text-anchor="start" fill="#000" letter-spacing="1.3">(e)</text>
<defs>
<linearGradient id="gGray" x1="0" y1="0" x2="1" y2="0">
<stop offset="0" stop-color="#d2d2d2"/><stop offset="0.15" stop-color="#dadada"/><stop offset="0.3" stop-color="#ececec"/><stop offset="0.45" stop-color="#f7f7f7"/><stop offset="0.58" stop-color="#f5f5f5"/><stop offset="0.72" stop-color="#e6e6e6"/><stop offset="0.88" stop-color="#d9d9d9"/><stop offset="1" stop-color="#d0d0d0"/></linearGradient>
<linearGradient id="gBlue" x1="0" y1="0" x2="1" y2="0">
<stop offset="0" stop-color="#55b5fb"/><stop offset="0.15" stop-color="#70c2fb"/><stop offset="0.33" stop-color="#9fd6fb"/><stop offset="0.5" stop-color="#a8dcfc"/><stop offset="0.68" stop-color="#a3d8fb"/><stop offset="0.85" stop-color="#7cc6fb"/><stop offset="1" stop-color="#52b3fb"/></linearGradient>
</defs>
<rect x="1483" y="719.2" width="100.7" height="331.3" fill="url(#gGray)"/>
<text x="1528.3" y="705.7" font-size="35.5" text-anchor="middle" fill="#000" >1.85</text>
<rect x="1610.2" y="820.3" width="101.4" height="230.2" fill="url(#gBlue)"/>
<text x="1648.9" y="807.2" font-size="35.5" text-anchor="middle" fill="#000" >1.29</text>
<rect x="1775.4" y="939.2" width="101.4" height="111.3" fill="url(#gGray)"/>
<text x="1833.2" y="926.6" font-size="35.5" text-anchor="middle" fill="#000" >0.62</text>
<rect x="1902.7" y="945" width="101.5" height="105.5" fill="url(#gBlue)"/>
<text x="1952.0" y="934.3" font-size="35.5" text-anchor="middle" fill="#000" >0.59</text>
<rect x="1754" y="642" width="57" height="27.8" fill="url(#gGray)"/>
<rect x="1754" y="694.3" width="57" height="27.8" fill="url(#gBlue)"/>
<text x="1827.5" y="665.2" font-size="35.5" text-anchor="start" fill="#000" >Pristine</text>
<text x="1830.5" y="717.5" font-size="35.5" text-anchor="start" fill="#000" letter-spacing="0.8">5% TPPCl</text>
<rect x="1470" y="602.5" width="547.5" height="448.0" fill="none" stroke="#000" stroke-width="3"/>
<text x="1592.0" y="1097.5" font-size="35.5" text-anchor="middle" fill="#000" >(C-N)/(C=N)</text>
<text x="1907.5" y="1096.0" font-size="35.5" text-anchor="middle" fill="#000" >N/Cs</text>
<text transform="translate(1445.3,826.6) rotate(-90)" font-size="35.5" text-anchor="middle">Atomic ratio</text>
<text x="1397.0" y="616.0" font-size="48" text-anchor="start" fill="#000" letter-spacing="1.3">(f)</text>
</svg>
</body></html>
